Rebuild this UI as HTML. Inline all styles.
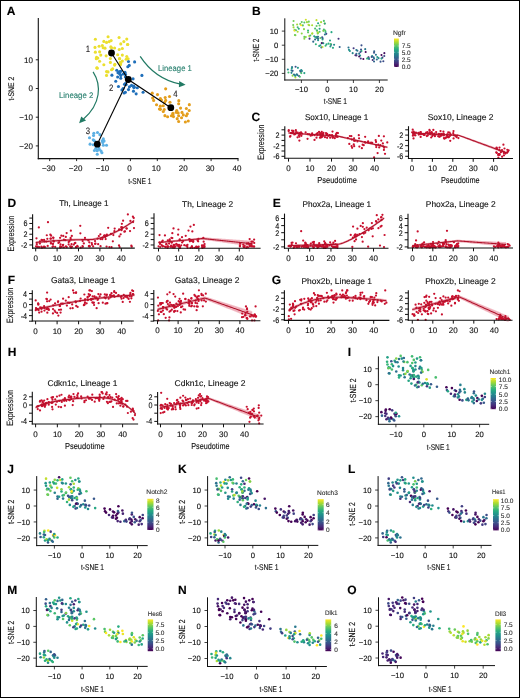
<!DOCTYPE html>
<html><head><meta charset="utf-8"><style>
html,body{margin:0;padding:0;background:#fff;}
body{width:520px;height:698px;overflow:hidden;position:relative;font-family:"Liberation Sans",sans-serif;}
svg{display:block;position:absolute;left:0;top:0;will-change:transform;text-rendering:geometricPrecision;}
.bd{position:absolute;background:#000;}
</style></head><body>
<svg width="520" height="698" viewBox="0 0 520 698" font-family="Liberation Sans, sans-serif">
<rect x="0" y="0" width="520" height="698" fill="#fff"/>
<text x="6.80" y="15.20" font-size="12" text-anchor="start" fill="#000" stroke="#000" stroke-width="0.12" font-weight="bold">A</text>
<circle cx="95.38" cy="39.31" r="1.55" fill="#ebdf2e"/>
<circle cx="108.08" cy="36.77" r="1.55" fill="#ebdf2e"/>
<circle cx="119.08" cy="37.54" r="1.55" fill="#ebdf2e"/>
<circle cx="126.77" cy="39.08" r="1.55" fill="#ebdf2e"/>
<circle cx="103.85" cy="41.38" r="1.55" fill="#ebdf2e"/>
<circle cx="106.54" cy="42.38" r="1.55" fill="#ebdf2e"/>
<circle cx="109.23" cy="41.62" r="1.55" fill="#ebdf2e"/>
<circle cx="111.15" cy="40.62" r="1.55" fill="#ebdf2e"/>
<circle cx="123.85" cy="41.62" r="1.55" fill="#ebdf2e"/>
<circle cx="120.77" cy="43.92" r="1.55" fill="#ebdf2e"/>
<circle cx="127.54" cy="44.46" r="1.55" fill="#ebdf2e"/>
<circle cx="95.00" cy="47.38" r="1.55" fill="#ebdf2e"/>
<circle cx="99.08" cy="46.23" r="1.55" fill="#ebdf2e"/>
<circle cx="102.31" cy="45.46" r="1.55" fill="#ebdf2e"/>
<circle cx="105.00" cy="48.15" r="1.55" fill="#ebdf2e"/>
<circle cx="111.54" cy="47.77" r="1.55" fill="#ebdf2e"/>
<circle cx="114.62" cy="48.00" r="1.55" fill="#ebdf2e"/>
<circle cx="119.23" cy="49.54" r="1.55" fill="#ebdf2e"/>
<circle cx="122.31" cy="48.54" r="1.55" fill="#ebdf2e"/>
<circle cx="95.38" cy="52.15" r="1.55" fill="#ebdf2e"/>
<circle cx="99.62" cy="51.85" r="1.55" fill="#ebdf2e"/>
<circle cx="100.77" cy="55.08" r="1.55" fill="#ebdf2e"/>
<circle cx="106.15" cy="55.85" r="1.55" fill="#ebdf2e"/>
<circle cx="117.69" cy="54.69" r="1.55" fill="#ebdf2e"/>
<circle cx="122.31" cy="55.08" r="1.55" fill="#ebdf2e"/>
<circle cx="126.77" cy="56.46" r="1.55" fill="#ebdf2e"/>
<circle cx="96.54" cy="57.38" r="1.55" fill="#ebdf2e"/>
<circle cx="110.38" cy="58.54" r="1.55" fill="#ebdf2e"/>
<circle cx="119.62" cy="58.54" r="1.55" fill="#ebdf2e"/>
<circle cx="126.15" cy="59.31" r="1.55" fill="#ebdf2e"/>
<circle cx="99.62" cy="61.23" r="1.55" fill="#ebdf2e"/>
<circle cx="110.38" cy="62.38" r="1.55" fill="#ebdf2e"/>
<circle cx="122.31" cy="61.08" r="1.55" fill="#ebdf2e"/>
<circle cx="103.85" cy="64.69" r="1.55" fill="#ebdf2e"/>
<circle cx="114.62" cy="65.08" r="1.55" fill="#ebdf2e"/>
<circle cx="120.38" cy="64.69" r="1.55" fill="#ebdf2e"/>
<circle cx="97.31" cy="68.15" r="1.55" fill="#ebdf2e"/>
<circle cx="111.54" cy="69.69" r="1.55" fill="#ebdf2e"/>
<circle cx="106.54" cy="71.62" r="1.55" fill="#ebdf2e"/>
<circle cx="112.69" cy="68.85" r="1.55" fill="#ebdf2e"/>
<circle cx="106.54" cy="75.38" r="1.55" fill="#ebdf2e"/>
<circle cx="116.77" cy="70.23" r="1.55" fill="#1f6fba"/>
<circle cx="120.00" cy="71.54" r="1.55" fill="#1f6fba"/>
<circle cx="125.00" cy="72.31" r="1.55" fill="#1f6fba"/>
<circle cx="119.62" cy="73.85" r="1.55" fill="#1f6fba"/>
<circle cx="120.77" cy="75.38" r="1.55" fill="#1f6fba"/>
<circle cx="111.92" cy="75.15" r="1.55" fill="#1f6fba"/>
<circle cx="120.77" cy="78.23" r="1.55" fill="#1f6fba"/>
<circle cx="125.38" cy="76.92" r="1.55" fill="#1f6fba"/>
<circle cx="115.77" cy="81.31" r="1.55" fill="#1f6fba"/>
<circle cx="125.38" cy="83.46" r="1.55" fill="#1f6fba"/>
<circle cx="118.46" cy="86.54" r="1.55" fill="#1f6fba"/>
<circle cx="123.08" cy="88.46" r="1.55" fill="#1f6fba"/>
<circle cx="121.92" cy="90.00" r="1.55" fill="#1f6fba"/>
<circle cx="128.46" cy="89.62" r="1.55" fill="#1f6fba"/>
<circle cx="129.23" cy="65.38" r="1.55" fill="#1f6fba"/>
<circle cx="128.46" cy="61.54" r="1.55" fill="#1f6fba"/>
<circle cx="134.62" cy="61.92" r="1.55" fill="#1f6fba"/>
<circle cx="141.92" cy="75.38" r="1.55" fill="#1f6fba"/>
<circle cx="133.08" cy="78.85" r="1.55" fill="#1f6fba"/>
<circle cx="126.15" cy="84.62" r="1.55" fill="#1f6fba"/>
<circle cx="131.54" cy="85.38" r="1.55" fill="#1f6fba"/>
<circle cx="134.23" cy="87.31" r="1.55" fill="#1f6fba"/>
<circle cx="137.31" cy="87.69" r="1.55" fill="#1f6fba"/>
<circle cx="133.46" cy="91.15" r="1.55" fill="#1f6fba"/>
<circle cx="143.08" cy="92.31" r="1.55" fill="#1f6fba"/>
<circle cx="136.15" cy="93.85" r="1.55" fill="#1f6fba"/>
<circle cx="165.67" cy="88.85" r="1.55" fill="#e49e1c"/>
<circle cx="152.21" cy="93.17" r="1.55" fill="#e49e1c"/>
<circle cx="157.50" cy="94.62" r="1.55" fill="#e49e1c"/>
<circle cx="152.69" cy="97.98" r="1.55" fill="#e49e1c"/>
<circle cx="160.38" cy="98.46" r="1.55" fill="#e49e1c"/>
<circle cx="165.19" cy="97.50" r="1.55" fill="#e49e1c"/>
<circle cx="169.52" cy="96.54" r="1.55" fill="#e49e1c"/>
<circle cx="153.65" cy="100.38" r="1.55" fill="#e49e1c"/>
<circle cx="165.67" cy="100.38" r="1.55" fill="#e49e1c"/>
<circle cx="170.00" cy="102.31" r="1.55" fill="#e49e1c"/>
<circle cx="156.54" cy="104.71" r="1.55" fill="#e49e1c"/>
<circle cx="160.38" cy="106.15" r="1.55" fill="#e49e1c"/>
<circle cx="178.65" cy="103.75" r="1.55" fill="#e49e1c"/>
<circle cx="159.42" cy="109.04" r="1.55" fill="#e49e1c"/>
<circle cx="164.23" cy="109.52" r="1.55" fill="#e49e1c"/>
<circle cx="163.27" cy="111.44" r="1.55" fill="#e49e1c"/>
<circle cx="180.58" cy="108.08" r="1.55" fill="#e49e1c"/>
<circle cx="176.73" cy="110.48" r="1.55" fill="#e49e1c"/>
<circle cx="186.35" cy="108.56" r="1.55" fill="#e49e1c"/>
<circle cx="189.23" cy="110.48" r="1.55" fill="#e49e1c"/>
<circle cx="172.88" cy="113.37" r="1.55" fill="#e49e1c"/>
<circle cx="178.17" cy="112.88" r="1.55" fill="#e49e1c"/>
<circle cx="182.02" cy="112.40" r="1.55" fill="#e49e1c"/>
<circle cx="171.44" cy="115.77" r="1.55" fill="#e49e1c"/>
<circle cx="167.60" cy="116.73" r="1.55" fill="#e49e1c"/>
<circle cx="187.31" cy="113.85" r="1.55" fill="#e49e1c"/>
<circle cx="178.65" cy="115.77" r="1.55" fill="#e49e1c"/>
<circle cx="186.35" cy="115.77" r="1.55" fill="#e49e1c"/>
<circle cx="181.54" cy="117.69" r="1.55" fill="#e49e1c"/>
<circle cx="177.21" cy="118.65" r="1.55" fill="#e49e1c"/>
<circle cx="178.65" cy="121.54" r="1.55" fill="#e49e1c"/>
<circle cx="185.38" cy="122.02" r="1.55" fill="#e49e1c"/>
<circle cx="188.27" cy="121.06" r="1.55" fill="#e49e1c"/>
<circle cx="93.83" cy="133.19" r="1.55" fill="#5cb0e4"/>
<circle cx="93.54" cy="135.50" r="1.55" fill="#5cb0e4"/>
<circle cx="99.89" cy="134.64" r="1.55" fill="#5cb0e4"/>
<circle cx="89.50" cy="137.81" r="1.55" fill="#5cb0e4"/>
<circle cx="93.25" cy="139.83" r="1.55" fill="#5cb0e4"/>
<circle cx="94.41" cy="140.69" r="1.55" fill="#5cb0e4"/>
<circle cx="102.20" cy="140.69" r="1.55" fill="#5cb0e4"/>
<circle cx="90.08" cy="144.16" r="1.55" fill="#5cb0e4"/>
<circle cx="93.25" cy="144.73" r="1.55" fill="#5cb0e4"/>
<circle cx="102.77" cy="142.43" r="1.55" fill="#5cb0e4"/>
<circle cx="103.35" cy="145.31" r="1.55" fill="#5cb0e4"/>
<circle cx="106.52" cy="145.31" r="1.55" fill="#5cb0e4"/>
<circle cx="94.41" cy="150.50" r="1.55" fill="#5cb0e4"/>
<circle cx="97.00" cy="149.93" r="1.55" fill="#5cb0e4"/>
<circle cx="99.31" cy="149.35" r="1.55" fill="#5cb0e4"/>
<circle cx="101.04" cy="151.08" r="1.55" fill="#5cb0e4"/>
<circle cx="101.91" cy="152.81" r="1.55" fill="#5cb0e4"/>
<circle cx="97.29" cy="154.26" r="1.55" fill="#5cb0e4"/>
<circle cx="95.85" cy="148.20" r="1.55" fill="#5cb0e4"/>
<circle cx="98.73" cy="147.62" r="1.55" fill="#5cb0e4"/>
<circle cx="163.25" cy="105.72" r="1.55" fill="#e49e1c"/>
<circle cx="97.80" cy="58.10" r="1.55" fill="#ebdf2e"/>
<circle cx="104.06" cy="140.93" r="1.55" fill="#5cb0e4"/>
<circle cx="118.67" cy="72.05" r="1.55" fill="#1f6fba"/>
<circle cx="173.49" cy="116.61" r="1.55" fill="#e49e1c"/>
<circle cx="172.91" cy="114.44" r="1.55" fill="#e49e1c"/>
<circle cx="103.35" cy="138.92" r="1.55" fill="#5cb0e4"/>
<circle cx="110.83" cy="46.88" r="1.55" fill="#ebdf2e"/>
<circle cx="127.82" cy="66.73" r="1.55" fill="#1f6fba"/>
<circle cx="108.04" cy="71.88" r="1.55" fill="#ebdf2e"/>
<circle cx="124.52" cy="84.34" r="1.55" fill="#1f6fba"/>
<circle cx="97.51" cy="132.50" r="1.55" fill="#5cb0e4"/>
<circle cx="114.84" cy="64.18" r="1.55" fill="#ebdf2e"/>
<circle cx="133.91" cy="87.57" r="1.55" fill="#1f6fba"/>
<circle cx="129.44" cy="86.87" r="1.55" fill="#1f6fba"/>
<circle cx="161.47" cy="99.94" r="1.55" fill="#e49e1c"/>
<circle cx="123.13" cy="73.98" r="1.55" fill="#1f6fba"/>
<circle cx="117.99" cy="72.72" r="1.55" fill="#1f6fba"/>
<circle cx="183.31" cy="114.90" r="1.55" fill="#e49e1c"/>
<circle cx="164.59" cy="102.39" r="1.55" fill="#e49e1c"/>
<circle cx="119.42" cy="58.73" r="1.55" fill="#ebdf2e"/>
<circle cx="125.46" cy="74.22" r="1.55" fill="#1f6fba"/>
<circle cx="160.43" cy="109.35" r="1.55" fill="#e49e1c"/>
<circle cx="189.32" cy="104.63" r="1.55" fill="#e49e1c"/>
<circle cx="164.92" cy="115.63" r="1.55" fill="#e49e1c"/>
<circle cx="96.77" cy="67.86" r="1.55" fill="#ebdf2e"/>
<circle cx="178.81" cy="100.67" r="1.55" fill="#e49e1c"/>
<circle cx="128.11" cy="58.70" r="1.55" fill="#ebdf2e"/>
<circle cx="127.73" cy="44.51" r="1.55" fill="#ebdf2e"/>
<circle cx="176.24" cy="112.36" r="1.55" fill="#e49e1c"/>
<circle cx="97.24" cy="150.74" r="1.55" fill="#5cb0e4"/>
<circle cx="133.78" cy="86.17" r="1.55" fill="#1f6fba"/>
<circle cx="120.71" cy="63.64" r="1.55" fill="#ebdf2e"/>
<circle cx="120.79" cy="71.21" r="1.55" fill="#1f6fba"/>
<circle cx="124.12" cy="92.98" r="1.55" fill="#1f6fba"/>
<circle cx="103.16" cy="47.82" r="1.55" fill="#ebdf2e"/>
<circle cx="120.28" cy="62.20" r="1.55" fill="#ebdf2e"/>
<circle cx="96.30" cy="58.82" r="1.55" fill="#ebdf2e"/>
<circle cx="125.39" cy="92.20" r="1.55" fill="#1f6fba"/>
<circle cx="117.66" cy="77.04" r="1.55" fill="#1f6fba"/>
<polyline points="111.5,53.0 128.3,79.5 170.8,107.7" fill="none" stroke="#000" stroke-width="1.1"/>
<line x1="128.30" y1="79.50" x2="97.30" y2="144.20" stroke="#000" stroke-width="1.1"/>
<circle cx="111.5" cy="53.0" r="3.4" fill="#000"/>
<circle cx="128.3" cy="79.5" r="3.4" fill="#000"/>
<circle cx="97.3" cy="144.2" r="3.4" fill="#000"/>
<circle cx="170.8" cy="107.7" r="3.4" fill="#000"/>
<text x="88.00" y="51.70" font-size="9.2" text-anchor="middle" fill="#231f20" stroke="#231f20" stroke-width="0.12" textLength="4.35" lengthAdjust="spacingAndGlyphs">1</text>
<text x="111.20" y="90.60" font-size="9.2" text-anchor="middle" fill="#231f20" stroke="#231f20" stroke-width="0.12" textLength="4.35" lengthAdjust="spacingAndGlyphs">2</text>
<text x="88.00" y="134.10" font-size="9.2" text-anchor="middle" fill="#231f20" stroke="#231f20" stroke-width="0.12" textLength="4.35" lengthAdjust="spacingAndGlyphs">3</text>
<text x="175.40" y="97.10" font-size="9.2" text-anchor="middle" fill="#231f20" stroke="#231f20" stroke-width="0.12" textLength="4.35" lengthAdjust="spacingAndGlyphs">4</text>
<path d="M140.2,56.3 Q155,79 180.5,84.1" fill="none" stroke="#227a64" stroke-width="1.2"/>
<polygon points="185.6,84.8 179.2,80.9 178.9,87.2" fill="#227a64"/>
<path d="M93.1,71.9 C101.5,85 101,104 83.5,119" fill="none" stroke="#227a64" stroke-width="1.2"/>
<polygon points="79.1,123.2 81.2,116.6 86.1,120.6" fill="#227a64"/>
<text x="174.95" y="71.00" font-size="8.2" text-anchor="middle" fill="#2a8170" stroke="#2a8170" stroke-width="0.12" textLength="33.70" lengthAdjust="spacingAndGlyphs">Lineage 1</text>
<text x="76.15" y="97.60" font-size="8.2" text-anchor="middle" fill="#2a8170" stroke="#2a8170" stroke-width="0.12" textLength="34.30" lengthAdjust="spacingAndGlyphs">Lineage 2</text>
<line x1="38.30" y1="18.00" x2="38.30" y2="159.15" stroke="#111" stroke-width="1.1"/>
<line x1="37.75" y1="158.60" x2="238.50" y2="158.60" stroke="#111" stroke-width="1.1"/>
<line x1="35.80" y1="59.80" x2="38.30" y2="59.80" stroke="#111" stroke-width="0.9"/>
<text x="32.90" y="62.68" font-size="8.0" text-anchor="end" fill="#111" stroke="#111" stroke-width="0.12">10</text>
<line x1="35.80" y1="88.50" x2="38.30" y2="88.50" stroke="#111" stroke-width="0.9"/>
<text x="32.90" y="91.38" font-size="8.0" text-anchor="end" fill="#111" stroke="#111" stroke-width="0.12">0</text>
<line x1="35.80" y1="117.20" x2="38.30" y2="117.20" stroke="#111" stroke-width="0.9"/>
<text x="32.90" y="120.08" font-size="8.0" text-anchor="end" fill="#111" stroke="#111" stroke-width="0.12">−10</text>
<line x1="35.80" y1="145.90" x2="38.30" y2="145.90" stroke="#111" stroke-width="0.9"/>
<text x="32.90" y="148.78" font-size="8.0" text-anchor="end" fill="#111" stroke="#111" stroke-width="0.12">−20</text>
<line x1="49.70" y1="158.60" x2="49.70" y2="161.10" stroke="#111" stroke-width="0.9"/>
<text x="48.70" y="171.00" font-size="8.0" text-anchor="middle" fill="#111" stroke="#111" stroke-width="0.12">−30</text>
<line x1="76.60" y1="158.60" x2="76.60" y2="161.10" stroke="#111" stroke-width="0.9"/>
<text x="75.60" y="171.00" font-size="8.0" text-anchor="middle" fill="#111" stroke="#111" stroke-width="0.12">−20</text>
<line x1="103.50" y1="158.60" x2="103.50" y2="161.10" stroke="#111" stroke-width="0.9"/>
<text x="102.50" y="171.00" font-size="8.0" text-anchor="middle" fill="#111" stroke="#111" stroke-width="0.12">−10</text>
<line x1="130.40" y1="158.60" x2="130.40" y2="161.10" stroke="#111" stroke-width="0.9"/>
<text x="129.40" y="171.00" font-size="8.0" text-anchor="middle" fill="#111" stroke="#111" stroke-width="0.12">0</text>
<line x1="157.30" y1="158.60" x2="157.30" y2="161.10" stroke="#111" stroke-width="0.9"/>
<text x="156.30" y="171.00" font-size="8.0" text-anchor="middle" fill="#111" stroke="#111" stroke-width="0.12">10</text>
<line x1="184.20" y1="158.60" x2="184.20" y2="161.10" stroke="#111" stroke-width="0.9"/>
<text x="183.20" y="171.00" font-size="8.0" text-anchor="middle" fill="#111" stroke="#111" stroke-width="0.12">20</text>
<line x1="211.10" y1="158.60" x2="211.10" y2="161.10" stroke="#111" stroke-width="0.9"/>
<text x="210.10" y="171.00" font-size="8.0" text-anchor="middle" fill="#111" stroke="#111" stroke-width="0.12">30</text>
<line x1="238.00" y1="158.60" x2="238.00" y2="161.10" stroke="#111" stroke-width="0.9"/>
<text x="237.00" y="171.00" font-size="8.0" text-anchor="middle" fill="#111" stroke="#111" stroke-width="0.12">40</text>
<text x="139.85" y="183.60" font-size="8.2" text-anchor="middle" fill="#111" stroke="#111" stroke-width="0.12" textLength="23.30" lengthAdjust="spacingAndGlyphs">t-SNE 1</text>
<text x="13.90" y="88.65" font-size="8.2" text-anchor="middle" fill="#111" stroke="#111" stroke-width="0.12" textLength="23.90" lengthAdjust="spacingAndGlyphs" transform="rotate(-90 13.90 88.65)">t-SNE 2</text>
<text x="251.90" y="15.00" font-size="12" text-anchor="start" fill="#000" stroke="#000" stroke-width="0.12" font-weight="bold">B</text>
<circle cx="293.56" cy="21.03" r="1.05" fill="#74ce54"/>
<circle cx="305.82" cy="19.79" r="1.05" fill="#cfe12c"/>
<circle cx="316.46" cy="20.16" r="1.05" fill="#c5e02e"/>
<circle cx="323.89" cy="20.92" r="1.05" fill="#53c468"/>
<circle cx="301.73" cy="22.05" r="1.05" fill="#5dc862"/>
<circle cx="304.34" cy="22.54" r="1.05" fill="#52c368"/>
<circle cx="306.94" cy="22.17" r="1.05" fill="#98d73d"/>
<circle cx="308.80" cy="21.67" r="1.05" fill="#6ecd58"/>
<circle cx="321.07" cy="22.17" r="1.05" fill="#a4da36"/>
<circle cx="318.09" cy="23.30" r="1.05" fill="#25a485"/>
<circle cx="324.63" cy="23.56" r="1.05" fill="#dee32a"/>
<circle cx="293.18" cy="25.00" r="1.05" fill="#6bcc5a"/>
<circle cx="297.12" cy="24.43" r="1.05" fill="#9fd939"/>
<circle cx="300.25" cy="24.06" r="1.05" fill="#68cb5b"/>
<circle cx="302.85" cy="25.38" r="1.05" fill="#59c765"/>
<circle cx="309.17" cy="25.19" r="1.05" fill="#91d542"/>
<circle cx="312.14" cy="25.30" r="1.05" fill="#a9dc33"/>
<circle cx="316.60" cy="26.06" r="1.05" fill="#64ca5e"/>
<circle cx="319.58" cy="25.57" r="1.05" fill="#67cb5c"/>
<circle cx="293.56" cy="27.34" r="1.05" fill="#a0d939"/>
<circle cx="297.65" cy="27.19" r="1.05" fill="#43bb71"/>
<circle cx="298.76" cy="28.78" r="1.05" fill="#27ac81"/>
<circle cx="303.97" cy="29.16" r="1.05" fill="#8cd445"/>
<circle cx="315.12" cy="28.59" r="1.05" fill="#4cc06c"/>
<circle cx="319.58" cy="28.78" r="1.05" fill="#25a286"/>
<circle cx="323.89" cy="29.46" r="1.05" fill="#45bc70"/>
<circle cx="294.67" cy="29.91" r="1.05" fill="#55c567"/>
<circle cx="308.05" cy="30.48" r="1.05" fill="#34b47a"/>
<circle cx="316.98" cy="30.48" r="1.05" fill="#27ad81"/>
<circle cx="323.30" cy="30.86" r="1.05" fill="#74ce54"/>
<circle cx="297.65" cy="31.80" r="1.05" fill="#aedd31"/>
<circle cx="308.05" cy="32.37" r="1.05" fill="#62c95f"/>
<circle cx="319.58" cy="31.73" r="1.05" fill="#49be6e"/>
<circle cx="301.73" cy="33.50" r="1.05" fill="#8bd445"/>
<circle cx="312.14" cy="33.69" r="1.05" fill="#a2da37"/>
<circle cx="317.72" cy="33.50" r="1.05" fill="#5dc862"/>
<circle cx="295.41" cy="35.20" r="1.05" fill="#96d73f"/>
<circle cx="309.17" cy="35.96" r="1.05" fill="#b8de30"/>
<circle cx="304.34" cy="36.90" r="1.05" fill="#63ca5e"/>
<circle cx="310.28" cy="35.54" r="1.05" fill="#45bc70"/>
<circle cx="304.34" cy="38.76" r="1.05" fill="#89d347"/>
<circle cx="314.23" cy="36.22" r="1.05" fill="#239989"/>
<circle cx="317.35" cy="36.87" r="1.05" fill="#49be6e"/>
<circle cx="322.18" cy="37.24" r="1.05" fill="#3c4e89"/>
<circle cx="316.98" cy="38.00" r="1.05" fill="#2e6d8e"/>
<circle cx="318.09" cy="38.76" r="1.05" fill="#32648d"/>
<circle cx="309.54" cy="38.64" r="1.05" fill="#45337d"/>
<circle cx="318.09" cy="40.15" r="1.05" fill="#22938c"/>
<circle cx="322.55" cy="39.51" r="1.05" fill="#25a684"/>
<circle cx="313.26" cy="41.67" r="1.05" fill="#30698d"/>
<circle cx="322.55" cy="42.72" r="1.05" fill="#63ca5e"/>
<circle cx="315.86" cy="44.24" r="1.05" fill="#32b37b"/>
<circle cx="320.32" cy="45.18" r="1.05" fill="#26aa82"/>
<circle cx="319.21" cy="45.94" r="1.05" fill="#24a086"/>
<circle cx="325.53" cy="45.75" r="1.05" fill="#3db874"/>
<circle cx="326.27" cy="33.84" r="1.05" fill="#3d4b88"/>
<circle cx="325.53" cy="31.95" r="1.05" fill="#26aa82"/>
<circle cx="331.47" cy="32.14" r="1.05" fill="#26a983"/>
<circle cx="338.54" cy="38.76" r="1.05" fill="#45327d"/>
<circle cx="329.99" cy="40.46" r="1.05" fill="#249e87"/>
<circle cx="323.30" cy="43.29" r="1.05" fill="#26818d"/>
<circle cx="328.50" cy="43.67" r="1.05" fill="#2fb17d"/>
<circle cx="331.10" cy="44.61" r="1.05" fill="#29788e"/>
<circle cx="334.08" cy="44.80" r="1.05" fill="#228d8d"/>
<circle cx="330.36" cy="46.50" r="1.05" fill="#249d87"/>
<circle cx="339.65" cy="47.07" r="1.05" fill="#33638d"/>
<circle cx="332.96" cy="47.83" r="1.05" fill="#26a983"/>
<circle cx="361.49" cy="45.37" r="1.05" fill="#3b528b"/>
<circle cx="348.48" cy="47.50" r="1.05" fill="#2c708e"/>
<circle cx="353.59" cy="48.20" r="1.05" fill="#423a80"/>
<circle cx="348.95" cy="49.86" r="1.05" fill="#228d8d"/>
<circle cx="356.38" cy="50.09" r="1.05" fill="#2a768e"/>
<circle cx="361.03" cy="49.62" r="1.05" fill="#3c4e8a"/>
<circle cx="365.21" cy="49.15" r="1.05" fill="#2a778e"/>
<circle cx="349.88" cy="51.04" r="1.05" fill="#22958b"/>
<circle cx="361.49" cy="51.04" r="1.05" fill="#27ad81"/>
<circle cx="365.68" cy="51.98" r="1.05" fill="#440154"/>
<circle cx="352.66" cy="53.16" r="1.05" fill="#26838d"/>
<circle cx="356.38" cy="53.87" r="1.05" fill="#2d6f8e"/>
<circle cx="374.04" cy="52.69" r="1.05" fill="#3a538b"/>
<circle cx="355.45" cy="55.29" r="1.05" fill="#461c6b"/>
<circle cx="360.10" cy="55.53" r="1.05" fill="#22958b"/>
<circle cx="359.17" cy="56.47" r="1.05" fill="#450a5c"/>
<circle cx="375.90" cy="54.82" r="1.05" fill="#2b748e"/>
<circle cx="372.18" cy="56.00" r="1.05" fill="#22978a"/>
<circle cx="381.47" cy="55.05" r="1.05" fill="#440154"/>
<circle cx="384.26" cy="56.00" r="1.05" fill="#3e4786"/>
<circle cx="368.46" cy="57.42" r="1.05" fill="#440759"/>
<circle cx="373.57" cy="57.18" r="1.05" fill="#32648d"/>
<circle cx="377.29" cy="56.94" r="1.05" fill="#24a186"/>
<circle cx="367.07" cy="58.60" r="1.05" fill="#3bb776"/>
<circle cx="363.35" cy="59.07" r="1.05" fill="#440154"/>
<circle cx="382.40" cy="57.65" r="1.05" fill="#43377f"/>
<circle cx="374.04" cy="58.60" r="1.05" fill="#297a8e"/>
<circle cx="381.47" cy="58.60" r="1.05" fill="#25a485"/>
<circle cx="376.83" cy="59.54" r="1.05" fill="#2e6c8e"/>
<circle cx="372.65" cy="60.01" r="1.05" fill="#472d7a"/>
<circle cx="374.04" cy="61.43" r="1.05" fill="#31668d"/>
<circle cx="380.54" cy="61.67" r="1.05" fill="#38568c"/>
<circle cx="383.33" cy="61.20" r="1.05" fill="#3c4c89"/>
<circle cx="292.05" cy="67.16" r="1.05" fill="#2c718e"/>
<circle cx="291.77" cy="68.29" r="1.05" fill="#239c88"/>
<circle cx="297.91" cy="67.87" r="1.05" fill="#239989"/>
<circle cx="287.87" cy="69.43" r="1.05" fill="#238a8d"/>
<circle cx="291.50" cy="70.42" r="1.05" fill="#25858d"/>
<circle cx="292.61" cy="70.84" r="1.05" fill="#365b8c"/>
<circle cx="300.14" cy="70.84" r="1.05" fill="#297b8e"/>
<circle cx="288.43" cy="72.54" r="1.05" fill="#3eb974"/>
<circle cx="291.50" cy="72.83" r="1.05" fill="#24868d"/>
<circle cx="300.70" cy="71.69" r="1.05" fill="#39558b"/>
<circle cx="301.26" cy="73.11" r="1.05" fill="#47bd6f"/>
<circle cx="304.32" cy="73.11" r="1.05" fill="#25a186"/>
<circle cx="292.61" cy="75.66" r="1.05" fill="#88d347"/>
<circle cx="295.12" cy="75.38" r="1.05" fill="#21908d"/>
<circle cx="297.35" cy="75.10" r="1.05" fill="#287c8e"/>
<circle cx="299.02" cy="75.95" r="1.05" fill="#39548b"/>
<circle cx="299.86" cy="76.80" r="1.05" fill="#46bd70"/>
<circle cx="295.40" cy="77.50" r="1.05" fill="#b6de30"/>
<circle cx="294.00" cy="74.53" r="1.05" fill="#2e6e8e"/>
<circle cx="296.79" cy="74.24" r="1.05" fill="#2b748e"/>
<circle cx="359.15" cy="53.66" r="1.05" fill="#2b758e"/>
<circle cx="295.90" cy="30.27" r="1.05" fill="#45bc70"/>
<circle cx="301.94" cy="70.96" r="1.05" fill="#26838d"/>
<circle cx="316.07" cy="37.12" r="1.05" fill="#287d8e"/>
<circle cx="369.05" cy="59.01" r="1.05" fill="#34618c"/>
<circle cx="368.49" cy="57.94" r="1.05" fill="#228d8d"/>
<circle cx="301.26" cy="69.97" r="1.05" fill="#228e8d"/>
<circle cx="308.49" cy="24.75" r="1.05" fill="#b0dd31"/>
<circle cx="324.91" cy="34.50" r="1.05" fill="#29798e"/>
<circle cx="305.79" cy="37.03" r="1.05" fill="#87d348"/>
<circle cx="321.72" cy="43.15" r="1.05" fill="#46196a"/>
<circle cx="295.61" cy="66.82" r="1.05" fill="#39548b"/>
<circle cx="312.36" cy="33.25" r="1.05" fill="#a7db34"/>
<circle cx="330.80" cy="44.74" r="1.05" fill="#2c718e"/>
<circle cx="326.47" cy="44.40" r="1.05" fill="#26a883"/>
<circle cx="357.43" cy="50.82" r="1.05" fill="#2b728e"/>
<circle cx="320.38" cy="38.07" r="1.05" fill="#5cc863"/>
<circle cx="315.40" cy="37.45" r="1.05" fill="#31b27b"/>
<circle cx="378.54" cy="58.17" r="1.05" fill="#238a8d"/>
<circle cx="360.45" cy="52.02" r="1.05" fill="#3b528b"/>
<circle cx="316.79" cy="30.57" r="1.05" fill="#4bbf6d"/>
<circle cx="322.62" cy="38.18" r="1.05" fill="#2f6a8d"/>
<circle cx="356.42" cy="55.45" r="1.05" fill="#423c81"/>
<circle cx="384.35" cy="53.13" r="1.05" fill="#451364"/>
<circle cx="360.77" cy="58.53" r="1.05" fill="#433880"/>
<circle cx="294.90" cy="35.06" r="1.05" fill="#6bcc59"/>
<circle cx="374.19" cy="51.18" r="1.05" fill="#32648d"/>
<circle cx="325.19" cy="30.56" r="1.05" fill="#5bc864"/>
<circle cx="324.82" cy="23.59" r="1.05" fill="#25a286"/>
<circle cx="371.71" cy="56.92" r="1.05" fill="#3a548b"/>
<circle cx="295.35" cy="75.78" r="1.05" fill="#22968b"/>
<circle cx="330.66" cy="44.05" r="1.05" fill="#48be6e"/>
<circle cx="318.04" cy="32.99" r="1.05" fill="#98d73d"/>
<circle cx="318.11" cy="36.70" r="1.05" fill="#2d6e8e"/>
<circle cx="321.33" cy="47.40" r="1.05" fill="#2f6a8d"/>
<circle cx="301.07" cy="25.22" r="1.05" fill="#fde725"/>
<circle cx="317.62" cy="32.28" r="1.05" fill="#a4db36"/>
<circle cx="294.44" cy="30.62" r="1.05" fill="#f1e527"/>
<circle cx="322.55" cy="47.02" r="1.05" fill="#c0df2f"/>
<circle cx="315.09" cy="39.57" r="1.05" fill="#31658d"/>
<line x1="284.80" y1="18.30" x2="284.80" y2="80.50" stroke="#111" stroke-width="1"/>
<line x1="284.30" y1="80.00" x2="387.70" y2="80.00" stroke="#111" stroke-width="1"/>
<line x1="281.80" y1="31.10" x2="284.80" y2="31.10" stroke="#111" stroke-width="0.8"/>
<text x="278.20" y="33.87" font-size="7.7" text-anchor="end" fill="#111" stroke="#111" stroke-width="0.12">10</text>
<line x1="281.80" y1="45.20" x2="284.80" y2="45.20" stroke="#111" stroke-width="0.8"/>
<text x="278.20" y="47.97" font-size="7.7" text-anchor="end" fill="#111" stroke="#111" stroke-width="0.12">0</text>
<line x1="281.80" y1="59.30" x2="284.80" y2="59.30" stroke="#111" stroke-width="0.8"/>
<text x="278.20" y="62.07" font-size="7.7" text-anchor="end" fill="#111" stroke="#111" stroke-width="0.12">−10</text>
<line x1="281.80" y1="73.40" x2="284.80" y2="73.40" stroke="#111" stroke-width="0.8"/>
<text x="278.20" y="76.17" font-size="7.7" text-anchor="end" fill="#111" stroke="#111" stroke-width="0.12">−20</text>
<line x1="301.40" y1="80.00" x2="301.40" y2="83.00" stroke="#111" stroke-width="0.8"/>
<text x="301.40" y="92.30" font-size="7.7" text-anchor="middle" fill="#111" stroke="#111" stroke-width="0.12">−10</text>
<line x1="327.40" y1="80.00" x2="327.40" y2="83.00" stroke="#111" stroke-width="0.8"/>
<text x="327.40" y="92.30" font-size="7.7" text-anchor="middle" fill="#111" stroke="#111" stroke-width="0.12">0</text>
<line x1="353.40" y1="80.00" x2="353.40" y2="83.00" stroke="#111" stroke-width="0.8"/>
<text x="353.40" y="92.30" font-size="7.7" text-anchor="middle" fill="#111" stroke="#111" stroke-width="0.12">10</text>
<line x1="379.40" y1="80.00" x2="379.40" y2="83.00" stroke="#111" stroke-width="0.8"/>
<text x="379.40" y="92.30" font-size="7.7" text-anchor="middle" fill="#111" stroke="#111" stroke-width="0.12">20</text>
<text x="335.40" y="103.80" font-size="8.2" text-anchor="middle" fill="#111" stroke="#111" stroke-width="0.12" textLength="23.20" lengthAdjust="spacingAndGlyphs">t-SNE 1</text>
<text x="258.90" y="50.00" font-size="8.8" text-anchor="middle" fill="#111" stroke="#111" stroke-width="0.12" textLength="23.00" lengthAdjust="spacingAndGlyphs" transform="rotate(-90 258.90 50.00)">t-SNE 2</text>
<defs><linearGradient id="gB" x1="0" y1="1" x2="0" y2="0"><stop offset="0.0" stop-color="#440154"/><stop offset="0.125" stop-color="#472c7a"/><stop offset="0.25" stop-color="#3b518b"/><stop offset="0.375" stop-color="#2c718e"/><stop offset="0.5" stop-color="#21908d"/><stop offset="0.625" stop-color="#27ad81"/><stop offset="0.75" stop-color="#5cc863"/><stop offset="0.875" stop-color="#aadc32"/><stop offset="1.0" stop-color="#fde725"/></linearGradient></defs>
<rect x="394" y="38.5" width="4.80" height="28.50" fill="url(#gB)"/>
<line x1="394.00" y1="46.00" x2="395.20" y2="46.00" stroke="#fff" stroke-width="0.4"/>
<line x1="397.60" y1="46.00" x2="398.80" y2="46.00" stroke="#fff" stroke-width="0.4"/>
<text x="401.70" y="48.34" font-size="6.5" text-anchor="start" fill="#333" stroke="#333" stroke-width="0.12">7.5</text>
<line x1="394.00" y1="52.30" x2="395.20" y2="52.30" stroke="#fff" stroke-width="0.4"/>
<line x1="397.60" y1="52.30" x2="398.80" y2="52.30" stroke="#fff" stroke-width="0.4"/>
<text x="401.70" y="54.64" font-size="6.5" text-anchor="start" fill="#333" stroke="#333" stroke-width="0.12">5.0</text>
<line x1="394.00" y1="59.20" x2="395.20" y2="59.20" stroke="#fff" stroke-width="0.4"/>
<line x1="397.60" y1="59.20" x2="398.80" y2="59.20" stroke="#fff" stroke-width="0.4"/>
<text x="401.70" y="61.54" font-size="6.5" text-anchor="start" fill="#333" stroke="#333" stroke-width="0.12">2.5</text>
<line x1="394.00" y1="66.30" x2="395.20" y2="66.30" stroke="#fff" stroke-width="0.4"/>
<line x1="397.60" y1="66.30" x2="398.80" y2="66.30" stroke="#fff" stroke-width="0.4"/>
<text x="401.70" y="68.64" font-size="6.5" text-anchor="start" fill="#333" stroke="#333" stroke-width="0.12">0.0</text>
<text x="392.90" y="35.30" font-size="6.6" text-anchor="start" fill="#333" stroke="#333" stroke-width="0.12" textLength="12.90" lengthAdjust="spacingAndGlyphs">Ngfr</text>
<text x="347.80" y="355.60" font-size="12" text-anchor="start" fill="#000" stroke="#000" stroke-width="0.12" font-weight="bold">I</text>
<circle cx="387.48" cy="357.33" r="1.3" fill="#24a086"/>
<circle cx="400.65" cy="355.91" r="1.3" fill="#54c468"/>
<circle cx="412.06" cy="356.34" r="1.3" fill="#40ba73"/>
<circle cx="420.03" cy="357.20" r="1.3" fill="#3fb973"/>
<circle cx="396.26" cy="358.48" r="1.3" fill="#86d348"/>
<circle cx="399.05" cy="359.04" r="1.3" fill="#2b748e"/>
<circle cx="401.84" cy="358.61" r="1.3" fill="#238a8d"/>
<circle cx="403.84" cy="358.05" r="1.3" fill="#2d708e"/>
<circle cx="417.00" cy="358.61" r="1.3" fill="#249d88"/>
<circle cx="413.81" cy="359.90" r="1.3" fill="#51c269"/>
<circle cx="420.83" cy="360.19" r="1.3" fill="#24a086"/>
<circle cx="387.08" cy="361.82" r="1.3" fill="#30b27c"/>
<circle cx="391.31" cy="361.18" r="1.3" fill="#37598c"/>
<circle cx="394.66" cy="360.75" r="1.3" fill="#26a684"/>
<circle cx="397.46" cy="362.25" r="1.3" fill="#277f8e"/>
<circle cx="404.24" cy="362.04" r="1.3" fill="#95d73f"/>
<circle cx="407.43" cy="362.16" r="1.3" fill="#4abf6d"/>
<circle cx="412.22" cy="363.02" r="1.3" fill="#4ec16b"/>
<circle cx="415.41" cy="362.46" r="1.3" fill="#249f87"/>
<circle cx="387.48" cy="364.48" r="1.3" fill="#38b677"/>
<circle cx="391.87" cy="364.30" r="1.3" fill="#3bb776"/>
<circle cx="393.07" cy="366.10" r="1.3" fill="#22948b"/>
<circle cx="398.65" cy="366.53" r="1.3" fill="#218f8d"/>
<circle cx="410.62" cy="365.89" r="1.3" fill="#249d88"/>
<circle cx="415.41" cy="366.10" r="1.3" fill="#238b8d"/>
<circle cx="420.03" cy="366.87" r="1.3" fill="#238b8d"/>
<circle cx="388.68" cy="367.39" r="1.3" fill="#22978a"/>
<circle cx="403.04" cy="368.03" r="1.3" fill="#24868d"/>
<circle cx="412.61" cy="368.03" r="1.3" fill="#42bb72"/>
<circle cx="419.40" cy="368.46" r="1.3" fill="#32658d"/>
<circle cx="391.87" cy="369.53" r="1.3" fill="#45bd70"/>
<circle cx="403.04" cy="370.17" r="1.3" fill="#238a8d"/>
<circle cx="415.41" cy="369.44" r="1.3" fill="#228d8d"/>
<circle cx="396.26" cy="371.45" r="1.3" fill="#2d6f8e"/>
<circle cx="407.43" cy="371.67" r="1.3" fill="#239b88"/>
<circle cx="413.41" cy="371.45" r="1.3" fill="#23988a"/>
<circle cx="389.48" cy="373.38" r="1.3" fill="#26a783"/>
<circle cx="404.24" cy="374.23" r="1.3" fill="#228e8d"/>
<circle cx="399.05" cy="375.30" r="1.3" fill="#25a485"/>
<circle cx="405.43" cy="373.76" r="1.3" fill="#9ad83c"/>
<circle cx="399.05" cy="377.40" r="1.3" fill="#2baf7f"/>
<circle cx="409.66" cy="374.53" r="1.3" fill="#2e6c8e"/>
<circle cx="413.01" cy="375.26" r="1.3" fill="#3db875"/>
<circle cx="418.20" cy="375.69" r="1.3" fill="#25838d"/>
<circle cx="412.61" cy="376.55" r="1.3" fill="#26a783"/>
<circle cx="413.81" cy="377.40" r="1.3" fill="#26a883"/>
<circle cx="404.64" cy="377.27" r="1.3" fill="#2a768e"/>
<circle cx="413.81" cy="378.99" r="1.3" fill="#461a6a"/>
<circle cx="418.60" cy="378.26" r="1.3" fill="#2a788e"/>
<circle cx="408.63" cy="380.70" r="1.3" fill="#25a584"/>
<circle cx="418.60" cy="381.90" r="1.3" fill="#2a768e"/>
<circle cx="411.42" cy="383.61" r="1.3" fill="#24a086"/>
<circle cx="416.20" cy="384.68" r="1.3" fill="#3fb973"/>
<circle cx="415.01" cy="385.53" r="1.3" fill="#2e6e8e"/>
<circle cx="421.79" cy="385.32" r="1.3" fill="#55c567"/>
<circle cx="422.59" cy="371.84" r="1.3" fill="#85d349"/>
<circle cx="421.79" cy="369.70" r="1.3" fill="#48be6e"/>
<circle cx="428.17" cy="369.91" r="1.3" fill="#4fc26a"/>
<circle cx="435.75" cy="377.40" r="1.3" fill="#49be6e"/>
<circle cx="426.58" cy="379.33" r="1.3" fill="#dbe22a"/>
<circle cx="419.40" cy="382.54" r="1.3" fill="#22948c"/>
<circle cx="424.98" cy="382.97" r="1.3" fill="#238a8d"/>
<circle cx="427.77" cy="384.04" r="1.3" fill="#26a883"/>
<circle cx="430.96" cy="384.25" r="1.3" fill="#375a8c"/>
<circle cx="426.98" cy="386.18" r="1.3" fill="#45347e"/>
<circle cx="436.95" cy="386.82" r="1.3" fill="#365c8c"/>
<circle cx="429.77" cy="387.67" r="1.3" fill="#249d88"/>
<circle cx="460.38" cy="384.89" r="1.3" fill="#277f8e"/>
<circle cx="446.42" cy="387.30" r="1.3" fill="#440557"/>
<circle cx="451.91" cy="388.10" r="1.3" fill="#440154"/>
<circle cx="446.92" cy="389.98" r="1.3" fill="#39558b"/>
<circle cx="454.90" cy="390.24" r="1.3" fill="#365c8c"/>
<circle cx="459.89" cy="389.71" r="1.3" fill="#32648d"/>
<circle cx="464.37" cy="389.17" r="1.3" fill="#238a8d"/>
<circle cx="447.92" cy="391.31" r="1.3" fill="#25a584"/>
<circle cx="460.38" cy="391.31" r="1.3" fill="#2b738e"/>
<circle cx="464.87" cy="392.38" r="1.3" fill="#24878d"/>
<circle cx="450.91" cy="393.72" r="1.3" fill="#462574"/>
<circle cx="454.90" cy="394.52" r="1.3" fill="#461f6e"/>
<circle cx="473.85" cy="393.19" r="1.3" fill="#2b738e"/>
<circle cx="453.90" cy="396.13" r="1.3" fill="#23898d"/>
<circle cx="458.89" cy="396.40" r="1.3" fill="#228c8d"/>
<circle cx="457.89" cy="397.47" r="1.3" fill="#25858d"/>
<circle cx="475.84" cy="395.59" r="1.3" fill="#218f8d"/>
<circle cx="471.85" cy="396.93" r="1.3" fill="#21918d"/>
<circle cx="481.83" cy="395.86" r="1.3" fill="#440154"/>
<circle cx="484.82" cy="396.93" r="1.3" fill="#423c81"/>
<circle cx="467.86" cy="398.54" r="1.3" fill="#277e8e"/>
<circle cx="473.35" cy="398.27" r="1.3" fill="#25868d"/>
<circle cx="477.34" cy="398.00" r="1.3" fill="#440759"/>
<circle cx="466.37" cy="399.87" r="1.3" fill="#25a285"/>
<circle cx="462.38" cy="400.41" r="1.3" fill="#3c4e8a"/>
<circle cx="482.82" cy="398.80" r="1.3" fill="#375a8c"/>
<circle cx="473.85" cy="399.87" r="1.3" fill="#2b758e"/>
<circle cx="481.83" cy="399.87" r="1.3" fill="#228e8d"/>
<circle cx="476.84" cy="400.94" r="1.3" fill="#450c5e"/>
<circle cx="472.35" cy="401.48" r="1.3" fill="#239989"/>
<circle cx="473.85" cy="403.08" r="1.3" fill="#2f6a8d"/>
<circle cx="480.83" cy="403.35" r="1.3" fill="#433a80"/>
<circle cx="483.82" cy="402.82" r="1.3" fill="#38588c"/>
<circle cx="385.87" cy="409.57" r="1.3" fill="#440154"/>
<circle cx="385.57" cy="410.85" r="1.3" fill="#450c5e"/>
<circle cx="392.15" cy="410.37" r="1.3" fill="#423b81"/>
<circle cx="381.38" cy="412.14" r="1.3" fill="#45085a"/>
<circle cx="385.27" cy="413.26" r="1.3" fill="#461f6e"/>
<circle cx="386.47" cy="413.74" r="1.3" fill="#472978"/>
<circle cx="394.55" cy="413.74" r="1.3" fill="#44347e"/>
<circle cx="381.98" cy="415.67" r="1.3" fill="#33628d"/>
<circle cx="385.27" cy="415.99" r="1.3" fill="#46307c"/>
<circle cx="395.15" cy="414.71" r="1.3" fill="#462372"/>
<circle cx="395.74" cy="416.31" r="1.3" fill="#3c4d89"/>
<circle cx="399.04" cy="416.31" r="1.3" fill="#21908d"/>
<circle cx="386.47" cy="419.20" r="1.3" fill="#461e6e"/>
<circle cx="389.16" cy="418.88" r="1.3" fill="#3d4b88"/>
<circle cx="391.56" cy="418.56" r="1.3" fill="#440154"/>
<circle cx="393.35" cy="419.52" r="1.3" fill="#2c718e"/>
<circle cx="394.25" cy="420.49" r="1.3" fill="#3a538b"/>
<circle cx="389.46" cy="421.29" r="1.3" fill="#2c708e"/>
<circle cx="387.96" cy="417.92" r="1.3" fill="#462e7b"/>
<circle cx="390.96" cy="417.60" r="1.3" fill="#440154"/>
<circle cx="457.87" cy="394.28" r="1.3" fill="#22948b"/>
<circle cx="389.99" cy="367.79" r="1.3" fill="#41ba72"/>
<circle cx="396.48" cy="413.87" r="1.3" fill="#440154"/>
<circle cx="411.64" cy="375.54" r="1.3" fill="#433980"/>
<circle cx="468.49" cy="400.34" r="1.3" fill="#277e8e"/>
<circle cx="467.89" cy="399.13" r="1.3" fill="#355d8c"/>
<circle cx="395.75" cy="412.75" r="1.3" fill="#25a584"/>
<circle cx="403.50" cy="361.54" r="1.3" fill="#238b8d"/>
<circle cx="421.13" cy="372.59" r="1.3" fill="#2d6f8e"/>
<circle cx="400.61" cy="375.45" r="1.3" fill="#249d88"/>
<circle cx="417.70" cy="382.38" r="1.3" fill="#472d7a"/>
<circle cx="389.69" cy="409.18" r="1.3" fill="#440154"/>
<circle cx="407.66" cy="371.17" r="1.3" fill="#89d447"/>
<circle cx="427.45" cy="384.18" r="1.3" fill="#26838d"/>
<circle cx="422.80" cy="383.79" r="1.3" fill="#2f6a8d"/>
<circle cx="456.02" cy="391.07" r="1.3" fill="#461868"/>
<circle cx="416.26" cy="376.62" r="1.3" fill="#26a784"/>
<circle cx="410.93" cy="375.92" r="1.3" fill="#26aa82"/>
<circle cx="478.67" cy="399.39" r="1.3" fill="#2b748e"/>
<circle cx="459.26" cy="392.43" r="1.3" fill="#3b518b"/>
<circle cx="412.41" cy="368.13" r="1.3" fill="#27ab82"/>
<circle cx="418.67" cy="376.75" r="1.3" fill="#249d88"/>
<circle cx="454.94" cy="396.30" r="1.3" fill="#413f83"/>
<circle cx="484.91" cy="393.68" r="1.3" fill="#24878d"/>
<circle cx="459.61" cy="399.79" r="1.3" fill="#440154"/>
<circle cx="388.92" cy="373.22" r="1.3" fill="#2c718e"/>
<circle cx="474.01" cy="391.47" r="1.3" fill="#39568b"/>
<circle cx="421.42" cy="368.12" r="1.3" fill="#249d88"/>
<circle cx="421.03" cy="360.22" r="1.3" fill="#2a768e"/>
<circle cx="471.34" cy="397.98" r="1.3" fill="#2a788e"/>
<circle cx="389.40" cy="419.34" r="1.3" fill="#32648d"/>
<circle cx="427.30" cy="383.40" r="1.3" fill="#24a086"/>
<circle cx="413.75" cy="370.87" r="1.3" fill="#26a983"/>
<circle cx="413.84" cy="375.08" r="1.3" fill="#31b27b"/>
<circle cx="417.29" cy="387.19" r="1.3" fill="#249e87"/>
<circle cx="395.54" cy="362.07" r="1.3" fill="#2a778e"/>
<circle cx="413.31" cy="370.06" r="1.3" fill="#239989"/>
<circle cx="388.44" cy="368.18" r="1.3" fill="#67cb5c"/>
<circle cx="418.60" cy="386.76" r="1.3" fill="#3c4d89"/>
<circle cx="410.59" cy="378.32" r="1.3" fill="#228d8d"/>
<line x1="378.40" y1="356.40" x2="378.40" y2="424.80" stroke="#111" stroke-width="1"/>
<line x1="377.90" y1="424.30" x2="489.20" y2="424.30" stroke="#111" stroke-width="1"/>
<line x1="375.40" y1="368.73" x2="378.40" y2="368.73" stroke="#111" stroke-width="0.8"/>
<text x="371.80" y="371.50" font-size="7.7" text-anchor="end" fill="#111" stroke="#111" stroke-width="0.12">10</text>
<line x1="375.40" y1="384.70" x2="378.40" y2="384.70" stroke="#111" stroke-width="0.8"/>
<text x="371.80" y="387.47" font-size="7.7" text-anchor="end" fill="#111" stroke="#111" stroke-width="0.12">0</text>
<line x1="375.40" y1="400.67" x2="378.40" y2="400.67" stroke="#111" stroke-width="0.8"/>
<text x="371.80" y="403.44" font-size="7.7" text-anchor="end" fill="#111" stroke="#111" stroke-width="0.12">−10</text>
<line x1="375.40" y1="416.64" x2="378.40" y2="416.64" stroke="#111" stroke-width="0.8"/>
<text x="371.80" y="419.41" font-size="7.7" text-anchor="end" fill="#111" stroke="#111" stroke-width="0.12">−20</text>
<line x1="395.90" y1="424.30" x2="395.90" y2="427.30" stroke="#111" stroke-width="0.8"/>
<text x="395.90" y="436.60" font-size="7.7" text-anchor="middle" fill="#111" stroke="#111" stroke-width="0.12">−10</text>
<line x1="423.80" y1="424.30" x2="423.80" y2="427.30" stroke="#111" stroke-width="0.8"/>
<text x="423.80" y="436.60" font-size="7.7" text-anchor="middle" fill="#111" stroke="#111" stroke-width="0.12">0</text>
<line x1="451.70" y1="424.30" x2="451.70" y2="427.30" stroke="#111" stroke-width="0.8"/>
<text x="451.70" y="436.60" font-size="7.7" text-anchor="middle" fill="#111" stroke="#111" stroke-width="0.12">10</text>
<line x1="479.60" y1="424.30" x2="479.60" y2="427.30" stroke="#111" stroke-width="0.8"/>
<text x="479.60" y="436.60" font-size="7.7" text-anchor="middle" fill="#111" stroke="#111" stroke-width="0.12">20</text>
<text x="438.25" y="450.00" font-size="8.2" text-anchor="middle" fill="#111" stroke="#111" stroke-width="0.12" textLength="23.10" lengthAdjust="spacingAndGlyphs">t-SNE 1</text>
<text x="356.10" y="390.35" font-size="8.8" text-anchor="middle" fill="#111" stroke="#111" stroke-width="0.12" textLength="23.90" lengthAdjust="spacingAndGlyphs" transform="rotate(-90 356.10 390.35)">t-SNE 2</text>
<defs><linearGradient id="gI" x1="0" y1="1" x2="0" y2="0"><stop offset="0.0" stop-color="#440154"/><stop offset="0.125" stop-color="#472c7a"/><stop offset="0.25" stop-color="#3b518b"/><stop offset="0.375" stop-color="#2c718e"/><stop offset="0.5" stop-color="#21908d"/><stop offset="0.625" stop-color="#27ad81"/><stop offset="0.75" stop-color="#5cc863"/><stop offset="0.875" stop-color="#aadc32"/><stop offset="1.0" stop-color="#fde725"/></linearGradient></defs>
<rect x="490.6" y="378" width="5.40" height="31.20" fill="url(#gI)"/>
<line x1="490.60" y1="379.40" x2="491.80" y2="379.40" stroke="#fff" stroke-width="0.4"/>
<line x1="494.80" y1="379.40" x2="496.00" y2="379.40" stroke="#fff" stroke-width="0.4"/>
<text x="498.80" y="381.74" font-size="6.5" text-anchor="start" fill="#333" stroke="#333" stroke-width="0.12">10.0</text>
<line x1="490.60" y1="386.50" x2="491.80" y2="386.50" stroke="#fff" stroke-width="0.4"/>
<line x1="494.80" y1="386.50" x2="496.00" y2="386.50" stroke="#fff" stroke-width="0.4"/>
<text x="498.80" y="388.84" font-size="6.5" text-anchor="start" fill="#333" stroke="#333" stroke-width="0.12">7.5</text>
<line x1="490.60" y1="394.20" x2="491.80" y2="394.20" stroke="#fff" stroke-width="0.4"/>
<line x1="494.80" y1="394.20" x2="496.00" y2="394.20" stroke="#fff" stroke-width="0.4"/>
<text x="498.80" y="396.54" font-size="6.5" text-anchor="start" fill="#333" stroke="#333" stroke-width="0.12">5.0</text>
<line x1="490.60" y1="401.50" x2="491.80" y2="401.50" stroke="#fff" stroke-width="0.4"/>
<line x1="494.80" y1="401.50" x2="496.00" y2="401.50" stroke="#fff" stroke-width="0.4"/>
<text x="498.80" y="403.84" font-size="6.5" text-anchor="start" fill="#333" stroke="#333" stroke-width="0.12">2.5</text>
<line x1="490.60" y1="408.80" x2="491.80" y2="408.80" stroke="#fff" stroke-width="0.4"/>
<line x1="494.80" y1="408.80" x2="496.00" y2="408.80" stroke="#fff" stroke-width="0.4"/>
<text x="498.80" y="411.14" font-size="6.5" text-anchor="start" fill="#333" stroke="#333" stroke-width="0.12">0.0</text>
<text x="489.60" y="374.20" font-size="6.6" text-anchor="start" fill="#333" stroke="#333" stroke-width="0.12" textLength="20.80" lengthAdjust="spacingAndGlyphs">Notch1</text>
<text x="7.20" y="472.90" font-size="12" text-anchor="start" fill="#000" stroke="#000" stroke-width="0.12" font-weight="bold">J</text>
<circle cx="46.04" cy="478.66" r="1.3" fill="#c2df2e"/>
<circle cx="59.11" cy="477.25" r="1.3" fill="#451062"/>
<circle cx="70.44" cy="477.68" r="1.3" fill="#61c960"/>
<circle cx="78.36" cy="478.53" r="1.3" fill="#26a783"/>
<circle cx="54.76" cy="479.82" r="1.3" fill="#88d347"/>
<circle cx="57.53" cy="480.37" r="1.3" fill="#34b479"/>
<circle cx="60.30" cy="479.94" r="1.3" fill="#c2df2e"/>
<circle cx="62.28" cy="479.39" r="1.3" fill="#26a684"/>
<circle cx="75.35" cy="479.94" r="1.3" fill="#218f8d"/>
<circle cx="72.18" cy="481.23" r="1.3" fill="#43bb71"/>
<circle cx="79.15" cy="481.53" r="1.3" fill="#38b678"/>
<circle cx="45.65" cy="483.15" r="1.3" fill="#22968b"/>
<circle cx="49.85" cy="482.51" r="1.3" fill="#239a89"/>
<circle cx="53.17" cy="482.08" r="1.3" fill="#4dc06b"/>
<circle cx="55.94" cy="483.58" r="1.3" fill="#4cc06c"/>
<circle cx="62.68" cy="483.36" r="1.3" fill="#21908d"/>
<circle cx="65.85" cy="483.49" r="1.3" fill="#22958b"/>
<circle cx="70.60" cy="484.35" r="1.3" fill="#39568b"/>
<circle cx="73.77" cy="483.79" r="1.3" fill="#b0dd31"/>
<circle cx="46.04" cy="485.80" r="1.3" fill="#239b88"/>
<circle cx="50.40" cy="485.63" r="1.3" fill="#8ad446"/>
<circle cx="51.59" cy="487.43" r="1.3" fill="#37b578"/>
<circle cx="57.13" cy="487.85" r="1.3" fill="#cfe12c"/>
<circle cx="69.01" cy="487.21" r="1.3" fill="#a0da38"/>
<circle cx="73.77" cy="487.43" r="1.3" fill="#2fb17c"/>
<circle cx="78.36" cy="488.19" r="1.3" fill="#9ad83c"/>
<circle cx="47.23" cy="488.71" r="1.3" fill="#287c8e"/>
<circle cx="61.49" cy="489.35" r="1.3" fill="#82d24b"/>
<circle cx="70.99" cy="489.35" r="1.3" fill="#32658d"/>
<circle cx="77.73" cy="489.78" r="1.3" fill="#31b27b"/>
<circle cx="50.40" cy="490.85" r="1.3" fill="#6ccc59"/>
<circle cx="61.49" cy="491.49" r="1.3" fill="#28ae80"/>
<circle cx="73.77" cy="490.76" r="1.3" fill="#22958b"/>
<circle cx="54.76" cy="492.77" r="1.3" fill="#26838d"/>
<circle cx="65.85" cy="492.98" r="1.3" fill="#22968a"/>
<circle cx="71.79" cy="492.77" r="1.3" fill="#6bcc5a"/>
<circle cx="48.02" cy="494.69" r="1.3" fill="#5ac764"/>
<circle cx="62.68" cy="495.55" r="1.3" fill="#239a89"/>
<circle cx="57.53" cy="496.62" r="1.3" fill="#2d6f8e"/>
<circle cx="63.87" cy="495.08" r="1.3" fill="#4abf6d"/>
<circle cx="57.53" cy="498.71" r="1.3" fill="#31668d"/>
<circle cx="68.06" cy="495.85" r="1.3" fill="#3c4e8a"/>
<circle cx="71.39" cy="496.57" r="1.3" fill="#404184"/>
<circle cx="76.54" cy="497.00" r="1.3" fill="#21928c"/>
<circle cx="70.99" cy="497.86" r="1.3" fill="#2a788e"/>
<circle cx="72.18" cy="498.71" r="1.3" fill="#25848d"/>
<circle cx="63.07" cy="498.58" r="1.3" fill="#297a8e"/>
<circle cx="72.18" cy="500.29" r="1.3" fill="#3f4585"/>
<circle cx="76.94" cy="499.57" r="1.3" fill="#24888d"/>
<circle cx="67.03" cy="502.00" r="1.3" fill="#32b37b"/>
<circle cx="76.94" cy="503.20" r="1.3" fill="#30698d"/>
<circle cx="69.81" cy="504.91" r="1.3" fill="#228d8d"/>
<circle cx="74.56" cy="505.98" r="1.3" fill="#32658d"/>
<circle cx="73.37" cy="506.83" r="1.3" fill="#24a086"/>
<circle cx="80.10" cy="506.62" r="1.3" fill="#228f8d"/>
<circle cx="80.90" cy="493.15" r="1.3" fill="#239989"/>
<circle cx="80.10" cy="491.02" r="1.3" fill="#277e8e"/>
<circle cx="86.44" cy="491.23" r="1.3" fill="#47bd6f"/>
<circle cx="93.97" cy="498.71" r="1.3" fill="#38588c"/>
<circle cx="84.86" cy="500.63" r="1.3" fill="#37598c"/>
<circle cx="77.73" cy="503.84" r="1.3" fill="#3d4a88"/>
<circle cx="83.27" cy="504.27" r="1.3" fill="#238c8d"/>
<circle cx="86.04" cy="505.34" r="1.3" fill="#3e4887"/>
<circle cx="89.21" cy="505.55" r="1.3" fill="#3e4786"/>
<circle cx="85.25" cy="507.47" r="1.3" fill="#21928c"/>
<circle cx="95.15" cy="508.12" r="1.3" fill="#26a783"/>
<circle cx="88.02" cy="508.97" r="1.3" fill="#238a8d"/>
<circle cx="118.42" cy="506.19" r="1.3" fill="#440154"/>
<circle cx="104.56" cy="508.60" r="1.3" fill="#440154"/>
<circle cx="110.01" cy="509.40" r="1.3" fill="#440154"/>
<circle cx="105.06" cy="511.27" r="1.3" fill="#440154"/>
<circle cx="112.98" cy="511.54" r="1.3" fill="#450e5f"/>
<circle cx="117.93" cy="511.00" r="1.3" fill="#2f6b8d"/>
<circle cx="122.38" cy="510.47" r="1.3" fill="#451263"/>
<circle cx="106.05" cy="512.60" r="1.3" fill="#440154"/>
<circle cx="118.42" cy="512.60" r="1.3" fill="#404083"/>
<circle cx="122.88" cy="513.67" r="1.3" fill="#462574"/>
<circle cx="109.02" cy="515.01" r="1.3" fill="#472776"/>
<circle cx="112.98" cy="515.81" r="1.3" fill="#440154"/>
<circle cx="131.79" cy="514.48" r="1.3" fill="#462171"/>
<circle cx="111.99" cy="517.41" r="1.3" fill="#44357e"/>
<circle cx="116.94" cy="517.68" r="1.3" fill="#440154"/>
<circle cx="115.95" cy="518.75" r="1.3" fill="#440154"/>
<circle cx="133.77" cy="516.88" r="1.3" fill="#3b508b"/>
<circle cx="129.81" cy="518.22" r="1.3" fill="#3f4686"/>
<circle cx="139.71" cy="517.15" r="1.3" fill="#45095b"/>
<circle cx="142.68" cy="518.22" r="1.3" fill="#440154"/>
<circle cx="125.85" cy="519.82" r="1.3" fill="#461869"/>
<circle cx="131.29" cy="519.55" r="1.3" fill="#440154"/>
<circle cx="135.25" cy="519.28" r="1.3" fill="#451162"/>
<circle cx="124.36" cy="521.15" r="1.3" fill="#32658d"/>
<circle cx="120.40" cy="521.69" r="1.3" fill="#472876"/>
<circle cx="140.70" cy="520.09" r="1.3" fill="#3a538b"/>
<circle cx="131.79" cy="521.15" r="1.3" fill="#461767"/>
<circle cx="139.71" cy="521.15" r="1.3" fill="#45327d"/>
<circle cx="134.76" cy="522.22" r="1.3" fill="#365b8c"/>
<circle cx="130.30" cy="522.76" r="1.3" fill="#440154"/>
<circle cx="131.79" cy="524.36" r="1.3" fill="#451162"/>
<circle cx="138.72" cy="524.63" r="1.3" fill="#461a6a"/>
<circle cx="141.69" cy="524.09" r="1.3" fill="#462f7b"/>
<circle cx="44.44" cy="530.84" r="1.3" fill="#b7de30"/>
<circle cx="44.14" cy="532.12" r="1.3" fill="#43bb71"/>
<circle cx="50.68" cy="531.64" r="1.3" fill="#423b81"/>
<circle cx="39.99" cy="533.40" r="1.3" fill="#24878d"/>
<circle cx="43.85" cy="534.53" r="1.3" fill="#33638d"/>
<circle cx="45.04" cy="535.01" r="1.3" fill="#33618d"/>
<circle cx="53.06" cy="535.01" r="1.3" fill="#fde725"/>
<circle cx="40.58" cy="536.93" r="1.3" fill="#37598c"/>
<circle cx="43.85" cy="537.25" r="1.3" fill="#25a485"/>
<circle cx="53.65" cy="535.97" r="1.3" fill="#2e6d8e"/>
<circle cx="54.25" cy="537.57" r="1.3" fill="#54c467"/>
<circle cx="57.51" cy="537.57" r="1.3" fill="#26aa82"/>
<circle cx="45.04" cy="540.46" r="1.3" fill="#249e87"/>
<circle cx="47.71" cy="540.14" r="1.3" fill="#22938c"/>
<circle cx="50.09" cy="539.82" r="1.3" fill="#79d051"/>
<circle cx="51.87" cy="540.78" r="1.3" fill="#34608c"/>
<circle cx="52.76" cy="541.74" r="1.3" fill="#2e6d8e"/>
<circle cx="48.01" cy="542.54" r="1.3" fill="#39558b"/>
<circle cx="46.52" cy="539.18" r="1.3" fill="#96d73e"/>
<circle cx="49.49" cy="538.86" r="1.3" fill="#24868d"/>
<circle cx="115.93" cy="515.57" r="1.3" fill="#440154"/>
<circle cx="48.54" cy="489.11" r="1.3" fill="#22938c"/>
<circle cx="54.98" cy="535.14" r="1.3" fill="#fde725"/>
<circle cx="70.03" cy="496.86" r="1.3" fill="#31668d"/>
<circle cx="126.47" cy="521.62" r="1.3" fill="#3e4686"/>
<circle cx="125.88" cy="520.41" r="1.3" fill="#44367f"/>
<circle cx="54.25" cy="534.02" r="1.3" fill="#22968a"/>
<circle cx="61.95" cy="482.87" r="1.3" fill="#24888d"/>
<circle cx="79.45" cy="493.90" r="1.3" fill="#37598c"/>
<circle cx="59.07" cy="496.76" r="1.3" fill="#22968b"/>
<circle cx="76.05" cy="503.69" r="1.3" fill="#440154"/>
<circle cx="48.23" cy="530.45" r="1.3" fill="#fde725"/>
<circle cx="66.07" cy="492.48" r="1.3" fill="#5dc862"/>
<circle cx="85.72" cy="505.48" r="1.3" fill="#2c728e"/>
<circle cx="81.11" cy="505.09" r="1.3" fill="#34608c"/>
<circle cx="114.09" cy="512.36" r="1.3" fill="#440154"/>
<circle cx="74.62" cy="497.93" r="1.3" fill="#249d88"/>
<circle cx="69.32" cy="497.23" r="1.3" fill="#33618d"/>
<circle cx="136.58" cy="520.67" r="1.3" fill="#43377f"/>
<circle cx="117.31" cy="513.72" r="1.3" fill="#440154"/>
<circle cx="70.79" cy="489.45" r="1.3" fill="#34b37a"/>
<circle cx="77.01" cy="498.06" r="1.3" fill="#6dcc59"/>
<circle cx="113.02" cy="517.59" r="1.3" fill="#451364"/>
<circle cx="142.77" cy="514.97" r="1.3" fill="#3f4485"/>
<circle cx="117.65" cy="521.08" r="1.3" fill="#462372"/>
<circle cx="47.47" cy="494.53" r="1.3" fill="#71cd56"/>
<circle cx="131.95" cy="512.76" r="1.3" fill="#3b4f8a"/>
<circle cx="79.74" cy="489.44" r="1.3" fill="#26a783"/>
<circle cx="79.35" cy="481.55" r="1.3" fill="#228d8d"/>
<circle cx="129.30" cy="519.26" r="1.3" fill="#462f7b"/>
<circle cx="47.95" cy="540.59" r="1.3" fill="#239989"/>
<circle cx="85.58" cy="504.70" r="1.3" fill="#3e4987"/>
<circle cx="72.12" cy="492.18" r="1.3" fill="#3ab676"/>
<circle cx="72.21" cy="496.39" r="1.3" fill="#26828d"/>
<circle cx="75.64" cy="508.49" r="1.3" fill="#43387f"/>
<circle cx="54.05" cy="483.39" r="1.3" fill="#24a086"/>
<circle cx="71.68" cy="491.38" r="1.3" fill="#fde725"/>
<circle cx="46.99" cy="489.50" r="1.3" fill="#55c467"/>
<circle cx="76.94" cy="508.06" r="1.3" fill="#2c718e"/>
<circle cx="68.98" cy="499.63" r="1.3" fill="#b0dd31"/>
<line x1="36.70" y1="476.10" x2="36.70" y2="546.10" stroke="#111" stroke-width="1"/>
<line x1="36.20" y1="545.60" x2="147.70" y2="545.60" stroke="#111" stroke-width="1"/>
<line x1="33.70" y1="490.05" x2="36.70" y2="490.05" stroke="#111" stroke-width="0.8"/>
<text x="30.10" y="492.82" font-size="7.7" text-anchor="end" fill="#111" stroke="#111" stroke-width="0.12">10</text>
<line x1="33.70" y1="506.00" x2="36.70" y2="506.00" stroke="#111" stroke-width="0.8"/>
<text x="30.10" y="508.77" font-size="7.7" text-anchor="end" fill="#111" stroke="#111" stroke-width="0.12">0</text>
<line x1="33.70" y1="521.95" x2="36.70" y2="521.95" stroke="#111" stroke-width="0.8"/>
<text x="30.10" y="524.72" font-size="7.7" text-anchor="end" fill="#111" stroke="#111" stroke-width="0.12">−10</text>
<line x1="33.70" y1="537.90" x2="36.70" y2="537.90" stroke="#111" stroke-width="0.8"/>
<text x="30.10" y="540.67" font-size="7.7" text-anchor="end" fill="#111" stroke="#111" stroke-width="0.12">−20</text>
<line x1="54.40" y1="545.60" x2="54.40" y2="548.60" stroke="#111" stroke-width="0.8"/>
<text x="54.40" y="557.90" font-size="7.7" text-anchor="middle" fill="#111" stroke="#111" stroke-width="0.12">−10</text>
<line x1="82.10" y1="545.60" x2="82.10" y2="548.60" stroke="#111" stroke-width="0.8"/>
<text x="82.10" y="557.90" font-size="7.7" text-anchor="middle" fill="#111" stroke="#111" stroke-width="0.12">0</text>
<line x1="109.80" y1="545.60" x2="109.80" y2="548.60" stroke="#111" stroke-width="0.8"/>
<text x="109.80" y="557.90" font-size="7.7" text-anchor="middle" fill="#111" stroke="#111" stroke-width="0.12">10</text>
<line x1="137.50" y1="545.60" x2="137.50" y2="548.60" stroke="#111" stroke-width="0.8"/>
<text x="137.50" y="557.90" font-size="7.7" text-anchor="middle" fill="#111" stroke="#111" stroke-width="0.12">20</text>
<text x="92.50" y="570.40" font-size="8.2" text-anchor="middle" fill="#111" stroke="#111" stroke-width="0.12" textLength="23.00" lengthAdjust="spacingAndGlyphs">t-SNE 1</text>
<text x="14.00" y="511.80" font-size="8.8" text-anchor="middle" fill="#111" stroke="#111" stroke-width="0.12" textLength="24.20" lengthAdjust="spacingAndGlyphs" transform="rotate(-90 14.00 511.80)">t-SNE 2</text>
<defs><linearGradient id="gJ" x1="0" y1="1" x2="0" y2="0"><stop offset="0.0" stop-color="#440154"/><stop offset="0.125" stop-color="#472c7a"/><stop offset="0.25" stop-color="#3b518b"/><stop offset="0.375" stop-color="#2c718e"/><stop offset="0.5" stop-color="#21908d"/><stop offset="0.625" stop-color="#27ad81"/><stop offset="0.75" stop-color="#5cc863"/><stop offset="0.875" stop-color="#aadc32"/><stop offset="1.0" stop-color="#fde725"/></linearGradient></defs>
<rect x="147.3" y="498.8" width="6.20" height="31.20" fill="url(#gJ)"/>
<line x1="147.30" y1="500.20" x2="148.50" y2="500.20" stroke="#fff" stroke-width="0.4"/>
<line x1="152.30" y1="500.20" x2="153.50" y2="500.20" stroke="#fff" stroke-width="0.4"/>
<text x="156.00" y="502.54" font-size="6.5" text-anchor="start" fill="#333" stroke="#333" stroke-width="0.12">8</text>
<line x1="147.30" y1="507.30" x2="148.50" y2="507.30" stroke="#fff" stroke-width="0.4"/>
<line x1="152.30" y1="507.30" x2="153.50" y2="507.30" stroke="#fff" stroke-width="0.4"/>
<text x="156.00" y="509.64" font-size="6.5" text-anchor="start" fill="#333" stroke="#333" stroke-width="0.12">6</text>
<line x1="147.30" y1="515.00" x2="148.50" y2="515.00" stroke="#fff" stroke-width="0.4"/>
<line x1="152.30" y1="515.00" x2="153.50" y2="515.00" stroke="#fff" stroke-width="0.4"/>
<text x="156.00" y="517.34" font-size="6.5" text-anchor="start" fill="#333" stroke="#333" stroke-width="0.12">4</text>
<line x1="147.30" y1="522.30" x2="148.50" y2="522.30" stroke="#fff" stroke-width="0.4"/>
<line x1="152.30" y1="522.30" x2="153.50" y2="522.30" stroke="#fff" stroke-width="0.4"/>
<text x="156.00" y="524.64" font-size="6.5" text-anchor="start" fill="#333" stroke="#333" stroke-width="0.12">2</text>
<line x1="147.30" y1="530.00" x2="148.50" y2="530.00" stroke="#fff" stroke-width="0.4"/>
<line x1="152.30" y1="530.00" x2="153.50" y2="530.00" stroke="#fff" stroke-width="0.4"/>
<text x="156.00" y="532.34" font-size="6.5" text-anchor="start" fill="#333" stroke="#333" stroke-width="0.12">0</text>
<text x="146.30" y="494.40" font-size="6.6" text-anchor="start" fill="#333" stroke="#333" stroke-width="0.12" textLength="21.20" lengthAdjust="spacingAndGlyphs">Notch2</text>
<text x="178.00" y="472.90" font-size="12" text-anchor="start" fill="#000" stroke="#000" stroke-width="0.12" font-weight="bold">K</text>
<circle cx="216.61" cy="478.66" r="1.3" fill="#47bd6f"/>
<circle cx="229.73" cy="477.25" r="1.3" fill="#2f6b8d"/>
<circle cx="241.10" cy="477.68" r="1.3" fill="#3d4a88"/>
<circle cx="249.05" cy="478.53" r="1.3" fill="#440154"/>
<circle cx="225.36" cy="479.82" r="1.3" fill="#238c8d"/>
<circle cx="228.14" cy="480.37" r="1.3" fill="#85d249"/>
<circle cx="230.92" cy="479.94" r="1.3" fill="#249e87"/>
<circle cx="232.91" cy="479.39" r="1.3" fill="#37b578"/>
<circle cx="246.03" cy="479.94" r="1.3" fill="#68cb5c"/>
<circle cx="242.85" cy="481.23" r="1.3" fill="#2c708e"/>
<circle cx="249.84" cy="481.53" r="1.3" fill="#fde725"/>
<circle cx="216.22" cy="483.15" r="1.3" fill="#2c708e"/>
<circle cx="220.43" cy="482.51" r="1.3" fill="#2baf7f"/>
<circle cx="223.77" cy="482.08" r="1.3" fill="#fde725"/>
<circle cx="226.55" cy="483.58" r="1.3" fill="#23978a"/>
<circle cx="233.31" cy="483.36" r="1.3" fill="#25a285"/>
<circle cx="236.49" cy="483.49" r="1.3" fill="#25838d"/>
<circle cx="241.26" cy="484.35" r="1.3" fill="#27ad81"/>
<circle cx="244.44" cy="483.79" r="1.3" fill="#472876"/>
<circle cx="216.61" cy="485.80" r="1.3" fill="#287c8e"/>
<circle cx="220.99" cy="485.63" r="1.3" fill="#c0df2f"/>
<circle cx="222.18" cy="487.43" r="1.3" fill="#26a783"/>
<circle cx="227.74" cy="487.85" r="1.3" fill="#21918c"/>
<circle cx="239.67" cy="487.21" r="1.3" fill="#2aaf7f"/>
<circle cx="244.44" cy="487.43" r="1.3" fill="#2eb17d"/>
<circle cx="249.05" cy="488.19" r="1.3" fill="#25a485"/>
<circle cx="217.81" cy="488.71" r="1.3" fill="#3db875"/>
<circle cx="232.11" cy="489.35" r="1.3" fill="#3f4586"/>
<circle cx="241.65" cy="489.35" r="1.3" fill="#3eb974"/>
<circle cx="248.41" cy="489.78" r="1.3" fill="#287b8e"/>
<circle cx="220.99" cy="490.85" r="1.3" fill="#4fc16a"/>
<circle cx="232.11" cy="491.49" r="1.3" fill="#239c88"/>
<circle cx="244.44" cy="490.76" r="1.3" fill="#2f6a8d"/>
<circle cx="225.36" cy="492.77" r="1.3" fill="#239989"/>
<circle cx="236.49" cy="492.98" r="1.3" fill="#306a8d"/>
<circle cx="242.45" cy="492.77" r="1.3" fill="#66cb5d"/>
<circle cx="218.60" cy="494.69" r="1.3" fill="#239c88"/>
<circle cx="233.31" cy="495.55" r="1.3" fill="#55c467"/>
<circle cx="228.14" cy="496.62" r="1.3" fill="#32648d"/>
<circle cx="234.50" cy="495.08" r="1.3" fill="#b6de30"/>
<circle cx="228.14" cy="498.71" r="1.3" fill="#228e8d"/>
<circle cx="238.71" cy="495.85" r="1.3" fill="#52c369"/>
<circle cx="242.05" cy="496.57" r="1.3" fill="#25a485"/>
<circle cx="247.22" cy="497.00" r="1.3" fill="#450f61"/>
<circle cx="241.65" cy="497.86" r="1.3" fill="#27808e"/>
<circle cx="242.85" cy="498.71" r="1.3" fill="#404184"/>
<circle cx="233.70" cy="498.58" r="1.3" fill="#24868d"/>
<circle cx="242.85" cy="500.29" r="1.3" fill="#5ac764"/>
<circle cx="247.62" cy="499.57" r="1.3" fill="#239989"/>
<circle cx="237.68" cy="502.00" r="1.3" fill="#2fb17c"/>
<circle cx="247.62" cy="503.20" r="1.3" fill="#45085b"/>
<circle cx="240.46" cy="504.91" r="1.3" fill="#29788e"/>
<circle cx="245.23" cy="505.98" r="1.3" fill="#26838d"/>
<circle cx="244.04" cy="506.83" r="1.3" fill="#31b27b"/>
<circle cx="250.80" cy="506.62" r="1.3" fill="#423b81"/>
<circle cx="251.59" cy="493.15" r="1.3" fill="#21918c"/>
<circle cx="250.80" cy="491.02" r="1.3" fill="#24888d"/>
<circle cx="257.16" cy="491.23" r="1.3" fill="#440154"/>
<circle cx="264.71" cy="498.71" r="1.3" fill="#451566"/>
<circle cx="255.57" cy="500.63" r="1.3" fill="#24898d"/>
<circle cx="248.41" cy="503.84" r="1.3" fill="#44085a"/>
<circle cx="253.98" cy="504.27" r="1.3" fill="#440356"/>
<circle cx="256.76" cy="505.34" r="1.3" fill="#26a684"/>
<circle cx="259.94" cy="505.55" r="1.3" fill="#277e8e"/>
<circle cx="255.96" cy="507.47" r="1.3" fill="#37598c"/>
<circle cx="265.90" cy="508.12" r="1.3" fill="#2c718e"/>
<circle cx="258.75" cy="508.97" r="1.3" fill="#3c4d89"/>
<circle cx="289.25" cy="506.19" r="1.3" fill="#440457"/>
<circle cx="275.34" cy="508.60" r="1.3" fill="#44085a"/>
<circle cx="280.81" cy="509.40" r="1.3" fill="#46307c"/>
<circle cx="275.84" cy="511.27" r="1.3" fill="#39558b"/>
<circle cx="283.79" cy="511.54" r="1.3" fill="#440759"/>
<circle cx="288.76" cy="511.00" r="1.3" fill="#461a6a"/>
<circle cx="293.23" cy="510.47" r="1.3" fill="#451364"/>
<circle cx="276.83" cy="512.60" r="1.3" fill="#440154"/>
<circle cx="289.25" cy="512.60" r="1.3" fill="#472a78"/>
<circle cx="293.72" cy="513.67" r="1.3" fill="#3f4385"/>
<circle cx="279.81" cy="515.01" r="1.3" fill="#440154"/>
<circle cx="283.79" cy="515.81" r="1.3" fill="#404284"/>
<circle cx="302.67" cy="514.48" r="1.3" fill="#440255"/>
<circle cx="282.79" cy="517.41" r="1.3" fill="#3c4f8a"/>
<circle cx="287.76" cy="517.68" r="1.3" fill="#3b528b"/>
<circle cx="286.77" cy="518.75" r="1.3" fill="#450b5d"/>
<circle cx="304.66" cy="516.88" r="1.3" fill="#440154"/>
<circle cx="300.68" cy="518.22" r="1.3" fill="#450d5f"/>
<circle cx="310.62" cy="517.15" r="1.3" fill="#440154"/>
<circle cx="313.60" cy="518.22" r="1.3" fill="#440154"/>
<circle cx="296.71" cy="519.82" r="1.3" fill="#451263"/>
<circle cx="302.17" cy="519.55" r="1.3" fill="#38578c"/>
<circle cx="306.15" cy="519.28" r="1.3" fill="#461969"/>
<circle cx="295.22" cy="521.15" r="1.3" fill="#451364"/>
<circle cx="291.24" cy="521.69" r="1.3" fill="#440154"/>
<circle cx="311.61" cy="520.09" r="1.3" fill="#440154"/>
<circle cx="302.67" cy="521.15" r="1.3" fill="#440154"/>
<circle cx="310.62" cy="521.15" r="1.3" fill="#44357e"/>
<circle cx="305.65" cy="522.22" r="1.3" fill="#440457"/>
<circle cx="301.18" cy="522.76" r="1.3" fill="#461c6b"/>
<circle cx="302.67" cy="524.36" r="1.3" fill="#461d6d"/>
<circle cx="309.62" cy="524.63" r="1.3" fill="#451565"/>
<circle cx="312.61" cy="524.09" r="1.3" fill="#3e4786"/>
<circle cx="215.01" cy="530.84" r="1.3" fill="#25a485"/>
<circle cx="214.71" cy="532.12" r="1.3" fill="#345f8c"/>
<circle cx="221.27" cy="531.64" r="1.3" fill="#24898d"/>
<circle cx="210.53" cy="533.40" r="1.3" fill="#26a983"/>
<circle cx="214.41" cy="534.53" r="1.3" fill="#b6de30"/>
<circle cx="215.60" cy="535.01" r="1.3" fill="#24878d"/>
<circle cx="223.65" cy="535.01" r="1.3" fill="#c7e02d"/>
<circle cx="211.13" cy="536.93" r="1.3" fill="#3f4586"/>
<circle cx="214.41" cy="537.25" r="1.3" fill="#31678d"/>
<circle cx="224.25" cy="535.97" r="1.3" fill="#440154"/>
<circle cx="224.85" cy="537.57" r="1.3" fill="#48be6f"/>
<circle cx="228.13" cy="537.57" r="1.3" fill="#451566"/>
<circle cx="215.60" cy="540.46" r="1.3" fill="#451566"/>
<circle cx="218.29" cy="540.14" r="1.3" fill="#4bbf6d"/>
<circle cx="220.67" cy="539.82" r="1.3" fill="#3d4c89"/>
<circle cx="222.46" cy="540.78" r="1.3" fill="#44357e"/>
<circle cx="223.35" cy="541.74" r="1.3" fill="#5bc764"/>
<circle cx="218.58" cy="542.54" r="1.3" fill="#2f6b8d"/>
<circle cx="217.09" cy="539.18" r="1.3" fill="#56c566"/>
<circle cx="220.07" cy="538.86" r="1.3" fill="#38588c"/>
<circle cx="286.75" cy="515.57" r="1.3" fill="#413e82"/>
<circle cx="219.11" cy="489.11" r="1.3" fill="#6fcd57"/>
<circle cx="225.58" cy="535.14" r="1.3" fill="#26828d"/>
<circle cx="240.68" cy="496.86" r="1.3" fill="#98d83d"/>
<circle cx="297.33" cy="521.62" r="1.3" fill="#450b5d"/>
<circle cx="296.73" cy="520.41" r="1.3" fill="#451464"/>
<circle cx="224.85" cy="534.02" r="1.3" fill="#26828d"/>
<circle cx="232.58" cy="482.87" r="1.3" fill="#65ca5d"/>
<circle cx="250.14" cy="493.90" r="1.3" fill="#39558b"/>
<circle cx="229.69" cy="496.76" r="1.3" fill="#24878d"/>
<circle cx="246.73" cy="503.69" r="1.3" fill="#287c8e"/>
<circle cx="218.81" cy="530.45" r="1.3" fill="#9bd83c"/>
<circle cx="236.72" cy="492.48" r="1.3" fill="#24888d"/>
<circle cx="256.43" cy="505.48" r="1.3" fill="#440154"/>
<circle cx="251.80" cy="505.09" r="1.3" fill="#34618c"/>
<circle cx="284.91" cy="512.36" r="1.3" fill="#433980"/>
<circle cx="245.29" cy="497.93" r="1.3" fill="#404184"/>
<circle cx="239.97" cy="497.23" r="1.3" fill="#2b738e"/>
<circle cx="307.48" cy="520.67" r="1.3" fill="#440154"/>
<circle cx="288.13" cy="513.72" r="1.3" fill="#461f6e"/>
<circle cx="241.45" cy="489.45" r="1.3" fill="#25a286"/>
<circle cx="247.69" cy="498.06" r="1.3" fill="#22958b"/>
<circle cx="283.83" cy="517.59" r="1.3" fill="#472c7a"/>
<circle cx="313.69" cy="514.97" r="1.3" fill="#413f83"/>
<circle cx="288.48" cy="521.08" r="1.3" fill="#440154"/>
<circle cx="218.05" cy="494.53" r="1.3" fill="#44bc71"/>
<circle cx="302.83" cy="512.76" r="1.3" fill="#440154"/>
<circle cx="250.43" cy="489.44" r="1.3" fill="#277f8e"/>
<circle cx="250.04" cy="481.55" r="1.3" fill="#72ce55"/>
<circle cx="300.17" cy="519.26" r="1.3" fill="#404384"/>
<circle cx="218.53" cy="540.59" r="1.3" fill="#440154"/>
<circle cx="256.29" cy="504.70" r="1.3" fill="#22928c"/>
<circle cx="242.79" cy="492.18" r="1.3" fill="#24888d"/>
<circle cx="242.87" cy="496.39" r="1.3" fill="#462e7b"/>
<circle cx="246.31" cy="508.49" r="1.3" fill="#29788e"/>
<circle cx="224.65" cy="483.39" r="1.3" fill="#25a385"/>
<circle cx="242.34" cy="491.38" r="1.3" fill="#98d73d"/>
<circle cx="217.56" cy="489.50" r="1.3" fill="#3a528b"/>
<circle cx="247.62" cy="508.06" r="1.3" fill="#3d4b88"/>
<circle cx="239.64" cy="499.63" r="1.3" fill="#34608c"/>
<line x1="207.60" y1="476.10" x2="207.60" y2="545.90" stroke="#111" stroke-width="1"/>
<line x1="207.10" y1="545.40" x2="318.30" y2="545.40" stroke="#111" stroke-width="1"/>
<line x1="204.60" y1="490.05" x2="207.60" y2="490.05" stroke="#111" stroke-width="0.8"/>
<text x="201.00" y="492.82" font-size="7.7" text-anchor="end" fill="#111" stroke="#111" stroke-width="0.12">10</text>
<line x1="204.60" y1="506.00" x2="207.60" y2="506.00" stroke="#111" stroke-width="0.8"/>
<text x="201.00" y="508.77" font-size="7.7" text-anchor="end" fill="#111" stroke="#111" stroke-width="0.12">0</text>
<line x1="204.60" y1="521.95" x2="207.60" y2="521.95" stroke="#111" stroke-width="0.8"/>
<text x="201.00" y="524.72" font-size="7.7" text-anchor="end" fill="#111" stroke="#111" stroke-width="0.12">−10</text>
<line x1="204.60" y1="537.90" x2="207.60" y2="537.90" stroke="#111" stroke-width="0.8"/>
<text x="201.00" y="540.67" font-size="7.7" text-anchor="end" fill="#111" stroke="#111" stroke-width="0.12">−20</text>
<line x1="225.00" y1="545.40" x2="225.00" y2="548.40" stroke="#111" stroke-width="0.8"/>
<text x="225.00" y="557.70" font-size="7.7" text-anchor="middle" fill="#111" stroke="#111" stroke-width="0.12">−10</text>
<line x1="252.80" y1="545.40" x2="252.80" y2="548.40" stroke="#111" stroke-width="0.8"/>
<text x="252.80" y="557.70" font-size="7.7" text-anchor="middle" fill="#111" stroke="#111" stroke-width="0.12">0</text>
<line x1="280.60" y1="545.40" x2="280.60" y2="548.40" stroke="#111" stroke-width="0.8"/>
<text x="280.60" y="557.70" font-size="7.7" text-anchor="middle" fill="#111" stroke="#111" stroke-width="0.12">10</text>
<line x1="308.40" y1="545.40" x2="308.40" y2="548.40" stroke="#111" stroke-width="0.8"/>
<text x="308.40" y="557.70" font-size="7.7" text-anchor="middle" fill="#111" stroke="#111" stroke-width="0.12">20</text>
<text x="266.65" y="570.40" font-size="8.2" text-anchor="middle" fill="#111" stroke="#111" stroke-width="0.12" textLength="23.70" lengthAdjust="spacingAndGlyphs">t-SNE 1</text>
<text x="184.90" y="511.80" font-size="8.8" text-anchor="middle" fill="#111" stroke="#111" stroke-width="0.12" textLength="24.00" lengthAdjust="spacingAndGlyphs" transform="rotate(-90 184.90 511.80)">t-SNE 2</text>
<defs><linearGradient id="gK" x1="0" y1="1" x2="0" y2="0"><stop offset="0.0" stop-color="#440154"/><stop offset="0.125" stop-color="#472c7a"/><stop offset="0.25" stop-color="#3b518b"/><stop offset="0.375" stop-color="#2c718e"/><stop offset="0.5" stop-color="#21908d"/><stop offset="0.625" stop-color="#27ad81"/><stop offset="0.75" stop-color="#5cc863"/><stop offset="0.875" stop-color="#aadc32"/><stop offset="1.0" stop-color="#fde725"/></linearGradient></defs>
<rect x="317.7" y="499.2" width="6.00" height="31.20" fill="url(#gK)"/>
<line x1="317.70" y1="504.60" x2="318.90" y2="504.60" stroke="#fff" stroke-width="0.4"/>
<line x1="322.50" y1="504.60" x2="323.70" y2="504.60" stroke="#fff" stroke-width="0.4"/>
<text x="326.00" y="506.94" font-size="6.5" text-anchor="start" fill="#333" stroke="#333" stroke-width="0.12">6</text>
<line x1="317.70" y1="512.70" x2="318.90" y2="512.70" stroke="#fff" stroke-width="0.4"/>
<line x1="322.50" y1="512.70" x2="323.70" y2="512.70" stroke="#fff" stroke-width="0.4"/>
<text x="326.00" y="515.04" font-size="6.5" text-anchor="start" fill="#333" stroke="#333" stroke-width="0.12">4</text>
<line x1="317.70" y1="521.30" x2="318.90" y2="521.30" stroke="#fff" stroke-width="0.4"/>
<line x1="322.50" y1="521.30" x2="323.70" y2="521.30" stroke="#fff" stroke-width="0.4"/>
<text x="326.00" y="523.64" font-size="6.5" text-anchor="start" fill="#333" stroke="#333" stroke-width="0.12">2</text>
<line x1="317.70" y1="530.00" x2="318.90" y2="530.00" stroke="#fff" stroke-width="0.4"/>
<line x1="322.50" y1="530.00" x2="323.70" y2="530.00" stroke="#fff" stroke-width="0.4"/>
<text x="326.00" y="532.34" font-size="6.5" text-anchor="start" fill="#333" stroke="#333" stroke-width="0.12">0</text>
<text x="317.00" y="495.40" font-size="6.6" text-anchor="start" fill="#333" stroke="#333" stroke-width="0.12" textLength="21.00" lengthAdjust="spacingAndGlyphs">Notch3</text>
<text x="348.00" y="472.90" font-size="12" text-anchor="start" fill="#000" stroke="#000" stroke-width="0.12" font-weight="bold">L</text>
<circle cx="388.75" cy="478.66" r="1.3" fill="#413d82"/>
<circle cx="401.96" cy="477.25" r="1.3" fill="#39568b"/>
<circle cx="413.41" cy="477.68" r="1.3" fill="#218f8d"/>
<circle cx="421.42" cy="478.53" r="1.3" fill="#30688d"/>
<circle cx="397.56" cy="479.82" r="1.3" fill="#22948b"/>
<circle cx="400.36" cy="480.37" r="1.3" fill="#24a087"/>
<circle cx="403.17" cy="479.94" r="1.3" fill="#423d82"/>
<circle cx="405.17" cy="479.39" r="1.3" fill="#26a883"/>
<circle cx="418.38" cy="479.94" r="1.3" fill="#32658d"/>
<circle cx="415.18" cy="481.23" r="1.3" fill="#73ce54"/>
<circle cx="422.22" cy="481.53" r="1.3" fill="#249c88"/>
<circle cx="388.35" cy="483.15" r="1.3" fill="#31678d"/>
<circle cx="392.60" cy="482.51" r="1.3" fill="#24878d"/>
<circle cx="395.96" cy="482.08" r="1.3" fill="#24878d"/>
<circle cx="398.76" cy="483.58" r="1.3" fill="#228c8d"/>
<circle cx="405.57" cy="483.36" r="1.3" fill="#39b677"/>
<circle cx="408.77" cy="483.49" r="1.3" fill="#22958b"/>
<circle cx="413.57" cy="484.35" r="1.3" fill="#4cc06c"/>
<circle cx="416.78" cy="483.79" r="1.3" fill="#239989"/>
<circle cx="388.75" cy="485.80" r="1.3" fill="#2a778e"/>
<circle cx="393.16" cy="485.63" r="1.3" fill="#433980"/>
<circle cx="394.36" cy="487.43" r="1.3" fill="#44377f"/>
<circle cx="399.96" cy="487.85" r="1.3" fill="#24878d"/>
<circle cx="411.97" cy="487.21" r="1.3" fill="#239b88"/>
<circle cx="416.78" cy="487.43" r="1.3" fill="#3db875"/>
<circle cx="421.42" cy="488.19" r="1.3" fill="#32648d"/>
<circle cx="389.95" cy="488.71" r="1.3" fill="#26828d"/>
<circle cx="404.37" cy="489.35" r="1.3" fill="#365b8c"/>
<circle cx="413.97" cy="489.35" r="1.3" fill="#2e6c8e"/>
<circle cx="420.78" cy="489.78" r="1.3" fill="#450e5f"/>
<circle cx="393.16" cy="490.85" r="1.3" fill="#249d88"/>
<circle cx="404.37" cy="491.49" r="1.3" fill="#345f8c"/>
<circle cx="416.78" cy="490.76" r="1.3" fill="#287b8e"/>
<circle cx="397.56" cy="492.77" r="1.3" fill="#21918d"/>
<circle cx="408.77" cy="492.98" r="1.3" fill="#228d8d"/>
<circle cx="414.78" cy="492.77" r="1.3" fill="#3f4385"/>
<circle cx="390.75" cy="494.69" r="1.3" fill="#42bb72"/>
<circle cx="405.57" cy="495.55" r="1.3" fill="#249e87"/>
<circle cx="400.36" cy="496.62" r="1.3" fill="#22938c"/>
<circle cx="406.77" cy="495.08" r="1.3" fill="#33628d"/>
<circle cx="400.36" cy="498.71" r="1.3" fill="#44347e"/>
<circle cx="411.01" cy="495.85" r="1.3" fill="#45095b"/>
<circle cx="414.37" cy="496.57" r="1.3" fill="#365c8c"/>
<circle cx="419.58" cy="497.00" r="1.3" fill="#2d6e8e"/>
<circle cx="413.97" cy="497.86" r="1.3" fill="#404284"/>
<circle cx="415.18" cy="498.71" r="1.3" fill="#3fb973"/>
<circle cx="405.97" cy="498.58" r="1.3" fill="#2b758e"/>
<circle cx="415.18" cy="500.29" r="1.3" fill="#22958b"/>
<circle cx="419.98" cy="499.57" r="1.3" fill="#21918c"/>
<circle cx="409.97" cy="502.00" r="1.3" fill="#472d7b"/>
<circle cx="419.98" cy="503.20" r="1.3" fill="#22958b"/>
<circle cx="412.77" cy="504.91" r="1.3" fill="#287c8e"/>
<circle cx="417.58" cy="505.98" r="1.3" fill="#462170"/>
<circle cx="416.38" cy="506.83" r="1.3" fill="#24898d"/>
<circle cx="423.18" cy="506.62" r="1.3" fill="#239989"/>
<circle cx="423.98" cy="493.15" r="1.3" fill="#22948b"/>
<circle cx="423.18" cy="491.02" r="1.3" fill="#23988a"/>
<circle cx="429.59" cy="491.23" r="1.3" fill="#461768"/>
<circle cx="437.19" cy="498.71" r="1.3" fill="#375a8c"/>
<circle cx="427.99" cy="500.63" r="1.3" fill="#3d4b88"/>
<circle cx="420.78" cy="503.84" r="1.3" fill="#30698d"/>
<circle cx="426.39" cy="504.27" r="1.3" fill="#2f6c8d"/>
<circle cx="429.19" cy="505.34" r="1.3" fill="#239b88"/>
<circle cx="432.39" cy="505.55" r="1.3" fill="#238a8d"/>
<circle cx="428.39" cy="507.47" r="1.3" fill="#423b81"/>
<circle cx="438.40" cy="508.12" r="1.3" fill="#21918d"/>
<circle cx="431.19" cy="508.97" r="1.3" fill="#2fb17d"/>
<circle cx="461.92" cy="506.19" r="1.3" fill="#413e82"/>
<circle cx="447.90" cy="508.60" r="1.3" fill="#440154"/>
<circle cx="453.41" cy="509.40" r="1.3" fill="#451263"/>
<circle cx="448.40" cy="511.27" r="1.3" fill="#472978"/>
<circle cx="456.41" cy="511.54" r="1.3" fill="#440154"/>
<circle cx="461.42" cy="511.00" r="1.3" fill="#472b79"/>
<circle cx="465.92" cy="510.47" r="1.3" fill="#440154"/>
<circle cx="449.40" cy="512.60" r="1.3" fill="#3a538b"/>
<circle cx="461.92" cy="512.60" r="1.3" fill="#3c4e8a"/>
<circle cx="466.42" cy="513.67" r="1.3" fill="#462e7b"/>
<circle cx="452.41" cy="515.01" r="1.3" fill="#440154"/>
<circle cx="456.41" cy="515.81" r="1.3" fill="#413e82"/>
<circle cx="475.43" cy="514.48" r="1.3" fill="#451364"/>
<circle cx="455.41" cy="517.41" r="1.3" fill="#451062"/>
<circle cx="460.41" cy="517.68" r="1.3" fill="#355e8c"/>
<circle cx="459.41" cy="518.75" r="1.3" fill="#450d5f"/>
<circle cx="477.43" cy="516.88" r="1.3" fill="#440154"/>
<circle cx="473.43" cy="518.22" r="1.3" fill="#3a528b"/>
<circle cx="483.43" cy="517.15" r="1.3" fill="#2a768e"/>
<circle cx="486.44" cy="518.22" r="1.3" fill="#2c708e"/>
<circle cx="469.42" cy="519.82" r="1.3" fill="#3a528b"/>
<circle cx="474.93" cy="519.55" r="1.3" fill="#26828d"/>
<circle cx="478.93" cy="519.28" r="1.3" fill="#462170"/>
<circle cx="467.92" cy="521.15" r="1.3" fill="#25848d"/>
<circle cx="463.92" cy="521.69" r="1.3" fill="#26828d"/>
<circle cx="484.43" cy="520.09" r="1.3" fill="#462171"/>
<circle cx="475.43" cy="521.15" r="1.3" fill="#404384"/>
<circle cx="483.43" cy="521.15" r="1.3" fill="#440154"/>
<circle cx="478.43" cy="522.22" r="1.3" fill="#440154"/>
<circle cx="473.93" cy="522.76" r="1.3" fill="#3e4987"/>
<circle cx="475.43" cy="524.36" r="1.3" fill="#440154"/>
<circle cx="482.43" cy="524.63" r="1.3" fill="#423a81"/>
<circle cx="485.44" cy="524.09" r="1.3" fill="#3f4585"/>
<circle cx="387.13" cy="530.84" r="1.3" fill="#34618c"/>
<circle cx="386.83" cy="532.12" r="1.3" fill="#23898d"/>
<circle cx="393.44" cy="531.64" r="1.3" fill="#35b479"/>
<circle cx="382.63" cy="533.40" r="1.3" fill="#32648d"/>
<circle cx="386.53" cy="534.53" r="1.3" fill="#238b8d"/>
<circle cx="387.73" cy="535.01" r="1.3" fill="#25a186"/>
<circle cx="395.84" cy="535.01" r="1.3" fill="#404385"/>
<circle cx="383.23" cy="536.93" r="1.3" fill="#43377f"/>
<circle cx="386.53" cy="537.25" r="1.3" fill="#440154"/>
<circle cx="396.44" cy="535.97" r="1.3" fill="#2c708e"/>
<circle cx="397.04" cy="537.57" r="1.3" fill="#228e8d"/>
<circle cx="400.35" cy="537.57" r="1.3" fill="#2c718e"/>
<circle cx="387.73" cy="540.46" r="1.3" fill="#43bb71"/>
<circle cx="390.44" cy="540.14" r="1.3" fill="#25a385"/>
<circle cx="392.84" cy="539.82" r="1.3" fill="#26838d"/>
<circle cx="394.64" cy="540.78" r="1.3" fill="#375a8c"/>
<circle cx="395.54" cy="541.74" r="1.3" fill="#472c7a"/>
<circle cx="390.74" cy="542.54" r="1.3" fill="#34618c"/>
<circle cx="389.24" cy="539.18" r="1.3" fill="#2b748e"/>
<circle cx="392.24" cy="538.86" r="1.3" fill="#38588c"/>
<circle cx="459.40" cy="515.57" r="1.3" fill="#462573"/>
<circle cx="391.27" cy="489.11" r="1.3" fill="#2d6f8e"/>
<circle cx="397.78" cy="535.14" r="1.3" fill="#287d8e"/>
<circle cx="413.00" cy="496.86" r="1.3" fill="#440658"/>
<circle cx="470.05" cy="521.62" r="1.3" fill="#462473"/>
<circle cx="469.45" cy="520.41" r="1.3" fill="#44367e"/>
<circle cx="397.05" cy="534.02" r="1.3" fill="#287d8e"/>
<circle cx="404.83" cy="482.87" r="1.3" fill="#249d88"/>
<circle cx="422.52" cy="493.90" r="1.3" fill="#365d8c"/>
<circle cx="401.92" cy="496.76" r="1.3" fill="#31668d"/>
<circle cx="419.08" cy="503.69" r="1.3" fill="#472977"/>
<circle cx="390.96" cy="530.45" r="1.3" fill="#22938c"/>
<circle cx="409.00" cy="492.48" r="1.3" fill="#23988a"/>
<circle cx="428.86" cy="505.48" r="1.3" fill="#2c728e"/>
<circle cx="424.20" cy="505.09" r="1.3" fill="#404284"/>
<circle cx="457.54" cy="512.36" r="1.3" fill="#440154"/>
<circle cx="417.64" cy="497.93" r="1.3" fill="#249e87"/>
<circle cx="412.28" cy="497.23" r="1.3" fill="#31678d"/>
<circle cx="480.27" cy="520.67" r="1.3" fill="#3e4786"/>
<circle cx="460.79" cy="513.72" r="1.3" fill="#29788e"/>
<circle cx="413.77" cy="489.45" r="1.3" fill="#433a80"/>
<circle cx="420.06" cy="498.06" r="1.3" fill="#414083"/>
<circle cx="456.45" cy="517.59" r="1.3" fill="#404284"/>
<circle cx="486.53" cy="514.97" r="1.3" fill="#3c4d89"/>
<circle cx="461.13" cy="521.08" r="1.3" fill="#440154"/>
<circle cx="390.20" cy="494.53" r="1.3" fill="#287c8e"/>
<circle cx="475.59" cy="512.76" r="1.3" fill="#451667"/>
<circle cx="422.82" cy="489.44" r="1.3" fill="#31678d"/>
<circle cx="422.42" cy="481.55" r="1.3" fill="#21908d"/>
<circle cx="472.92" cy="519.26" r="1.3" fill="#423b81"/>
<circle cx="390.68" cy="540.59" r="1.3" fill="#22948b"/>
<circle cx="428.71" cy="504.70" r="1.3" fill="#25858d"/>
<circle cx="415.12" cy="492.18" r="1.3" fill="#43bb71"/>
<circle cx="415.20" cy="496.39" r="1.3" fill="#413d82"/>
<circle cx="418.67" cy="508.49" r="1.3" fill="#287b8e"/>
<circle cx="396.84" cy="483.39" r="1.3" fill="#413f83"/>
<circle cx="414.67" cy="491.38" r="1.3" fill="#45327d"/>
<circle cx="389.71" cy="489.50" r="1.3" fill="#414083"/>
<circle cx="419.98" cy="508.06" r="1.3" fill="#23898d"/>
<circle cx="411.94" cy="499.63" r="1.3" fill="#2c718e"/>
<line x1="378.10" y1="476.10" x2="378.10" y2="545.90" stroke="#111" stroke-width="1"/>
<line x1="377.60" y1="545.40" x2="491.50" y2="545.40" stroke="#111" stroke-width="1"/>
<line x1="375.10" y1="490.05" x2="378.10" y2="490.05" stroke="#111" stroke-width="0.8"/>
<text x="371.50" y="492.82" font-size="7.7" text-anchor="end" fill="#111" stroke="#111" stroke-width="0.12">10</text>
<line x1="375.10" y1="506.00" x2="378.10" y2="506.00" stroke="#111" stroke-width="0.8"/>
<text x="371.50" y="508.77" font-size="7.7" text-anchor="end" fill="#111" stroke="#111" stroke-width="0.12">0</text>
<line x1="375.10" y1="521.95" x2="378.10" y2="521.95" stroke="#111" stroke-width="0.8"/>
<text x="371.50" y="524.72" font-size="7.7" text-anchor="end" fill="#111" stroke="#111" stroke-width="0.12">−10</text>
<line x1="375.10" y1="537.90" x2="378.10" y2="537.90" stroke="#111" stroke-width="0.8"/>
<text x="371.50" y="540.67" font-size="7.7" text-anchor="end" fill="#111" stroke="#111" stroke-width="0.12">−20</text>
<line x1="397.20" y1="545.40" x2="397.20" y2="548.40" stroke="#111" stroke-width="0.8"/>
<text x="397.20" y="557.70" font-size="7.7" text-anchor="middle" fill="#111" stroke="#111" stroke-width="0.12">−10</text>
<line x1="425.20" y1="545.40" x2="425.20" y2="548.40" stroke="#111" stroke-width="0.8"/>
<text x="425.20" y="557.70" font-size="7.7" text-anchor="middle" fill="#111" stroke="#111" stroke-width="0.12">0</text>
<line x1="453.20" y1="545.40" x2="453.20" y2="548.40" stroke="#111" stroke-width="0.8"/>
<text x="453.20" y="557.70" font-size="7.7" text-anchor="middle" fill="#111" stroke="#111" stroke-width="0.12">10</text>
<line x1="481.20" y1="545.40" x2="481.20" y2="548.40" stroke="#111" stroke-width="0.8"/>
<text x="481.20" y="557.70" font-size="7.7" text-anchor="middle" fill="#111" stroke="#111" stroke-width="0.12">20</text>
<text x="438.85" y="570.40" font-size="8.2" text-anchor="middle" fill="#111" stroke="#111" stroke-width="0.12" textLength="23.10" lengthAdjust="spacingAndGlyphs">t-SNE 1</text>
<text x="354.90" y="514.00" font-size="8.8" text-anchor="middle" fill="#111" stroke="#111" stroke-width="0.12" textLength="23.30" lengthAdjust="spacingAndGlyphs" transform="rotate(-90 354.90 514.00)">t-SNE 2</text>
<defs><linearGradient id="gL" x1="0" y1="1" x2="0" y2="0"><stop offset="0.0" stop-color="#440154"/><stop offset="0.125" stop-color="#472c7a"/><stop offset="0.25" stop-color="#3b518b"/><stop offset="0.375" stop-color="#2c718e"/><stop offset="0.5" stop-color="#21908d"/><stop offset="0.625" stop-color="#27ad81"/><stop offset="0.75" stop-color="#5cc863"/><stop offset="0.875" stop-color="#aadc32"/><stop offset="1.0" stop-color="#fde725"/></linearGradient></defs>
<rect x="493" y="499.2" width="5.80" height="31.20" fill="url(#gL)"/>
<line x1="493.00" y1="501.00" x2="494.20" y2="501.00" stroke="#fff" stroke-width="0.4"/>
<line x1="497.60" y1="501.00" x2="498.80" y2="501.00" stroke="#fff" stroke-width="0.4"/>
<text x="500.80" y="503.34" font-size="6.5" text-anchor="start" fill="#333" stroke="#333" stroke-width="0.12">10.0</text>
<line x1="493.00" y1="507.90" x2="494.20" y2="507.90" stroke="#fff" stroke-width="0.4"/>
<line x1="497.60" y1="507.90" x2="498.80" y2="507.90" stroke="#fff" stroke-width="0.4"/>
<text x="500.80" y="510.24" font-size="6.5" text-anchor="start" fill="#333" stroke="#333" stroke-width="0.12">7.5</text>
<line x1="493.00" y1="515.60" x2="494.20" y2="515.60" stroke="#fff" stroke-width="0.4"/>
<line x1="497.60" y1="515.60" x2="498.80" y2="515.60" stroke="#fff" stroke-width="0.4"/>
<text x="500.80" y="517.94" font-size="6.5" text-anchor="start" fill="#333" stroke="#333" stroke-width="0.12">5.0</text>
<line x1="493.00" y1="522.70" x2="494.20" y2="522.70" stroke="#fff" stroke-width="0.4"/>
<line x1="497.60" y1="522.70" x2="498.80" y2="522.70" stroke="#fff" stroke-width="0.4"/>
<text x="500.80" y="525.04" font-size="6.5" text-anchor="start" fill="#333" stroke="#333" stroke-width="0.12">2.5</text>
<line x1="493.00" y1="530.00" x2="494.20" y2="530.00" stroke="#fff" stroke-width="0.4"/>
<line x1="497.60" y1="530.00" x2="498.80" y2="530.00" stroke="#fff" stroke-width="0.4"/>
<text x="500.80" y="532.34" font-size="6.5" text-anchor="start" fill="#333" stroke="#333" stroke-width="0.12">0.0</text>
<text x="492.00" y="494.40" font-size="6.6" text-anchor="start" fill="#333" stroke="#333" stroke-width="0.12" textLength="13.60" lengthAdjust="spacingAndGlyphs">Hes1</text>
<text x="7.30" y="593.80" font-size="12" text-anchor="start" fill="#000" stroke="#000" stroke-width="0.12" font-weight="bold">M</text>
<circle cx="46.04" cy="599.20" r="1.3" fill="#34608c"/>
<circle cx="59.11" cy="597.79" r="1.3" fill="#22958b"/>
<circle cx="70.44" cy="598.22" r="1.3" fill="#26a684"/>
<circle cx="78.36" cy="599.07" r="1.3" fill="#25a684"/>
<circle cx="54.76" cy="600.35" r="1.3" fill="#55c467"/>
<circle cx="57.53" cy="600.90" r="1.3" fill="#30698d"/>
<circle cx="60.30" cy="600.47" r="1.3" fill="#21928c"/>
<circle cx="62.28" cy="599.92" r="1.3" fill="#2f6a8d"/>
<circle cx="75.35" cy="600.47" r="1.3" fill="#44367f"/>
<circle cx="72.18" cy="601.75" r="1.3" fill="#365b8c"/>
<circle cx="79.15" cy="602.05" r="1.3" fill="#27808e"/>
<circle cx="45.65" cy="603.66" r="1.3" fill="#3b518b"/>
<circle cx="49.85" cy="603.03" r="1.3" fill="#2c728e"/>
<circle cx="53.17" cy="602.60" r="1.3" fill="#26a982"/>
<circle cx="55.94" cy="604.09" r="1.3" fill="#22938c"/>
<circle cx="62.68" cy="603.88" r="1.3" fill="#22938c"/>
<circle cx="65.85" cy="604.01" r="1.3" fill="#23898d"/>
<circle cx="70.60" cy="604.86" r="1.3" fill="#2b728e"/>
<circle cx="73.77" cy="604.30" r="1.3" fill="#461d6d"/>
<circle cx="46.04" cy="606.30" r="1.3" fill="#25a485"/>
<circle cx="50.40" cy="606.13" r="1.3" fill="#45327d"/>
<circle cx="51.59" cy="607.92" r="1.3" fill="#25848d"/>
<circle cx="57.13" cy="608.34" r="1.3" fill="#2a758e"/>
<circle cx="69.01" cy="607.71" r="1.3" fill="#27808e"/>
<circle cx="73.77" cy="607.92" r="1.3" fill="#25858d"/>
<circle cx="78.36" cy="608.68" r="1.3" fill="#2f6b8d"/>
<circle cx="47.23" cy="609.19" r="1.3" fill="#24a086"/>
<circle cx="61.49" cy="609.83" r="1.3" fill="#413e82"/>
<circle cx="70.99" cy="609.83" r="1.3" fill="#239c88"/>
<circle cx="77.73" cy="610.26" r="1.3" fill="#472876"/>
<circle cx="50.40" cy="611.32" r="1.3" fill="#27ac81"/>
<circle cx="61.49" cy="611.96" r="1.3" fill="#32638d"/>
<circle cx="73.77" cy="611.24" r="1.3" fill="#238a8d"/>
<circle cx="54.76" cy="613.24" r="1.3" fill="#3db874"/>
<circle cx="65.85" cy="613.45" r="1.3" fill="#450b5d"/>
<circle cx="71.79" cy="613.24" r="1.3" fill="#2e6c8e"/>
<circle cx="48.02" cy="615.15" r="1.3" fill="#22938c"/>
<circle cx="62.68" cy="616.00" r="1.3" fill="#24a086"/>
<circle cx="57.53" cy="617.06" r="1.3" fill="#32b37b"/>
<circle cx="63.87" cy="615.53" r="1.3" fill="#22948b"/>
<circle cx="57.53" cy="619.15" r="1.3" fill="#21918d"/>
<circle cx="68.06" cy="616.30" r="1.3" fill="#26aa82"/>
<circle cx="71.39" cy="617.02" r="1.3" fill="#2fb17c"/>
<circle cx="76.54" cy="617.45" r="1.3" fill="#26a883"/>
<circle cx="70.99" cy="618.30" r="1.3" fill="#7ad050"/>
<circle cx="72.18" cy="619.15" r="1.3" fill="#27ac81"/>
<circle cx="63.07" cy="619.02" r="1.3" fill="#53c468"/>
<circle cx="72.18" cy="620.72" r="1.3" fill="#cfe12c"/>
<circle cx="76.94" cy="620.00" r="1.3" fill="#92d641"/>
<circle cx="67.03" cy="622.42" r="1.3" fill="#22948c"/>
<circle cx="76.94" cy="623.61" r="1.3" fill="#249f87"/>
<circle cx="69.81" cy="625.32" r="1.3" fill="#59c764"/>
<circle cx="74.56" cy="626.38" r="1.3" fill="#25848d"/>
<circle cx="73.37" cy="627.23" r="1.3" fill="#404284"/>
<circle cx="80.10" cy="627.02" r="1.3" fill="#2c718e"/>
<circle cx="80.90" cy="613.62" r="1.3" fill="#48be6e"/>
<circle cx="80.10" cy="611.49" r="1.3" fill="#239a89"/>
<circle cx="86.44" cy="611.70" r="1.3" fill="#22938c"/>
<circle cx="93.97" cy="619.15" r="1.3" fill="#5ac764"/>
<circle cx="84.86" cy="621.06" r="1.3" fill="#2d6f8e"/>
<circle cx="77.73" cy="624.25" r="1.3" fill="#fde725"/>
<circle cx="83.27" cy="624.68" r="1.3" fill="#25a684"/>
<circle cx="86.04" cy="625.74" r="1.3" fill="#22958b"/>
<circle cx="89.21" cy="625.95" r="1.3" fill="#fde725"/>
<circle cx="85.25" cy="627.87" r="1.3" fill="#2e6d8e"/>
<circle cx="95.15" cy="628.51" r="1.3" fill="#238c8d"/>
<circle cx="88.02" cy="629.36" r="1.3" fill="#24a086"/>
<circle cx="118.42" cy="626.59" r="1.3" fill="#27ab82"/>
<circle cx="104.56" cy="628.98" r="1.3" fill="#4cc06c"/>
<circle cx="110.01" cy="629.78" r="1.3" fill="#9dd93a"/>
<circle cx="105.06" cy="631.64" r="1.3" fill="#75ce53"/>
<circle cx="112.98" cy="631.91" r="1.3" fill="#61c960"/>
<circle cx="117.93" cy="631.38" r="1.3" fill="#c5e02e"/>
<circle cx="122.38" cy="630.84" r="1.3" fill="#fde725"/>
<circle cx="106.05" cy="632.97" r="1.3" fill="#fde725"/>
<circle cx="118.42" cy="632.97" r="1.3" fill="#26828d"/>
<circle cx="122.88" cy="634.04" r="1.3" fill="#ece528"/>
<circle cx="109.02" cy="635.36" r="1.3" fill="#b0dd31"/>
<circle cx="112.98" cy="636.16" r="1.3" fill="#8cd445"/>
<circle cx="131.79" cy="634.83" r="1.3" fill="#26ab82"/>
<circle cx="111.99" cy="637.76" r="1.3" fill="#45bc70"/>
<circle cx="116.94" cy="638.02" r="1.3" fill="#55c467"/>
<circle cx="115.95" cy="639.09" r="1.3" fill="#239c88"/>
<circle cx="133.77" cy="637.23" r="1.3" fill="#dee32a"/>
<circle cx="129.81" cy="638.55" r="1.3" fill="#bbde2f"/>
<circle cx="139.71" cy="637.49" r="1.3" fill="#64ca5e"/>
<circle cx="142.68" cy="638.55" r="1.3" fill="#27ac82"/>
<circle cx="125.85" cy="640.15" r="1.3" fill="#e9e428"/>
<circle cx="131.29" cy="639.88" r="1.3" fill="#a2da37"/>
<circle cx="135.25" cy="639.62" r="1.3" fill="#cde12d"/>
<circle cx="124.36" cy="641.48" r="1.3" fill="#47bd6f"/>
<circle cx="120.40" cy="642.01" r="1.3" fill="#fde725"/>
<circle cx="140.70" cy="640.42" r="1.3" fill="#59c765"/>
<circle cx="131.79" cy="641.48" r="1.3" fill="#fde725"/>
<circle cx="139.71" cy="641.48" r="1.3" fill="#25868d"/>
<circle cx="134.76" cy="642.54" r="1.3" fill="#83d24b"/>
<circle cx="130.30" cy="643.07" r="1.3" fill="#6dcc58"/>
<circle cx="131.79" cy="644.67" r="1.3" fill="#2c728e"/>
<circle cx="138.72" cy="644.93" r="1.3" fill="#38b677"/>
<circle cx="141.69" cy="644.40" r="1.3" fill="#25a286"/>
<circle cx="44.44" cy="651.11" r="1.3" fill="#37598c"/>
<circle cx="44.14" cy="652.39" r="1.3" fill="#2a768e"/>
<circle cx="50.68" cy="651.91" r="1.3" fill="#32648d"/>
<circle cx="39.99" cy="653.67" r="1.3" fill="#25a485"/>
<circle cx="43.85" cy="654.78" r="1.3" fill="#26aa82"/>
<circle cx="45.04" cy="655.26" r="1.3" fill="#25a286"/>
<circle cx="53.06" cy="655.26" r="1.3" fill="#2b738e"/>
<circle cx="40.58" cy="657.18" r="1.3" fill="#26828d"/>
<circle cx="43.85" cy="657.50" r="1.3" fill="#8bd445"/>
<circle cx="53.65" cy="656.22" r="1.3" fill="#24888d"/>
<circle cx="54.25" cy="657.81" r="1.3" fill="#22968b"/>
<circle cx="57.51" cy="657.81" r="1.3" fill="#287e8e"/>
<circle cx="45.04" cy="660.69" r="1.3" fill="#27ac81"/>
<circle cx="47.71" cy="660.37" r="1.3" fill="#41ba72"/>
<circle cx="50.09" cy="660.05" r="1.3" fill="#3ab776"/>
<circle cx="51.87" cy="661.01" r="1.3" fill="#26a883"/>
<circle cx="52.76" cy="661.96" r="1.3" fill="#34b37a"/>
<circle cx="48.01" cy="662.76" r="1.3" fill="#228e8d"/>
<circle cx="46.52" cy="659.41" r="1.3" fill="#2db07e"/>
<circle cx="49.49" cy="659.09" r="1.3" fill="#2e6c8e"/>
<circle cx="115.93" cy="635.92" r="1.3" fill="#6fcd57"/>
<circle cx="48.54" cy="609.59" r="1.3" fill="#249f87"/>
<circle cx="54.98" cy="655.39" r="1.3" fill="#2f6b8d"/>
<circle cx="70.03" cy="617.30" r="1.3" fill="#5ec962"/>
<circle cx="126.47" cy="641.94" r="1.3" fill="#83d24a"/>
<circle cx="125.88" cy="640.74" r="1.3" fill="#25a286"/>
<circle cx="54.25" cy="654.28" r="1.3" fill="#3d4b88"/>
<circle cx="61.95" cy="603.38" r="1.3" fill="#472a79"/>
<circle cx="79.45" cy="614.36" r="1.3" fill="#2d6f8e"/>
<circle cx="59.07" cy="617.21" r="1.3" fill="#24888d"/>
<circle cx="76.05" cy="624.10" r="1.3" fill="#2eb07d"/>
<circle cx="48.23" cy="650.73" r="1.3" fill="#5ac764"/>
<circle cx="66.07" cy="612.95" r="1.3" fill="#83d24b"/>
<circle cx="85.72" cy="625.88" r="1.3" fill="#228d8d"/>
<circle cx="81.11" cy="625.50" r="1.3" fill="#44357e"/>
<circle cx="114.09" cy="632.73" r="1.3" fill="#239989"/>
<circle cx="74.62" cy="618.37" r="1.3" fill="#44367f"/>
<circle cx="69.32" cy="617.68" r="1.3" fill="#26828d"/>
<circle cx="136.58" cy="641.00" r="1.3" fill="#3fb973"/>
<circle cx="117.31" cy="634.08" r="1.3" fill="#e2e329"/>
<circle cx="70.79" cy="609.94" r="1.3" fill="#45327d"/>
<circle cx="77.01" cy="618.50" r="1.3" fill="#23988a"/>
<circle cx="113.02" cy="637.93" r="1.3" fill="#52c369"/>
<circle cx="142.77" cy="635.32" r="1.3" fill="#5ac764"/>
<circle cx="117.65" cy="641.40" r="1.3" fill="#3db875"/>
<circle cx="47.47" cy="614.99" r="1.3" fill="#71cd56"/>
<circle cx="131.95" cy="633.13" r="1.3" fill="#56c566"/>
<circle cx="79.74" cy="609.92" r="1.3" fill="#287c8e"/>
<circle cx="79.35" cy="602.07" r="1.3" fill="#23988a"/>
<circle cx="129.30" cy="639.59" r="1.3" fill="#7ad050"/>
<circle cx="47.95" cy="660.82" r="1.3" fill="#95d73f"/>
<circle cx="85.58" cy="625.11" r="1.3" fill="#31668d"/>
<circle cx="72.12" cy="612.65" r="1.3" fill="#2c718e"/>
<circle cx="72.21" cy="616.84" r="1.3" fill="#238b8d"/>
<circle cx="75.64" cy="628.88" r="1.3" fill="#24a086"/>
<circle cx="54.05" cy="603.91" r="1.3" fill="#24a086"/>
<circle cx="71.68" cy="611.86" r="1.3" fill="#355f8c"/>
<circle cx="46.99" cy="609.99" r="1.3" fill="#461768"/>
<circle cx="76.94" cy="628.45" r="1.3" fill="#26a883"/>
<circle cx="68.98" cy="620.06" r="1.3" fill="#2d6f8e"/>
<line x1="36.30" y1="597.00" x2="36.30" y2="666.90" stroke="#111" stroke-width="1"/>
<line x1="35.80" y1="666.40" x2="147.70" y2="666.40" stroke="#111" stroke-width="1"/>
<line x1="33.30" y1="610.53" x2="36.30" y2="610.53" stroke="#111" stroke-width="0.8"/>
<text x="29.70" y="613.30" font-size="7.7" text-anchor="end" fill="#111" stroke="#111" stroke-width="0.12">10</text>
<line x1="33.30" y1="626.40" x2="36.30" y2="626.40" stroke="#111" stroke-width="0.8"/>
<text x="29.70" y="629.17" font-size="7.7" text-anchor="end" fill="#111" stroke="#111" stroke-width="0.12">0</text>
<line x1="33.30" y1="642.27" x2="36.30" y2="642.27" stroke="#111" stroke-width="0.8"/>
<text x="29.70" y="645.04" font-size="7.7" text-anchor="end" fill="#111" stroke="#111" stroke-width="0.12">−10</text>
<line x1="33.30" y1="658.14" x2="36.30" y2="658.14" stroke="#111" stroke-width="0.8"/>
<text x="29.70" y="660.91" font-size="7.7" text-anchor="end" fill="#111" stroke="#111" stroke-width="0.12">−20</text>
<line x1="54.40" y1="666.40" x2="54.40" y2="669.40" stroke="#111" stroke-width="0.8"/>
<text x="54.40" y="678.70" font-size="7.7" text-anchor="middle" fill="#111" stroke="#111" stroke-width="0.12">−10</text>
<line x1="82.10" y1="666.40" x2="82.10" y2="669.40" stroke="#111" stroke-width="0.8"/>
<text x="82.10" y="678.70" font-size="7.7" text-anchor="middle" fill="#111" stroke="#111" stroke-width="0.12">0</text>
<line x1="109.80" y1="666.40" x2="109.80" y2="669.40" stroke="#111" stroke-width="0.8"/>
<text x="109.80" y="678.70" font-size="7.7" text-anchor="middle" fill="#111" stroke="#111" stroke-width="0.12">10</text>
<line x1="137.50" y1="666.40" x2="137.50" y2="669.40" stroke="#111" stroke-width="0.8"/>
<text x="137.50" y="678.70" font-size="7.7" text-anchor="middle" fill="#111" stroke="#111" stroke-width="0.12">20</text>
<text x="92.50" y="691.50" font-size="8.2" text-anchor="middle" fill="#111" stroke="#111" stroke-width="0.12" textLength="23.00" lengthAdjust="spacingAndGlyphs">t-SNE 1</text>
<text x="13.90" y="632.35" font-size="8.8" text-anchor="middle" fill="#111" stroke="#111" stroke-width="0.12" textLength="23.30" lengthAdjust="spacingAndGlyphs" transform="rotate(-90 13.90 632.35)">t-SNE 2</text>
<defs><linearGradient id="gM" x1="0" y1="1" x2="0" y2="0"><stop offset="0.0" stop-color="#440154"/><stop offset="0.125" stop-color="#472c7a"/><stop offset="0.25" stop-color="#3b518b"/><stop offset="0.375" stop-color="#2c718e"/><stop offset="0.5" stop-color="#21908d"/><stop offset="0.625" stop-color="#27ad81"/><stop offset="0.75" stop-color="#5cc863"/><stop offset="0.875" stop-color="#aadc32"/><stop offset="1.0" stop-color="#fde725"/></linearGradient></defs>
<rect x="147.7" y="619.4" width="5.40" height="31.80" fill="url(#gM)"/>
<line x1="147.70" y1="624.60" x2="148.90" y2="624.60" stroke="#fff" stroke-width="0.4"/>
<line x1="151.90" y1="624.60" x2="153.10" y2="624.60" stroke="#fff" stroke-width="0.4"/>
<text x="155.40" y="626.94" font-size="6.5" text-anchor="start" fill="#333" stroke="#333" stroke-width="0.12">7.5</text>
<line x1="147.70" y1="632.30" x2="148.90" y2="632.30" stroke="#fff" stroke-width="0.4"/>
<line x1="151.90" y1="632.30" x2="153.10" y2="632.30" stroke="#fff" stroke-width="0.4"/>
<text x="155.40" y="634.64" font-size="6.5" text-anchor="start" fill="#333" stroke="#333" stroke-width="0.12">5.0</text>
<line x1="147.70" y1="640.60" x2="148.90" y2="640.60" stroke="#fff" stroke-width="0.4"/>
<line x1="151.90" y1="640.60" x2="153.10" y2="640.60" stroke="#fff" stroke-width="0.4"/>
<text x="155.40" y="642.94" font-size="6.5" text-anchor="start" fill="#333" stroke="#333" stroke-width="0.12">2.5</text>
<line x1="147.70" y1="648.80" x2="148.90" y2="648.80" stroke="#fff" stroke-width="0.4"/>
<line x1="151.90" y1="648.80" x2="153.10" y2="648.80" stroke="#fff" stroke-width="0.4"/>
<text x="155.40" y="651.14" font-size="6.5" text-anchor="start" fill="#333" stroke="#333" stroke-width="0.12">0.0</text>
<text x="147.70" y="615.60" font-size="6.6" text-anchor="start" fill="#333" stroke="#333" stroke-width="0.12" textLength="14.60" lengthAdjust="spacingAndGlyphs">Hes6</text>
<text x="178.10" y="593.80" font-size="12" text-anchor="start" fill="#000" stroke="#000" stroke-width="0.12" font-weight="bold">N</text>
<circle cx="217.97" cy="599.08" r="1.3" fill="#472a78"/>
<circle cx="231.94" cy="597.66" r="1.3" fill="#461768"/>
<circle cx="244.04" cy="598.09" r="1.3" fill="#440255"/>
<circle cx="252.50" cy="598.95" r="1.3" fill="#440154"/>
<circle cx="227.28" cy="600.23" r="1.3" fill="#440154"/>
<circle cx="230.24" cy="600.79" r="1.3" fill="#451061"/>
<circle cx="233.21" cy="600.36" r="1.3" fill="#440154"/>
<circle cx="235.32" cy="599.80" r="1.3" fill="#440154"/>
<circle cx="249.29" cy="600.36" r="1.3" fill="#450a5c"/>
<circle cx="245.90" cy="601.65" r="1.3" fill="#450e60"/>
<circle cx="253.35" cy="601.95" r="1.3" fill="#440154"/>
<circle cx="217.55" cy="603.58" r="1.3" fill="#472574"/>
<circle cx="222.03" cy="602.94" r="1.3" fill="#440154"/>
<circle cx="225.59" cy="602.51" r="1.3" fill="#433a80"/>
<circle cx="228.55" cy="604.01" r="1.3" fill="#461d6d"/>
<circle cx="235.75" cy="603.79" r="1.3" fill="#440457"/>
<circle cx="239.13" cy="603.92" r="1.3" fill="#462f7b"/>
<circle cx="244.21" cy="604.78" r="1.3" fill="#451061"/>
<circle cx="247.60" cy="604.22" r="1.3" fill="#46206f"/>
<circle cx="217.97" cy="606.24" r="1.3" fill="#451263"/>
<circle cx="222.63" cy="606.07" r="1.3" fill="#472a78"/>
<circle cx="223.90" cy="607.87" r="1.3" fill="#472977"/>
<circle cx="229.82" cy="608.30" r="1.3" fill="#440154"/>
<circle cx="242.52" cy="607.65" r="1.3" fill="#440154"/>
<circle cx="247.60" cy="607.87" r="1.3" fill="#461868"/>
<circle cx="252.50" cy="608.64" r="1.3" fill="#450a5c"/>
<circle cx="219.24" cy="609.15" r="1.3" fill="#440154"/>
<circle cx="234.48" cy="609.80" r="1.3" fill="#413d82"/>
<circle cx="244.63" cy="609.80" r="1.3" fill="#440154"/>
<circle cx="251.83" cy="610.23" r="1.3" fill="#440154"/>
<circle cx="222.63" cy="611.30" r="1.3" fill="#440154"/>
<circle cx="234.48" cy="611.94" r="1.3" fill="#461d6d"/>
<circle cx="247.60" cy="611.21" r="1.3" fill="#433880"/>
<circle cx="227.28" cy="613.23" r="1.3" fill="#450a5c"/>
<circle cx="239.13" cy="613.44" r="1.3" fill="#440658"/>
<circle cx="245.48" cy="613.23" r="1.3" fill="#451364"/>
<circle cx="220.09" cy="615.16" r="1.3" fill="#440759"/>
<circle cx="235.75" cy="616.01" r="1.3" fill="#451162"/>
<circle cx="230.24" cy="617.09" r="1.3" fill="#440154"/>
<circle cx="237.01" cy="615.54" r="1.3" fill="#461a6a"/>
<circle cx="230.24" cy="619.19" r="1.3" fill="#461969"/>
<circle cx="241.50" cy="616.32" r="1.3" fill="#440154"/>
<circle cx="245.06" cy="617.04" r="1.3" fill="#45327d"/>
<circle cx="250.56" cy="617.47" r="1.3" fill="#404184"/>
<circle cx="244.63" cy="618.33" r="1.3" fill="#39568b"/>
<circle cx="245.90" cy="619.19" r="1.3" fill="#44085a"/>
<circle cx="236.17" cy="619.06" r="1.3" fill="#440154"/>
<circle cx="245.90" cy="620.77" r="1.3" fill="#440154"/>
<circle cx="250.98" cy="620.05" r="1.3" fill="#39558b"/>
<circle cx="240.40" cy="622.49" r="1.3" fill="#440558"/>
<circle cx="250.98" cy="623.69" r="1.3" fill="#450b5d"/>
<circle cx="243.36" cy="625.41" r="1.3" fill="#2c718e"/>
<circle cx="248.44" cy="626.48" r="1.3" fill="#450a5c"/>
<circle cx="247.17" cy="627.34" r="1.3" fill="#440355"/>
<circle cx="254.37" cy="627.12" r="1.3" fill="#45337d"/>
<circle cx="255.21" cy="613.61" r="1.3" fill="#404385"/>
<circle cx="254.37" cy="611.47" r="1.3" fill="#2f6c8d"/>
<circle cx="261.14" cy="611.68" r="1.3" fill="#440456"/>
<circle cx="269.18" cy="619.19" r="1.3" fill="#440154"/>
<circle cx="259.45" cy="621.12" r="1.3" fill="#45327d"/>
<circle cx="251.83" cy="624.33" r="1.3" fill="#37598c"/>
<circle cx="257.75" cy="624.76" r="1.3" fill="#440154"/>
<circle cx="260.72" cy="625.84" r="1.3" fill="#461c6c"/>
<circle cx="264.10" cy="626.05" r="1.3" fill="#3e4987"/>
<circle cx="259.87" cy="627.98" r="1.3" fill="#3f4585"/>
<circle cx="270.45" cy="628.62" r="1.3" fill="#423d82"/>
<circle cx="262.83" cy="629.48" r="1.3" fill="#472a79"/>
<circle cx="295.31" cy="626.69" r="1.3" fill="#29798e"/>
<circle cx="280.50" cy="629.11" r="1.3" fill="#2c728e"/>
<circle cx="286.32" cy="629.91" r="1.3" fill="#94d640"/>
<circle cx="281.03" cy="631.79" r="1.3" fill="#31678d"/>
<circle cx="289.49" cy="632.05" r="1.3" fill="#9ed939"/>
<circle cx="294.78" cy="631.52" r="1.3" fill="#365c8c"/>
<circle cx="299.55" cy="630.98" r="1.3" fill="#fde725"/>
<circle cx="282.09" cy="633.13" r="1.3" fill="#404184"/>
<circle cx="295.31" cy="633.13" r="1.3" fill="#d5e22b"/>
<circle cx="300.07" cy="634.20" r="1.3" fill="#2b738e"/>
<circle cx="285.26" cy="635.54" r="1.3" fill="#249d87"/>
<circle cx="289.49" cy="636.34" r="1.3" fill="#24a086"/>
<circle cx="309.60" cy="635.00" r="1.3" fill="#26818d"/>
<circle cx="288.44" cy="637.95" r="1.3" fill="#fde725"/>
<circle cx="293.73" cy="638.22" r="1.3" fill="#26a883"/>
<circle cx="292.67" cy="639.29" r="1.3" fill="#365b8c"/>
<circle cx="311.71" cy="637.41" r="1.3" fill="#52c369"/>
<circle cx="307.48" cy="638.75" r="1.3" fill="#58c665"/>
<circle cx="318.06" cy="637.68" r="1.3" fill="#32658d"/>
<circle cx="321.24" cy="638.75" r="1.3" fill="#48be6e"/>
<circle cx="303.25" cy="640.36" r="1.3" fill="#26a784"/>
<circle cx="309.07" cy="640.09" r="1.3" fill="#66cb5d"/>
<circle cx="313.30" cy="639.83" r="1.3" fill="#58c665"/>
<circle cx="301.66" cy="641.70" r="1.3" fill="#25a385"/>
<circle cx="297.43" cy="642.24" r="1.3" fill="#228e8d"/>
<circle cx="319.12" cy="640.63" r="1.3" fill="#72ce55"/>
<circle cx="309.60" cy="641.70" r="1.3" fill="#33b37a"/>
<circle cx="318.06" cy="641.70" r="1.3" fill="#3b528b"/>
<circle cx="312.77" cy="642.77" r="1.3" fill="#24878d"/>
<circle cx="308.01" cy="643.31" r="1.3" fill="#238a8d"/>
<circle cx="309.60" cy="644.92" r="1.3" fill="#22968b"/>
<circle cx="317.00" cy="645.19" r="1.3" fill="#fde725"/>
<circle cx="320.18" cy="644.65" r="1.3" fill="#21908d"/>
<circle cx="216.26" cy="651.42" r="1.3" fill="#27ac82"/>
<circle cx="215.94" cy="652.70" r="1.3" fill="#d9e22b"/>
<circle cx="222.93" cy="652.22" r="1.3" fill="#27ad81"/>
<circle cx="211.50" cy="653.99" r="1.3" fill="#26a983"/>
<circle cx="215.62" cy="655.12" r="1.3" fill="#98d73d"/>
<circle cx="216.89" cy="655.60" r="1.3" fill="#239989"/>
<circle cx="225.47" cy="655.60" r="1.3" fill="#239989"/>
<circle cx="212.13" cy="657.53" r="1.3" fill="#3db874"/>
<circle cx="215.62" cy="657.85" r="1.3" fill="#26a783"/>
<circle cx="226.10" cy="656.56" r="1.3" fill="#355d8c"/>
<circle cx="226.74" cy="658.17" r="1.3" fill="#43377f"/>
<circle cx="230.23" cy="658.17" r="1.3" fill="#25858d"/>
<circle cx="216.89" cy="661.07" r="1.3" fill="#aadc32"/>
<circle cx="219.75" cy="660.75" r="1.3" fill="#287d8e"/>
<circle cx="222.29" cy="660.42" r="1.3" fill="#7ed14d"/>
<circle cx="224.20" cy="661.39" r="1.3" fill="#26a783"/>
<circle cx="225.15" cy="662.35" r="1.3" fill="#2a778e"/>
<circle cx="220.07" cy="663.16" r="1.3" fill="#440154"/>
<circle cx="218.48" cy="659.78" r="1.3" fill="#239b88"/>
<circle cx="221.66" cy="659.46" r="1.3" fill="#29798e"/>
<circle cx="292.65" cy="636.10" r="1.3" fill="#3d4a88"/>
<circle cx="220.63" cy="609.55" r="1.3" fill="#461c6c"/>
<circle cx="227.51" cy="655.73" r="1.3" fill="#238b8d"/>
<circle cx="243.60" cy="617.33" r="1.3" fill="#3c4c89"/>
<circle cx="303.91" cy="642.17" r="1.3" fill="#25838d"/>
<circle cx="303.28" cy="640.96" r="1.3" fill="#28ae80"/>
<circle cx="226.74" cy="654.61" r="1.3" fill="#2e6c8e"/>
<circle cx="234.97" cy="603.29" r="1.3" fill="#472977"/>
<circle cx="253.66" cy="614.36" r="1.3" fill="#413f83"/>
<circle cx="231.89" cy="617.23" r="1.3" fill="#440154"/>
<circle cx="250.03" cy="624.18" r="1.3" fill="#3f4485"/>
<circle cx="220.31" cy="651.03" r="1.3" fill="#21918d"/>
<circle cx="239.37" cy="612.94" r="1.3" fill="#450a5c"/>
<circle cx="260.37" cy="625.98" r="1.3" fill="#440154"/>
<circle cx="255.44" cy="625.59" r="1.3" fill="#2e6d8e"/>
<circle cx="290.69" cy="632.88" r="1.3" fill="#287c8e"/>
<circle cx="248.51" cy="618.41" r="1.3" fill="#25848d"/>
<circle cx="242.84" cy="617.70" r="1.3" fill="#451162"/>
<circle cx="314.72" cy="641.22" r="1.3" fill="#25a584"/>
<circle cx="294.12" cy="634.24" r="1.3" fill="#25a186"/>
<circle cx="244.42" cy="609.90" r="1.3" fill="#451364"/>
<circle cx="251.06" cy="618.54" r="1.3" fill="#2fb17c"/>
<circle cx="289.54" cy="638.13" r="1.3" fill="#23898d"/>
<circle cx="321.33" cy="635.49" r="1.3" fill="#fde725"/>
<circle cx="294.49" cy="641.62" r="1.3" fill="#50c26a"/>
<circle cx="219.50" cy="614.99" r="1.3" fill="#440154"/>
<circle cx="309.76" cy="633.28" r="1.3" fill="#a2da37"/>
<circle cx="253.98" cy="609.89" r="1.3" fill="#462372"/>
<circle cx="253.56" cy="601.97" r="1.3" fill="#472675"/>
<circle cx="306.94" cy="639.80" r="1.3" fill="#375a8c"/>
<circle cx="220.01" cy="661.20" r="1.3" fill="#27ad81"/>
<circle cx="260.21" cy="625.20" r="1.3" fill="#462171"/>
<circle cx="245.84" cy="612.64" r="1.3" fill="#450c5e"/>
<circle cx="245.93" cy="616.86" r="1.3" fill="#45317c"/>
<circle cx="249.59" cy="629.00" r="1.3" fill="#423b81"/>
<circle cx="226.52" cy="603.82" r="1.3" fill="#44347e"/>
<circle cx="245.37" cy="611.84" r="1.3" fill="#461869"/>
<circle cx="218.98" cy="609.95" r="1.3" fill="#440154"/>
<circle cx="250.98" cy="628.56" r="1.3" fill="#2b758e"/>
<circle cx="242.48" cy="620.11" r="1.3" fill="#413d82"/>
<line x1="207.50" y1="597.30" x2="207.50" y2="667.00" stroke="#111" stroke-width="1"/>
<line x1="207.00" y1="666.50" x2="326.90" y2="666.50" stroke="#111" stroke-width="1"/>
<line x1="204.50" y1="610.50" x2="207.50" y2="610.50" stroke="#111" stroke-width="0.8"/>
<text x="200.90" y="613.27" font-size="7.7" text-anchor="end" fill="#111" stroke="#111" stroke-width="0.12">10</text>
<line x1="204.50" y1="626.50" x2="207.50" y2="626.50" stroke="#111" stroke-width="0.8"/>
<text x="200.90" y="629.27" font-size="7.7" text-anchor="end" fill="#111" stroke="#111" stroke-width="0.12">0</text>
<line x1="204.50" y1="642.50" x2="207.50" y2="642.50" stroke="#111" stroke-width="0.8"/>
<text x="200.90" y="645.27" font-size="7.7" text-anchor="end" fill="#111" stroke="#111" stroke-width="0.12">−10</text>
<line x1="204.50" y1="658.50" x2="207.50" y2="658.50" stroke="#111" stroke-width="0.8"/>
<text x="200.90" y="661.27" font-size="7.7" text-anchor="end" fill="#111" stroke="#111" stroke-width="0.12">−20</text>
<line x1="226.90" y1="666.50" x2="226.90" y2="669.50" stroke="#111" stroke-width="0.8"/>
<text x="226.90" y="678.80" font-size="7.7" text-anchor="middle" fill="#111" stroke="#111" stroke-width="0.12">−10</text>
<line x1="256.50" y1="666.50" x2="256.50" y2="669.50" stroke="#111" stroke-width="0.8"/>
<text x="256.50" y="678.80" font-size="7.7" text-anchor="middle" fill="#111" stroke="#111" stroke-width="0.12">0</text>
<line x1="286.10" y1="666.50" x2="286.10" y2="669.50" stroke="#111" stroke-width="0.8"/>
<text x="286.10" y="678.80" font-size="7.7" text-anchor="middle" fill="#111" stroke="#111" stroke-width="0.12">10</text>
<line x1="315.70" y1="666.50" x2="315.70" y2="669.50" stroke="#111" stroke-width="0.8"/>
<text x="315.70" y="678.80" font-size="7.7" text-anchor="middle" fill="#111" stroke="#111" stroke-width="0.12">20</text>
<text x="270.95" y="691.50" font-size="8.2" text-anchor="middle" fill="#111" stroke="#111" stroke-width="0.12" textLength="22.70" lengthAdjust="spacingAndGlyphs">t-SNE 1</text>
<text x="185.10" y="631.50" font-size="8.8" text-anchor="middle" fill="#111" stroke="#111" stroke-width="0.12" textLength="24.10" lengthAdjust="spacingAndGlyphs" transform="rotate(-90 185.10 631.50)">t-SNE 2</text>
<defs><linearGradient id="gN" x1="0" y1="1" x2="0" y2="0"><stop offset="0.0" stop-color="#440154"/><stop offset="0.125" stop-color="#472c7a"/><stop offset="0.25" stop-color="#3b518b"/><stop offset="0.375" stop-color="#2c718e"/><stop offset="0.5" stop-color="#21908d"/><stop offset="0.625" stop-color="#27ad81"/><stop offset="0.75" stop-color="#5cc863"/><stop offset="0.875" stop-color="#aadc32"/><stop offset="1.0" stop-color="#fde725"/></linearGradient></defs>
<rect x="325.4" y="619.4" width="5.80" height="31.80" fill="url(#gN)"/>
<line x1="325.40" y1="625.20" x2="326.60" y2="625.20" stroke="#fff" stroke-width="0.4"/>
<line x1="330.00" y1="625.20" x2="331.20" y2="625.20" stroke="#fff" stroke-width="0.4"/>
<text x="334.20" y="627.54" font-size="6.5" text-anchor="start" fill="#333" stroke="#333" stroke-width="0.12">6</text>
<line x1="325.40" y1="633.50" x2="326.60" y2="633.50" stroke="#fff" stroke-width="0.4"/>
<line x1="330.00" y1="633.50" x2="331.20" y2="633.50" stroke="#fff" stroke-width="0.4"/>
<text x="334.20" y="635.84" font-size="6.5" text-anchor="start" fill="#333" stroke="#333" stroke-width="0.12">4</text>
<line x1="325.40" y1="641.50" x2="326.60" y2="641.50" stroke="#fff" stroke-width="0.4"/>
<line x1="330.00" y1="641.50" x2="331.20" y2="641.50" stroke="#fff" stroke-width="0.4"/>
<text x="334.20" y="643.84" font-size="6.5" text-anchor="start" fill="#333" stroke="#333" stroke-width="0.12">2</text>
<line x1="325.40" y1="649.60" x2="326.60" y2="649.60" stroke="#fff" stroke-width="0.4"/>
<line x1="330.00" y1="649.60" x2="331.20" y2="649.60" stroke="#fff" stroke-width="0.4"/>
<text x="334.20" y="651.94" font-size="6.5" text-anchor="start" fill="#333" stroke="#333" stroke-width="0.12">0</text>
<text x="325.00" y="615.20" font-size="6.6" text-anchor="start" fill="#333" stroke="#333" stroke-width="0.12" textLength="12.50" lengthAdjust="spacingAndGlyphs">Dlk1</text>
<text x="347.30" y="593.80" font-size="12" text-anchor="start" fill="#000" stroke="#000" stroke-width="0.12" font-weight="bold">O</text>
<circle cx="388.77" cy="598.95" r="1.3" fill="#461767"/>
<circle cx="402.27" cy="597.54" r="1.3" fill="#440154"/>
<circle cx="413.96" cy="597.97" r="1.3" fill="#413e82"/>
<circle cx="422.14" cy="598.82" r="1.3" fill="#440154"/>
<circle cx="397.77" cy="600.10" r="1.3" fill="#31678d"/>
<circle cx="400.63" cy="600.65" r="1.3" fill="#3e4686"/>
<circle cx="403.49" cy="600.23" r="1.3" fill="#46196a"/>
<circle cx="405.54" cy="599.67" r="1.3" fill="#423b81"/>
<circle cx="419.03" cy="600.23" r="1.3" fill="#365b8c"/>
<circle cx="415.76" cy="601.50" r="1.3" fill="#287e8e"/>
<circle cx="422.96" cy="601.80" r="1.3" fill="#440457"/>
<circle cx="388.36" cy="603.42" r="1.3" fill="#3d4b88"/>
<circle cx="392.70" cy="602.78" r="1.3" fill="#433980"/>
<circle cx="396.13" cy="602.36" r="1.3" fill="#461d6c"/>
<circle cx="398.99" cy="603.85" r="1.3" fill="#3d4c89"/>
<circle cx="405.95" cy="603.63" r="1.3" fill="#433980"/>
<circle cx="409.22" cy="603.76" r="1.3" fill="#3d4b88"/>
<circle cx="414.12" cy="604.62" r="1.3" fill="#451364"/>
<circle cx="417.40" cy="604.06" r="1.3" fill="#472776"/>
<circle cx="388.77" cy="606.06" r="1.3" fill="#44357e"/>
<circle cx="393.27" cy="605.89" r="1.3" fill="#472876"/>
<circle cx="394.50" cy="607.68" r="1.3" fill="#472876"/>
<circle cx="400.22" cy="608.11" r="1.3" fill="#450a5c"/>
<circle cx="412.49" cy="607.47" r="1.3" fill="#472c7a"/>
<circle cx="417.40" cy="607.68" r="1.3" fill="#462e7b"/>
<circle cx="422.14" cy="608.45" r="1.3" fill="#472574"/>
<circle cx="390.00" cy="608.96" r="1.3" fill="#472775"/>
<circle cx="404.72" cy="609.60" r="1.3" fill="#413f83"/>
<circle cx="414.53" cy="609.60" r="1.3" fill="#450e60"/>
<circle cx="421.49" cy="610.03" r="1.3" fill="#413f83"/>
<circle cx="393.27" cy="611.09" r="1.3" fill="#462171"/>
<circle cx="404.72" cy="611.73" r="1.3" fill="#472978"/>
<circle cx="417.40" cy="611.01" r="1.3" fill="#46206f"/>
<circle cx="397.77" cy="613.01" r="1.3" fill="#3f4586"/>
<circle cx="409.22" cy="613.22" r="1.3" fill="#404184"/>
<circle cx="415.35" cy="613.01" r="1.3" fill="#472776"/>
<circle cx="390.82" cy="614.93" r="1.3" fill="#451667"/>
<circle cx="405.95" cy="615.78" r="1.3" fill="#33628d"/>
<circle cx="400.63" cy="616.85" r="1.3" fill="#433a80"/>
<circle cx="407.17" cy="615.31" r="1.3" fill="#440154"/>
<circle cx="400.63" cy="618.93" r="1.3" fill="#472776"/>
<circle cx="411.51" cy="616.08" r="1.3" fill="#26a883"/>
<circle cx="414.94" cy="616.80" r="1.3" fill="#59c665"/>
<circle cx="420.26" cy="617.23" r="1.3" fill="#25a485"/>
<circle cx="414.53" cy="618.08" r="1.3" fill="#21908d"/>
<circle cx="415.76" cy="618.93" r="1.3" fill="#97d73e"/>
<circle cx="406.36" cy="618.81" r="1.3" fill="#365b8c"/>
<circle cx="415.76" cy="620.51" r="1.3" fill="#2b748e"/>
<circle cx="420.67" cy="619.79" r="1.3" fill="#23988a"/>
<circle cx="410.44" cy="622.22" r="1.3" fill="#239889"/>
<circle cx="420.67" cy="623.41" r="1.3" fill="#26a783"/>
<circle cx="413.31" cy="625.11" r="1.3" fill="#27ac81"/>
<circle cx="418.21" cy="626.18" r="1.3" fill="#74ce54"/>
<circle cx="416.99" cy="627.03" r="1.3" fill="#2d6f8e"/>
<circle cx="423.94" cy="626.82" r="1.3" fill="#fde725"/>
<circle cx="424.76" cy="613.39" r="1.3" fill="#51c269"/>
<circle cx="423.94" cy="611.26" r="1.3" fill="#228e8d"/>
<circle cx="430.48" cy="611.48" r="1.3" fill="#22968a"/>
<circle cx="438.25" cy="618.93" r="1.3" fill="#239a89"/>
<circle cx="428.85" cy="620.85" r="1.3" fill="#3b518b"/>
<circle cx="421.49" cy="624.05" r="1.3" fill="#42bb72"/>
<circle cx="427.21" cy="624.47" r="1.3" fill="#27808e"/>
<circle cx="430.07" cy="625.54" r="1.3" fill="#23978a"/>
<circle cx="433.34" cy="625.75" r="1.3" fill="#26818d"/>
<circle cx="429.26" cy="627.67" r="1.3" fill="#22958b"/>
<circle cx="439.48" cy="628.31" r="1.3" fill="#28ad81"/>
<circle cx="432.12" cy="629.16" r="1.3" fill="#29798e"/>
<circle cx="463.50" cy="626.39" r="1.3" fill="#fde725"/>
<circle cx="449.19" cy="628.79" r="1.3" fill="#43bb71"/>
<circle cx="454.81" cy="629.59" r="1.3" fill="#6dcc58"/>
<circle cx="449.70" cy="631.45" r="1.3" fill="#8ed543"/>
<circle cx="457.88" cy="631.72" r="1.3" fill="#bcde2f"/>
<circle cx="462.99" cy="631.19" r="1.3" fill="#9fd939"/>
<circle cx="467.59" cy="630.65" r="1.3" fill="#92d641"/>
<circle cx="450.72" cy="632.78" r="1.3" fill="#b2dd31"/>
<circle cx="463.50" cy="632.78" r="1.3" fill="#a9dc33"/>
<circle cx="468.10" cy="633.85" r="1.3" fill="#51c269"/>
<circle cx="453.79" cy="635.18" r="1.3" fill="#b8de30"/>
<circle cx="457.88" cy="635.98" r="1.3" fill="#62c95f"/>
<circle cx="477.30" cy="634.65" r="1.3" fill="#48be6e"/>
<circle cx="456.86" cy="637.58" r="1.3" fill="#88d347"/>
<circle cx="461.97" cy="637.84" r="1.3" fill="#6bcc59"/>
<circle cx="460.95" cy="638.91" r="1.3" fill="#9fd939"/>
<circle cx="479.35" cy="637.05" r="1.3" fill="#a2da37"/>
<circle cx="475.26" cy="638.38" r="1.3" fill="#64ca5e"/>
<circle cx="485.48" cy="637.31" r="1.3" fill="#a4da36"/>
<circle cx="488.55" cy="638.38" r="1.3" fill="#89d446"/>
<circle cx="471.17" cy="639.98" r="1.3" fill="#31b27b"/>
<circle cx="476.79" cy="639.71" r="1.3" fill="#fde725"/>
<circle cx="480.88" cy="639.44" r="1.3" fill="#8dd544"/>
<circle cx="469.64" cy="641.31" r="1.3" fill="#83d24b"/>
<circle cx="465.55" cy="641.84" r="1.3" fill="#cae02d"/>
<circle cx="486.50" cy="640.24" r="1.3" fill="#3bb776"/>
<circle cx="477.30" cy="641.31" r="1.3" fill="#5dc862"/>
<circle cx="485.48" cy="641.31" r="1.3" fill="#d0e12c"/>
<circle cx="480.37" cy="642.37" r="1.3" fill="#27ab82"/>
<circle cx="475.77" cy="642.91" r="1.3" fill="#55c467"/>
<circle cx="477.30" cy="644.50" r="1.3" fill="#fde725"/>
<circle cx="484.46" cy="644.77" r="1.3" fill="#b7de30"/>
<circle cx="487.53" cy="644.24" r="1.3" fill="#4fc16a"/>
<circle cx="387.12" cy="650.96" r="1.3" fill="#472776"/>
<circle cx="386.81" cy="652.24" r="1.3" fill="#413f83"/>
<circle cx="393.56" cy="651.76" r="1.3" fill="#440759"/>
<circle cx="382.52" cy="653.52" r="1.3" fill="#472675"/>
<circle cx="386.50" cy="654.64" r="1.3" fill="#45327d"/>
<circle cx="387.73" cy="655.12" r="1.3" fill="#472776"/>
<circle cx="396.01" cy="655.12" r="1.3" fill="#38588c"/>
<circle cx="383.13" cy="657.03" r="1.3" fill="#472a78"/>
<circle cx="386.50" cy="657.35" r="1.3" fill="#46206f"/>
<circle cx="396.63" cy="656.08" r="1.3" fill="#462e7b"/>
<circle cx="397.24" cy="657.67" r="1.3" fill="#461768"/>
<circle cx="400.62" cy="657.67" r="1.3" fill="#440759"/>
<circle cx="387.73" cy="660.55" r="1.3" fill="#461d6d"/>
<circle cx="390.49" cy="660.23" r="1.3" fill="#450d5f"/>
<circle cx="392.95" cy="659.91" r="1.3" fill="#33618d"/>
<circle cx="394.79" cy="660.87" r="1.3" fill="#2f6a8d"/>
<circle cx="395.71" cy="661.83" r="1.3" fill="#461868"/>
<circle cx="390.80" cy="662.63" r="1.3" fill="#440154"/>
<circle cx="389.27" cy="659.27" r="1.3" fill="#461869"/>
<circle cx="392.33" cy="658.95" r="1.3" fill="#413d82"/>
<circle cx="460.93" cy="635.74" r="1.3" fill="#63ca5e"/>
<circle cx="391.34" cy="609.36" r="1.3" fill="#413e82"/>
<circle cx="397.99" cy="655.24" r="1.3" fill="#423c81"/>
<circle cx="413.53" cy="617.09" r="1.3" fill="#22948b"/>
<circle cx="471.81" cy="641.77" r="1.3" fill="#7ed14e"/>
<circle cx="471.20" cy="640.57" r="1.3" fill="#50c26a"/>
<circle cx="397.24" cy="654.13" r="1.3" fill="#461767"/>
<circle cx="405.20" cy="603.14" r="1.3" fill="#440154"/>
<circle cx="423.26" cy="614.14" r="1.3" fill="#23978a"/>
<circle cx="402.22" cy="616.99" r="1.3" fill="#38578c"/>
<circle cx="419.75" cy="623.89" r="1.3" fill="#24a086"/>
<circle cx="391.03" cy="650.58" r="1.3" fill="#3d4c89"/>
<circle cx="409.45" cy="612.73" r="1.3" fill="#45327d"/>
<circle cx="429.74" cy="625.68" r="1.3" fill="#2c708e"/>
<circle cx="424.98" cy="625.30" r="1.3" fill="#26a883"/>
<circle cx="459.03" cy="632.54" r="1.3" fill="#70cd56"/>
<circle cx="418.28" cy="618.16" r="1.3" fill="#287b8e"/>
<circle cx="412.80" cy="617.46" r="1.3" fill="#239a89"/>
<circle cx="482.25" cy="640.83" r="1.3" fill="#e8e428"/>
<circle cx="462.35" cy="633.90" r="1.3" fill="#e8e428"/>
<circle cx="414.33" cy="609.70" r="1.3" fill="#461768"/>
<circle cx="420.75" cy="618.29" r="1.3" fill="#21908d"/>
<circle cx="457.92" cy="637.75" r="1.3" fill="#8dd444"/>
<circle cx="488.64" cy="635.14" r="1.3" fill="#a7db34"/>
<circle cx="462.70" cy="641.23" r="1.3" fill="#efe527"/>
<circle cx="390.25" cy="614.77" r="1.3" fill="#451162"/>
<circle cx="477.47" cy="632.94" r="1.3" fill="#53c368"/>
<circle cx="423.56" cy="609.69" r="1.3" fill="#472574"/>
<circle cx="423.16" cy="601.83" r="1.3" fill="#440154"/>
<circle cx="474.74" cy="639.42" r="1.3" fill="#86d348"/>
<circle cx="390.74" cy="660.68" r="1.3" fill="#44367e"/>
<circle cx="429.59" cy="624.91" r="1.3" fill="#345f8c"/>
<circle cx="415.70" cy="612.43" r="1.3" fill="#3f4585"/>
<circle cx="415.79" cy="616.62" r="1.3" fill="#22948b"/>
<circle cx="419.33" cy="628.68" r="1.3" fill="#25a485"/>
<circle cx="397.03" cy="603.66" r="1.3" fill="#461c6c"/>
<circle cx="415.24" cy="611.63" r="1.3" fill="#462170"/>
<circle cx="389.75" cy="609.76" r="1.3" fill="#472574"/>
<circle cx="420.67" cy="628.25" r="1.3" fill="#22958b"/>
<circle cx="412.46" cy="619.85" r="1.3" fill="#365b8c"/>
<line x1="378.50" y1="597.30" x2="378.50" y2="666.10" stroke="#111" stroke-width="1"/>
<line x1="378.00" y1="665.60" x2="495.00" y2="665.60" stroke="#111" stroke-width="1"/>
<line x1="375.50" y1="610.30" x2="378.50" y2="610.30" stroke="#111" stroke-width="0.8"/>
<text x="371.90" y="613.07" font-size="7.7" text-anchor="end" fill="#111" stroke="#111" stroke-width="0.12">10</text>
<line x1="375.50" y1="626.20" x2="378.50" y2="626.20" stroke="#111" stroke-width="0.8"/>
<text x="371.90" y="628.97" font-size="7.7" text-anchor="end" fill="#111" stroke="#111" stroke-width="0.12">0</text>
<line x1="375.50" y1="642.10" x2="378.50" y2="642.10" stroke="#111" stroke-width="0.8"/>
<text x="371.90" y="644.87" font-size="7.7" text-anchor="end" fill="#111" stroke="#111" stroke-width="0.12">−10</text>
<line x1="375.50" y1="658.00" x2="378.50" y2="658.00" stroke="#111" stroke-width="0.8"/>
<text x="371.90" y="660.77" font-size="7.7" text-anchor="end" fill="#111" stroke="#111" stroke-width="0.12">−20</text>
<line x1="397.40" y1="665.60" x2="397.40" y2="668.60" stroke="#111" stroke-width="0.8"/>
<text x="397.40" y="677.90" font-size="7.7" text-anchor="middle" fill="#111" stroke="#111" stroke-width="0.12">−10</text>
<line x1="426.00" y1="665.60" x2="426.00" y2="668.60" stroke="#111" stroke-width="0.8"/>
<text x="426.00" y="677.90" font-size="7.7" text-anchor="middle" fill="#111" stroke="#111" stroke-width="0.12">0</text>
<line x1="454.60" y1="665.60" x2="454.60" y2="668.60" stroke="#111" stroke-width="0.8"/>
<text x="454.60" y="677.90" font-size="7.7" text-anchor="middle" fill="#111" stroke="#111" stroke-width="0.12">10</text>
<line x1="483.20" y1="665.60" x2="483.20" y2="668.60" stroke="#111" stroke-width="0.8"/>
<text x="483.20" y="677.90" font-size="7.7" text-anchor="middle" fill="#111" stroke="#111" stroke-width="0.12">20</text>
<text x="440.20" y="691.50" font-size="8.2" text-anchor="middle" fill="#111" stroke="#111" stroke-width="0.12" textLength="23.00" lengthAdjust="spacingAndGlyphs">t-SNE 1</text>
<text x="354.70" y="634.15" font-size="8.8" text-anchor="middle" fill="#111" stroke="#111" stroke-width="0.12" textLength="24.30" lengthAdjust="spacingAndGlyphs" transform="rotate(-90 354.70 634.15)">t-SNE 2</text>
<defs><linearGradient id="gO" x1="0" y1="1" x2="0" y2="0"><stop offset="0.0" stop-color="#440154"/><stop offset="0.125" stop-color="#472c7a"/><stop offset="0.25" stop-color="#3b518b"/><stop offset="0.375" stop-color="#2c718e"/><stop offset="0.5" stop-color="#21908d"/><stop offset="0.625" stop-color="#27ad81"/><stop offset="0.75" stop-color="#5cc863"/><stop offset="0.875" stop-color="#aadc32"/><stop offset="1.0" stop-color="#fde725"/></linearGradient></defs>
<rect x="495.4" y="619.4" width="5.40" height="31.80" fill="url(#gO)"/>
<line x1="495.40" y1="624.60" x2="496.60" y2="624.60" stroke="#fff" stroke-width="0.4"/>
<line x1="499.60" y1="624.60" x2="500.80" y2="624.60" stroke="#fff" stroke-width="0.4"/>
<text x="503.70" y="626.94" font-size="6.5" text-anchor="start" fill="#333" stroke="#333" stroke-width="0.12">7.5</text>
<line x1="495.40" y1="632.30" x2="496.60" y2="632.30" stroke="#fff" stroke-width="0.4"/>
<line x1="499.60" y1="632.30" x2="500.80" y2="632.30" stroke="#fff" stroke-width="0.4"/>
<text x="503.70" y="634.64" font-size="6.5" text-anchor="start" fill="#333" stroke="#333" stroke-width="0.12">5.0</text>
<line x1="495.40" y1="640.60" x2="496.60" y2="640.60" stroke="#fff" stroke-width="0.4"/>
<line x1="499.60" y1="640.60" x2="500.80" y2="640.60" stroke="#fff" stroke-width="0.4"/>
<text x="503.70" y="642.94" font-size="6.5" text-anchor="start" fill="#333" stroke="#333" stroke-width="0.12">2.5</text>
<line x1="495.40" y1="648.80" x2="496.60" y2="648.80" stroke="#fff" stroke-width="0.4"/>
<line x1="499.60" y1="648.80" x2="500.80" y2="648.80" stroke="#fff" stroke-width="0.4"/>
<text x="503.70" y="651.14" font-size="6.5" text-anchor="start" fill="#333" stroke="#333" stroke-width="0.12">0.0</text>
<text x="495.00" y="615.60" font-size="6.6" text-anchor="start" fill="#333" stroke="#333" stroke-width="0.12" textLength="11.20" lengthAdjust="spacingAndGlyphs">Dll3</text>
<polygon points="288.50,132.05 289.75,132.13 291.00,132.21 292.26,132.29 293.51,132.37 294.76,132.46 296.01,132.54 297.26,132.62 298.52,132.70 299.77,132.78 301.02,132.86 302.27,132.94 303.52,133.02 304.77,133.10 306.03,133.18 307.28,133.26 308.53,133.34 309.78,133.42 311.03,133.50 312.29,133.58 313.54,133.66 314.79,133.74 316.04,133.82 317.29,133.90 318.55,133.98 319.80,134.07 321.05,134.15 322.30,134.23 323.55,134.31 324.81,134.39 326.06,134.47 327.31,134.55 328.56,134.63 329.81,134.71 331.06,134.79 332.32,134.87 333.57,134.95 334.82,135.03 336.07,135.11 337.32,135.19 338.58,135.37 339.83,135.66 341.08,135.94 342.33,136.22 343.58,136.50 344.84,136.78 346.09,137.06 347.34,137.35 348.59,137.63 349.84,137.91 351.09,138.19 352.35,138.47 353.60,138.75 354.85,139.04 356.10,139.32 357.35,139.60 358.61,139.88 359.86,140.16 361.11,140.45 362.36,140.73 363.61,141.01 364.87,141.29 366.12,141.57 367.37,141.85 368.62,142.14 369.87,142.42 371.13,142.70 372.38,142.98 373.63,143.26 374.88,143.54 376.13,143.83 377.38,144.11 378.64,144.39 379.89,144.67 381.14,144.95 382.39,145.24 383.64,145.52 384.90,145.80 386.15,146.08 387.40,146.36 387.40,148.22 386.15,147.94 384.90,147.65 383.64,147.37 382.39,147.09 381.14,146.81 379.89,146.53 378.64,146.25 377.38,145.96 376.13,145.68 374.88,145.40 373.63,145.12 372.38,144.84 371.13,144.55 369.87,144.27 368.62,143.99 367.37,143.71 366.12,143.43 364.87,143.15 363.61,142.86 362.36,142.58 361.11,142.30 359.86,142.02 358.61,141.74 357.35,141.45 356.10,141.17 354.85,140.89 353.60,140.61 352.35,140.33 351.09,140.05 349.84,139.76 348.59,139.48 347.34,139.20 346.09,138.92 344.84,138.64 343.58,138.36 342.33,138.07 341.08,137.79 339.83,137.51 338.58,137.23 337.32,137.05 336.07,136.97 334.82,136.89 333.57,136.81 332.32,136.73 331.06,136.64 329.81,136.56 328.56,136.48 327.31,136.40 326.06,136.32 324.81,136.24 323.55,136.16 322.30,136.08 321.05,136.00 319.80,135.92 318.55,135.84 317.29,135.76 316.04,135.68 314.79,135.60 313.54,135.52 312.29,135.44 311.03,135.36 309.78,135.28 308.53,135.20 307.28,135.12 306.03,135.03 304.77,134.95 303.52,134.87 302.27,134.79 301.02,134.71 299.77,134.63 298.52,134.55 297.26,134.47 296.01,134.39 294.76,134.31 293.51,134.23 292.26,134.15 291.00,134.07 289.75,133.99 288.50,133.91" fill="#f2b8c2" fill-opacity="0.85"/>
<polyline points="288.50,133.49 289.75,133.57 291.00,133.65 292.26,133.73 293.51,133.81 294.76,133.89 296.01,133.97 297.26,134.05 298.52,134.13 299.77,134.21 301.02,134.30 302.27,134.38 303.52,134.46 304.77,134.54 306.03,134.62 307.28,134.70 308.53,134.78 309.78,134.86 311.03,134.94 312.29,135.02 313.54,135.10 314.79,135.18 316.04,135.26 317.29,135.34 318.55,135.42 319.80,135.50 321.05,135.58 322.30,135.66 323.55,135.74 324.81,135.82 326.06,135.91 327.31,135.99 328.56,136.07 329.81,136.15 331.06,136.23 332.32,136.31 333.57,136.39 334.82,136.47 336.07,136.55 337.32,136.63 338.58,136.81 339.83,137.09 341.08,137.37 342.33,137.66 343.58,137.94 344.84,138.22 346.09,138.50 347.34,138.78 348.59,139.07 349.84,139.35 351.09,139.63 352.35,139.91 353.60,140.19 354.85,140.47 356.10,140.76 357.35,141.04 358.61,141.32 359.86,141.60 361.11,141.88 362.36,142.16 363.61,142.45 364.87,142.73 366.12,143.01 367.37,143.29 368.62,143.57 369.87,143.86 371.13,144.14 372.38,144.42 373.63,144.70 374.88,144.98 376.13,145.26 377.38,145.55 378.64,145.83 379.89,146.11 381.14,146.39 382.39,146.67 383.64,146.95 384.90,147.24 386.15,147.52 387.40,147.80" fill="none" stroke="#e58e9c" stroke-width="0.45"/>
<polyline points="288.50,132.47 289.75,132.55 291.00,132.63 292.26,132.71 293.51,132.79 294.76,132.87 296.01,132.95 297.26,133.03 298.52,133.11 299.77,133.19 301.02,133.27 302.27,133.36 303.52,133.44 304.77,133.52 306.03,133.60 307.28,133.68 308.53,133.76 309.78,133.84 311.03,133.92 312.29,134.00 313.54,134.08 314.79,134.16 316.04,134.24 317.29,134.32 318.55,134.40 319.80,134.48 321.05,134.56 322.30,134.64 323.55,134.72 324.81,134.80 326.06,134.89 327.31,134.97 328.56,135.05 329.81,135.13 331.06,135.21 332.32,135.29 333.57,135.37 334.82,135.45 336.07,135.53 337.32,135.61 338.58,135.79 339.83,136.07 341.08,136.35 342.33,136.64 343.58,136.92 344.84,137.20 346.09,137.48 347.34,137.76 348.59,138.04 349.84,138.33 351.09,138.61 352.35,138.89 353.60,139.17 354.85,139.45 356.10,139.74 357.35,140.02 358.61,140.30 359.86,140.58 361.11,140.86 362.36,141.14 363.61,141.43 364.87,141.71 366.12,141.99 367.37,142.27 368.62,142.55 369.87,142.84 371.13,143.12 372.38,143.40 373.63,143.68 374.88,143.96 376.13,144.24 377.38,144.53 378.64,144.81 379.89,145.09 381.14,145.37 382.39,145.65 383.64,145.93 384.90,146.22 386.15,146.50 387.40,146.78" fill="none" stroke="#e58e9c" stroke-width="0.45"/>
<circle cx="320.08" cy="134.38" r="1.12" fill="#c8102e"/>
<circle cx="299.88" cy="134.68" r="1.12" fill="#c8102e"/>
<circle cx="288.77" cy="130.16" r="1.12" fill="#c8102e"/>
<circle cx="312.14" cy="133.46" r="1.12" fill="#c8102e"/>
<circle cx="301.38" cy="135.78" r="1.12" fill="#c8102e"/>
<circle cx="316.47" cy="137.63" r="1.12" fill="#c8102e"/>
<circle cx="319.94" cy="137.74" r="1.12" fill="#c8102e"/>
<circle cx="296.59" cy="132.88" r="1.12" fill="#c8102e"/>
<circle cx="314.51" cy="139.99" r="1.12" fill="#c8102e"/>
<circle cx="320.29" cy="134.78" r="1.12" fill="#c8102e"/>
<circle cx="301.01" cy="133.47" r="1.12" fill="#c8102e"/>
<circle cx="323.46" cy="132.98" r="1.12" fill="#c8102e"/>
<circle cx="288.69" cy="131.12" r="1.12" fill="#c8102e"/>
<circle cx="302.02" cy="133.62" r="1.12" fill="#c8102e"/>
<circle cx="331.30" cy="135.57" r="1.12" fill="#c8102e"/>
<circle cx="293.12" cy="131.46" r="1.12" fill="#c8102e"/>
<circle cx="332.52" cy="131.57" r="1.12" fill="#c8102e"/>
<circle cx="291.49" cy="133.01" r="1.12" fill="#c8102e"/>
<circle cx="296.09" cy="132.02" r="1.12" fill="#c8102e"/>
<circle cx="337.95" cy="133.11" r="1.12" fill="#c8102e"/>
<circle cx="320.73" cy="136.04" r="1.12" fill="#c8102e"/>
<circle cx="310.75" cy="135.64" r="1.12" fill="#c8102e"/>
<circle cx="293.39" cy="130.87" r="1.12" fill="#c8102e"/>
<circle cx="322.44" cy="133.79" r="1.12" fill="#c8102e"/>
<circle cx="321.96" cy="135.34" r="1.12" fill="#c8102e"/>
<circle cx="336.24" cy="136.74" r="1.12" fill="#c8102e"/>
<circle cx="295.85" cy="130.22" r="1.12" fill="#c8102e"/>
<circle cx="316.41" cy="134.03" r="1.12" fill="#c8102e"/>
<circle cx="320.92" cy="137.43" r="1.12" fill="#c8102e"/>
<circle cx="309.26" cy="134.41" r="1.12" fill="#c8102e"/>
<circle cx="312.13" cy="135.22" r="1.12" fill="#c8102e"/>
<circle cx="326.46" cy="134.18" r="1.12" fill="#c8102e"/>
<circle cx="290.03" cy="136.66" r="1.12" fill="#c8102e"/>
<circle cx="321.73" cy="137.02" r="1.12" fill="#c8102e"/>
<circle cx="332.60" cy="137.58" r="1.12" fill="#c8102e"/>
<circle cx="323.04" cy="134.16" r="1.12" fill="#c8102e"/>
<circle cx="327.16" cy="133.98" r="1.12" fill="#c8102e"/>
<circle cx="335.66" cy="136.18" r="1.12" fill="#c8102e"/>
<circle cx="329.45" cy="135.06" r="1.12" fill="#c8102e"/>
<circle cx="329.69" cy="135.22" r="1.12" fill="#c8102e"/>
<circle cx="328.57" cy="135.81" r="1.12" fill="#c8102e"/>
<circle cx="299.94" cy="132.95" r="1.12" fill="#c8102e"/>
<circle cx="297.56" cy="137.26" r="1.12" fill="#c8102e"/>
<circle cx="317.47" cy="133.19" r="1.12" fill="#c8102e"/>
<circle cx="336.60" cy="133.43" r="1.12" fill="#c8102e"/>
<circle cx="314.55" cy="135.24" r="1.12" fill="#c8102e"/>
<circle cx="326.03" cy="133.06" r="1.12" fill="#c8102e"/>
<circle cx="332.87" cy="137.52" r="1.12" fill="#c8102e"/>
<circle cx="291.97" cy="130.54" r="1.12" fill="#c8102e"/>
<circle cx="336.55" cy="136.04" r="1.12" fill="#c8102e"/>
<circle cx="322.68" cy="136.37" r="1.12" fill="#c8102e"/>
<circle cx="337.59" cy="136.93" r="1.12" fill="#c8102e"/>
<circle cx="298.75" cy="135.35" r="1.12" fill="#c8102e"/>
<circle cx="334.75" cy="138.19" r="1.12" fill="#c8102e"/>
<circle cx="319.01" cy="131.96" r="1.12" fill="#c8102e"/>
<circle cx="321.81" cy="136.46" r="1.12" fill="#c8102e"/>
<circle cx="312.04" cy="134.54" r="1.12" fill="#c8102e"/>
<circle cx="297.79" cy="132.61" r="1.12" fill="#c8102e"/>
<circle cx="327.10" cy="137.81" r="1.12" fill="#c8102e"/>
<circle cx="294.22" cy="134.42" r="1.12" fill="#c8102e"/>
<circle cx="332.85" cy="136.77" r="1.12" fill="#c8102e"/>
<circle cx="290.86" cy="133.04" r="1.12" fill="#c8102e"/>
<circle cx="301.06" cy="132.34" r="1.12" fill="#c8102e"/>
<circle cx="290.47" cy="136.04" r="1.12" fill="#c8102e"/>
<circle cx="322.75" cy="135.48" r="1.12" fill="#c8102e"/>
<circle cx="335.91" cy="134.27" r="1.12" fill="#c8102e"/>
<circle cx="321.75" cy="131.91" r="1.12" fill="#c8102e"/>
<circle cx="317.52" cy="133.80" r="1.12" fill="#c8102e"/>
<circle cx="337.01" cy="132.95" r="1.12" fill="#c8102e"/>
<circle cx="305.61" cy="132.35" r="1.12" fill="#c8102e"/>
<circle cx="320.16" cy="133.24" r="1.12" fill="#c8102e"/>
<circle cx="332.09" cy="135.23" r="1.12" fill="#c8102e"/>
<circle cx="327.25" cy="135.39" r="1.12" fill="#c8102e"/>
<circle cx="317.48" cy="135.20" r="1.12" fill="#c8102e"/>
<circle cx="293.36" cy="132.22" r="1.12" fill="#c8102e"/>
<circle cx="330.13" cy="137.75" r="1.12" fill="#c8102e"/>
<circle cx="324.98" cy="137.21" r="1.12" fill="#c8102e"/>
<circle cx="296.66" cy="132.75" r="1.12" fill="#c8102e"/>
<circle cx="299.35" cy="136.63" r="1.12" fill="#c8102e"/>
<circle cx="307.67" cy="134.24" r="1.12" fill="#c8102e"/>
<circle cx="321.71" cy="133.54" r="1.12" fill="#c8102e"/>
<circle cx="295.26" cy="134.03" r="1.12" fill="#c8102e"/>
<circle cx="307.54" cy="138.87" r="1.12" fill="#c8102e"/>
<circle cx="299.37" cy="140.57" r="1.12" fill="#c8102e"/>
<circle cx="292.62" cy="133.15" r="1.12" fill="#c8102e"/>
<circle cx="358.79" cy="135.16" r="1.12" fill="#c8102e"/>
<circle cx="351.90" cy="139.57" r="1.12" fill="#c8102e"/>
<circle cx="349.87" cy="136.06" r="1.12" fill="#c8102e"/>
<circle cx="359.07" cy="138.34" r="1.12" fill="#c8102e"/>
<circle cx="354.19" cy="146.22" r="1.12" fill="#c8102e"/>
<circle cx="361.88" cy="148.22" r="1.12" fill="#c8102e"/>
<circle cx="376.26" cy="147.12" r="1.12" fill="#c8102e"/>
<circle cx="374.09" cy="157.45" r="1.12" fill="#c8102e"/>
<circle cx="367.74" cy="142.45" r="1.12" fill="#c8102e"/>
<circle cx="357.43" cy="141.44" r="1.12" fill="#c8102e"/>
<circle cx="383.18" cy="146.37" r="1.12" fill="#c8102e"/>
<circle cx="379.21" cy="147.41" r="1.12" fill="#c8102e"/>
<circle cx="387.27" cy="142.40" r="1.12" fill="#c8102e"/>
<circle cx="378.30" cy="144.69" r="1.12" fill="#c8102e"/>
<circle cx="354.08" cy="140.82" r="1.12" fill="#c8102e"/>
<circle cx="376.01" cy="141.93" r="1.12" fill="#c8102e"/>
<circle cx="363.70" cy="145.15" r="1.12" fill="#c8102e"/>
<circle cx="368.71" cy="142.74" r="1.12" fill="#c8102e"/>
<circle cx="376.03" cy="145.07" r="1.12" fill="#c8102e"/>
<circle cx="384.11" cy="147.69" r="1.12" fill="#c8102e"/>
<circle cx="377.61" cy="153.11" r="1.12" fill="#c8102e"/>
<circle cx="375.66" cy="140.19" r="1.12" fill="#c8102e"/>
<circle cx="351.59" cy="146.15" r="1.12" fill="#c8102e"/>
<circle cx="351.32" cy="136.13" r="1.12" fill="#c8102e"/>
<circle cx="364.78" cy="142.21" r="1.12" fill="#c8102e"/>
<circle cx="383.90" cy="136.36" r="1.12" fill="#c8102e"/>
<circle cx="349.31" cy="143.98" r="1.12" fill="#c8102e"/>
<circle cx="359.37" cy="146.55" r="1.12" fill="#c8102e"/>
<circle cx="365.14" cy="136.83" r="1.12" fill="#c8102e"/>
<circle cx="382.85" cy="143.48" r="1.12" fill="#c8102e"/>
<circle cx="362.65" cy="144.71" r="1.12" fill="#c8102e"/>
<circle cx="347.90" cy="138.19" r="1.12" fill="#c8102e"/>
<circle cx="353.75" cy="144.46" r="1.12" fill="#c8102e"/>
<circle cx="354.05" cy="138.31" r="1.12" fill="#c8102e"/>
<circle cx="368.08" cy="141.45" r="1.12" fill="#c8102e"/>
<circle cx="372.23" cy="142.83" r="1.12" fill="#c8102e"/>
<circle cx="378.85" cy="135.95" r="1.12" fill="#c8102e"/>
<circle cx="352.12" cy="147.84" r="1.12" fill="#c8102e"/>
<circle cx="385.01" cy="153.85" r="1.12" fill="#c8102e"/>
<circle cx="355.04" cy="140.76" r="1.12" fill="#c8102e"/>
<circle cx="383.93" cy="149.93" r="1.12" fill="#c8102e"/>
<circle cx="371.06" cy="142.52" r="1.12" fill="#c8102e"/>
<circle cx="365.55" cy="142.65" r="1.12" fill="#c8102e"/>
<circle cx="380.41" cy="145.13" r="1.12" fill="#c8102e"/>
<circle cx="381.26" cy="140.56" r="1.12" fill="#c8102e"/>
<polyline points="288.50,132.98 289.75,133.06 291.00,133.14 292.26,133.22 293.51,133.30 294.76,133.38 296.01,133.46 297.26,133.54 298.52,133.62 299.77,133.70 301.02,133.79 302.27,133.87 303.52,133.95 304.77,134.03 306.03,134.11 307.28,134.19 308.53,134.27 309.78,134.35 311.03,134.43 312.29,134.51 313.54,134.59 314.79,134.67 316.04,134.75 317.29,134.83 318.55,134.91 319.80,134.99 321.05,135.07 322.30,135.15 323.55,135.23 324.81,135.31 326.06,135.40 327.31,135.48 328.56,135.56 329.81,135.64 331.06,135.72 332.32,135.80 333.57,135.88 334.82,135.96 336.07,136.04 337.32,136.12 338.58,136.30 339.83,136.58 341.08,136.86 342.33,137.15 343.58,137.43 344.84,137.71 346.09,137.99 347.34,138.27 348.59,138.56 349.84,138.84 351.09,139.12 352.35,139.40 353.60,139.68 354.85,139.96 356.10,140.25 357.35,140.53 358.61,140.81 359.86,141.09 361.11,141.37 362.36,141.65 363.61,141.94 364.87,142.22 366.12,142.50 367.37,142.78 368.62,143.06 369.87,143.35 371.13,143.63 372.38,143.91 373.63,144.19 374.88,144.47 376.13,144.75 377.38,145.04 378.64,145.32 379.89,145.60 381.14,145.88 382.39,146.16 383.64,146.44 384.90,146.73 386.15,147.01 387.40,147.29" fill="none" stroke="#b0122b" stroke-width="1.1"/>
<line x1="284.80" y1="126.30" x2="284.80" y2="158.85" stroke="#111" stroke-width="1.1"/>
<line x1="284.25" y1="158.30" x2="390.00" y2="158.30" stroke="#111" stroke-width="1.1"/>
<line x1="281.50" y1="129.80" x2="284.80" y2="129.80" stroke="#111" stroke-width="1.0"/>
<line x1="281.50" y1="135.10" x2="284.80" y2="135.10" stroke="#111" stroke-width="1.0"/>
<text x="279.60" y="138.05" font-size="8.2" text-anchor="end" fill="#111" stroke="#111" stroke-width="0.12" textLength="4.01" lengthAdjust="spacingAndGlyphs">2</text>
<line x1="281.50" y1="140.40" x2="284.80" y2="140.40" stroke="#111" stroke-width="1.0"/>
<line x1="281.50" y1="145.70" x2="284.80" y2="145.70" stroke="#111" stroke-width="1.0"/>
<text x="279.60" y="148.65" font-size="8.2" text-anchor="end" fill="#111" stroke="#111" stroke-width="0.12" textLength="6.42" lengthAdjust="spacingAndGlyphs">-2</text>
<line x1="281.50" y1="151.00" x2="284.80" y2="151.00" stroke="#111" stroke-width="1.0"/>
<line x1="281.50" y1="156.30" x2="284.80" y2="156.30" stroke="#111" stroke-width="1.0"/>
<text x="279.60" y="159.25" font-size="8.2" text-anchor="end" fill="#111" stroke="#111" stroke-width="0.12" textLength="6.42" lengthAdjust="spacingAndGlyphs">-6</text>
<line x1="288.50" y1="158.30" x2="288.50" y2="161.60" stroke="#111" stroke-width="1.0"/>
<text x="288.50" y="170.80" font-size="8.0" text-anchor="middle" fill="#111" stroke="#111" stroke-width="0.12">0</text>
<line x1="310.00" y1="158.30" x2="310.00" y2="161.60" stroke="#111" stroke-width="1.0"/>
<text x="310.00" y="170.80" font-size="8.0" text-anchor="middle" fill="#111" stroke="#111" stroke-width="0.12">10</text>
<line x1="331.50" y1="158.30" x2="331.50" y2="161.60" stroke="#111" stroke-width="1.0"/>
<text x="331.50" y="170.80" font-size="8.0" text-anchor="middle" fill="#111" stroke="#111" stroke-width="0.12">20</text>
<line x1="353.00" y1="158.30" x2="353.00" y2="161.60" stroke="#111" stroke-width="1.0"/>
<text x="353.00" y="170.80" font-size="8.0" text-anchor="middle" fill="#111" stroke="#111" stroke-width="0.12">30</text>
<line x1="374.50" y1="158.30" x2="374.50" y2="161.60" stroke="#111" stroke-width="1.0"/>
<text x="374.50" y="170.80" font-size="8.0" text-anchor="middle" fill="#111" stroke="#111" stroke-width="0.12">40</text>
<text x="336.65" y="120.00" font-size="8.4" text-anchor="middle" fill="#111" stroke="#111" stroke-width="0.12" textLength="63.50" lengthAdjust="spacingAndGlyphs">Sox10, Lineage 1</text>
<text x="263.60" y="142.20" font-size="9.2" text-anchor="middle" fill="#111" stroke="#111" stroke-width="0.12" textLength="35.20" lengthAdjust="spacingAndGlyphs" transform="rotate(-90 263.60 142.20)">Expression</text>
<text x="337.05" y="183.20" font-size="8.6" text-anchor="middle" fill="#111" stroke="#111" stroke-width="0.12" textLength="39.50" lengthAdjust="spacingAndGlyphs">Pseudotime</text>
<polygon points="412.00,132.19 413.21,132.25 414.43,132.31 415.64,132.37 416.85,132.43 418.07,132.49 419.28,132.56 420.50,132.62 421.71,132.68 422.92,132.74 424.14,132.80 425.35,132.86 426.56,132.93 427.78,132.99 428.99,133.05 430.21,133.11 431.42,133.17 432.63,133.23 433.85,133.30 435.06,133.36 436.27,133.42 437.49,133.48 438.70,133.54 439.91,133.60 441.13,133.67 442.34,133.73 443.56,133.79 444.77,133.85 445.98,133.91 447.20,133.97 448.41,134.04 449.62,134.10 450.84,134.16 452.05,134.22 453.26,134.28 454.48,134.34 455.69,134.41 456.91,134.47 458.12,134.53 459.33,134.72 460.55,135.15 461.76,135.57 462.97,136.00 464.19,136.43 465.40,136.86 466.62,137.29 467.83,137.72 469.04,138.15 470.26,138.58 471.47,139.01 472.68,139.44 473.90,139.87 475.11,140.29 476.32,140.72 477.54,141.15 478.75,141.58 479.97,142.01 481.18,142.44 482.39,142.87 483.61,143.30 484.82,143.73 486.03,144.16 487.25,144.59 488.46,145.02 489.67,145.44 490.89,145.87 492.10,146.30 493.32,146.73 494.53,147.16 495.74,147.59 496.96,148.02 498.17,148.45 499.38,148.88 500.60,149.31 501.81,149.74 503.03,150.16 504.24,150.59 505.45,151.02 506.67,151.15 507.88,151.13 507.88,154.05 506.67,154.03 505.45,153.87 504.24,153.41 503.03,152.95 501.81,152.49 500.60,152.02 499.38,151.56 498.17,151.10 496.96,150.64 495.74,150.18 494.53,149.71 493.32,149.25 492.10,148.79 490.89,148.33 489.67,147.87 488.46,147.40 487.25,146.94 486.03,146.48 484.82,146.02 483.61,145.56 482.39,145.09 481.18,144.63 479.97,144.17 478.75,143.71 477.54,143.25 476.32,142.78 475.11,142.32 473.90,141.86 472.68,141.40 471.47,140.94 470.26,140.48 469.04,140.01 467.83,139.55 466.62,139.09 465.40,138.63 464.19,138.17 462.97,137.70 461.76,137.24 460.55,136.78 459.33,136.32 458.12,136.12 456.91,136.06 455.69,136.00 454.48,135.93 453.26,135.87 452.05,135.81 450.84,135.75 449.62,135.69 448.41,135.63 447.20,135.56 445.98,135.50 444.77,135.44 443.56,135.38 442.34,135.32 441.13,135.26 439.91,135.19 438.70,135.13 437.49,135.07 436.27,135.01 435.06,134.95 433.85,134.89 432.63,134.82 431.42,134.76 430.21,134.70 428.99,134.64 427.78,134.58 426.56,134.52 425.35,134.45 424.14,134.39 422.92,134.33 421.71,134.27 420.50,134.21 419.28,134.15 418.07,134.08 416.85,134.02 415.64,133.96 414.43,133.90 413.21,133.84 412.00,133.78" fill="#f2b8c2" fill-opacity="0.85"/>
<polyline points="412.00,133.42 413.21,133.48 414.43,133.54 415.64,133.60 416.85,133.66 418.07,133.73 419.28,133.79 420.50,133.85 421.71,133.91 422.92,133.97 424.14,134.03 425.35,134.10 426.56,134.16 427.78,134.22 428.99,134.28 430.21,134.34 431.42,134.40 432.63,134.47 433.85,134.53 435.06,134.59 436.27,134.65 437.49,134.71 438.70,134.77 439.91,134.84 441.13,134.90 442.34,134.96 443.56,135.02 444.77,135.08 445.98,135.14 447.20,135.21 448.41,135.27 449.62,135.33 450.84,135.39 452.05,135.45 453.26,135.51 454.48,135.58 455.69,135.64 456.91,135.70 458.12,135.76 459.33,135.96 460.55,136.41 461.76,136.87 462.97,137.32 464.19,137.78 465.40,138.23 466.62,138.68 467.83,139.14 469.04,139.59 470.26,140.05 471.47,140.50 472.68,140.96 473.90,141.41 475.11,141.87 476.32,142.32 477.54,142.78 478.75,143.23 479.97,143.69 481.18,144.14 482.39,144.59 483.61,145.05 484.82,145.50 486.03,145.96 487.25,146.41 488.46,146.87 489.67,147.32 490.89,147.78 492.10,148.23 493.32,148.69 494.53,149.14 495.74,149.59 496.96,150.05 498.17,150.50 499.38,150.96 500.60,151.41 501.81,151.87 503.03,152.32 504.24,152.78 505.45,153.23 506.67,153.38 507.88,153.39" fill="none" stroke="#e58e9c" stroke-width="0.45"/>
<polyline points="412.00,132.54 413.21,132.60 414.43,132.67 415.64,132.73 416.85,132.79 418.07,132.85 419.28,132.91 420.50,132.97 421.71,133.04 422.92,133.10 424.14,133.16 425.35,133.22 426.56,133.28 427.78,133.34 428.99,133.41 430.21,133.47 431.42,133.53 432.63,133.59 433.85,133.65 435.06,133.71 436.27,133.78 437.49,133.84 438.70,133.90 439.91,133.96 441.13,134.02 442.34,134.09 443.56,134.15 444.77,134.21 445.98,134.27 447.20,134.33 448.41,134.39 449.62,134.46 450.84,134.52 452.05,134.58 453.26,134.64 454.48,134.70 455.69,134.76 456.91,134.83 458.12,134.89 459.33,135.08 460.55,135.51 461.76,135.95 462.97,136.39 464.19,136.82 465.40,137.26 466.62,137.70 467.83,138.13 469.04,138.57 470.26,139.01 471.47,139.44 472.68,139.88 473.90,140.31 475.11,140.75 476.32,141.19 477.54,141.62 478.75,142.06 479.97,142.50 481.18,142.93 482.39,143.37 483.61,143.81 484.82,144.24 486.03,144.68 487.25,145.12 488.46,145.55 489.67,145.99 490.89,146.43 492.10,146.86 493.32,147.30 494.53,147.74 495.74,148.17 496.96,148.61 498.17,149.05 499.38,149.48 500.60,149.92 501.81,150.35 503.03,150.79 504.24,151.23 505.45,151.66 506.67,151.80 507.88,151.79" fill="none" stroke="#e58e9c" stroke-width="0.45"/>
<circle cx="426.15" cy="132.61" r="1.12" fill="#c8102e"/>
<circle cx="419.78" cy="134.09" r="1.12" fill="#c8102e"/>
<circle cx="427.46" cy="132.08" r="1.12" fill="#c8102e"/>
<circle cx="436.14" cy="132.08" r="1.12" fill="#c8102e"/>
<circle cx="439.00" cy="133.98" r="1.12" fill="#c8102e"/>
<circle cx="449.62" cy="132.71" r="1.12" fill="#c8102e"/>
<circle cx="456.60" cy="137.22" r="1.12" fill="#c8102e"/>
<circle cx="444.47" cy="138.66" r="1.12" fill="#c8102e"/>
<circle cx="443.42" cy="131.73" r="1.12" fill="#c8102e"/>
<circle cx="448.09" cy="137.20" r="1.12" fill="#c8102e"/>
<circle cx="412.72" cy="129.65" r="1.12" fill="#c8102e"/>
<circle cx="431.19" cy="137.50" r="1.12" fill="#c8102e"/>
<circle cx="446.29" cy="137.38" r="1.12" fill="#c8102e"/>
<circle cx="438.19" cy="136.14" r="1.12" fill="#c8102e"/>
<circle cx="441.61" cy="135.62" r="1.12" fill="#c8102e"/>
<circle cx="439.83" cy="136.57" r="1.12" fill="#c8102e"/>
<circle cx="453.23" cy="133.20" r="1.12" fill="#c8102e"/>
<circle cx="447.20" cy="136.15" r="1.12" fill="#c8102e"/>
<circle cx="449.87" cy="136.00" r="1.12" fill="#c8102e"/>
<circle cx="450.42" cy="134.11" r="1.12" fill="#c8102e"/>
<circle cx="431.06" cy="132.70" r="1.12" fill="#c8102e"/>
<circle cx="446.92" cy="134.86" r="1.12" fill="#c8102e"/>
<circle cx="447.45" cy="134.67" r="1.12" fill="#c8102e"/>
<circle cx="450.79" cy="135.04" r="1.12" fill="#c8102e"/>
<circle cx="448.84" cy="137.15" r="1.12" fill="#c8102e"/>
<circle cx="413.61" cy="132.88" r="1.12" fill="#c8102e"/>
<circle cx="439.19" cy="136.67" r="1.12" fill="#c8102e"/>
<circle cx="443.80" cy="133.79" r="1.12" fill="#c8102e"/>
<circle cx="420.61" cy="132.18" r="1.12" fill="#c8102e"/>
<circle cx="432.21" cy="136.07" r="1.12" fill="#c8102e"/>
<circle cx="429.44" cy="129.92" r="1.12" fill="#c8102e"/>
<circle cx="453.72" cy="135.17" r="1.12" fill="#c8102e"/>
<circle cx="453.50" cy="131.04" r="1.12" fill="#c8102e"/>
<circle cx="415.44" cy="135.30" r="1.12" fill="#c8102e"/>
<circle cx="431.72" cy="132.24" r="1.12" fill="#c8102e"/>
<circle cx="434.22" cy="134.86" r="1.12" fill="#c8102e"/>
<circle cx="429.52" cy="132.75" r="1.12" fill="#c8102e"/>
<circle cx="426.85" cy="136.02" r="1.12" fill="#c8102e"/>
<circle cx="414.66" cy="135.19" r="1.12" fill="#c8102e"/>
<circle cx="432.89" cy="134.89" r="1.12" fill="#c8102e"/>
<circle cx="423.55" cy="134.40" r="1.12" fill="#c8102e"/>
<circle cx="441.90" cy="134.70" r="1.12" fill="#c8102e"/>
<circle cx="436.62" cy="134.31" r="1.12" fill="#c8102e"/>
<circle cx="457.14" cy="135.56" r="1.12" fill="#c8102e"/>
<circle cx="424.03" cy="134.88" r="1.12" fill="#c8102e"/>
<circle cx="448.21" cy="137.03" r="1.12" fill="#c8102e"/>
<circle cx="418.42" cy="132.78" r="1.12" fill="#c8102e"/>
<circle cx="434.90" cy="136.15" r="1.12" fill="#c8102e"/>
<circle cx="441.13" cy="133.96" r="1.12" fill="#c8102e"/>
<circle cx="428.13" cy="133.66" r="1.12" fill="#c8102e"/>
<circle cx="434.96" cy="134.77" r="1.12" fill="#c8102e"/>
<circle cx="442.02" cy="134.19" r="1.12" fill="#c8102e"/>
<circle cx="420.15" cy="134.19" r="1.12" fill="#c8102e"/>
<circle cx="413.21" cy="134.21" r="1.12" fill="#c8102e"/>
<circle cx="434.26" cy="133.61" r="1.12" fill="#c8102e"/>
<circle cx="419.64" cy="133.67" r="1.12" fill="#c8102e"/>
<circle cx="420.64" cy="136.95" r="1.12" fill="#c8102e"/>
<circle cx="431.59" cy="133.38" r="1.12" fill="#c8102e"/>
<circle cx="455.35" cy="135.73" r="1.12" fill="#c8102e"/>
<circle cx="414.32" cy="132.66" r="1.12" fill="#c8102e"/>
<circle cx="448.23" cy="132.34" r="1.12" fill="#c8102e"/>
<circle cx="453.58" cy="138.40" r="1.12" fill="#c8102e"/>
<circle cx="413.52" cy="138.43" r="1.12" fill="#c8102e"/>
<circle cx="458.44" cy="138.09" r="1.12" fill="#c8102e"/>
<circle cx="443.83" cy="135.38" r="1.12" fill="#c8102e"/>
<circle cx="440.52" cy="131.05" r="1.12" fill="#c8102e"/>
<circle cx="412.88" cy="135.70" r="1.12" fill="#c8102e"/>
<circle cx="431.76" cy="133.15" r="1.12" fill="#c8102e"/>
<circle cx="427.80" cy="135.42" r="1.12" fill="#c8102e"/>
<circle cx="420.65" cy="132.18" r="1.12" fill="#c8102e"/>
<circle cx="455.54" cy="135.85" r="1.12" fill="#c8102e"/>
<circle cx="443.93" cy="138.08" r="1.12" fill="#c8102e"/>
<circle cx="412.15" cy="132.33" r="1.12" fill="#c8102e"/>
<circle cx="418.69" cy="134.59" r="1.12" fill="#c8102e"/>
<circle cx="421.97" cy="134.20" r="1.12" fill="#c8102e"/>
<circle cx="424.60" cy="134.89" r="1.12" fill="#c8102e"/>
<circle cx="450.24" cy="140.78" r="1.12" fill="#c8102e"/>
<circle cx="413.65" cy="131.62" r="1.12" fill="#c8102e"/>
<circle cx="415.96" cy="132.52" r="1.12" fill="#c8102e"/>
<circle cx="440.53" cy="135.57" r="1.12" fill="#c8102e"/>
<circle cx="433.34" cy="129.91" r="1.12" fill="#c8102e"/>
<circle cx="447.55" cy="134.37" r="1.12" fill="#c8102e"/>
<circle cx="429.75" cy="130.77" r="1.12" fill="#c8102e"/>
<circle cx="430.18" cy="134.32" r="1.12" fill="#c8102e"/>
<circle cx="445.48" cy="137.88" r="1.12" fill="#c8102e"/>
<circle cx="499.62" cy="154.06" r="1.12" fill="#c8102e"/>
<circle cx="502.04" cy="150.09" r="1.12" fill="#c8102e"/>
<circle cx="496.74" cy="148.25" r="1.12" fill="#c8102e"/>
<circle cx="498.11" cy="154.94" r="1.12" fill="#c8102e"/>
<circle cx="498.70" cy="154.21" r="1.12" fill="#c8102e"/>
<circle cx="499.54" cy="154.97" r="1.12" fill="#c8102e"/>
<circle cx="496.71" cy="148.64" r="1.12" fill="#c8102e"/>
<circle cx="496.59" cy="147.62" r="1.12" fill="#c8102e"/>
<circle cx="508.02" cy="151.58" r="1.12" fill="#c8102e"/>
<circle cx="500.91" cy="152.22" r="1.12" fill="#c8102e"/>
<circle cx="499.42" cy="150.24" r="1.12" fill="#c8102e"/>
<circle cx="502.11" cy="156.74" r="1.12" fill="#c8102e"/>
<circle cx="496.24" cy="152.28" r="1.12" fill="#c8102e"/>
<circle cx="496.81" cy="152.95" r="1.12" fill="#c8102e"/>
<circle cx="503.91" cy="153.04" r="1.12" fill="#c8102e"/>
<circle cx="503.80" cy="151.89" r="1.12" fill="#c8102e"/>
<circle cx="507.10" cy="152.56" r="1.12" fill="#c8102e"/>
<circle cx="503.96" cy="155.37" r="1.12" fill="#c8102e"/>
<circle cx="504.48" cy="148.50" r="1.12" fill="#c8102e"/>
<circle cx="503.42" cy="144.71" r="1.12" fill="#c8102e"/>
<circle cx="499.50" cy="147.62" r="1.12" fill="#c8102e"/>
<circle cx="505.45" cy="153.55" r="1.12" fill="#c8102e"/>
<circle cx="507.32" cy="149.85" r="1.12" fill="#c8102e"/>
<circle cx="499.20" cy="154.27" r="1.12" fill="#c8102e"/>
<circle cx="508.64" cy="150.30" r="1.12" fill="#c8102e"/>
<circle cx="498.39" cy="157.62" r="1.12" fill="#c8102e"/>
<polyline points="412.00,132.98 413.21,133.04 414.43,133.10 415.64,133.17 416.85,133.23 418.07,133.29 419.28,133.35 420.50,133.41 421.71,133.47 422.92,133.54 424.14,133.60 425.35,133.66 426.56,133.72 427.78,133.78 428.99,133.84 430.21,133.91 431.42,133.97 432.63,134.03 433.85,134.09 435.06,134.15 436.27,134.21 437.49,134.28 438.70,134.34 439.91,134.40 441.13,134.46 442.34,134.52 443.56,134.58 444.77,134.65 445.98,134.71 447.20,134.77 448.41,134.83 449.62,134.89 450.84,134.95 452.05,135.02 453.26,135.08 454.48,135.14 455.69,135.20 456.91,135.26 458.12,135.32 459.33,135.52 460.55,135.96 461.76,136.41 462.97,136.85 464.19,137.30 465.40,137.74 466.62,138.19 467.83,138.64 469.04,139.08 470.26,139.53 471.47,139.97 472.68,140.42 473.90,140.86 475.11,141.31 476.32,141.75 477.54,142.20 478.75,142.65 479.97,143.09 481.18,143.54 482.39,143.98 483.61,144.43 484.82,144.87 486.03,145.32 487.25,145.76 488.46,146.21 489.67,146.66 490.89,147.10 492.10,147.55 493.32,147.99 494.53,148.44 495.74,148.88 496.96,149.33 498.17,149.77 499.38,150.22 500.60,150.67 501.81,151.11 503.03,151.56 504.24,152.00 505.45,152.45 506.67,152.59 507.88,152.59" fill="none" stroke="#b0122b" stroke-width="1.1"/>
<line x1="408.50" y1="126.20" x2="408.50" y2="159.05" stroke="#111" stroke-width="1.1"/>
<line x1="407.95" y1="158.50" x2="513.00" y2="158.50" stroke="#111" stroke-width="1.1"/>
<line x1="405.20" y1="129.80" x2="408.50" y2="129.80" stroke="#111" stroke-width="1.0"/>
<line x1="405.20" y1="135.10" x2="408.50" y2="135.10" stroke="#111" stroke-width="1.0"/>
<text x="403.30" y="138.05" font-size="8.2" text-anchor="end" fill="#111" stroke="#111" stroke-width="0.12" textLength="4.01" lengthAdjust="spacingAndGlyphs">2</text>
<line x1="405.20" y1="140.40" x2="408.50" y2="140.40" stroke="#111" stroke-width="1.0"/>
<line x1="405.20" y1="145.70" x2="408.50" y2="145.70" stroke="#111" stroke-width="1.0"/>
<text x="403.30" y="148.65" font-size="8.2" text-anchor="end" fill="#111" stroke="#111" stroke-width="0.12" textLength="6.42" lengthAdjust="spacingAndGlyphs">-2</text>
<line x1="405.20" y1="151.00" x2="408.50" y2="151.00" stroke="#111" stroke-width="1.0"/>
<line x1="405.20" y1="156.30" x2="408.50" y2="156.30" stroke="#111" stroke-width="1.0"/>
<text x="403.30" y="159.25" font-size="8.2" text-anchor="end" fill="#111" stroke="#111" stroke-width="0.12" textLength="6.42" lengthAdjust="spacingAndGlyphs">-6</text>
<line x1="412.00" y1="158.50" x2="412.00" y2="161.80" stroke="#111" stroke-width="1.0"/>
<text x="412.00" y="171.00" font-size="8.0" text-anchor="middle" fill="#111" stroke="#111" stroke-width="0.12">0</text>
<line x1="432.40" y1="158.50" x2="432.40" y2="161.80" stroke="#111" stroke-width="1.0"/>
<text x="432.40" y="171.00" font-size="8.0" text-anchor="middle" fill="#111" stroke="#111" stroke-width="0.12">10</text>
<line x1="452.80" y1="158.50" x2="452.80" y2="161.80" stroke="#111" stroke-width="1.0"/>
<text x="452.80" y="171.00" font-size="8.0" text-anchor="middle" fill="#111" stroke="#111" stroke-width="0.12">20</text>
<line x1="473.20" y1="158.50" x2="473.20" y2="161.80" stroke="#111" stroke-width="1.0"/>
<text x="473.20" y="171.00" font-size="8.0" text-anchor="middle" fill="#111" stroke="#111" stroke-width="0.12">30</text>
<line x1="493.60" y1="158.50" x2="493.60" y2="161.80" stroke="#111" stroke-width="1.0"/>
<text x="493.60" y="171.00" font-size="8.0" text-anchor="middle" fill="#111" stroke="#111" stroke-width="0.12">40</text>
<text x="460.60" y="120.00" font-size="8.4" text-anchor="middle" fill="#111" stroke="#111" stroke-width="0.12" textLength="65.80" lengthAdjust="spacingAndGlyphs">Sox10, Lineage 2</text>
<text x="460.30" y="183.20" font-size="8.6" text-anchor="middle" fill="#111" stroke="#111" stroke-width="0.12" textLength="38.60" lengthAdjust="spacingAndGlyphs">Pseudotime</text>
<polygon points="35.70,241.35 36.95,241.21 38.19,241.08 39.44,240.95 40.68,240.82 41.93,240.70 43.18,240.58 44.42,240.46 45.67,240.35 46.91,240.24 48.16,240.13 49.41,240.03 50.65,239.93 51.90,239.83 53.15,239.73 54.39,239.64 55.64,239.55 56.88,239.47 58.13,239.39 59.38,239.31 60.62,239.23 61.87,239.16 63.11,239.09 64.36,239.03 65.61,238.97 66.85,238.91 68.10,238.85 69.34,238.80 70.59,238.75 71.84,238.70 73.08,238.66 74.33,238.62 75.57,238.58 76.82,238.55 78.07,238.52 79.31,238.49 80.56,238.47 81.80,238.45 83.05,238.43 84.30,238.41 85.54,238.40 86.79,238.40 88.04,238.39 89.28,238.39 90.53,238.35 91.77,238.25 93.02,238.12 94.27,237.95 95.51,237.75 96.76,237.52 98.00,237.26 99.25,236.96 100.50,236.64 101.74,236.30 102.99,235.92 104.23,235.53 105.48,235.10 106.73,234.66 107.97,234.19 109.22,233.69 110.46,233.17 111.71,232.63 112.96,232.07 114.20,231.49 115.45,230.88 116.69,230.25 117.94,229.61 119.19,228.94 120.43,228.25 121.68,227.54 122.93,226.81 124.17,226.06 125.42,225.29 126.66,224.50 127.91,223.69 129.16,222.86 130.40,222.01 131.65,221.15 132.89,220.26 134.14,219.36 134.14,221.78 132.89,222.68 131.65,223.57 130.40,224.43 129.16,225.28 127.91,226.11 126.66,226.92 125.42,227.71 124.17,228.48 122.93,229.23 121.68,229.96 120.43,230.67 119.19,231.36 117.94,232.03 116.69,232.68 115.45,233.30 114.20,233.91 112.96,234.49 111.71,235.06 110.46,235.60 109.22,236.11 107.97,236.61 106.73,237.08 105.48,237.52 104.23,237.95 102.99,238.35 101.74,238.72 100.50,239.06 99.25,239.38 98.00,239.68 96.76,239.94 95.51,240.17 94.27,240.37 93.02,240.54 91.77,240.68 90.53,240.77 89.28,240.81 88.04,240.81 86.79,240.82 85.54,240.82 84.30,240.84 83.05,240.85 81.80,240.87 80.56,240.89 79.31,240.91 78.07,240.94 76.82,240.97 75.57,241.00 74.33,241.04 73.08,241.08 71.84,241.12 70.59,241.17 69.34,241.22 68.10,241.27 66.85,241.33 65.61,241.39 64.36,241.45 63.11,241.51 61.87,241.58 60.62,241.65 59.38,241.73 58.13,241.81 56.88,241.89 55.64,241.98 54.39,242.06 53.15,242.15 51.90,242.25 50.65,242.35 49.41,242.45 48.16,242.55 46.91,242.66 45.67,242.77 44.42,242.88 43.18,243.00 41.93,243.12 40.68,243.24 39.44,243.37 38.19,243.50 36.95,243.63 35.70,243.77" fill="#f2b8c2" fill-opacity="0.85"/>
<polyline points="35.70,243.22 36.95,243.09 38.19,242.96 39.44,242.83 40.68,242.70 41.93,242.58 43.18,242.46 44.42,242.34 45.67,242.22 46.91,242.11 48.16,242.01 49.41,241.90 50.65,241.80 51.90,241.70 53.15,241.61 54.39,241.52 55.64,241.43 56.88,241.35 58.13,241.26 59.38,241.19 60.62,241.11 61.87,241.04 63.11,240.97 64.36,240.90 65.61,240.84 66.85,240.78 68.10,240.73 69.34,240.67 70.59,240.62 71.84,240.58 73.08,240.53 74.33,240.49 75.57,240.46 76.82,240.42 78.07,240.39 79.31,240.37 80.56,240.34 81.80,240.32 83.05,240.30 84.30,240.29 85.54,240.28 86.79,240.27 88.04,240.27 89.28,240.27 90.53,240.22 91.77,240.13 93.02,240.00 94.27,239.83 95.51,239.63 96.76,239.39 98.00,239.13 99.25,238.84 100.50,238.52 101.74,238.17 102.99,237.80 104.23,237.40 105.48,236.98 106.73,236.53 107.97,236.06 109.22,235.57 110.46,235.05 111.71,234.51 112.96,233.95 114.20,233.36 115.45,232.76 116.69,232.13 117.94,231.48 119.19,230.81 120.43,230.12 121.68,229.41 122.93,228.68 124.17,227.93 125.42,227.16 126.66,226.37 127.91,225.56 129.16,224.74 130.40,223.89 131.65,223.02 132.89,222.14 134.14,221.23" fill="none" stroke="#e58e9c" stroke-width="0.45"/>
<polyline points="35.70,241.89 36.95,241.76 38.19,241.62 39.44,241.49 40.68,241.37 41.93,241.24 43.18,241.12 44.42,241.01 45.67,240.89 46.91,240.78 48.16,240.68 49.41,240.57 50.65,240.47 51.90,240.37 53.15,240.28 54.39,240.19 55.64,240.10 56.88,240.01 58.13,239.93 59.38,239.85 60.62,239.78 61.87,239.71 63.11,239.64 64.36,239.57 65.61,239.51 66.85,239.45 68.10,239.39 69.34,239.34 70.59,239.29 71.84,239.25 73.08,239.20 74.33,239.16 75.57,239.13 76.82,239.09 78.07,239.06 79.31,239.04 80.56,239.01 81.80,238.99 83.05,238.97 84.30,238.96 85.54,238.95 86.79,238.94 88.04,238.94 89.28,238.93 90.53,238.89 91.77,238.80 93.02,238.67 94.27,238.50 95.51,238.30 96.76,238.06 98.00,237.80 99.25,237.51 100.50,237.19 101.74,236.84 102.99,236.47 104.23,236.07 105.48,235.65 106.73,235.20 107.97,234.73 109.22,234.24 110.46,233.72 111.71,233.18 112.96,232.62 114.20,232.03 115.45,231.43 116.69,230.80 117.94,230.15 119.19,229.48 120.43,228.79 121.68,228.08 122.93,227.35 124.17,226.60 125.42,225.83 126.66,225.04 127.91,224.23 129.16,223.40 130.40,222.56 131.65,221.69 132.89,220.81 134.14,219.90" fill="none" stroke="#e58e9c" stroke-width="0.45"/>
<circle cx="39.90" cy="243.53" r="1.12" fill="#c8102e"/>
<circle cx="80.37" cy="233.32" r="1.12" fill="#c8102e"/>
<circle cx="80.68" cy="247.70" r="1.12" fill="#c8102e"/>
<circle cx="82.52" cy="246.12" r="1.12" fill="#c8102e"/>
<circle cx="75.35" cy="242.88" r="1.12" fill="#c8102e"/>
<circle cx="38.84" cy="227.40" r="1.12" fill="#c8102e"/>
<circle cx="70.86" cy="230.65" r="1.12" fill="#c8102e"/>
<circle cx="51.03" cy="243.39" r="1.12" fill="#c8102e"/>
<circle cx="88.86" cy="246.37" r="1.12" fill="#c8102e"/>
<circle cx="50.87" cy="243.19" r="1.12" fill="#c8102e"/>
<circle cx="91.76" cy="243.07" r="1.12" fill="#c8102e"/>
<circle cx="43.59" cy="246.78" r="1.12" fill="#c8102e"/>
<circle cx="41.88" cy="247.70" r="1.12" fill="#c8102e"/>
<circle cx="37.68" cy="246.63" r="1.12" fill="#c8102e"/>
<circle cx="63.19" cy="244.80" r="1.12" fill="#c8102e"/>
<circle cx="95.45" cy="243.68" r="1.12" fill="#c8102e"/>
<circle cx="82.64" cy="241.12" r="1.12" fill="#c8102e"/>
<circle cx="62.84" cy="245.14" r="1.12" fill="#c8102e"/>
<circle cx="92.04" cy="244.72" r="1.12" fill="#c8102e"/>
<circle cx="63.94" cy="239.67" r="1.12" fill="#c8102e"/>
<circle cx="44.08" cy="239.91" r="1.12" fill="#c8102e"/>
<circle cx="75.96" cy="247.02" r="1.12" fill="#c8102e"/>
<circle cx="53.91" cy="241.51" r="1.12" fill="#c8102e"/>
<circle cx="73.83" cy="244.56" r="1.12" fill="#c8102e"/>
<circle cx="53.46" cy="237.84" r="1.12" fill="#c8102e"/>
<circle cx="50.88" cy="238.60" r="1.12" fill="#c8102e"/>
<circle cx="44.94" cy="247.11" r="1.12" fill="#c8102e"/>
<circle cx="47.70" cy="245.90" r="1.12" fill="#c8102e"/>
<circle cx="95.06" cy="243.79" r="1.12" fill="#c8102e"/>
<circle cx="77.79" cy="246.54" r="1.12" fill="#c8102e"/>
<circle cx="68.66" cy="244.47" r="1.12" fill="#c8102e"/>
<circle cx="39.92" cy="241.46" r="1.12" fill="#c8102e"/>
<circle cx="47.98" cy="222.23" r="1.12" fill="#c8102e"/>
<circle cx="89.49" cy="245.96" r="1.12" fill="#c8102e"/>
<circle cx="37.22" cy="246.92" r="1.12" fill="#c8102e"/>
<circle cx="89.80" cy="246.61" r="1.12" fill="#c8102e"/>
<circle cx="76.23" cy="247.06" r="1.12" fill="#c8102e"/>
<circle cx="70.67" cy="239.49" r="1.12" fill="#c8102e"/>
<circle cx="66.79" cy="247.12" r="1.12" fill="#c8102e"/>
<circle cx="77.23" cy="245.93" r="1.12" fill="#c8102e"/>
<circle cx="46.31" cy="241.60" r="1.12" fill="#c8102e"/>
<circle cx="50.33" cy="234.67" r="1.12" fill="#c8102e"/>
<circle cx="65.97" cy="246.42" r="1.12" fill="#c8102e"/>
<circle cx="65.81" cy="236.99" r="1.12" fill="#c8102e"/>
<circle cx="52.50" cy="246.78" r="1.12" fill="#c8102e"/>
<circle cx="95.05" cy="241.09" r="1.12" fill="#c8102e"/>
<circle cx="61.79" cy="246.92" r="1.12" fill="#c8102e"/>
<circle cx="60.12" cy="237.81" r="1.12" fill="#c8102e"/>
<circle cx="70.22" cy="246.26" r="1.12" fill="#c8102e"/>
<circle cx="47.34" cy="238.78" r="1.12" fill="#c8102e"/>
<circle cx="39.11" cy="247.11" r="1.12" fill="#c8102e"/>
<circle cx="36.80" cy="244.14" r="1.12" fill="#c8102e"/>
<circle cx="53.43" cy="240.56" r="1.12" fill="#c8102e"/>
<circle cx="65.24" cy="240.07" r="1.12" fill="#c8102e"/>
<circle cx="83.82" cy="243.49" r="1.12" fill="#c8102e"/>
<circle cx="71.81" cy="235.92" r="1.12" fill="#c8102e"/>
<circle cx="58.41" cy="242.92" r="1.12" fill="#c8102e"/>
<circle cx="41.55" cy="239.90" r="1.12" fill="#c8102e"/>
<circle cx="88.98" cy="246.08" r="1.12" fill="#c8102e"/>
<circle cx="88.30" cy="240.42" r="1.12" fill="#c8102e"/>
<circle cx="53.11" cy="237.66" r="1.12" fill="#c8102e"/>
<circle cx="44.20" cy="246.53" r="1.12" fill="#c8102e"/>
<circle cx="70.65" cy="246.89" r="1.12" fill="#c8102e"/>
<circle cx="53.05" cy="243.87" r="1.12" fill="#c8102e"/>
<circle cx="50.46" cy="238.68" r="1.12" fill="#c8102e"/>
<circle cx="59.31" cy="242.06" r="1.12" fill="#c8102e"/>
<circle cx="41.35" cy="246.64" r="1.12" fill="#c8102e"/>
<circle cx="93.16" cy="246.42" r="1.12" fill="#c8102e"/>
<circle cx="71.20" cy="247.70" r="1.12" fill="#c8102e"/>
<circle cx="69.38" cy="241.16" r="1.12" fill="#c8102e"/>
<circle cx="61.36" cy="235.68" r="1.12" fill="#c8102e"/>
<circle cx="42.54" cy="240.09" r="1.12" fill="#c8102e"/>
<circle cx="51.10" cy="235.73" r="1.12" fill="#c8102e"/>
<circle cx="60.56" cy="244.44" r="1.12" fill="#c8102e"/>
<circle cx="66.64" cy="233.10" r="1.12" fill="#c8102e"/>
<circle cx="52.76" cy="243.81" r="1.12" fill="#c8102e"/>
<circle cx="60.23" cy="246.38" r="1.12" fill="#c8102e"/>
<circle cx="71.95" cy="246.71" r="1.12" fill="#c8102e"/>
<circle cx="46.81" cy="235.25" r="1.12" fill="#c8102e"/>
<circle cx="84.98" cy="237.93" r="1.12" fill="#c8102e"/>
<circle cx="36.05" cy="246.39" r="1.12" fill="#c8102e"/>
<circle cx="74.80" cy="243.15" r="1.12" fill="#c8102e"/>
<circle cx="89.32" cy="242.29" r="1.12" fill="#c8102e"/>
<circle cx="44.54" cy="241.46" r="1.12" fill="#c8102e"/>
<circle cx="80.26" cy="225.83" r="1.12" fill="#c8102e"/>
<circle cx="63.25" cy="235.96" r="1.12" fill="#c8102e"/>
<circle cx="82.86" cy="246.86" r="1.12" fill="#c8102e"/>
<circle cx="55.16" cy="246.82" r="1.12" fill="#c8102e"/>
<circle cx="36.46" cy="238.37" r="1.12" fill="#c8102e"/>
<circle cx="68.65" cy="242.07" r="1.12" fill="#c8102e"/>
<circle cx="53.07" cy="246.37" r="1.12" fill="#c8102e"/>
<circle cx="71.54" cy="244.13" r="1.12" fill="#c8102e"/>
<circle cx="70.60" cy="237.99" r="1.12" fill="#c8102e"/>
<circle cx="60.15" cy="247.70" r="1.12" fill="#c8102e"/>
<circle cx="63.92" cy="247.33" r="1.12" fill="#c8102e"/>
<circle cx="106.50" cy="235.93" r="1.12" fill="#c8102e"/>
<circle cx="119.09" cy="229.45" r="1.12" fill="#c8102e"/>
<circle cx="98.16" cy="244.13" r="1.12" fill="#c8102e"/>
<circle cx="100.55" cy="246.14" r="1.12" fill="#c8102e"/>
<circle cx="105.13" cy="237.09" r="1.12" fill="#c8102e"/>
<circle cx="126.47" cy="228.47" r="1.12" fill="#c8102e"/>
<circle cx="133.73" cy="217.98" r="1.12" fill="#c8102e"/>
<circle cx="110.98" cy="233.99" r="1.12" fill="#c8102e"/>
<circle cx="131.33" cy="245.66" r="1.12" fill="#c8102e"/>
<circle cx="106.91" cy="234.62" r="1.12" fill="#c8102e"/>
<circle cx="105.49" cy="236.34" r="1.12" fill="#c8102e"/>
<circle cx="125.04" cy="231.33" r="1.12" fill="#c8102e"/>
<circle cx="132.90" cy="216.65" r="1.12" fill="#c8102e"/>
<circle cx="109.42" cy="247.01" r="1.12" fill="#c8102e"/>
<circle cx="133.98" cy="228.04" r="1.12" fill="#c8102e"/>
<circle cx="106.56" cy="246.53" r="1.12" fill="#c8102e"/>
<circle cx="102.78" cy="237.63" r="1.12" fill="#c8102e"/>
<circle cx="121.50" cy="230.18" r="1.12" fill="#c8102e"/>
<circle cx="97.56" cy="238.74" r="1.12" fill="#c8102e"/>
<circle cx="119.37" cy="236.49" r="1.12" fill="#c8102e"/>
<circle cx="100.37" cy="234.37" r="1.12" fill="#c8102e"/>
<circle cx="102.23" cy="239.18" r="1.12" fill="#c8102e"/>
<circle cx="131.73" cy="246.69" r="1.12" fill="#c8102e"/>
<circle cx="133.08" cy="222.04" r="1.12" fill="#c8102e"/>
<circle cx="113.34" cy="235.04" r="1.12" fill="#c8102e"/>
<circle cx="122.10" cy="227.32" r="1.12" fill="#c8102e"/>
<circle cx="111.53" cy="247.15" r="1.12" fill="#c8102e"/>
<circle cx="104.95" cy="235.43" r="1.12" fill="#c8102e"/>
<circle cx="127.86" cy="214.47" r="1.12" fill="#c8102e"/>
<circle cx="130.38" cy="220.95" r="1.12" fill="#c8102e"/>
<circle cx="120.67" cy="234.29" r="1.12" fill="#c8102e"/>
<circle cx="121.26" cy="227.21" r="1.12" fill="#c8102e"/>
<circle cx="108.19" cy="227.87" r="1.12" fill="#c8102e"/>
<circle cx="121.87" cy="223.83" r="1.12" fill="#c8102e"/>
<circle cx="126.78" cy="228.53" r="1.12" fill="#c8102e"/>
<circle cx="98.85" cy="236.02" r="1.12" fill="#c8102e"/>
<circle cx="112.84" cy="241.33" r="1.12" fill="#c8102e"/>
<circle cx="124.33" cy="231.73" r="1.12" fill="#c8102e"/>
<circle cx="119.61" cy="247.07" r="1.12" fill="#c8102e"/>
<circle cx="105.69" cy="239.10" r="1.12" fill="#c8102e"/>
<circle cx="114.43" cy="231.20" r="1.12" fill="#c8102e"/>
<circle cx="121.75" cy="229.02" r="1.12" fill="#c8102e"/>
<circle cx="119.02" cy="245.39" r="1.12" fill="#c8102e"/>
<circle cx="104.09" cy="235.60" r="1.12" fill="#c8102e"/>
<circle cx="130.04" cy="231.07" r="1.12" fill="#c8102e"/>
<circle cx="100.51" cy="239.03" r="1.12" fill="#c8102e"/>
<circle cx="114.67" cy="228.61" r="1.12" fill="#c8102e"/>
<circle cx="123.10" cy="220.72" r="1.12" fill="#c8102e"/>
<polyline points="35.70,242.56 36.95,242.42 38.19,242.29 39.44,242.16 40.68,242.03 41.93,241.91 43.18,241.79 44.42,241.67 45.67,241.56 46.91,241.45 48.16,241.34 49.41,241.24 50.65,241.14 51.90,241.04 53.15,240.94 54.39,240.85 55.64,240.76 56.88,240.68 58.13,240.60 59.38,240.52 60.62,240.44 61.87,240.37 63.11,240.30 64.36,240.24 65.61,240.18 66.85,240.12 68.10,240.06 69.34,240.01 70.59,239.96 71.84,239.91 73.08,239.87 74.33,239.83 75.57,239.79 76.82,239.76 78.07,239.73 79.31,239.70 80.56,239.68 81.80,239.66 83.05,239.64 84.30,239.62 85.54,239.61 86.79,239.61 88.04,239.60 89.28,239.60 90.53,239.56 91.77,239.46 93.02,239.33 94.27,239.16 95.51,238.96 96.76,238.73 98.00,238.47 99.25,238.17 100.50,237.85 101.74,237.51 102.99,237.14 104.23,236.74 105.48,236.31 106.73,235.87 107.97,235.40 109.22,234.90 110.46,234.38 111.71,233.84 112.96,233.28 114.20,232.70 115.45,232.09 116.69,231.47 117.94,230.82 119.19,230.15 120.43,229.46 121.68,228.75 122.93,228.02 124.17,227.27 125.42,226.50 126.66,225.71 127.91,224.90 129.16,224.07 130.40,223.22 131.65,222.36 132.89,221.47 134.14,220.57" fill="none" stroke="#b0122b" stroke-width="1.1"/>
<line x1="32.60" y1="214.20" x2="32.60" y2="248.65" stroke="#111" stroke-width="1.1"/>
<line x1="32.05" y1="248.10" x2="134.80" y2="248.10" stroke="#111" stroke-width="1.1"/>
<line x1="29.30" y1="218.08" x2="32.60" y2="218.08" stroke="#111" stroke-width="1.0"/>
<line x1="29.30" y1="223.46" x2="32.60" y2="223.46" stroke="#111" stroke-width="1.0"/>
<text x="27.40" y="226.41" font-size="8.2" text-anchor="end" fill="#111" stroke="#111" stroke-width="0.12" textLength="4.01" lengthAdjust="spacingAndGlyphs">6</text>
<line x1="29.30" y1="228.84" x2="32.60" y2="228.84" stroke="#111" stroke-width="1.0"/>
<line x1="29.30" y1="234.22" x2="32.60" y2="234.22" stroke="#111" stroke-width="1.0"/>
<text x="27.40" y="237.17" font-size="8.2" text-anchor="end" fill="#111" stroke="#111" stroke-width="0.12" textLength="4.01" lengthAdjust="spacingAndGlyphs">2</text>
<line x1="29.30" y1="239.60" x2="32.60" y2="239.60" stroke="#111" stroke-width="1.0"/>
<line x1="29.30" y1="244.98" x2="32.60" y2="244.98" stroke="#111" stroke-width="1.0"/>
<text x="27.40" y="247.93" font-size="8.2" text-anchor="end" fill="#111" stroke="#111" stroke-width="0.12" textLength="6.42" lengthAdjust="spacingAndGlyphs">-2</text>
<line x1="35.70" y1="248.10" x2="35.70" y2="251.40" stroke="#111" stroke-width="1.0"/>
<text x="35.70" y="260.60" font-size="8.0" text-anchor="middle" fill="#111" stroke="#111" stroke-width="0.12">0</text>
<line x1="57.10" y1="248.10" x2="57.10" y2="251.40" stroke="#111" stroke-width="1.0"/>
<text x="57.10" y="260.60" font-size="8.0" text-anchor="middle" fill="#111" stroke="#111" stroke-width="0.12">10</text>
<line x1="78.50" y1="248.10" x2="78.50" y2="251.40" stroke="#111" stroke-width="1.0"/>
<text x="78.50" y="260.60" font-size="8.0" text-anchor="middle" fill="#111" stroke="#111" stroke-width="0.12">20</text>
<line x1="99.90" y1="248.10" x2="99.90" y2="251.40" stroke="#111" stroke-width="1.0"/>
<text x="99.90" y="260.60" font-size="8.0" text-anchor="middle" fill="#111" stroke="#111" stroke-width="0.12">30</text>
<line x1="121.30" y1="248.10" x2="121.30" y2="251.40" stroke="#111" stroke-width="1.0"/>
<text x="121.30" y="260.60" font-size="8.0" text-anchor="middle" fill="#111" stroke="#111" stroke-width="0.12">40</text>
<text x="83.85" y="206.00" font-size="8.4" text-anchor="middle" fill="#111" stroke="#111" stroke-width="0.12" textLength="49.30" lengthAdjust="spacingAndGlyphs">Th, Lineage 1</text>
<text x="13.60" y="233.60" font-size="9.2" text-anchor="middle" fill="#111" stroke="#111" stroke-width="0.12" textLength="35.60" lengthAdjust="spacingAndGlyphs" transform="rotate(-90 13.60 233.60)">Expression</text>
<polygon points="158.50,241.48 159.69,241.38 160.88,241.27 162.07,241.16 163.26,241.05 164.44,240.94 165.63,240.84 166.82,240.73 168.01,240.62 169.20,240.51 170.39,240.40 171.58,240.30 172.77,240.19 173.96,240.08 175.15,239.97 176.33,239.86 177.52,239.76 178.71,239.65 179.90,239.54 181.09,239.43 182.28,239.32 183.47,239.22 184.66,239.11 185.85,239.00 187.04,238.89 188.22,238.78 189.41,238.68 190.60,238.57 191.79,238.46 192.98,238.35 194.17,238.24 195.36,238.14 196.55,238.03 197.74,237.92 198.93,237.81 200.11,237.66 201.30,237.51 202.49,237.36 203.68,237.35 204.87,237.44 206.06,237.52 207.25,237.60 208.44,237.69 209.63,237.77 210.82,237.85 212.00,237.93 213.19,238.02 214.38,238.10 215.57,238.18 216.76,238.26 217.95,238.35 219.14,238.43 220.33,238.51 221.52,238.60 222.71,238.68 223.89,238.76 225.08,238.84 226.27,238.93 227.46,239.01 228.65,239.09 229.84,239.17 231.03,239.26 232.22,239.34 233.41,239.42 234.60,239.51 235.78,239.59 236.97,239.67 238.16,239.75 239.35,239.84 240.54,239.92 241.73,240.00 242.92,240.08 244.11,240.17 245.30,240.25 246.49,240.33 247.67,240.42 248.86,240.50 250.05,240.58 251.24,240.66 252.43,240.64 252.43,246.63 251.24,246.57 250.05,246.40 248.86,246.23 247.67,246.06 246.49,245.90 245.30,245.73 244.11,245.56 242.92,245.39 241.73,245.22 240.54,245.06 239.35,244.89 238.16,244.72 236.97,244.55 235.78,244.39 234.60,244.22 233.41,244.05 232.22,243.88 231.03,243.71 229.84,243.55 228.65,243.38 227.46,243.21 226.27,243.04 225.08,242.87 223.89,242.71 222.71,242.54 221.52,242.37 220.33,242.20 219.14,242.03 217.95,241.87 216.76,241.70 215.57,241.53 214.38,241.36 213.19,241.19 212.00,241.03 210.82,240.86 209.63,240.69 208.44,240.52 207.25,240.35 206.06,240.19 204.87,240.02 203.68,239.85 202.49,239.77 201.30,239.83 200.11,239.90 198.93,239.97 197.74,240.07 196.55,240.18 195.36,240.29 194.17,240.40 192.98,240.50 191.79,240.61 190.60,240.72 189.41,240.83 188.22,240.94 187.04,241.04 185.85,241.15 184.66,241.26 183.47,241.37 182.28,241.48 181.09,241.58 179.90,241.69 178.71,241.80 177.52,241.91 176.33,242.02 175.15,242.12 173.96,242.23 172.77,242.34 171.58,242.45 170.39,242.56 169.20,242.66 168.01,242.77 166.82,242.88 165.63,242.99 164.44,243.10 163.26,243.20 162.07,243.31 160.88,243.42 159.69,243.53 158.50,243.63" fill="#f2b8c2" fill-opacity="0.85"/>
<polyline points="158.50,243.15 159.69,243.04 160.88,242.93 162.07,242.83 163.26,242.72 164.44,242.61 165.63,242.50 166.82,242.40 168.01,242.29 169.20,242.18 170.39,242.07 171.58,241.96 172.77,241.86 173.96,241.75 175.15,241.64 176.33,241.53 177.52,241.42 178.71,241.32 179.90,241.21 181.09,241.10 182.28,240.99 183.47,240.88 184.66,240.78 185.85,240.67 187.04,240.56 188.22,240.45 189.41,240.34 190.60,240.24 191.79,240.13 192.98,240.02 194.17,239.91 195.36,239.80 196.55,239.70 197.74,239.59 198.93,239.48 200.11,239.40 201.30,239.31 202.49,239.23 203.68,239.29 204.87,239.44 206.06,239.59 207.25,239.73 208.44,239.88 209.63,240.03 210.82,240.18 212.00,240.33 213.19,240.48 214.38,240.63 215.57,240.78 216.76,240.93 217.95,241.07 219.14,241.22 220.33,241.37 221.52,241.52 222.71,241.67 223.89,241.82 225.08,241.97 226.27,242.12 227.46,242.26 228.65,242.41 229.84,242.56 231.03,242.71 232.22,242.86 233.41,243.01 234.60,243.16 235.78,243.31 236.97,243.45 238.16,243.60 239.35,243.75 240.54,243.90 241.73,244.05 242.92,244.20 244.11,244.35 245.30,244.50 246.49,244.64 247.67,244.79 248.86,244.94 250.05,245.09 251.24,245.24 252.43,245.28" fill="none" stroke="#e58e9c" stroke-width="0.45"/>
<polyline points="158.50,241.97 159.69,241.86 160.88,241.75 162.07,241.64 163.26,241.54 164.44,241.43 165.63,241.32 166.82,241.21 168.01,241.10 169.20,241.00 170.39,240.89 171.58,240.78 172.77,240.67 173.96,240.56 175.15,240.46 176.33,240.35 177.52,240.24 178.71,240.13 179.90,240.02 181.09,239.92 182.28,239.81 183.47,239.70 184.66,239.59 185.85,239.48 187.04,239.38 188.22,239.27 189.41,239.16 190.60,239.05 191.79,238.94 192.98,238.84 194.17,238.73 195.36,238.62 196.55,238.51 197.74,238.40 198.93,238.30 200.11,238.16 201.30,238.03 202.49,237.90 203.68,237.92 204.87,238.02 206.06,238.12 207.25,238.22 208.44,238.32 209.63,238.43 210.82,238.53 212.00,238.63 213.19,238.73 214.38,238.83 215.57,238.94 216.76,239.04 217.95,239.14 219.14,239.24 220.33,239.34 221.52,239.44 222.71,239.55 223.89,239.65 225.08,239.75 226.27,239.85 227.46,239.95 228.65,240.06 229.84,240.16 231.03,240.26 232.22,240.36 233.41,240.46 234.60,240.57 235.78,240.67 236.97,240.77 238.16,240.87 239.35,240.97 240.54,241.08 241.73,241.18 242.92,241.28 244.11,241.38 245.30,241.48 246.49,241.58 247.67,241.69 248.86,241.79 250.05,241.89 251.24,241.99 252.43,241.99" fill="none" stroke="#e58e9c" stroke-width="0.45"/>
<circle cx="165.02" cy="246.62" r="1.12" fill="#c8102e"/>
<circle cx="193.18" cy="241.77" r="1.12" fill="#c8102e"/>
<circle cx="204.61" cy="244.00" r="1.12" fill="#c8102e"/>
<circle cx="192.91" cy="241.29" r="1.12" fill="#c8102e"/>
<circle cx="187.47" cy="244.76" r="1.12" fill="#c8102e"/>
<circle cx="159.53" cy="235.12" r="1.12" fill="#c8102e"/>
<circle cx="169.36" cy="240.67" r="1.12" fill="#c8102e"/>
<circle cx="167.26" cy="246.71" r="1.12" fill="#c8102e"/>
<circle cx="180.00" cy="247.80" r="1.12" fill="#c8102e"/>
<circle cx="202.42" cy="246.07" r="1.12" fill="#c8102e"/>
<circle cx="192.33" cy="231.48" r="1.12" fill="#c8102e"/>
<circle cx="172.34" cy="238.05" r="1.12" fill="#c8102e"/>
<circle cx="173.68" cy="244.91" r="1.12" fill="#c8102e"/>
<circle cx="178.08" cy="234.69" r="1.12" fill="#c8102e"/>
<circle cx="204.22" cy="247.01" r="1.12" fill="#c8102e"/>
<circle cx="202.65" cy="247.80" r="1.12" fill="#c8102e"/>
<circle cx="182.15" cy="242.46" r="1.12" fill="#c8102e"/>
<circle cx="182.00" cy="237.14" r="1.12" fill="#c8102e"/>
<circle cx="204.42" cy="247.03" r="1.12" fill="#c8102e"/>
<circle cx="164.94" cy="235.43" r="1.12" fill="#c8102e"/>
<circle cx="178.38" cy="229.50" r="1.12" fill="#c8102e"/>
<circle cx="177.42" cy="244.91" r="1.12" fill="#c8102e"/>
<circle cx="191.99" cy="246.94" r="1.12" fill="#c8102e"/>
<circle cx="202.35" cy="247.80" r="1.12" fill="#c8102e"/>
<circle cx="179.92" cy="246.83" r="1.12" fill="#c8102e"/>
<circle cx="181.20" cy="245.30" r="1.12" fill="#c8102e"/>
<circle cx="204.50" cy="246.12" r="1.12" fill="#c8102e"/>
<circle cx="167.57" cy="247.80" r="1.12" fill="#c8102e"/>
<circle cx="198.13" cy="241.34" r="1.12" fill="#c8102e"/>
<circle cx="178.97" cy="244.77" r="1.12" fill="#c8102e"/>
<circle cx="162.02" cy="241.70" r="1.12" fill="#c8102e"/>
<circle cx="188.51" cy="230.59" r="1.12" fill="#c8102e"/>
<circle cx="171.59" cy="242.27" r="1.12" fill="#c8102e"/>
<circle cx="160.04" cy="243.99" r="1.12" fill="#c8102e"/>
<circle cx="186.14" cy="245.68" r="1.12" fill="#c8102e"/>
<circle cx="198.65" cy="246.56" r="1.12" fill="#c8102e"/>
<circle cx="187.52" cy="247.80" r="1.12" fill="#c8102e"/>
<circle cx="189.22" cy="239.02" r="1.12" fill="#c8102e"/>
<circle cx="190.45" cy="226.62" r="1.12" fill="#c8102e"/>
<circle cx="191.83" cy="246.34" r="1.12" fill="#c8102e"/>
<circle cx="167.80" cy="240.32" r="1.12" fill="#c8102e"/>
<circle cx="196.45" cy="247.80" r="1.12" fill="#c8102e"/>
<circle cx="178.89" cy="245.77" r="1.12" fill="#c8102e"/>
<circle cx="196.78" cy="246.85" r="1.12" fill="#c8102e"/>
<circle cx="198.37" cy="238.96" r="1.12" fill="#c8102e"/>
<circle cx="197.63" cy="240.49" r="1.12" fill="#c8102e"/>
<circle cx="174.08" cy="246.84" r="1.12" fill="#c8102e"/>
<circle cx="176.32" cy="243.86" r="1.12" fill="#c8102e"/>
<circle cx="203.43" cy="245.35" r="1.12" fill="#c8102e"/>
<circle cx="158.62" cy="246.36" r="1.12" fill="#c8102e"/>
<circle cx="173.51" cy="228.38" r="1.12" fill="#c8102e"/>
<circle cx="198.22" cy="247.13" r="1.12" fill="#c8102e"/>
<circle cx="193.84" cy="224.93" r="1.12" fill="#c8102e"/>
<circle cx="173.88" cy="246.71" r="1.12" fill="#c8102e"/>
<circle cx="171.84" cy="242.59" r="1.12" fill="#c8102e"/>
<circle cx="187.26" cy="246.26" r="1.12" fill="#c8102e"/>
<circle cx="179.80" cy="239.33" r="1.12" fill="#c8102e"/>
<circle cx="196.19" cy="246.54" r="1.12" fill="#c8102e"/>
<circle cx="170.32" cy="246.83" r="1.12" fill="#c8102e"/>
<circle cx="193.26" cy="241.12" r="1.12" fill="#c8102e"/>
<circle cx="160.17" cy="247.06" r="1.12" fill="#c8102e"/>
<circle cx="166.50" cy="244.14" r="1.12" fill="#c8102e"/>
<circle cx="183.19" cy="241.10" r="1.12" fill="#c8102e"/>
<circle cx="192.63" cy="247.80" r="1.12" fill="#c8102e"/>
<circle cx="171.15" cy="245.70" r="1.12" fill="#c8102e"/>
<circle cx="170.02" cy="241.48" r="1.12" fill="#c8102e"/>
<circle cx="178.82" cy="246.54" r="1.12" fill="#c8102e"/>
<circle cx="172.15" cy="247.00" r="1.12" fill="#c8102e"/>
<circle cx="201.97" cy="245.40" r="1.12" fill="#c8102e"/>
<circle cx="166.27" cy="244.16" r="1.12" fill="#c8102e"/>
<circle cx="189.87" cy="241.26" r="1.12" fill="#c8102e"/>
<circle cx="191.15" cy="240.90" r="1.12" fill="#c8102e"/>
<circle cx="159.59" cy="242.30" r="1.12" fill="#c8102e"/>
<circle cx="169.07" cy="243.58" r="1.12" fill="#c8102e"/>
<circle cx="165.63" cy="247.03" r="1.12" fill="#c8102e"/>
<circle cx="167.85" cy="246.34" r="1.12" fill="#c8102e"/>
<circle cx="185.73" cy="235.87" r="1.12" fill="#c8102e"/>
<circle cx="180.02" cy="247.80" r="1.12" fill="#c8102e"/>
<circle cx="177.35" cy="245.70" r="1.12" fill="#c8102e"/>
<circle cx="194.87" cy="247.75" r="1.12" fill="#c8102e"/>
<circle cx="173.02" cy="247.55" r="1.12" fill="#c8102e"/>
<circle cx="189.83" cy="239.74" r="1.12" fill="#c8102e"/>
<circle cx="179.48" cy="240.21" r="1.12" fill="#c8102e"/>
<circle cx="161.69" cy="245.18" r="1.12" fill="#c8102e"/>
<circle cx="171.45" cy="237.77" r="1.12" fill="#c8102e"/>
<circle cx="162.73" cy="240.60" r="1.12" fill="#c8102e"/>
<circle cx="202.40" cy="246.70" r="1.12" fill="#c8102e"/>
<circle cx="179.49" cy="246.70" r="1.12" fill="#c8102e"/>
<circle cx="167.94" cy="246.69" r="1.12" fill="#c8102e"/>
<circle cx="190.45" cy="247.80" r="1.12" fill="#c8102e"/>
<circle cx="173.67" cy="245.76" r="1.12" fill="#c8102e"/>
<circle cx="174.84" cy="244.87" r="1.12" fill="#c8102e"/>
<circle cx="162.51" cy="246.34" r="1.12" fill="#c8102e"/>
<circle cx="172.82" cy="247.02" r="1.12" fill="#c8102e"/>
<circle cx="174.41" cy="247.74" r="1.12" fill="#c8102e"/>
<circle cx="203.66" cy="241.72" r="1.12" fill="#c8102e"/>
<circle cx="162.95" cy="246.21" r="1.12" fill="#c8102e"/>
<circle cx="184.31" cy="245.14" r="1.12" fill="#c8102e"/>
<circle cx="169.69" cy="239.47" r="1.12" fill="#c8102e"/>
<circle cx="175.23" cy="246.53" r="1.12" fill="#c8102e"/>
<circle cx="203.34" cy="237.86" r="1.12" fill="#c8102e"/>
<circle cx="172.33" cy="233.20" r="1.12" fill="#c8102e"/>
<circle cx="197.41" cy="247.66" r="1.12" fill="#c8102e"/>
<circle cx="171.43" cy="246.34" r="1.12" fill="#c8102e"/>
<circle cx="191.94" cy="246.55" r="1.12" fill="#c8102e"/>
<circle cx="252.75" cy="246.45" r="1.12" fill="#c8102e"/>
<circle cx="252.79" cy="241.73" r="1.12" fill="#c8102e"/>
<circle cx="246.87" cy="243.67" r="1.12" fill="#c8102e"/>
<circle cx="249.64" cy="239.01" r="1.12" fill="#c8102e"/>
<circle cx="247.98" cy="247.30" r="1.12" fill="#c8102e"/>
<circle cx="239.91" cy="246.47" r="1.12" fill="#c8102e"/>
<circle cx="246.30" cy="247.80" r="1.12" fill="#c8102e"/>
<circle cx="240.10" cy="243.70" r="1.12" fill="#c8102e"/>
<circle cx="243.67" cy="246.89" r="1.12" fill="#c8102e"/>
<circle cx="244.70" cy="246.08" r="1.12" fill="#c8102e"/>
<circle cx="251.67" cy="246.38" r="1.12" fill="#c8102e"/>
<circle cx="251.47" cy="241.55" r="1.12" fill="#c8102e"/>
<circle cx="248.30" cy="243.48" r="1.12" fill="#c8102e"/>
<circle cx="250.41" cy="245.68" r="1.12" fill="#c8102e"/>
<circle cx="243.26" cy="244.70" r="1.12" fill="#c8102e"/>
<circle cx="254.11" cy="239.52" r="1.12" fill="#c8102e"/>
<circle cx="254.12" cy="246.50" r="1.12" fill="#c8102e"/>
<circle cx="248.27" cy="243.59" r="1.12" fill="#c8102e"/>
<circle cx="254.23" cy="242.98" r="1.12" fill="#c8102e"/>
<circle cx="251.45" cy="245.08" r="1.12" fill="#c8102e"/>
<circle cx="239.87" cy="245.50" r="1.12" fill="#c8102e"/>
<circle cx="243.66" cy="246.59" r="1.12" fill="#c8102e"/>
<circle cx="249.87" cy="246.38" r="1.12" fill="#c8102e"/>
<circle cx="249.56" cy="244.81" r="1.12" fill="#c8102e"/>
<circle cx="247.04" cy="247.05" r="1.12" fill="#c8102e"/>
<circle cx="244.24" cy="247.10" r="1.12" fill="#c8102e"/>
<circle cx="251.28" cy="243.66" r="1.12" fill="#c8102e"/>
<circle cx="254.04" cy="246.54" r="1.12" fill="#c8102e"/>
<polyline points="158.50,242.56 159.69,242.45 160.88,242.34 162.07,242.24 163.26,242.13 164.44,242.02 165.63,241.91 166.82,241.80 168.01,241.70 169.20,241.59 170.39,241.48 171.58,241.37 172.77,241.26 173.96,241.16 175.15,241.05 176.33,240.94 177.52,240.83 178.71,240.72 179.90,240.62 181.09,240.51 182.28,240.40 183.47,240.29 184.66,240.18 185.85,240.08 187.04,239.97 188.22,239.86 189.41,239.75 190.60,239.64 191.79,239.54 192.98,239.43 194.17,239.32 195.36,239.21 196.55,239.10 197.74,239.00 198.93,238.89 200.11,238.78 201.30,238.67 202.49,238.56 203.68,238.60 204.87,238.73 206.06,238.85 207.25,238.98 208.44,239.10 209.63,239.23 210.82,239.35 212.00,239.48 213.19,239.60 214.38,239.73 215.57,239.86 216.76,239.98 217.95,240.11 219.14,240.23 220.33,240.36 221.52,240.48 222.71,240.61 223.89,240.73 225.08,240.86 226.27,240.98 227.46,241.11 228.65,241.23 229.84,241.36 231.03,241.49 232.22,241.61 233.41,241.74 234.60,241.86 235.78,241.99 236.97,242.11 238.16,242.24 239.35,242.36 240.54,242.49 241.73,242.61 242.92,242.74 244.11,242.86 245.30,242.99 246.49,243.11 247.67,243.24 248.86,243.37 250.05,243.49 251.24,243.62 252.43,243.63" fill="none" stroke="#b0122b" stroke-width="1.1"/>
<line x1="154.00" y1="213.30" x2="154.00" y2="248.75" stroke="#111" stroke-width="1.1"/>
<line x1="153.45" y1="248.20" x2="260.60" y2="248.20" stroke="#111" stroke-width="1.1"/>
<line x1="150.70" y1="218.08" x2="154.00" y2="218.08" stroke="#111" stroke-width="1.0"/>
<line x1="150.70" y1="223.46" x2="154.00" y2="223.46" stroke="#111" stroke-width="1.0"/>
<text x="148.80" y="226.41" font-size="8.2" text-anchor="end" fill="#111" stroke="#111" stroke-width="0.12" textLength="4.01" lengthAdjust="spacingAndGlyphs">6</text>
<line x1="150.70" y1="228.84" x2="154.00" y2="228.84" stroke="#111" stroke-width="1.0"/>
<line x1="150.70" y1="234.22" x2="154.00" y2="234.22" stroke="#111" stroke-width="1.0"/>
<text x="148.80" y="237.17" font-size="8.2" text-anchor="end" fill="#111" stroke="#111" stroke-width="0.12" textLength="4.01" lengthAdjust="spacingAndGlyphs">2</text>
<line x1="150.70" y1="239.60" x2="154.00" y2="239.60" stroke="#111" stroke-width="1.0"/>
<line x1="150.70" y1="244.98" x2="154.00" y2="244.98" stroke="#111" stroke-width="1.0"/>
<text x="148.80" y="247.93" font-size="8.2" text-anchor="end" fill="#111" stroke="#111" stroke-width="0.12" textLength="6.42" lengthAdjust="spacingAndGlyphs">-2</text>
<line x1="158.50" y1="248.20" x2="158.50" y2="251.50" stroke="#111" stroke-width="1.0"/>
<text x="158.50" y="260.70" font-size="8.0" text-anchor="middle" fill="#111" stroke="#111" stroke-width="0.12">0</text>
<line x1="178.70" y1="248.20" x2="178.70" y2="251.50" stroke="#111" stroke-width="1.0"/>
<text x="178.70" y="260.70" font-size="8.0" text-anchor="middle" fill="#111" stroke="#111" stroke-width="0.12">10</text>
<line x1="198.90" y1="248.20" x2="198.90" y2="251.50" stroke="#111" stroke-width="1.0"/>
<text x="198.90" y="260.70" font-size="8.0" text-anchor="middle" fill="#111" stroke="#111" stroke-width="0.12">20</text>
<line x1="219.10" y1="248.20" x2="219.10" y2="251.50" stroke="#111" stroke-width="1.0"/>
<text x="219.10" y="260.70" font-size="8.0" text-anchor="middle" fill="#111" stroke="#111" stroke-width="0.12">30</text>
<line x1="239.30" y1="248.20" x2="239.30" y2="251.50" stroke="#111" stroke-width="1.0"/>
<text x="239.30" y="260.70" font-size="8.0" text-anchor="middle" fill="#111" stroke="#111" stroke-width="0.12">40</text>
<text x="207.65" y="206.50" font-size="8.4" text-anchor="middle" fill="#111" stroke="#111" stroke-width="0.12" textLength="51.10" lengthAdjust="spacingAndGlyphs">Th, Lineage 2</text>
<polygon points="288.40,244.59 289.61,244.56 290.82,244.52 292.04,244.49 293.25,244.45 294.46,244.42 295.67,244.39 296.89,244.35 298.10,244.32 299.31,244.28 300.52,244.25 301.73,244.21 302.95,244.18 304.16,244.15 305.37,244.11 306.58,244.08 307.79,244.04 309.01,244.01 310.22,243.97 311.43,243.94 312.64,243.90 313.86,243.87 315.07,243.84 316.28,243.80 317.49,243.77 318.70,243.73 319.92,243.70 321.13,243.66 322.34,243.63 323.55,243.59 324.76,243.56 325.98,243.53 327.19,243.49 328.40,243.46 329.61,243.42 330.83,243.39 332.04,243.35 333.25,243.32 334.46,243.28 335.67,243.25 336.89,243.22 338.10,243.18 339.31,243.01 340.52,242.69 341.73,242.31 342.95,241.88 344.16,241.41 345.37,240.91 346.58,240.39 347.80,239.84 349.01,239.27 350.22,238.69 351.43,238.08 352.64,237.45 353.86,236.81 355.07,236.16 356.28,235.48 357.49,234.80 358.70,234.10 359.92,233.39 361.13,232.67 362.34,231.93 363.55,231.19 364.77,230.43 365.98,229.67 367.19,228.89 368.40,228.10 369.61,227.31 370.83,226.50 372.04,225.68 373.25,224.86 374.46,224.03 375.67,223.19 376.89,222.34 378.10,221.48 379.31,220.62 380.52,219.74 381.74,218.86 382.95,217.98 384.16,217.08 384.16,219.21 382.95,220.11 381.74,220.99 380.52,221.87 379.31,222.75 378.10,223.61 376.89,224.47 375.67,225.32 374.46,226.16 373.25,226.99 372.04,227.81 370.83,228.63 369.61,229.44 368.40,230.23 367.19,231.02 365.98,231.80 364.77,232.56 363.55,233.32 362.34,234.06 361.13,234.80 359.92,235.52 358.70,236.23 357.49,236.93 356.28,237.61 355.07,238.29 353.86,238.94 352.64,239.58 351.43,240.21 350.22,240.82 349.01,241.40 347.80,241.97 346.58,242.52 345.37,243.04 344.16,243.54 342.95,244.01 341.73,244.44 340.52,244.82 339.31,245.14 338.10,245.31 336.89,245.35 335.67,245.38 334.46,245.41 333.25,245.45 332.04,245.48 330.83,245.52 329.61,245.55 328.40,245.59 327.19,245.62 325.98,245.66 324.76,245.69 323.55,245.72 322.34,245.76 321.13,245.79 319.92,245.83 318.70,245.86 317.49,245.90 316.28,245.93 315.07,245.97 313.86,246.00 312.64,246.03 311.43,246.07 310.22,246.10 309.01,246.14 307.79,246.17 306.58,246.21 305.37,246.24 304.16,246.28 302.95,246.31 301.73,246.34 300.52,246.38 299.31,246.41 298.10,246.45 296.89,246.48 295.67,246.52 294.46,246.55 293.25,246.58 292.04,246.62 290.82,246.65 289.61,246.69 288.40,246.72" fill="#f2b8c2" fill-opacity="0.85"/>
<polyline points="288.40,246.24 289.61,246.21 290.82,246.17 292.04,246.14 293.25,246.11 294.46,246.07 295.67,246.04 296.89,246.00 298.10,245.97 299.31,245.93 300.52,245.90 301.73,245.86 302.95,245.83 304.16,245.80 305.37,245.76 306.58,245.73 307.79,245.69 309.01,245.66 310.22,245.62 311.43,245.59 312.64,245.55 313.86,245.52 315.07,245.49 316.28,245.45 317.49,245.42 318.70,245.38 319.92,245.35 321.13,245.31 322.34,245.28 323.55,245.25 324.76,245.21 325.98,245.18 327.19,245.14 328.40,245.11 329.61,245.07 330.83,245.04 332.04,245.00 333.25,244.97 334.46,244.94 335.67,244.90 336.89,244.87 338.10,244.83 339.31,244.66 340.52,244.34 341.73,243.96 342.95,243.53 344.16,243.06 345.37,242.57 346.58,242.04 347.80,241.49 349.01,240.93 350.22,240.34 351.43,239.73 352.64,239.10 353.86,238.46 355.07,237.81 356.28,237.14 357.49,236.45 358.70,235.75 359.92,235.04 361.13,234.32 362.34,233.59 363.55,232.84 364.77,232.08 365.98,231.32 367.19,230.54 368.40,229.75 369.61,228.96 370.83,228.15 372.04,227.34 373.25,226.51 374.46,225.68 375.67,224.84 376.89,223.99 378.10,223.13 379.31,222.27 380.52,221.39 381.74,220.51 382.95,219.63 384.16,218.73" fill="none" stroke="#e58e9c" stroke-width="0.45"/>
<polyline points="288.40,245.07 289.61,245.04 290.82,245.00 292.04,244.97 293.25,244.93 294.46,244.90 295.67,244.87 296.89,244.83 298.10,244.80 299.31,244.76 300.52,244.73 301.73,244.69 302.95,244.66 304.16,244.62 305.37,244.59 306.58,244.56 307.79,244.52 309.01,244.49 310.22,244.45 311.43,244.42 312.64,244.38 313.86,244.35 315.07,244.31 316.28,244.28 317.49,244.25 318.70,244.21 319.92,244.18 321.13,244.14 322.34,244.11 323.55,244.07 324.76,244.04 325.98,244.00 327.19,243.97 328.40,243.94 329.61,243.90 330.83,243.87 332.04,243.83 333.25,243.80 334.46,243.76 335.67,243.73 336.89,243.69 338.10,243.66 339.31,243.49 340.52,243.17 341.73,242.79 342.95,242.36 344.16,241.89 345.37,241.39 346.58,240.87 347.80,240.32 349.01,239.75 350.22,239.16 351.43,238.56 352.64,237.93 353.86,237.29 355.07,236.63 356.28,235.96 357.49,235.28 358.70,234.58 359.92,233.87 361.13,233.15 362.34,232.41 363.55,231.67 364.77,230.91 365.98,230.15 367.19,229.37 368.40,228.58 369.61,227.78 370.83,226.98 372.04,226.16 373.25,225.34 374.46,224.51 375.67,223.67 376.89,222.82 378.10,221.96 379.31,221.10 380.52,220.22 381.74,219.34 382.95,218.45 384.16,217.56" fill="none" stroke="#e58e9c" stroke-width="0.45"/>
<circle cx="297.22" cy="247.03" r="1.12" fill="#c8102e"/>
<circle cx="291.60" cy="242.90" r="1.12" fill="#c8102e"/>
<circle cx="337.17" cy="244.88" r="1.12" fill="#c8102e"/>
<circle cx="310.63" cy="245.81" r="1.12" fill="#c8102e"/>
<circle cx="337.40" cy="247.77" r="1.12" fill="#c8102e"/>
<circle cx="304.02" cy="246.99" r="1.12" fill="#c8102e"/>
<circle cx="335.68" cy="244.47" r="1.12" fill="#c8102e"/>
<circle cx="323.56" cy="246.00" r="1.12" fill="#c8102e"/>
<circle cx="294.51" cy="246.51" r="1.12" fill="#c8102e"/>
<circle cx="335.52" cy="247.22" r="1.12" fill="#c8102e"/>
<circle cx="323.08" cy="246.26" r="1.12" fill="#c8102e"/>
<circle cx="327.54" cy="246.78" r="1.12" fill="#c8102e"/>
<circle cx="307.52" cy="246.59" r="1.12" fill="#c8102e"/>
<circle cx="329.31" cy="245.45" r="1.12" fill="#c8102e"/>
<circle cx="306.23" cy="246.94" r="1.12" fill="#c8102e"/>
<circle cx="294.52" cy="246.98" r="1.12" fill="#c8102e"/>
<circle cx="298.90" cy="246.66" r="1.12" fill="#c8102e"/>
<circle cx="290.35" cy="246.70" r="1.12" fill="#c8102e"/>
<circle cx="306.40" cy="245.64" r="1.12" fill="#c8102e"/>
<circle cx="288.56" cy="246.09" r="1.12" fill="#c8102e"/>
<circle cx="325.16" cy="243.17" r="1.12" fill="#c8102e"/>
<circle cx="298.91" cy="246.54" r="1.12" fill="#c8102e"/>
<circle cx="326.72" cy="245.12" r="1.12" fill="#c8102e"/>
<circle cx="318.73" cy="246.77" r="1.12" fill="#c8102e"/>
<circle cx="310.81" cy="243.58" r="1.12" fill="#c8102e"/>
<circle cx="306.94" cy="244.88" r="1.12" fill="#c8102e"/>
<circle cx="317.42" cy="247.77" r="1.12" fill="#c8102e"/>
<circle cx="305.72" cy="243.60" r="1.12" fill="#c8102e"/>
<circle cx="302.85" cy="246.23" r="1.12" fill="#c8102e"/>
<circle cx="289.53" cy="245.79" r="1.12" fill="#c8102e"/>
<circle cx="322.98" cy="245.12" r="1.12" fill="#c8102e"/>
<circle cx="305.18" cy="245.02" r="1.12" fill="#c8102e"/>
<circle cx="313.50" cy="247.77" r="1.12" fill="#c8102e"/>
<circle cx="330.16" cy="242.36" r="1.12" fill="#c8102e"/>
<circle cx="325.16" cy="243.27" r="1.12" fill="#c8102e"/>
<circle cx="321.49" cy="246.60" r="1.12" fill="#c8102e"/>
<circle cx="324.25" cy="241.40" r="1.12" fill="#c8102e"/>
<circle cx="313.86" cy="247.07" r="1.12" fill="#c8102e"/>
<circle cx="312.65" cy="242.31" r="1.12" fill="#c8102e"/>
<circle cx="304.30" cy="245.65" r="1.12" fill="#c8102e"/>
<circle cx="307.15" cy="247.00" r="1.12" fill="#c8102e"/>
<circle cx="325.22" cy="246.40" r="1.12" fill="#c8102e"/>
<circle cx="333.20" cy="244.29" r="1.12" fill="#c8102e"/>
<circle cx="325.06" cy="247.77" r="1.12" fill="#c8102e"/>
<circle cx="326.54" cy="244.58" r="1.12" fill="#c8102e"/>
<circle cx="326.04" cy="246.62" r="1.12" fill="#c8102e"/>
<circle cx="319.88" cy="245.94" r="1.12" fill="#c8102e"/>
<circle cx="303.25" cy="246.05" r="1.12" fill="#c8102e"/>
<circle cx="323.59" cy="246.79" r="1.12" fill="#c8102e"/>
<circle cx="313.74" cy="243.09" r="1.12" fill="#c8102e"/>
<circle cx="296.43" cy="246.64" r="1.12" fill="#c8102e"/>
<circle cx="317.07" cy="245.94" r="1.12" fill="#c8102e"/>
<circle cx="327.11" cy="245.62" r="1.12" fill="#c8102e"/>
<circle cx="290.88" cy="246.34" r="1.12" fill="#c8102e"/>
<circle cx="330.92" cy="244.64" r="1.12" fill="#c8102e"/>
<circle cx="296.93" cy="247.13" r="1.12" fill="#c8102e"/>
<circle cx="307.98" cy="247.64" r="1.12" fill="#c8102e"/>
<circle cx="313.97" cy="241.82" r="1.12" fill="#c8102e"/>
<circle cx="312.51" cy="246.40" r="1.12" fill="#c8102e"/>
<circle cx="301.16" cy="231.19" r="1.12" fill="#c8102e"/>
<circle cx="308.64" cy="246.56" r="1.12" fill="#c8102e"/>
<circle cx="323.80" cy="247.59" r="1.12" fill="#c8102e"/>
<circle cx="331.72" cy="246.10" r="1.12" fill="#c8102e"/>
<circle cx="320.66" cy="245.54" r="1.12" fill="#c8102e"/>
<circle cx="293.67" cy="247.77" r="1.12" fill="#c8102e"/>
<circle cx="291.71" cy="244.85" r="1.12" fill="#c8102e"/>
<circle cx="292.52" cy="242.50" r="1.12" fill="#c8102e"/>
<circle cx="323.57" cy="247.77" r="1.12" fill="#c8102e"/>
<circle cx="325.81" cy="247.77" r="1.12" fill="#c8102e"/>
<circle cx="318.99" cy="245.40" r="1.12" fill="#c8102e"/>
<circle cx="305.44" cy="246.78" r="1.12" fill="#c8102e"/>
<circle cx="316.40" cy="245.88" r="1.12" fill="#c8102e"/>
<circle cx="305.22" cy="242.61" r="1.12" fill="#c8102e"/>
<circle cx="303.26" cy="246.40" r="1.12" fill="#c8102e"/>
<circle cx="320.21" cy="246.24" r="1.12" fill="#c8102e"/>
<circle cx="299.46" cy="246.62" r="1.12" fill="#c8102e"/>
<circle cx="313.78" cy="244.62" r="1.12" fill="#c8102e"/>
<circle cx="301.56" cy="246.84" r="1.12" fill="#c8102e"/>
<circle cx="334.39" cy="246.92" r="1.12" fill="#c8102e"/>
<circle cx="315.05" cy="245.84" r="1.12" fill="#c8102e"/>
<circle cx="334.76" cy="246.93" r="1.12" fill="#c8102e"/>
<circle cx="295.97" cy="243.35" r="1.12" fill="#c8102e"/>
<circle cx="305.54" cy="243.36" r="1.12" fill="#c8102e"/>
<circle cx="319.20" cy="243.13" r="1.12" fill="#c8102e"/>
<circle cx="333.25" cy="247.05" r="1.12" fill="#c8102e"/>
<circle cx="297.25" cy="246.86" r="1.12" fill="#c8102e"/>
<circle cx="336.78" cy="246.96" r="1.12" fill="#c8102e"/>
<circle cx="337.47" cy="246.23" r="1.12" fill="#c8102e"/>
<circle cx="303.17" cy="240.52" r="1.12" fill="#c8102e"/>
<circle cx="332.97" cy="246.83" r="1.12" fill="#c8102e"/>
<circle cx="333.37" cy="242.52" r="1.12" fill="#c8102e"/>
<circle cx="335.08" cy="240.95" r="1.12" fill="#c8102e"/>
<circle cx="307.90" cy="246.73" r="1.12" fill="#c8102e"/>
<circle cx="326.73" cy="245.79" r="1.12" fill="#c8102e"/>
<circle cx="318.21" cy="246.55" r="1.12" fill="#c8102e"/>
<circle cx="384.57" cy="235.00" r="1.12" fill="#c8102e"/>
<circle cx="381.06" cy="217.38" r="1.12" fill="#c8102e"/>
<circle cx="357.43" cy="228.71" r="1.12" fill="#c8102e"/>
<circle cx="360.70" cy="225.95" r="1.12" fill="#c8102e"/>
<circle cx="354.80" cy="236.51" r="1.12" fill="#c8102e"/>
<circle cx="366.70" cy="227.69" r="1.12" fill="#c8102e"/>
<circle cx="363.81" cy="233.55" r="1.12" fill="#c8102e"/>
<circle cx="368.63" cy="230.37" r="1.12" fill="#c8102e"/>
<circle cx="350.74" cy="234.99" r="1.12" fill="#c8102e"/>
<circle cx="352.32" cy="246.91" r="1.12" fill="#c8102e"/>
<circle cx="378.44" cy="228.18" r="1.12" fill="#c8102e"/>
<circle cx="372.89" cy="228.31" r="1.12" fill="#c8102e"/>
<circle cx="381.49" cy="217.22" r="1.12" fill="#c8102e"/>
<circle cx="352.86" cy="237.57" r="1.12" fill="#c8102e"/>
<circle cx="375.97" cy="221.14" r="1.12" fill="#c8102e"/>
<circle cx="365.23" cy="232.71" r="1.12" fill="#c8102e"/>
<circle cx="359.51" cy="234.08" r="1.12" fill="#c8102e"/>
<circle cx="361.92" cy="237.12" r="1.12" fill="#c8102e"/>
<circle cx="356.01" cy="239.48" r="1.12" fill="#c8102e"/>
<circle cx="371.87" cy="223.01" r="1.12" fill="#c8102e"/>
<circle cx="362.80" cy="226.84" r="1.12" fill="#c8102e"/>
<circle cx="363.15" cy="233.09" r="1.12" fill="#c8102e"/>
<circle cx="357.36" cy="234.95" r="1.12" fill="#c8102e"/>
<circle cx="372.70" cy="236.37" r="1.12" fill="#c8102e"/>
<circle cx="379.99" cy="245.60" r="1.12" fill="#c8102e"/>
<circle cx="380.61" cy="226.74" r="1.12" fill="#c8102e"/>
<circle cx="382.44" cy="214.77" r="1.12" fill="#c8102e"/>
<circle cx="354.57" cy="241.24" r="1.12" fill="#c8102e"/>
<circle cx="378.37" cy="219.48" r="1.12" fill="#c8102e"/>
<circle cx="376.45" cy="221.81" r="1.12" fill="#c8102e"/>
<circle cx="383.99" cy="247.03" r="1.12" fill="#c8102e"/>
<circle cx="381.33" cy="220.16" r="1.12" fill="#c8102e"/>
<circle cx="355.72" cy="234.66" r="1.12" fill="#c8102e"/>
<circle cx="356.37" cy="236.29" r="1.12" fill="#c8102e"/>
<circle cx="354.44" cy="235.69" r="1.12" fill="#c8102e"/>
<circle cx="369.56" cy="228.54" r="1.12" fill="#c8102e"/>
<circle cx="381.61" cy="225.84" r="1.12" fill="#c8102e"/>
<circle cx="355.11" cy="234.73" r="1.12" fill="#c8102e"/>
<circle cx="362.87" cy="223.15" r="1.12" fill="#c8102e"/>
<circle cx="371.36" cy="228.94" r="1.12" fill="#c8102e"/>
<circle cx="376.77" cy="215.17" r="1.12" fill="#c8102e"/>
<circle cx="353.08" cy="226.62" r="1.12" fill="#c8102e"/>
<circle cx="364.43" cy="229.10" r="1.12" fill="#c8102e"/>
<circle cx="362.64" cy="241.70" r="1.12" fill="#c8102e"/>
<circle cx="368.15" cy="246.63" r="1.12" fill="#c8102e"/>
<polyline points="288.40,245.66 289.61,245.62 290.82,245.59 292.04,245.55 293.25,245.52 294.46,245.49 295.67,245.45 296.89,245.42 298.10,245.38 299.31,245.35 300.52,245.31 301.73,245.28 302.95,245.24 304.16,245.21 305.37,245.18 306.58,245.14 307.79,245.11 309.01,245.07 310.22,245.04 311.43,245.00 312.64,244.97 313.86,244.93 315.07,244.90 316.28,244.87 317.49,244.83 318.70,244.80 319.92,244.76 321.13,244.73 322.34,244.69 323.55,244.66 324.76,244.62 325.98,244.59 327.19,244.56 328.40,244.52 329.61,244.49 330.83,244.45 332.04,244.42 333.25,244.38 334.46,244.35 335.67,244.32 336.89,244.28 338.10,244.25 339.31,244.08 340.52,243.76 341.73,243.37 342.95,242.94 344.16,242.48 345.37,241.98 346.58,241.46 347.80,240.91 349.01,240.34 350.22,239.75 351.43,239.14 352.64,238.52 353.86,237.88 355.07,237.22 356.28,236.55 357.49,235.86 358.70,235.17 359.92,234.46 361.13,233.73 362.34,233.00 363.55,232.25 364.77,231.50 365.98,230.73 367.19,229.95 368.40,229.17 369.61,228.37 370.83,227.56 372.04,226.75 373.25,225.93 374.46,225.09 375.67,224.25 376.89,223.40 378.10,222.55 379.31,221.68 380.52,220.81 381.74,219.93 382.95,219.04 384.16,218.15" fill="none" stroke="#b0122b" stroke-width="1.1"/>
<line x1="284.50" y1="213.60" x2="284.50" y2="248.85" stroke="#111" stroke-width="1.1"/>
<line x1="283.95" y1="248.30" x2="388.50" y2="248.30" stroke="#111" stroke-width="1.1"/>
<line x1="281.20" y1="218.50" x2="284.50" y2="218.50" stroke="#111" stroke-width="1.0"/>
<text x="279.30" y="221.45" font-size="8.2" text-anchor="end" fill="#111" stroke="#111" stroke-width="0.12" textLength="4.01" lengthAdjust="spacingAndGlyphs">6</text>
<line x1="281.20" y1="225.60" x2="284.50" y2="225.60" stroke="#111" stroke-width="1.0"/>
<text x="279.30" y="228.55" font-size="8.2" text-anchor="end" fill="#111" stroke="#111" stroke-width="0.12" textLength="4.01" lengthAdjust="spacingAndGlyphs">4</text>
<line x1="281.20" y1="232.70" x2="284.50" y2="232.70" stroke="#111" stroke-width="1.0"/>
<text x="279.30" y="235.65" font-size="8.2" text-anchor="end" fill="#111" stroke="#111" stroke-width="0.12" textLength="4.01" lengthAdjust="spacingAndGlyphs">2</text>
<line x1="281.20" y1="239.80" x2="284.50" y2="239.80" stroke="#111" stroke-width="1.0"/>
<line x1="281.20" y1="246.90" x2="284.50" y2="246.90" stroke="#111" stroke-width="1.0"/>
<text x="279.30" y="249.85" font-size="8.2" text-anchor="end" fill="#111" stroke="#111" stroke-width="0.12" textLength="6.42" lengthAdjust="spacingAndGlyphs">-2</text>
<line x1="288.40" y1="248.30" x2="288.40" y2="251.60" stroke="#111" stroke-width="1.0"/>
<text x="288.40" y="260.80" font-size="8.0" text-anchor="middle" fill="#111" stroke="#111" stroke-width="0.12">0</text>
<line x1="309.68" y1="248.30" x2="309.68" y2="251.60" stroke="#111" stroke-width="1.0"/>
<text x="309.68" y="260.80" font-size="8.0" text-anchor="middle" fill="#111" stroke="#111" stroke-width="0.12">10</text>
<line x1="330.96" y1="248.30" x2="330.96" y2="251.60" stroke="#111" stroke-width="1.0"/>
<text x="330.96" y="260.80" font-size="8.0" text-anchor="middle" fill="#111" stroke="#111" stroke-width="0.12">20</text>
<line x1="352.24" y1="248.30" x2="352.24" y2="251.60" stroke="#111" stroke-width="1.0"/>
<text x="352.24" y="260.80" font-size="8.0" text-anchor="middle" fill="#111" stroke="#111" stroke-width="0.12">30</text>
<line x1="373.52" y1="248.30" x2="373.52" y2="251.60" stroke="#111" stroke-width="1.0"/>
<text x="373.52" y="260.80" font-size="8.0" text-anchor="middle" fill="#111" stroke="#111" stroke-width="0.12">40</text>
<text x="336.80" y="206.70" font-size="8.4" text-anchor="middle" fill="#111" stroke="#111" stroke-width="0.12" textLength="68.80" lengthAdjust="spacingAndGlyphs">Phox2a, Lineage 1</text>
<polygon points="412.50,244.59 413.68,244.47 414.87,244.34 416.05,244.21 417.24,244.09 418.42,243.96 419.60,243.83 420.79,243.70 421.97,243.58 423.15,243.45 424.34,243.32 425.52,243.20 426.71,243.07 427.89,242.94 429.07,242.82 430.26,242.69 431.44,242.56 432.62,242.44 433.81,242.31 434.99,242.18 436.18,242.06 437.36,241.93 438.54,241.80 439.73,241.68 440.91,241.55 442.09,241.42 443.28,241.29 444.46,241.17 445.65,241.04 446.83,240.91 448.01,240.79 449.20,240.66 450.38,240.53 451.56,240.41 452.75,240.28 453.93,240.13 455.12,239.98 456.30,239.83 457.48,239.72 458.67,239.78 459.85,239.83 461.03,239.89 462.22,239.95 463.40,240.01 464.59,240.07 465.77,240.13 466.95,240.18 468.14,240.24 469.32,240.30 470.50,240.36 471.69,240.42 472.87,240.48 474.06,240.53 475.24,240.59 476.42,240.65 477.61,240.71 478.79,240.77 479.98,240.82 481.16,240.88 482.34,240.94 483.53,241.00 484.71,241.06 485.89,241.12 487.08,241.17 488.26,241.23 489.45,241.29 490.63,241.35 491.81,241.41 493.00,241.47 494.18,241.52 495.36,241.58 496.55,241.64 497.73,241.70 498.92,241.76 500.10,241.82 501.28,241.87 502.47,241.93 503.65,241.99 504.83,242.05 506.02,242.11 506.02,246.72 504.83,246.61 503.65,246.49 502.47,246.38 501.28,246.27 500.10,246.15 498.92,246.04 497.73,245.92 496.55,245.81 495.36,245.70 494.18,245.58 493.00,245.47 491.81,245.36 490.63,245.24 489.45,245.13 488.26,245.01 487.08,244.90 485.89,244.79 484.71,244.67 483.53,244.56 482.34,244.44 481.16,244.33 479.98,244.22 478.79,244.10 477.61,243.99 476.42,243.87 475.24,243.76 474.06,243.65 472.87,243.53 471.69,243.42 470.50,243.30 469.32,243.19 468.14,243.08 466.95,242.96 465.77,242.85 464.59,242.73 463.40,242.62 462.22,242.51 461.03,242.39 459.85,242.28 458.67,242.16 457.48,242.05 456.30,242.10 455.12,242.20 453.93,242.30 452.75,242.41 451.56,242.54 450.38,242.66 449.20,242.79 448.01,242.92 446.83,243.04 445.65,243.17 444.46,243.30 443.28,243.42 442.09,243.55 440.91,243.68 439.73,243.81 438.54,243.93 437.36,244.06 436.18,244.19 434.99,244.31 433.81,244.44 432.62,244.57 431.44,244.69 430.26,244.82 429.07,244.95 427.89,245.07 426.71,245.20 425.52,245.33 424.34,245.45 423.15,245.58 421.97,245.71 420.79,245.83 419.60,245.96 418.42,246.09 417.24,246.22 416.05,246.34 414.87,246.47 413.68,246.60 412.50,246.72" fill="#f2b8c2" fill-opacity="0.85"/>
<polyline points="412.50,246.24 413.68,246.12 414.87,245.99 416.05,245.86 417.24,245.74 418.42,245.61 419.60,245.48 420.79,245.36 421.97,245.23 423.15,245.10 424.34,244.97 425.52,244.85 426.71,244.72 427.89,244.59 429.07,244.47 430.26,244.34 431.44,244.21 432.62,244.09 433.81,243.96 434.99,243.83 436.18,243.71 437.36,243.58 438.54,243.45 439.73,243.33 440.91,243.20 442.09,243.07 443.28,242.95 444.46,242.82 445.65,242.69 446.83,242.56 448.01,242.44 449.20,242.31 450.38,242.18 451.56,242.06 452.75,241.93 453.93,241.81 455.12,241.70 456.30,241.59 457.48,241.53 458.67,241.63 459.85,241.73 461.03,241.83 462.22,241.93 463.40,242.03 464.59,242.13 465.77,242.24 466.95,242.34 468.14,242.44 469.32,242.54 470.50,242.64 471.69,242.74 472.87,242.84 474.06,242.95 475.24,243.05 476.42,243.15 477.61,243.25 478.79,243.35 479.98,243.45 481.16,243.55 482.34,243.66 483.53,243.76 484.71,243.86 485.89,243.96 487.08,244.06 488.26,244.16 489.45,244.26 490.63,244.37 491.81,244.47 493.00,244.57 494.18,244.67 495.36,244.77 496.55,244.87 497.73,244.97 498.92,245.08 500.10,245.18 501.28,245.28 502.47,245.38 503.65,245.48 504.83,245.58 506.02,245.68" fill="none" stroke="#e58e9c" stroke-width="0.45"/>
<polyline points="412.50,245.07 413.68,244.94 414.87,244.82 416.05,244.69 417.24,244.56 418.42,244.44 419.60,244.31 420.79,244.18 421.97,244.06 423.15,243.93 424.34,243.80 425.52,243.68 426.71,243.55 427.89,243.42 429.07,243.30 430.26,243.17 431.44,243.04 432.62,242.92 433.81,242.79 434.99,242.66 436.18,242.53 437.36,242.41 438.54,242.28 439.73,242.15 440.91,242.03 442.09,241.90 443.28,241.77 444.46,241.65 445.65,241.52 446.83,241.39 448.01,241.27 449.20,241.14 450.38,241.01 451.56,240.89 452.75,240.76 453.93,240.62 455.12,240.48 456.30,240.34 457.48,240.24 458.67,240.31 459.85,240.38 461.03,240.45 462.22,240.53 463.40,240.60 464.59,240.67 465.77,240.74 466.95,240.81 468.14,240.88 469.32,240.95 470.50,241.02 471.69,241.09 472.87,241.16 474.06,241.23 475.24,241.30 476.42,241.38 477.61,241.45 478.79,241.52 479.98,241.59 481.16,241.66 482.34,241.73 483.53,241.80 484.71,241.87 485.89,241.94 487.08,242.01 488.26,242.08 489.45,242.15 490.63,242.23 491.81,242.30 493.00,242.37 494.18,242.44 495.36,242.51 496.55,242.58 497.73,242.65 498.92,242.72 500.10,242.79 501.28,242.86 502.47,242.93 503.65,243.00 504.83,243.08 506.02,243.15" fill="none" stroke="#e58e9c" stroke-width="0.45"/>
<circle cx="443.24" cy="245.00" r="1.12" fill="#c8102e"/>
<circle cx="421.48" cy="246.13" r="1.12" fill="#c8102e"/>
<circle cx="456.23" cy="245.10" r="1.12" fill="#c8102e"/>
<circle cx="457.09" cy="243.87" r="1.12" fill="#c8102e"/>
<circle cx="434.22" cy="246.81" r="1.12" fill="#c8102e"/>
<circle cx="431.73" cy="246.94" r="1.12" fill="#c8102e"/>
<circle cx="424.07" cy="242.46" r="1.12" fill="#c8102e"/>
<circle cx="453.93" cy="242.22" r="1.12" fill="#c8102e"/>
<circle cx="449.03" cy="247.25" r="1.12" fill="#c8102e"/>
<circle cx="413.40" cy="246.37" r="1.12" fill="#c8102e"/>
<circle cx="435.52" cy="246.76" r="1.12" fill="#c8102e"/>
<circle cx="433.41" cy="246.92" r="1.12" fill="#c8102e"/>
<circle cx="457.48" cy="244.35" r="1.12" fill="#c8102e"/>
<circle cx="445.56" cy="241.98" r="1.12" fill="#c8102e"/>
<circle cx="455.03" cy="247.47" r="1.12" fill="#c8102e"/>
<circle cx="427.17" cy="246.27" r="1.12" fill="#c8102e"/>
<circle cx="440.53" cy="246.98" r="1.12" fill="#c8102e"/>
<circle cx="457.65" cy="246.71" r="1.12" fill="#c8102e"/>
<circle cx="450.66" cy="245.06" r="1.12" fill="#c8102e"/>
<circle cx="439.78" cy="245.22" r="1.12" fill="#c8102e"/>
<circle cx="428.50" cy="245.20" r="1.12" fill="#c8102e"/>
<circle cx="418.20" cy="246.68" r="1.12" fill="#c8102e"/>
<circle cx="416.06" cy="240.49" r="1.12" fill="#c8102e"/>
<circle cx="445.72" cy="241.91" r="1.12" fill="#c8102e"/>
<circle cx="447.17" cy="247.47" r="1.12" fill="#c8102e"/>
<circle cx="421.50" cy="244.72" r="1.12" fill="#c8102e"/>
<circle cx="451.51" cy="246.15" r="1.12" fill="#c8102e"/>
<circle cx="443.22" cy="243.80" r="1.12" fill="#c8102e"/>
<circle cx="458.35" cy="246.05" r="1.12" fill="#c8102e"/>
<circle cx="445.70" cy="240.14" r="1.12" fill="#c8102e"/>
<circle cx="415.20" cy="244.15" r="1.12" fill="#c8102e"/>
<circle cx="429.90" cy="246.27" r="1.12" fill="#c8102e"/>
<circle cx="451.51" cy="246.11" r="1.12" fill="#c8102e"/>
<circle cx="432.67" cy="245.50" r="1.12" fill="#c8102e"/>
<circle cx="417.06" cy="246.78" r="1.12" fill="#c8102e"/>
<circle cx="426.71" cy="247.47" r="1.12" fill="#c8102e"/>
<circle cx="413.34" cy="246.39" r="1.12" fill="#c8102e"/>
<circle cx="443.11" cy="246.16" r="1.12" fill="#c8102e"/>
<circle cx="455.07" cy="246.01" r="1.12" fill="#c8102e"/>
<circle cx="438.78" cy="241.75" r="1.12" fill="#c8102e"/>
<circle cx="446.45" cy="244.05" r="1.12" fill="#c8102e"/>
<circle cx="430.98" cy="243.92" r="1.12" fill="#c8102e"/>
<circle cx="417.26" cy="245.48" r="1.12" fill="#c8102e"/>
<circle cx="435.07" cy="247.47" r="1.12" fill="#c8102e"/>
<circle cx="450.62" cy="247.47" r="1.12" fill="#c8102e"/>
<circle cx="433.15" cy="245.71" r="1.12" fill="#c8102e"/>
<circle cx="448.93" cy="245.05" r="1.12" fill="#c8102e"/>
<circle cx="457.17" cy="246.59" r="1.12" fill="#c8102e"/>
<circle cx="425.06" cy="246.62" r="1.12" fill="#c8102e"/>
<circle cx="433.35" cy="246.28" r="1.12" fill="#c8102e"/>
<circle cx="428.38" cy="245.30" r="1.12" fill="#c8102e"/>
<circle cx="450.14" cy="245.51" r="1.12" fill="#c8102e"/>
<circle cx="417.68" cy="231.43" r="1.12" fill="#c8102e"/>
<circle cx="457.96" cy="246.87" r="1.12" fill="#c8102e"/>
<circle cx="433.14" cy="245.03" r="1.12" fill="#c8102e"/>
<circle cx="438.77" cy="246.98" r="1.12" fill="#c8102e"/>
<circle cx="455.88" cy="247.03" r="1.12" fill="#c8102e"/>
<circle cx="417.40" cy="245.67" r="1.12" fill="#c8102e"/>
<circle cx="415.08" cy="246.31" r="1.12" fill="#c8102e"/>
<circle cx="423.26" cy="246.16" r="1.12" fill="#c8102e"/>
<circle cx="438.67" cy="246.46" r="1.12" fill="#c8102e"/>
<circle cx="421.82" cy="247.47" r="1.12" fill="#c8102e"/>
<circle cx="425.08" cy="246.94" r="1.12" fill="#c8102e"/>
<circle cx="426.89" cy="246.34" r="1.12" fill="#c8102e"/>
<circle cx="450.43" cy="245.90" r="1.12" fill="#c8102e"/>
<circle cx="422.65" cy="243.56" r="1.12" fill="#c8102e"/>
<circle cx="416.01" cy="247.21" r="1.12" fill="#c8102e"/>
<circle cx="451.62" cy="245.30" r="1.12" fill="#c8102e"/>
<circle cx="444.33" cy="243.81" r="1.12" fill="#c8102e"/>
<circle cx="416.98" cy="245.85" r="1.12" fill="#c8102e"/>
<circle cx="445.71" cy="246.79" r="1.12" fill="#c8102e"/>
<circle cx="433.03" cy="242.08" r="1.12" fill="#c8102e"/>
<circle cx="458.27" cy="243.31" r="1.12" fill="#c8102e"/>
<circle cx="440.04" cy="246.26" r="1.12" fill="#c8102e"/>
<circle cx="429.36" cy="247.47" r="1.12" fill="#c8102e"/>
<circle cx="438.34" cy="246.30" r="1.12" fill="#c8102e"/>
<circle cx="442.98" cy="243.86" r="1.12" fill="#c8102e"/>
<circle cx="412.82" cy="246.63" r="1.12" fill="#c8102e"/>
<circle cx="437.59" cy="243.80" r="1.12" fill="#c8102e"/>
<circle cx="417.12" cy="247.47" r="1.12" fill="#c8102e"/>
<circle cx="446.99" cy="230.85" r="1.12" fill="#c8102e"/>
<circle cx="421.90" cy="246.36" r="1.12" fill="#c8102e"/>
<circle cx="435.78" cy="247.47" r="1.12" fill="#c8102e"/>
<circle cx="412.89" cy="247.04" r="1.12" fill="#c8102e"/>
<circle cx="421.09" cy="246.22" r="1.12" fill="#c8102e"/>
<circle cx="455.30" cy="246.60" r="1.12" fill="#c8102e"/>
<circle cx="429.76" cy="247.17" r="1.12" fill="#c8102e"/>
<circle cx="445.45" cy="246.73" r="1.12" fill="#c8102e"/>
<circle cx="441.89" cy="246.47" r="1.12" fill="#c8102e"/>
<circle cx="446.11" cy="246.73" r="1.12" fill="#c8102e"/>
<circle cx="431.35" cy="245.94" r="1.12" fill="#c8102e"/>
<circle cx="439.76" cy="247.02" r="1.12" fill="#c8102e"/>
<circle cx="430.17" cy="247.47" r="1.12" fill="#c8102e"/>
<circle cx="420.58" cy="246.61" r="1.12" fill="#c8102e"/>
<circle cx="432.49" cy="244.87" r="1.12" fill="#c8102e"/>
<circle cx="434.50" cy="246.22" r="1.12" fill="#c8102e"/>
<circle cx="432.82" cy="247.33" r="1.12" fill="#c8102e"/>
<circle cx="449.17" cy="247.47" r="1.12" fill="#c8102e"/>
<circle cx="428.32" cy="247.03" r="1.12" fill="#c8102e"/>
<circle cx="448.33" cy="244.62" r="1.12" fill="#c8102e"/>
<circle cx="504.80" cy="246.97" r="1.12" fill="#c8102e"/>
<circle cx="498.25" cy="247.47" r="1.12" fill="#c8102e"/>
<circle cx="498.43" cy="246.67" r="1.12" fill="#c8102e"/>
<circle cx="499.42" cy="244.06" r="1.12" fill="#c8102e"/>
<circle cx="509.63" cy="245.63" r="1.12" fill="#c8102e"/>
<circle cx="497.94" cy="245.83" r="1.12" fill="#c8102e"/>
<circle cx="507.43" cy="246.99" r="1.12" fill="#c8102e"/>
<circle cx="502.91" cy="246.29" r="1.12" fill="#c8102e"/>
<circle cx="497.63" cy="245.45" r="1.12" fill="#c8102e"/>
<circle cx="501.70" cy="247.17" r="1.12" fill="#c8102e"/>
<circle cx="498.86" cy="245.25" r="1.12" fill="#c8102e"/>
<circle cx="493.92" cy="246.43" r="1.12" fill="#c8102e"/>
<circle cx="500.05" cy="245.85" r="1.12" fill="#c8102e"/>
<circle cx="501.32" cy="246.86" r="1.12" fill="#c8102e"/>
<circle cx="498.14" cy="245.09" r="1.12" fill="#c8102e"/>
<circle cx="504.07" cy="245.16" r="1.12" fill="#c8102e"/>
<circle cx="498.37" cy="242.53" r="1.12" fill="#c8102e"/>
<circle cx="508.71" cy="244.58" r="1.12" fill="#c8102e"/>
<circle cx="502.09" cy="245.23" r="1.12" fill="#c8102e"/>
<circle cx="503.63" cy="246.74" r="1.12" fill="#c8102e"/>
<circle cx="495.19" cy="247.07" r="1.12" fill="#c8102e"/>
<circle cx="499.81" cy="245.59" r="1.12" fill="#c8102e"/>
<circle cx="500.72" cy="246.92" r="1.12" fill="#c8102e"/>
<circle cx="505.93" cy="247.44" r="1.12" fill="#c8102e"/>
<circle cx="497.18" cy="246.47" r="1.12" fill="#c8102e"/>
<circle cx="508.16" cy="247.10" r="1.12" fill="#c8102e"/>
<circle cx="507.59" cy="244.05" r="1.12" fill="#c8102e"/>
<circle cx="507.27" cy="246.99" r="1.12" fill="#c8102e"/>
<polyline points="412.50,245.66 413.68,245.53 414.87,245.40 416.05,245.28 417.24,245.15 418.42,245.02 419.60,244.90 420.79,244.77 421.97,244.64 423.15,244.52 424.34,244.39 425.52,244.26 426.71,244.14 427.89,244.01 429.07,243.88 430.26,243.75 431.44,243.63 432.62,243.50 433.81,243.37 434.99,243.25 436.18,243.12 437.36,242.99 438.54,242.87 439.73,242.74 440.91,242.61 442.09,242.49 443.28,242.36 444.46,242.23 445.65,242.11 446.83,241.98 448.01,241.85 449.20,241.73 450.38,241.60 451.56,241.47 452.75,241.34 453.93,241.22 455.12,241.09 456.30,240.96 457.48,240.88 458.67,240.97 459.85,241.06 461.03,241.14 462.22,241.23 463.40,241.31 464.59,241.40 465.77,241.49 466.95,241.57 468.14,241.66 469.32,241.75 470.50,241.83 471.69,241.92 472.87,242.00 474.06,242.09 475.24,242.18 476.42,242.26 477.61,242.35 478.79,242.43 479.98,242.52 481.16,242.61 482.34,242.69 483.53,242.78 484.71,242.86 485.89,242.95 487.08,243.04 488.26,243.12 489.45,243.21 490.63,243.30 491.81,243.38 493.00,243.47 494.18,243.55 495.36,243.64 496.55,243.73 497.73,243.81 498.92,243.90 500.10,243.98 501.28,244.07 502.47,244.16 503.65,244.24 504.83,244.33 506.02,244.42" fill="none" stroke="#b0122b" stroke-width="1.1"/>
<line x1="408.00" y1="213.80" x2="408.00" y2="248.55" stroke="#111" stroke-width="1.1"/>
<line x1="407.45" y1="248.00" x2="513.00" y2="248.00" stroke="#111" stroke-width="1.1"/>
<line x1="404.70" y1="218.50" x2="408.00" y2="218.50" stroke="#111" stroke-width="1.0"/>
<text x="402.80" y="221.45" font-size="8.2" text-anchor="end" fill="#111" stroke="#111" stroke-width="0.12" textLength="4.01" lengthAdjust="spacingAndGlyphs">6</text>
<line x1="404.70" y1="225.60" x2="408.00" y2="225.60" stroke="#111" stroke-width="1.0"/>
<text x="402.80" y="228.55" font-size="8.2" text-anchor="end" fill="#111" stroke="#111" stroke-width="0.12" textLength="4.01" lengthAdjust="spacingAndGlyphs">4</text>
<line x1="404.70" y1="232.70" x2="408.00" y2="232.70" stroke="#111" stroke-width="1.0"/>
<text x="402.80" y="235.65" font-size="8.2" text-anchor="end" fill="#111" stroke="#111" stroke-width="0.12" textLength="4.01" lengthAdjust="spacingAndGlyphs">2</text>
<line x1="404.70" y1="239.80" x2="408.00" y2="239.80" stroke="#111" stroke-width="1.0"/>
<line x1="404.70" y1="246.90" x2="408.00" y2="246.90" stroke="#111" stroke-width="1.0"/>
<text x="402.80" y="249.85" font-size="8.2" text-anchor="end" fill="#111" stroke="#111" stroke-width="0.12" textLength="6.42" lengthAdjust="spacingAndGlyphs">-2</text>
<line x1="412.50" y1="248.00" x2="412.50" y2="251.30" stroke="#111" stroke-width="1.0"/>
<text x="412.50" y="260.50" font-size="8.0" text-anchor="middle" fill="#111" stroke="#111" stroke-width="0.12">0</text>
<line x1="432.83" y1="248.00" x2="432.83" y2="251.30" stroke="#111" stroke-width="1.0"/>
<text x="432.83" y="260.50" font-size="8.0" text-anchor="middle" fill="#111" stroke="#111" stroke-width="0.12">10</text>
<line x1="453.16" y1="248.00" x2="453.16" y2="251.30" stroke="#111" stroke-width="1.0"/>
<text x="453.16" y="260.50" font-size="8.0" text-anchor="middle" fill="#111" stroke="#111" stroke-width="0.12">20</text>
<line x1="473.49" y1="248.00" x2="473.49" y2="251.30" stroke="#111" stroke-width="1.0"/>
<text x="473.49" y="260.50" font-size="8.0" text-anchor="middle" fill="#111" stroke="#111" stroke-width="0.12">30</text>
<line x1="493.82" y1="248.00" x2="493.82" y2="251.30" stroke="#111" stroke-width="1.0"/>
<text x="493.82" y="260.50" font-size="8.0" text-anchor="middle" fill="#111" stroke="#111" stroke-width="0.12">40</text>
<text x="460.80" y="207.00" font-size="8.4" text-anchor="middle" fill="#111" stroke="#111" stroke-width="0.12" textLength="70.00" lengthAdjust="spacingAndGlyphs">Phox2a, Lineage 2</text>
<polygon points="35.60,308.36 36.85,308.06 38.10,307.77 39.36,307.48 40.61,307.19 41.86,306.91 43.11,306.63 44.36,306.35 45.62,306.07 46.87,305.80 48.12,305.53 49.37,305.26 50.62,305.00 51.87,304.73 53.13,304.48 54.38,304.22 55.63,303.97 56.88,303.72 58.13,303.47 59.39,303.22 60.64,302.98 61.89,302.74 63.14,302.51 64.39,302.28 65.65,302.05 66.90,301.82 68.15,301.59 69.40,301.37 70.65,301.15 71.91,300.94 73.16,300.73 74.41,300.52 75.66,300.31 76.91,300.10 78.16,299.90 79.42,299.70 80.67,299.51 81.92,299.32 83.17,299.13 84.42,298.94 85.68,298.75 86.93,298.57 88.18,298.39 89.43,298.22 90.68,298.05 91.94,297.88 93.19,297.71 94.44,297.55 95.69,297.38 96.94,297.23 98.19,297.07 99.45,296.92 100.70,296.77 101.95,296.62 103.20,296.48 104.45,296.34 105.71,296.20 106.96,296.06 108.21,295.93 109.46,295.80 110.71,295.68 111.97,295.55 113.22,295.43 114.47,295.31 115.72,295.20 116.97,295.08 118.23,294.98 119.48,294.87 120.73,294.77 121.98,294.66 123.23,294.57 124.48,294.47 125.74,294.38 126.99,294.29 128.24,294.20 129.49,294.12 130.74,294.04 132.00,293.96 133.25,293.89 134.50,293.81 134.50,296.30 133.25,296.37 132.00,296.44 130.74,296.52 129.49,296.60 128.24,296.69 126.99,296.77 125.74,296.86 124.48,296.96 123.23,297.05 121.98,297.15 120.73,297.25 119.48,297.35 118.23,297.46 116.97,297.57 115.72,297.68 114.47,297.80 113.22,297.91 111.97,298.04 110.71,298.16 109.46,298.29 108.21,298.42 106.96,298.55 105.71,298.68 104.45,298.82 103.20,298.96 101.95,299.11 100.70,299.25 99.45,299.40 98.19,299.56 96.94,299.71 95.69,299.87 94.44,300.03 93.19,300.19 91.94,300.36 90.68,300.53 89.43,300.70 88.18,300.88 86.93,301.06 85.68,301.24 84.42,301.42 83.17,301.61 81.92,301.80 80.67,301.99 79.42,302.19 78.16,302.39 76.91,302.59 75.66,302.79 74.41,303.00 73.16,303.21 71.91,303.42 70.65,303.64 69.40,303.86 68.15,304.08 66.90,304.30 65.65,304.53 64.39,304.76 63.14,304.99 61.89,305.23 60.64,305.47 59.39,305.71 58.13,305.95 56.88,306.20 55.63,306.45 54.38,306.70 53.13,306.96 51.87,307.22 50.62,307.48 49.37,307.74 48.12,308.01 46.87,308.28 45.62,308.56 44.36,308.83 43.11,309.11 41.86,309.39 40.61,309.68 39.36,309.96 38.10,310.26 36.85,310.55 35.60,310.84" fill="#f2b8c2" fill-opacity="0.85"/>
<polyline points="35.60,310.29 36.85,309.99 38.10,309.70 39.36,309.41 40.61,309.12 41.86,308.83 43.11,308.55 44.36,308.27 45.62,308.00 46.87,307.72 48.12,307.45 49.37,307.19 50.62,306.92 51.87,306.66 53.13,306.40 54.38,306.14 55.63,305.89 56.88,305.64 58.13,305.39 59.39,305.15 60.64,304.91 61.89,304.67 63.14,304.43 64.39,304.20 65.65,303.97 66.90,303.74 68.15,303.52 69.40,303.30 70.65,303.08 71.91,302.86 73.16,302.65 74.41,302.44 75.66,302.23 76.91,302.03 78.16,301.83 79.42,301.63 80.67,301.43 81.92,301.24 83.17,301.05 84.42,300.86 85.68,300.68 86.93,300.50 88.18,300.32 89.43,300.14 90.68,299.97 91.94,299.80 93.19,299.64 94.44,299.47 95.69,299.31 96.94,299.15 98.19,299.00 99.45,298.84 100.70,298.69 101.95,298.55 103.20,298.40 104.45,298.26 105.71,298.12 106.96,297.99 108.21,297.86 109.46,297.73 110.71,297.60 111.97,297.48 113.22,297.36 114.47,297.24 115.72,297.12 116.97,297.01 118.23,296.90 119.48,296.79 120.73,296.69 121.98,296.59 123.23,296.49 124.48,296.40 125.74,296.30 126.99,296.21 128.24,296.13 129.49,296.04 130.74,295.96 132.00,295.89 133.25,295.81 134.50,295.74" fill="none" stroke="#e58e9c" stroke-width="0.45"/>
<polyline points="35.60,308.92 36.85,308.62 38.10,308.33 39.36,308.04 40.61,307.75 41.86,307.47 43.11,307.19 44.36,306.91 45.62,306.63 46.87,306.36 48.12,306.09 49.37,305.82 50.62,305.56 51.87,305.29 53.13,305.03 54.38,304.78 55.63,304.53 56.88,304.28 58.13,304.03 59.39,303.78 60.64,303.54 61.89,303.30 63.14,303.07 64.39,302.83 65.65,302.60 66.90,302.38 68.15,302.15 69.40,301.93 70.65,301.71 71.91,301.50 73.16,301.28 74.41,301.07 75.66,300.87 76.91,300.66 78.16,300.46 79.42,300.26 80.67,300.07 81.92,299.87 83.17,299.68 84.42,299.50 85.68,299.31 86.93,299.13 88.18,298.95 89.43,298.78 90.68,298.61 91.94,298.44 93.19,298.27 94.44,298.10 95.69,297.94 96.94,297.79 98.19,297.63 99.45,297.48 100.70,297.33 101.95,297.18 103.20,297.04 104.45,296.90 105.71,296.76 106.96,296.62 108.21,296.49 109.46,296.36 110.71,296.23 111.97,296.11 113.22,295.99 114.47,295.87 115.72,295.76 116.97,295.64 118.23,295.53 119.48,295.43 120.73,295.32 121.98,295.22 123.23,295.13 124.48,295.03 125.74,294.94 126.99,294.85 128.24,294.76 129.49,294.68 130.74,294.60 132.00,294.52 133.25,294.44 134.50,294.37" fill="none" stroke="#e58e9c" stroke-width="0.45"/>
<circle cx="62.77" cy="303.65" r="1.12" fill="#c8102e"/>
<circle cx="39.17" cy="312.62" r="1.12" fill="#c8102e"/>
<circle cx="53.02" cy="309.08" r="1.12" fill="#c8102e"/>
<circle cx="59.68" cy="305.93" r="1.12" fill="#c8102e"/>
<circle cx="98.35" cy="294.11" r="1.12" fill="#c8102e"/>
<circle cx="59.99" cy="306.03" r="1.12" fill="#c8102e"/>
<circle cx="87.60" cy="297.66" r="1.12" fill="#c8102e"/>
<circle cx="91.19" cy="299.98" r="1.12" fill="#c8102e"/>
<circle cx="52.94" cy="313.42" r="1.12" fill="#c8102e"/>
<circle cx="94.46" cy="296.89" r="1.12" fill="#c8102e"/>
<circle cx="88.67" cy="294.09" r="1.12" fill="#c8102e"/>
<circle cx="84.98" cy="302.40" r="1.12" fill="#c8102e"/>
<circle cx="38.36" cy="303.88" r="1.12" fill="#c8102e"/>
<circle cx="46.24" cy="308.97" r="1.12" fill="#c8102e"/>
<circle cx="38.31" cy="304.74" r="1.12" fill="#c8102e"/>
<circle cx="75.51" cy="301.27" r="1.12" fill="#c8102e"/>
<circle cx="49.22" cy="301.05" r="1.12" fill="#c8102e"/>
<circle cx="36.33" cy="308.71" r="1.12" fill="#c8102e"/>
<circle cx="47.08" cy="301.34" r="1.12" fill="#c8102e"/>
<circle cx="97.60" cy="299.99" r="1.12" fill="#c8102e"/>
<circle cx="84.71" cy="304.05" r="1.12" fill="#c8102e"/>
<circle cx="35.68" cy="300.41" r="1.12" fill="#c8102e"/>
<circle cx="47.24" cy="308.18" r="1.12" fill="#c8102e"/>
<circle cx="84.33" cy="304.89" r="1.12" fill="#c8102e"/>
<circle cx="76.12" cy="292.28" r="1.12" fill="#c8102e"/>
<circle cx="40.19" cy="307.26" r="1.12" fill="#c8102e"/>
<circle cx="63.09" cy="298.67" r="1.12" fill="#c8102e"/>
<circle cx="47.10" cy="292.52" r="1.12" fill="#c8102e"/>
<circle cx="93.18" cy="302.78" r="1.12" fill="#c8102e"/>
<circle cx="91.09" cy="298.90" r="1.12" fill="#c8102e"/>
<circle cx="73.06" cy="290.48" r="1.12" fill="#c8102e"/>
<circle cx="89.19" cy="296.05" r="1.12" fill="#c8102e"/>
<circle cx="37.67" cy="309.23" r="1.12" fill="#c8102e"/>
<circle cx="55.04" cy="303.41" r="1.12" fill="#c8102e"/>
<circle cx="65.81" cy="300.70" r="1.12" fill="#c8102e"/>
<circle cx="57.93" cy="301.92" r="1.12" fill="#c8102e"/>
<circle cx="48.40" cy="308.59" r="1.12" fill="#c8102e"/>
<circle cx="35.97" cy="308.08" r="1.12" fill="#c8102e"/>
<circle cx="60.58" cy="312.53" r="1.12" fill="#c8102e"/>
<circle cx="54.67" cy="310.66" r="1.12" fill="#c8102e"/>
<circle cx="55.38" cy="312.02" r="1.12" fill="#c8102e"/>
<circle cx="44.11" cy="306.16" r="1.12" fill="#c8102e"/>
<circle cx="96.54" cy="297.35" r="1.12" fill="#c8102e"/>
<circle cx="98.60" cy="303.21" r="1.12" fill="#c8102e"/>
<circle cx="41.85" cy="307.53" r="1.12" fill="#c8102e"/>
<circle cx="92.62" cy="296.48" r="1.12" fill="#c8102e"/>
<circle cx="41.55" cy="311.73" r="1.12" fill="#c8102e"/>
<circle cx="66.90" cy="305.58" r="1.12" fill="#c8102e"/>
<circle cx="46.40" cy="298.79" r="1.12" fill="#c8102e"/>
<circle cx="90.03" cy="294.99" r="1.12" fill="#c8102e"/>
<circle cx="57.13" cy="312.92" r="1.12" fill="#c8102e"/>
<circle cx="44.31" cy="308.03" r="1.12" fill="#c8102e"/>
<circle cx="72.17" cy="304.47" r="1.12" fill="#c8102e"/>
<circle cx="46.85" cy="299.20" r="1.12" fill="#c8102e"/>
<circle cx="48.90" cy="309.91" r="1.12" fill="#c8102e"/>
<circle cx="75.98" cy="292.92" r="1.12" fill="#c8102e"/>
<circle cx="86.65" cy="303.32" r="1.12" fill="#c8102e"/>
<circle cx="84.35" cy="294.50" r="1.12" fill="#c8102e"/>
<circle cx="72.68" cy="308.18" r="1.12" fill="#c8102e"/>
<circle cx="50.61" cy="299.62" r="1.12" fill="#c8102e"/>
<circle cx="77.62" cy="306.94" r="1.12" fill="#c8102e"/>
<circle cx="91.87" cy="291.10" r="1.12" fill="#c8102e"/>
<circle cx="47.36" cy="309.14" r="1.12" fill="#c8102e"/>
<circle cx="94.09" cy="305.00" r="1.12" fill="#c8102e"/>
<circle cx="76.21" cy="305.89" r="1.12" fill="#c8102e"/>
<circle cx="59.02" cy="309.83" r="1.12" fill="#c8102e"/>
<circle cx="93.89" cy="302.72" r="1.12" fill="#c8102e"/>
<circle cx="89.38" cy="290.48" r="1.12" fill="#c8102e"/>
<circle cx="67.94" cy="302.64" r="1.12" fill="#c8102e"/>
<circle cx="98.03" cy="298.80" r="1.12" fill="#c8102e"/>
<circle cx="38.09" cy="303.47" r="1.12" fill="#c8102e"/>
<circle cx="92.84" cy="299.00" r="1.12" fill="#c8102e"/>
<circle cx="68.69" cy="297.22" r="1.12" fill="#c8102e"/>
<circle cx="69.38" cy="302.90" r="1.12" fill="#c8102e"/>
<circle cx="47.32" cy="312.74" r="1.12" fill="#c8102e"/>
<circle cx="70.38" cy="308.30" r="1.12" fill="#c8102e"/>
<circle cx="96.64" cy="308.23" r="1.12" fill="#c8102e"/>
<circle cx="35.74" cy="310.15" r="1.12" fill="#c8102e"/>
<circle cx="92.35" cy="302.40" r="1.12" fill="#c8102e"/>
<circle cx="87.81" cy="300.23" r="1.12" fill="#c8102e"/>
<circle cx="41.53" cy="308.79" r="1.12" fill="#c8102e"/>
<circle cx="83.84" cy="305.20" r="1.12" fill="#c8102e"/>
<circle cx="95.77" cy="298.17" r="1.12" fill="#c8102e"/>
<circle cx="85.18" cy="299.48" r="1.12" fill="#c8102e"/>
<circle cx="94.45" cy="296.33" r="1.12" fill="#c8102e"/>
<circle cx="80.65" cy="298.50" r="1.12" fill="#c8102e"/>
<circle cx="75.82" cy="302.27" r="1.12" fill="#c8102e"/>
<circle cx="61.13" cy="303.59" r="1.12" fill="#c8102e"/>
<circle cx="90.17" cy="290.48" r="1.12" fill="#c8102e"/>
<circle cx="38.54" cy="310.20" r="1.12" fill="#c8102e"/>
<circle cx="53.17" cy="305.28" r="1.12" fill="#c8102e"/>
<circle cx="60.99" cy="309.68" r="1.12" fill="#c8102e"/>
<circle cx="87.66" cy="296.76" r="1.12" fill="#c8102e"/>
<circle cx="79.99" cy="300.95" r="1.12" fill="#c8102e"/>
<circle cx="58.13" cy="301.35" r="1.12" fill="#c8102e"/>
<circle cx="84.97" cy="299.70" r="1.12" fill="#c8102e"/>
<circle cx="99.70" cy="296.35" r="1.12" fill="#c8102e"/>
<circle cx="58.35" cy="315.56" r="1.12" fill="#c8102e"/>
<circle cx="73.82" cy="292.81" r="1.12" fill="#c8102e"/>
<circle cx="44.45" cy="310.53" r="1.12" fill="#c8102e"/>
<circle cx="110.18" cy="295.14" r="1.12" fill="#c8102e"/>
<circle cx="120.85" cy="297.00" r="1.12" fill="#c8102e"/>
<circle cx="118.51" cy="295.24" r="1.12" fill="#c8102e"/>
<circle cx="118.34" cy="295.67" r="1.12" fill="#c8102e"/>
<circle cx="133.16" cy="291.04" r="1.12" fill="#c8102e"/>
<circle cx="121.38" cy="296.22" r="1.12" fill="#c8102e"/>
<circle cx="129.90" cy="301.87" r="1.12" fill="#c8102e"/>
<circle cx="131.35" cy="298.34" r="1.12" fill="#c8102e"/>
<circle cx="114.24" cy="292.08" r="1.12" fill="#c8102e"/>
<circle cx="106.88" cy="294.63" r="1.12" fill="#c8102e"/>
<circle cx="122.73" cy="301.96" r="1.12" fill="#c8102e"/>
<circle cx="104.82" cy="294.44" r="1.12" fill="#c8102e"/>
<circle cx="131.49" cy="296.48" r="1.12" fill="#c8102e"/>
<circle cx="107.37" cy="303.16" r="1.12" fill="#c8102e"/>
<circle cx="129.72" cy="296.36" r="1.12" fill="#c8102e"/>
<circle cx="125.91" cy="295.91" r="1.12" fill="#c8102e"/>
<circle cx="105.64" cy="298.30" r="1.12" fill="#c8102e"/>
<circle cx="123.55" cy="298.03" r="1.12" fill="#c8102e"/>
<circle cx="100.56" cy="294.42" r="1.12" fill="#c8102e"/>
<circle cx="111.37" cy="295.82" r="1.12" fill="#c8102e"/>
<circle cx="113.92" cy="295.49" r="1.12" fill="#c8102e"/>
<circle cx="108.69" cy="298.64" r="1.12" fill="#c8102e"/>
<circle cx="111.52" cy="293.13" r="1.12" fill="#c8102e"/>
<circle cx="125.09" cy="296.81" r="1.12" fill="#c8102e"/>
<circle cx="114.58" cy="296.81" r="1.12" fill="#c8102e"/>
<circle cx="112.28" cy="295.80" r="1.12" fill="#c8102e"/>
<circle cx="128.66" cy="298.97" r="1.12" fill="#c8102e"/>
<circle cx="132.72" cy="294.09" r="1.12" fill="#c8102e"/>
<circle cx="127.23" cy="297.15" r="1.12" fill="#c8102e"/>
<circle cx="102.79" cy="302.74" r="1.12" fill="#c8102e"/>
<circle cx="130.42" cy="292.78" r="1.12" fill="#c8102e"/>
<circle cx="133.16" cy="294.15" r="1.12" fill="#c8102e"/>
<circle cx="123.77" cy="294.90" r="1.12" fill="#c8102e"/>
<circle cx="104.42" cy="297.43" r="1.12" fill="#c8102e"/>
<circle cx="132.18" cy="290.48" r="1.12" fill="#c8102e"/>
<circle cx="105.47" cy="303.67" r="1.12" fill="#c8102e"/>
<circle cx="106.83" cy="303.28" r="1.12" fill="#c8102e"/>
<circle cx="127.36" cy="297.53" r="1.12" fill="#c8102e"/>
<circle cx="110.43" cy="294.84" r="1.12" fill="#c8102e"/>
<circle cx="114.22" cy="291.19" r="1.12" fill="#c8102e"/>
<circle cx="110.54" cy="297.34" r="1.12" fill="#c8102e"/>
<circle cx="130.28" cy="294.19" r="1.12" fill="#c8102e"/>
<circle cx="116.01" cy="292.98" r="1.12" fill="#c8102e"/>
<circle cx="121.54" cy="298.63" r="1.12" fill="#c8102e"/>
<circle cx="106.38" cy="295.68" r="1.12" fill="#c8102e"/>
<polyline points="35.60,309.60 36.85,309.31 38.10,309.01 39.36,308.72 40.61,308.44 41.86,308.15 43.11,307.87 44.36,307.59 45.62,307.31 46.87,307.04 48.12,306.77 49.37,306.50 50.62,306.24 51.87,305.98 53.13,305.72 54.38,305.46 55.63,305.21 56.88,304.96 58.13,304.71 59.39,304.47 60.64,304.23 61.89,303.99 63.14,303.75 64.39,303.52 65.65,303.29 66.90,303.06 68.15,302.84 69.40,302.61 70.65,302.40 71.91,302.18 73.16,301.97 74.41,301.76 75.66,301.55 76.91,301.35 78.16,301.14 79.42,300.95 80.67,300.75 81.92,300.56 83.17,300.37 84.42,300.18 85.68,300.00 86.93,299.82 88.18,299.64 89.43,299.46 90.68,299.29 91.94,299.12 93.19,298.95 94.44,298.79 95.69,298.63 96.94,298.47 98.19,298.31 99.45,298.16 100.70,298.01 101.95,297.86 103.20,297.72 104.45,297.58 105.71,297.44 106.96,297.31 108.21,297.17 109.46,297.04 110.71,296.92 111.97,296.79 113.22,296.67 114.47,296.55 115.72,296.44 116.97,296.33 118.23,296.22 119.48,296.11 120.73,296.01 121.98,295.91 123.23,295.81 124.48,295.71 125.74,295.62 126.99,295.53 128.24,295.45 129.49,295.36 130.74,295.28 132.00,295.20 133.25,295.13 134.50,295.06" fill="none" stroke="#b0122b" stroke-width="1.1"/>
<line x1="32.30" y1="290.20" x2="32.30" y2="321.55" stroke="#111" stroke-width="1.1"/>
<line x1="31.75" y1="321.00" x2="133.80" y2="321.00" stroke="#111" stroke-width="1.1"/>
<line x1="29.00" y1="293.56" x2="32.30" y2="293.56" stroke="#111" stroke-width="1.0"/>
<text x="27.10" y="296.51" font-size="8.2" text-anchor="end" fill="#111" stroke="#111" stroke-width="0.12" textLength="4.01" lengthAdjust="spacingAndGlyphs">4</text>
<line x1="29.00" y1="299.08" x2="32.30" y2="299.08" stroke="#111" stroke-width="1.0"/>
<line x1="29.00" y1="304.60" x2="32.30" y2="304.60" stroke="#111" stroke-width="1.0"/>
<text x="27.10" y="307.55" font-size="8.2" text-anchor="end" fill="#111" stroke="#111" stroke-width="0.12" textLength="4.01" lengthAdjust="spacingAndGlyphs">0</text>
<line x1="29.00" y1="310.12" x2="32.30" y2="310.12" stroke="#111" stroke-width="1.0"/>
<line x1="29.00" y1="315.64" x2="32.30" y2="315.64" stroke="#111" stroke-width="1.0"/>
<text x="27.10" y="318.59" font-size="8.2" text-anchor="end" fill="#111" stroke="#111" stroke-width="0.12" textLength="6.42" lengthAdjust="spacingAndGlyphs">-4</text>
<line x1="29.00" y1="321.16" x2="32.30" y2="321.16" stroke="#111" stroke-width="1.0"/>
<line x1="35.60" y1="321.00" x2="35.60" y2="324.30" stroke="#111" stroke-width="1.0"/>
<text x="35.60" y="333.50" font-size="8.0" text-anchor="middle" fill="#111" stroke="#111" stroke-width="0.12">0</text>
<line x1="57.10" y1="321.00" x2="57.10" y2="324.30" stroke="#111" stroke-width="1.0"/>
<text x="57.10" y="333.50" font-size="8.0" text-anchor="middle" fill="#111" stroke="#111" stroke-width="0.12">10</text>
<line x1="78.60" y1="321.00" x2="78.60" y2="324.30" stroke="#111" stroke-width="1.0"/>
<text x="78.60" y="333.50" font-size="8.0" text-anchor="middle" fill="#111" stroke="#111" stroke-width="0.12">20</text>
<line x1="100.10" y1="321.00" x2="100.10" y2="324.30" stroke="#111" stroke-width="1.0"/>
<text x="100.10" y="333.50" font-size="8.0" text-anchor="middle" fill="#111" stroke="#111" stroke-width="0.12">30</text>
<line x1="121.60" y1="321.00" x2="121.60" y2="324.30" stroke="#111" stroke-width="1.0"/>
<text x="121.60" y="333.50" font-size="8.0" text-anchor="middle" fill="#111" stroke="#111" stroke-width="0.12">40</text>
<text x="83.20" y="282.80" font-size="8.4" text-anchor="middle" fill="#111" stroke="#111" stroke-width="0.12" textLength="64.40" lengthAdjust="spacingAndGlyphs">Gata3, Lineage 1</text>
<text x="13.00" y="305.30" font-size="9.2" text-anchor="middle" fill="#111" stroke="#111" stroke-width="0.12" textLength="35.20" lengthAdjust="spacingAndGlyphs" transform="rotate(-90 13.00 305.30)">Expression</text>
<polygon points="157.50,307.77 158.70,307.48 159.90,307.19 161.10,306.90 162.30,306.61 163.50,306.32 164.70,306.03 165.90,305.74 167.10,305.45 168.30,305.16 169.49,304.87 170.69,304.58 171.89,304.29 173.09,304.00 174.29,303.71 175.49,303.42 176.69,303.13 177.89,302.84 179.09,302.55 180.29,302.26 181.49,301.97 182.69,301.68 183.89,301.39 185.09,301.10 186.29,300.81 187.49,300.52 188.69,300.23 189.89,299.94 191.09,299.65 192.29,299.36 193.48,299.07 194.68,298.78 195.88,298.49 197.08,298.20 198.28,297.91 199.48,297.62 200.68,297.33 201.88,297.04 203.08,296.75 204.28,296.46 205.48,296.51 206.68,296.89 207.88,297.26 209.08,297.64 210.28,298.02 211.48,298.40 212.68,298.77 213.88,299.15 215.08,299.53 216.28,299.90 217.47,300.28 218.67,300.66 219.87,301.04 221.07,301.41 222.27,301.79 223.47,302.17 224.67,302.55 225.87,302.92 227.07,303.30 228.27,303.68 229.47,304.05 230.67,304.43 231.87,304.81 233.07,305.19 234.27,305.56 235.47,305.94 236.67,306.32 237.87,306.70 239.07,307.07 240.27,307.45 241.46,307.83 242.66,308.21 243.86,308.58 245.06,308.96 246.26,309.34 247.46,309.71 248.66,310.09 249.86,310.47 251.06,310.85 252.26,311.22 252.26,318.40 251.06,317.92 249.86,317.45 248.66,316.97 247.46,316.50 246.26,316.02 245.06,315.55 243.86,315.07 242.66,314.60 241.46,314.12 240.27,313.65 239.07,313.17 237.87,312.70 236.67,312.22 235.47,311.75 234.27,311.27 233.07,310.80 231.87,310.32 230.67,309.85 229.47,309.37 228.27,308.90 227.07,308.42 225.87,307.95 224.67,307.47 223.47,307.00 222.27,306.52 221.07,306.05 219.87,305.57 218.67,305.10 217.47,304.62 216.28,304.15 215.08,303.67 213.88,303.20 212.68,302.72 211.48,302.25 210.28,301.77 209.08,301.29 207.88,300.82 206.68,300.34 205.48,299.87 204.28,299.78 203.08,300.07 201.88,300.36 200.68,300.65 199.48,300.94 198.28,301.23 197.08,301.52 195.88,301.81 194.68,302.10 193.48,302.39 192.29,302.68 191.09,302.97 189.89,303.26 188.69,303.55 187.49,303.84 186.29,304.13 185.09,304.42 183.89,304.71 182.69,305.00 181.49,305.29 180.29,305.58 179.09,305.87 177.89,306.16 176.69,306.45 175.49,306.74 174.29,307.03 173.09,307.32 171.89,307.61 170.69,307.90 169.49,308.19 168.30,308.48 167.10,308.77 165.90,309.06 164.70,309.35 163.50,309.64 162.30,309.93 161.10,310.22 159.90,310.51 158.70,310.80 157.50,311.09" fill="#f2b8c2" fill-opacity="0.85"/>
<polyline points="157.50,310.34 158.70,310.05 159.90,309.76 161.10,309.47 162.30,309.18 163.50,308.89 164.70,308.60 165.90,308.31 167.10,308.02 168.30,307.73 169.49,307.44 170.69,307.15 171.89,306.86 173.09,306.57 174.29,306.28 175.49,305.99 176.69,305.70 177.89,305.41 179.09,305.12 180.29,304.83 181.49,304.54 182.69,304.25 183.89,303.96 185.09,303.67 186.29,303.38 187.49,303.09 188.69,302.80 189.89,302.51 191.09,302.22 192.29,301.93 193.48,301.64 194.68,301.35 195.88,301.06 197.08,300.77 198.28,300.48 199.48,300.19 200.68,299.90 201.88,299.61 203.08,299.32 204.28,299.03 205.48,299.11 206.68,299.57 207.88,300.02 209.08,300.47 210.28,300.93 211.48,301.38 212.68,301.83 213.88,302.29 215.08,302.74 216.28,303.19 217.47,303.64 218.67,304.10 219.87,304.55 221.07,305.00 222.27,305.46 223.47,305.91 224.67,306.36 225.87,306.82 227.07,307.27 228.27,307.72 229.47,308.18 230.67,308.63 231.87,309.08 233.07,309.54 234.27,309.99 235.47,310.44 236.67,310.89 237.87,311.35 239.07,311.80 240.27,312.25 241.46,312.71 242.66,313.16 243.86,313.61 245.06,314.07 246.26,314.52 247.46,314.97 248.66,315.43 249.86,315.88 251.06,316.33 252.26,316.79" fill="none" stroke="#e58e9c" stroke-width="0.45"/>
<polyline points="157.50,308.52 158.70,308.23 159.90,307.94 161.10,307.65 162.30,307.36 163.50,307.07 164.70,306.78 165.90,306.49 167.10,306.20 168.30,305.91 169.49,305.62 170.69,305.33 171.89,305.04 173.09,304.75 174.29,304.46 175.49,304.17 176.69,303.88 177.89,303.59 179.09,303.30 180.29,303.01 181.49,302.72 182.69,302.43 183.89,302.14 185.09,301.85 186.29,301.56 187.49,301.27 188.69,300.98 189.89,300.69 191.09,300.40 192.29,300.11 193.48,299.82 194.68,299.53 195.88,299.24 197.08,298.95 198.28,298.66 199.48,298.37 200.68,298.08 201.88,297.79 203.08,297.50 204.28,297.21 205.48,297.26 206.68,297.66 207.88,298.06 209.08,298.46 210.28,298.86 211.48,299.26 212.68,299.66 213.88,300.06 215.08,300.46 216.28,300.86 217.47,301.26 218.67,301.66 219.87,302.06 221.07,302.46 222.27,302.86 223.47,303.25 224.67,303.65 225.87,304.05 227.07,304.45 228.27,304.85 229.47,305.25 230.67,305.65 231.87,306.05 233.07,306.45 234.27,306.85 235.47,307.25 236.67,307.65 237.87,308.05 239.07,308.45 240.27,308.85 241.46,309.24 242.66,309.64 243.86,310.04 245.06,310.44 246.26,310.84 247.46,311.24 248.66,311.64 249.86,312.04 251.06,312.44 252.26,312.84" fill="none" stroke="#e58e9c" stroke-width="0.45"/>
<circle cx="196.71" cy="306.39" r="1.12" fill="#c8102e"/>
<circle cx="170.62" cy="310.97" r="1.12" fill="#c8102e"/>
<circle cx="171.16" cy="304.87" r="1.12" fill="#c8102e"/>
<circle cx="198.58" cy="300.93" r="1.12" fill="#c8102e"/>
<circle cx="189.44" cy="304.07" r="1.12" fill="#c8102e"/>
<circle cx="195.60" cy="300.51" r="1.12" fill="#c8102e"/>
<circle cx="181.05" cy="307.16" r="1.12" fill="#c8102e"/>
<circle cx="197.75" cy="306.65" r="1.12" fill="#c8102e"/>
<circle cx="163.00" cy="307.05" r="1.12" fill="#c8102e"/>
<circle cx="161.20" cy="303.09" r="1.12" fill="#c8102e"/>
<circle cx="205.87" cy="301.51" r="1.12" fill="#c8102e"/>
<circle cx="195.39" cy="296.22" r="1.12" fill="#c8102e"/>
<circle cx="163.82" cy="314.22" r="1.12" fill="#c8102e"/>
<circle cx="169.96" cy="302.71" r="1.12" fill="#c8102e"/>
<circle cx="189.81" cy="300.77" r="1.12" fill="#c8102e"/>
<circle cx="158.89" cy="314.29" r="1.12" fill="#c8102e"/>
<circle cx="174.26" cy="306.58" r="1.12" fill="#c8102e"/>
<circle cx="174.06" cy="311.69" r="1.12" fill="#c8102e"/>
<circle cx="179.63" cy="304.97" r="1.12" fill="#c8102e"/>
<circle cx="176.13" cy="306.99" r="1.12" fill="#c8102e"/>
<circle cx="182.30" cy="306.40" r="1.12" fill="#c8102e"/>
<circle cx="196.84" cy="297.66" r="1.12" fill="#c8102e"/>
<circle cx="202.84" cy="306.37" r="1.12" fill="#c8102e"/>
<circle cx="177.89" cy="306.08" r="1.12" fill="#c8102e"/>
<circle cx="189.22" cy="305.77" r="1.12" fill="#c8102e"/>
<circle cx="163.13" cy="307.79" r="1.12" fill="#c8102e"/>
<circle cx="161.50" cy="311.91" r="1.12" fill="#c8102e"/>
<circle cx="169.07" cy="320.39" r="1.12" fill="#c8102e"/>
<circle cx="174.17" cy="307.78" r="1.12" fill="#c8102e"/>
<circle cx="197.85" cy="298.91" r="1.12" fill="#c8102e"/>
<circle cx="162.78" cy="303.11" r="1.12" fill="#c8102e"/>
<circle cx="174.30" cy="311.45" r="1.12" fill="#c8102e"/>
<circle cx="188.46" cy="303.37" r="1.12" fill="#c8102e"/>
<circle cx="160.93" cy="304.33" r="1.12" fill="#c8102e"/>
<circle cx="171.82" cy="309.67" r="1.12" fill="#c8102e"/>
<circle cx="179.57" cy="298.83" r="1.12" fill="#c8102e"/>
<circle cx="181.03" cy="300.89" r="1.12" fill="#c8102e"/>
<circle cx="205.79" cy="293.69" r="1.12" fill="#c8102e"/>
<circle cx="157.85" cy="310.91" r="1.12" fill="#c8102e"/>
<circle cx="201.69" cy="295.11" r="1.12" fill="#c8102e"/>
<circle cx="191.13" cy="306.29" r="1.12" fill="#c8102e"/>
<circle cx="173.55" cy="294.10" r="1.12" fill="#c8102e"/>
<circle cx="161.55" cy="303.02" r="1.12" fill="#c8102e"/>
<circle cx="175.21" cy="296.54" r="1.12" fill="#c8102e"/>
<circle cx="191.99" cy="303.19" r="1.12" fill="#c8102e"/>
<circle cx="166.65" cy="302.10" r="1.12" fill="#c8102e"/>
<circle cx="185.40" cy="298.85" r="1.12" fill="#c8102e"/>
<circle cx="201.66" cy="300.38" r="1.12" fill="#c8102e"/>
<circle cx="158.18" cy="320.39" r="1.12" fill="#c8102e"/>
<circle cx="169.71" cy="292.32" r="1.12" fill="#c8102e"/>
<circle cx="178.65" cy="301.20" r="1.12" fill="#c8102e"/>
<circle cx="165.68" cy="317.76" r="1.12" fill="#c8102e"/>
<circle cx="177.36" cy="311.12" r="1.12" fill="#c8102e"/>
<circle cx="191.23" cy="298.54" r="1.12" fill="#c8102e"/>
<circle cx="197.17" cy="303.36" r="1.12" fill="#c8102e"/>
<circle cx="191.87" cy="305.70" r="1.12" fill="#c8102e"/>
<circle cx="169.47" cy="311.67" r="1.12" fill="#c8102e"/>
<circle cx="201.46" cy="293.94" r="1.12" fill="#c8102e"/>
<circle cx="160.39" cy="304.45" r="1.12" fill="#c8102e"/>
<circle cx="185.35" cy="299.14" r="1.12" fill="#c8102e"/>
<circle cx="167.28" cy="294.28" r="1.12" fill="#c8102e"/>
<circle cx="194.46" cy="294.94" r="1.12" fill="#c8102e"/>
<circle cx="194.23" cy="306.33" r="1.12" fill="#c8102e"/>
<circle cx="167.85" cy="304.10" r="1.12" fill="#c8102e"/>
<circle cx="174.99" cy="310.88" r="1.12" fill="#c8102e"/>
<circle cx="162.91" cy="310.55" r="1.12" fill="#c8102e"/>
<circle cx="173.37" cy="305.22" r="1.12" fill="#c8102e"/>
<circle cx="180.77" cy="302.10" r="1.12" fill="#c8102e"/>
<circle cx="191.50" cy="298.04" r="1.12" fill="#c8102e"/>
<circle cx="180.25" cy="303.89" r="1.12" fill="#c8102e"/>
<circle cx="180.78" cy="312.39" r="1.12" fill="#c8102e"/>
<circle cx="169.42" cy="317.47" r="1.12" fill="#c8102e"/>
<circle cx="195.51" cy="302.90" r="1.12" fill="#c8102e"/>
<circle cx="174.96" cy="307.26" r="1.12" fill="#c8102e"/>
<circle cx="169.26" cy="305.46" r="1.12" fill="#c8102e"/>
<circle cx="176.39" cy="303.58" r="1.12" fill="#c8102e"/>
<circle cx="167.67" cy="300.99" r="1.12" fill="#c8102e"/>
<circle cx="204.10" cy="300.41" r="1.12" fill="#c8102e"/>
<circle cx="183.59" cy="309.33" r="1.12" fill="#c8102e"/>
<circle cx="188.58" cy="299.90" r="1.12" fill="#c8102e"/>
<circle cx="163.27" cy="307.00" r="1.12" fill="#c8102e"/>
<circle cx="189.19" cy="302.08" r="1.12" fill="#c8102e"/>
<circle cx="166.30" cy="308.68" r="1.12" fill="#c8102e"/>
<circle cx="167.11" cy="309.58" r="1.12" fill="#c8102e"/>
<circle cx="197.45" cy="296.70" r="1.12" fill="#c8102e"/>
<circle cx="198.81" cy="296.01" r="1.12" fill="#c8102e"/>
<circle cx="179.73" cy="301.99" r="1.12" fill="#c8102e"/>
<circle cx="160.65" cy="311.84" r="1.12" fill="#c8102e"/>
<circle cx="198.92" cy="290.28" r="1.12" fill="#c8102e"/>
<circle cx="191.57" cy="302.95" r="1.12" fill="#c8102e"/>
<circle cx="173.47" cy="305.05" r="1.12" fill="#c8102e"/>
<circle cx="158.27" cy="305.69" r="1.12" fill="#c8102e"/>
<circle cx="167.04" cy="301.12" r="1.12" fill="#c8102e"/>
<circle cx="183.13" cy="293.70" r="1.12" fill="#c8102e"/>
<circle cx="196.63" cy="310.22" r="1.12" fill="#c8102e"/>
<circle cx="172.66" cy="306.21" r="1.12" fill="#c8102e"/>
<circle cx="185.09" cy="309.69" r="1.12" fill="#c8102e"/>
<circle cx="160.14" cy="303.13" r="1.12" fill="#c8102e"/>
<circle cx="203.11" cy="295.35" r="1.12" fill="#c8102e"/>
<circle cx="157.97" cy="297.59" r="1.12" fill="#c8102e"/>
<circle cx="250.05" cy="316.46" r="1.12" fill="#c8102e"/>
<circle cx="254.51" cy="314.65" r="1.12" fill="#c8102e"/>
<circle cx="247.06" cy="309.25" r="1.12" fill="#c8102e"/>
<circle cx="242.01" cy="317.19" r="1.12" fill="#c8102e"/>
<circle cx="247.11" cy="318.00" r="1.12" fill="#c8102e"/>
<circle cx="252.05" cy="320.39" r="1.12" fill="#c8102e"/>
<circle cx="254.46" cy="320.39" r="1.12" fill="#c8102e"/>
<circle cx="242.17" cy="313.57" r="1.12" fill="#c8102e"/>
<circle cx="243.49" cy="316.76" r="1.12" fill="#c8102e"/>
<circle cx="254.87" cy="314.52" r="1.12" fill="#c8102e"/>
<circle cx="246.55" cy="318.01" r="1.12" fill="#c8102e"/>
<circle cx="255.55" cy="316.18" r="1.12" fill="#c8102e"/>
<circle cx="247.03" cy="308.30" r="1.12" fill="#c8102e"/>
<circle cx="256.13" cy="316.32" r="1.12" fill="#c8102e"/>
<circle cx="254.95" cy="315.87" r="1.12" fill="#c8102e"/>
<circle cx="252.75" cy="315.42" r="1.12" fill="#c8102e"/>
<circle cx="245.96" cy="306.43" r="1.12" fill="#c8102e"/>
<circle cx="253.63" cy="316.47" r="1.12" fill="#c8102e"/>
<circle cx="245.03" cy="315.17" r="1.12" fill="#c8102e"/>
<circle cx="255.59" cy="306.43" r="1.12" fill="#c8102e"/>
<circle cx="247.34" cy="318.99" r="1.12" fill="#c8102e"/>
<circle cx="247.31" cy="311.75" r="1.12" fill="#c8102e"/>
<circle cx="245.54" cy="312.94" r="1.12" fill="#c8102e"/>
<circle cx="245.55" cy="315.48" r="1.12" fill="#c8102e"/>
<circle cx="255.72" cy="316.65" r="1.12" fill="#c8102e"/>
<circle cx="251.68" cy="315.69" r="1.12" fill="#c8102e"/>
<polyline points="157.50,309.43 158.70,309.14 159.90,308.85 161.10,308.56 162.30,308.27 163.50,307.98 164.70,307.69 165.90,307.40 167.10,307.11 168.30,306.82 169.49,306.53 170.69,306.24 171.89,305.95 173.09,305.66 174.29,305.37 175.49,305.08 176.69,304.79 177.89,304.50 179.09,304.21 180.29,303.92 181.49,303.63 182.69,303.34 183.89,303.05 185.09,302.76 186.29,302.47 187.49,302.18 188.69,301.89 189.89,301.60 191.09,301.31 192.29,301.02 193.48,300.73 194.68,300.44 195.88,300.15 197.08,299.86 198.28,299.57 199.48,299.28 200.68,298.99 201.88,298.70 203.08,298.41 204.28,298.12 205.48,298.19 206.68,298.62 207.88,299.04 209.08,299.47 210.28,299.89 211.48,300.32 212.68,300.75 213.88,301.17 215.08,301.60 216.28,302.03 217.47,302.45 218.67,302.88 219.87,303.30 221.07,303.73 222.27,304.16 223.47,304.58 224.67,305.01 225.87,305.43 227.07,305.86 228.27,306.29 229.47,306.71 230.67,307.14 231.87,307.57 233.07,307.99 234.27,308.42 235.47,308.84 236.67,309.27 237.87,309.70 239.07,310.12 240.27,310.55 241.46,310.98 242.66,311.40 243.86,311.83 245.06,312.25 246.26,312.68 247.46,313.11 248.66,313.53 249.86,313.96 251.06,314.39 252.26,314.81" fill="none" stroke="#b0122b" stroke-width="1.1"/>
<line x1="153.80" y1="290.00" x2="153.80" y2="321.35" stroke="#111" stroke-width="1.1"/>
<line x1="153.25" y1="320.80" x2="260.40" y2="320.80" stroke="#111" stroke-width="1.1"/>
<line x1="150.50" y1="293.56" x2="153.80" y2="293.56" stroke="#111" stroke-width="1.0"/>
<text x="148.60" y="296.51" font-size="8.2" text-anchor="end" fill="#111" stroke="#111" stroke-width="0.12" textLength="4.01" lengthAdjust="spacingAndGlyphs">4</text>
<line x1="150.50" y1="299.08" x2="153.80" y2="299.08" stroke="#111" stroke-width="1.0"/>
<line x1="150.50" y1="304.60" x2="153.80" y2="304.60" stroke="#111" stroke-width="1.0"/>
<text x="148.60" y="307.55" font-size="8.2" text-anchor="end" fill="#111" stroke="#111" stroke-width="0.12" textLength="4.01" lengthAdjust="spacingAndGlyphs">0</text>
<line x1="150.50" y1="310.12" x2="153.80" y2="310.12" stroke="#111" stroke-width="1.0"/>
<line x1="150.50" y1="315.64" x2="153.80" y2="315.64" stroke="#111" stroke-width="1.0"/>
<text x="148.60" y="318.59" font-size="8.2" text-anchor="end" fill="#111" stroke="#111" stroke-width="0.12" textLength="6.42" lengthAdjust="spacingAndGlyphs">-4</text>
<line x1="150.50" y1="321.16" x2="153.80" y2="321.16" stroke="#111" stroke-width="1.0"/>
<line x1="157.50" y1="320.80" x2="157.50" y2="324.10" stroke="#111" stroke-width="1.0"/>
<text x="157.50" y="333.30" font-size="8.0" text-anchor="middle" fill="#111" stroke="#111" stroke-width="0.12">0</text>
<line x1="178.10" y1="320.80" x2="178.10" y2="324.10" stroke="#111" stroke-width="1.0"/>
<text x="178.10" y="333.30" font-size="8.0" text-anchor="middle" fill="#111" stroke="#111" stroke-width="0.12">10</text>
<line x1="198.70" y1="320.80" x2="198.70" y2="324.10" stroke="#111" stroke-width="1.0"/>
<text x="198.70" y="333.30" font-size="8.0" text-anchor="middle" fill="#111" stroke="#111" stroke-width="0.12">20</text>
<line x1="219.30" y1="320.80" x2="219.30" y2="324.10" stroke="#111" stroke-width="1.0"/>
<text x="219.30" y="333.30" font-size="8.0" text-anchor="middle" fill="#111" stroke="#111" stroke-width="0.12">30</text>
<line x1="239.90" y1="320.80" x2="239.90" y2="324.10" stroke="#111" stroke-width="1.0"/>
<text x="239.90" y="333.30" font-size="8.0" text-anchor="middle" fill="#111" stroke="#111" stroke-width="0.12">40</text>
<text x="207.10" y="282.80" font-size="8.4" text-anchor="middle" fill="#111" stroke="#111" stroke-width="0.12" textLength="64.60" lengthAdjust="spacingAndGlyphs">Gata3, Lineage 2</text>
<polygon points="288.50,308.90 289.74,308.21 290.98,307.54 292.22,306.89 293.46,306.25 294.70,305.64 295.94,305.04 297.18,304.46 298.42,303.90 299.66,303.36 300.90,302.84 302.14,302.34 303.38,301.85 304.62,301.39 305.86,300.94 307.10,300.51 308.34,300.10 309.58,299.70 310.82,299.33 312.06,298.97 313.31,298.63 314.55,298.32 315.79,298.01 317.03,297.73 318.27,297.47 319.51,297.22 320.75,297.00 321.99,296.79 323.23,296.60 324.47,296.43 325.71,296.27 326.95,296.14 328.19,296.02 329.43,295.93 330.67,295.85 331.91,295.79 333.15,295.74 334.39,295.72 335.63,295.72 336.87,295.73 338.11,295.76 339.35,295.79 340.59,295.83 341.83,295.87 343.07,295.92 344.31,295.97 345.55,296.03 346.79,296.08 348.03,296.15 349.27,296.21 350.51,296.28 351.75,296.35 352.99,296.42 354.23,296.50 355.47,296.58 356.71,296.66 357.95,296.74 359.19,296.83 360.43,296.92 361.67,297.01 362.92,297.10 364.16,297.19 365.40,297.29 366.64,297.39 367.88,297.49 369.12,297.59 370.36,297.70 371.60,297.80 372.84,297.91 374.08,298.02 375.32,298.13 376.56,298.24 377.80,298.36 379.04,298.48 380.28,298.59 381.52,298.72 382.76,298.84 384.00,298.96 385.24,299.09 386.48,299.21 386.48,302.17 385.24,302.04 384.00,301.92 382.76,301.80 381.52,301.67 380.28,301.55 379.04,301.44 377.80,301.32 376.56,301.20 375.32,301.09 374.08,300.98 372.84,300.87 371.60,300.76 370.36,300.65 369.12,300.55 367.88,300.45 366.64,300.35 365.40,300.25 364.16,300.15 362.92,300.06 361.67,299.97 360.43,299.87 359.19,299.79 357.95,299.70 356.71,299.62 355.47,299.54 354.23,299.46 352.99,299.38 351.75,299.31 350.51,299.24 349.27,299.17 348.03,299.11 346.79,299.04 345.55,298.98 344.31,298.93 343.07,298.88 341.83,298.83 340.59,298.79 339.35,298.75 338.11,298.72 336.87,298.69 335.63,298.67 334.39,298.68 333.15,298.70 331.91,298.74 330.67,298.81 329.43,298.88 328.19,298.98 326.95,299.10 325.71,299.23 324.47,299.39 323.23,299.56 321.99,299.75 320.75,299.96 319.51,300.18 318.27,300.43 317.03,300.69 315.79,300.97 314.55,301.27 313.31,301.59 312.06,301.93 310.82,302.29 309.58,302.66 308.34,303.05 307.10,303.47 305.86,303.90 304.62,304.34 303.38,304.81 302.14,305.30 300.90,305.80 299.66,306.32 298.42,306.86 297.18,307.42 295.94,308.00 294.70,308.60 293.46,309.21 292.22,309.84 290.98,310.50 289.74,311.17 288.50,311.85" fill="#f2b8c2" fill-opacity="0.85"/>
<polyline points="288.50,311.19 289.74,310.50 290.98,309.83 292.22,309.18 293.46,308.55 294.70,307.93 295.94,307.33 297.18,306.76 298.42,306.20 299.66,305.66 300.90,305.13 302.14,304.63 303.38,304.15 304.62,303.68 305.86,303.23 307.10,302.80 308.34,302.39 309.58,302.00 310.82,301.62 312.06,301.27 313.31,300.93 314.55,300.61 315.79,300.31 317.03,300.03 318.27,299.76 319.51,299.52 320.75,299.29 321.99,299.08 323.23,298.89 324.47,298.72 325.71,298.57 326.95,298.43 328.19,298.32 329.43,298.22 330.67,298.14 331.91,298.08 333.15,298.04 334.39,298.01 335.63,298.01 336.87,298.03 338.11,298.05 339.35,298.08 340.59,298.12 341.83,298.17 343.07,298.21 344.31,298.26 345.55,298.32 346.79,298.38 348.03,298.44 349.27,298.50 350.51,298.57 351.75,298.64 352.99,298.72 354.23,298.79 355.47,298.87 356.71,298.95 357.95,299.04 359.19,299.12 360.43,299.21 361.67,299.30 362.92,299.39 364.16,299.49 365.40,299.58 366.64,299.68 367.88,299.78 369.12,299.88 370.36,299.99 371.60,300.09 372.84,300.20 374.08,300.31 375.32,300.42 376.56,300.54 377.80,300.65 379.04,300.77 380.28,300.89 381.52,301.01 382.76,301.13 384.00,301.25 385.24,301.38 386.48,301.50" fill="none" stroke="#e58e9c" stroke-width="0.45"/>
<polyline points="288.50,309.56 289.74,308.87 290.98,308.20 292.22,307.55 293.46,306.92 294.70,306.30 295.94,305.71 297.18,305.13 298.42,304.57 299.66,304.03 300.90,303.51 302.14,303.00 303.38,302.52 304.62,302.05 305.86,301.60 307.10,301.17 308.34,300.76 309.58,300.37 310.82,299.99 312.06,299.64 313.31,299.30 314.55,298.98 315.79,298.68 317.03,298.40 318.27,298.13 319.51,297.89 320.75,297.66 321.99,297.45 323.23,297.26 324.47,297.09 325.71,296.94 326.95,296.81 328.19,296.69 329.43,296.59 330.67,296.51 331.91,296.45 333.15,296.41 334.39,296.39 335.63,296.38 336.87,296.40 338.11,296.42 339.35,296.46 340.59,296.49 341.83,296.54 343.07,296.59 344.31,296.64 345.55,296.69 346.79,296.75 348.03,296.81 349.27,296.88 350.51,296.94 351.75,297.02 352.99,297.09 354.23,297.16 355.47,297.24 356.71,297.32 357.95,297.41 359.19,297.49 360.43,297.58 361.67,297.67 362.92,297.76 364.16,297.86 365.40,297.96 366.64,298.05 367.88,298.15 369.12,298.26 370.36,298.36 371.60,298.47 372.84,298.58 374.08,298.69 375.32,298.80 376.56,298.91 377.80,299.03 379.04,299.14 380.28,299.26 381.52,299.38 382.76,299.50 384.00,299.63 385.24,299.75 386.48,299.88" fill="none" stroke="#e58e9c" stroke-width="0.45"/>
<circle cx="308.10" cy="303.80" r="1.12" fill="#c8102e"/>
<circle cx="368.35" cy="303.85" r="1.12" fill="#c8102e"/>
<circle cx="345.88" cy="298.70" r="1.12" fill="#c8102e"/>
<circle cx="321.04" cy="295.91" r="1.12" fill="#c8102e"/>
<circle cx="336.29" cy="293.64" r="1.12" fill="#c8102e"/>
<circle cx="303.01" cy="307.51" r="1.12" fill="#c8102e"/>
<circle cx="372.48" cy="303.25" r="1.12" fill="#c8102e"/>
<circle cx="373.08" cy="301.72" r="1.12" fill="#c8102e"/>
<circle cx="310.09" cy="300.79" r="1.12" fill="#c8102e"/>
<circle cx="342.96" cy="294.52" r="1.12" fill="#c8102e"/>
<circle cx="362.25" cy="292.59" r="1.12" fill="#c8102e"/>
<circle cx="374.35" cy="297.72" r="1.12" fill="#c8102e"/>
<circle cx="301.43" cy="299.27" r="1.12" fill="#c8102e"/>
<circle cx="364.11" cy="298.25" r="1.12" fill="#c8102e"/>
<circle cx="346.90" cy="295.62" r="1.12" fill="#c8102e"/>
<circle cx="334.54" cy="295.27" r="1.12" fill="#c8102e"/>
<circle cx="333.49" cy="302.59" r="1.12" fill="#c8102e"/>
<circle cx="349.60" cy="300.57" r="1.12" fill="#c8102e"/>
<circle cx="289.73" cy="310.45" r="1.12" fill="#c8102e"/>
<circle cx="345.85" cy="293.13" r="1.12" fill="#c8102e"/>
<circle cx="304.22" cy="309.61" r="1.12" fill="#c8102e"/>
<circle cx="333.12" cy="299.16" r="1.12" fill="#c8102e"/>
<circle cx="353.67" cy="297.16" r="1.12" fill="#c8102e"/>
<circle cx="377.40" cy="302.10" r="1.12" fill="#c8102e"/>
<circle cx="384.82" cy="303.77" r="1.12" fill="#c8102e"/>
<circle cx="332.40" cy="297.67" r="1.12" fill="#c8102e"/>
<circle cx="332.34" cy="295.81" r="1.12" fill="#c8102e"/>
<circle cx="310.32" cy="300.74" r="1.12" fill="#c8102e"/>
<circle cx="317.48" cy="298.57" r="1.12" fill="#c8102e"/>
<circle cx="347.38" cy="290.47" r="1.12" fill="#c8102e"/>
<circle cx="360.51" cy="294.99" r="1.12" fill="#c8102e"/>
<circle cx="295.19" cy="307.86" r="1.12" fill="#c8102e"/>
<circle cx="316.57" cy="300.82" r="1.12" fill="#c8102e"/>
<circle cx="360.38" cy="299.24" r="1.12" fill="#c8102e"/>
<circle cx="312.71" cy="303.66" r="1.12" fill="#c8102e"/>
<circle cx="291.31" cy="307.67" r="1.12" fill="#c8102e"/>
<circle cx="333.33" cy="298.03" r="1.12" fill="#c8102e"/>
<circle cx="304.29" cy="298.78" r="1.12" fill="#c8102e"/>
<circle cx="317.48" cy="299.18" r="1.12" fill="#c8102e"/>
<circle cx="381.71" cy="301.47" r="1.12" fill="#c8102e"/>
<circle cx="341.22" cy="297.32" r="1.12" fill="#c8102e"/>
<circle cx="293.02" cy="306.72" r="1.12" fill="#c8102e"/>
<circle cx="293.47" cy="310.96" r="1.12" fill="#c8102e"/>
<circle cx="328.14" cy="296.39" r="1.12" fill="#c8102e"/>
<circle cx="357.44" cy="298.78" r="1.12" fill="#c8102e"/>
<circle cx="386.38" cy="302.72" r="1.12" fill="#c8102e"/>
<circle cx="302.92" cy="309.12" r="1.12" fill="#c8102e"/>
<circle cx="300.17" cy="299.80" r="1.12" fill="#c8102e"/>
<circle cx="348.47" cy="297.35" r="1.12" fill="#c8102e"/>
<circle cx="313.92" cy="293.13" r="1.12" fill="#c8102e"/>
<circle cx="344.62" cy="295.65" r="1.12" fill="#c8102e"/>
<circle cx="335.57" cy="299.59" r="1.12" fill="#c8102e"/>
<circle cx="346.27" cy="292.07" r="1.12" fill="#c8102e"/>
<circle cx="318.28" cy="295.90" r="1.12" fill="#c8102e"/>
<circle cx="359.19" cy="297.52" r="1.12" fill="#c8102e"/>
<circle cx="320.76" cy="300.26" r="1.12" fill="#c8102e"/>
<circle cx="308.25" cy="308.11" r="1.12" fill="#c8102e"/>
<circle cx="311.92" cy="298.18" r="1.12" fill="#c8102e"/>
<circle cx="313.14" cy="304.54" r="1.12" fill="#c8102e"/>
<circle cx="308.19" cy="298.49" r="1.12" fill="#c8102e"/>
<circle cx="343.07" cy="296.25" r="1.12" fill="#c8102e"/>
<circle cx="373.47" cy="302.52" r="1.12" fill="#c8102e"/>
<circle cx="331.48" cy="290.47" r="1.12" fill="#c8102e"/>
<circle cx="321.85" cy="296.16" r="1.12" fill="#c8102e"/>
<circle cx="370.64" cy="297.02" r="1.12" fill="#c8102e"/>
<circle cx="342.23" cy="290.47" r="1.12" fill="#c8102e"/>
<circle cx="335.06" cy="299.42" r="1.12" fill="#c8102e"/>
<circle cx="341.76" cy="295.79" r="1.12" fill="#c8102e"/>
<circle cx="310.48" cy="299.35" r="1.12" fill="#c8102e"/>
<circle cx="326.48" cy="301.58" r="1.12" fill="#c8102e"/>
<circle cx="289.81" cy="304.57" r="1.12" fill="#c8102e"/>
<circle cx="308.69" cy="300.03" r="1.12" fill="#c8102e"/>
<circle cx="370.92" cy="296.88" r="1.12" fill="#c8102e"/>
<circle cx="290.05" cy="309.46" r="1.12" fill="#c8102e"/>
<circle cx="299.03" cy="310.51" r="1.12" fill="#c8102e"/>
<circle cx="336.83" cy="298.35" r="1.12" fill="#c8102e"/>
<circle cx="293.06" cy="305.22" r="1.12" fill="#c8102e"/>
<circle cx="295.00" cy="301.15" r="1.12" fill="#c8102e"/>
<circle cx="288.88" cy="319.27" r="1.12" fill="#c8102e"/>
<circle cx="294.45" cy="310.46" r="1.12" fill="#c8102e"/>
<circle cx="309.13" cy="309.05" r="1.12" fill="#c8102e"/>
<circle cx="331.31" cy="297.24" r="1.12" fill="#c8102e"/>
<circle cx="301.23" cy="300.53" r="1.12" fill="#c8102e"/>
<circle cx="294.62" cy="314.35" r="1.12" fill="#c8102e"/>
<circle cx="347.44" cy="298.07" r="1.12" fill="#c8102e"/>
<circle cx="315.57" cy="302.42" r="1.12" fill="#c8102e"/>
<circle cx="317.78" cy="295.16" r="1.12" fill="#c8102e"/>
<circle cx="360.52" cy="297.72" r="1.12" fill="#c8102e"/>
<circle cx="311.55" cy="301.94" r="1.12" fill="#c8102e"/>
<circle cx="326.89" cy="292.85" r="1.12" fill="#c8102e"/>
<circle cx="376.29" cy="293.24" r="1.12" fill="#c8102e"/>
<circle cx="318.71" cy="300.64" r="1.12" fill="#c8102e"/>
<circle cx="375.97" cy="295.60" r="1.12" fill="#c8102e"/>
<circle cx="291.09" cy="318.79" r="1.12" fill="#c8102e"/>
<circle cx="332.73" cy="296.10" r="1.12" fill="#c8102e"/>
<circle cx="340.15" cy="294.50" r="1.12" fill="#c8102e"/>
<circle cx="334.32" cy="295.78" r="1.12" fill="#c8102e"/>
<circle cx="336.51" cy="294.56" r="1.12" fill="#c8102e"/>
<circle cx="372.55" cy="304.78" r="1.12" fill="#c8102e"/>
<circle cx="336.13" cy="299.56" r="1.12" fill="#c8102e"/>
<circle cx="355.40" cy="298.14" r="1.12" fill="#c8102e"/>
<circle cx="373.58" cy="300.27" r="1.12" fill="#c8102e"/>
<circle cx="375.17" cy="305.48" r="1.12" fill="#c8102e"/>
<circle cx="310.95" cy="302.35" r="1.12" fill="#c8102e"/>
<circle cx="366.43" cy="300.15" r="1.12" fill="#c8102e"/>
<circle cx="327.33" cy="300.33" r="1.12" fill="#c8102e"/>
<circle cx="316.26" cy="306.05" r="1.12" fill="#c8102e"/>
<circle cx="334.51" cy="295.29" r="1.12" fill="#c8102e"/>
<circle cx="360.48" cy="292.87" r="1.12" fill="#c8102e"/>
<circle cx="373.69" cy="302.70" r="1.12" fill="#c8102e"/>
<circle cx="310.70" cy="309.52" r="1.12" fill="#c8102e"/>
<circle cx="344.95" cy="296.95" r="1.12" fill="#c8102e"/>
<circle cx="324.38" cy="301.71" r="1.12" fill="#c8102e"/>
<circle cx="288.79" cy="316.22" r="1.12" fill="#c8102e"/>
<circle cx="385.23" cy="290.47" r="1.12" fill="#c8102e"/>
<circle cx="319.72" cy="295.76" r="1.12" fill="#c8102e"/>
<circle cx="377.69" cy="300.27" r="1.12" fill="#c8102e"/>
<circle cx="372.01" cy="297.03" r="1.12" fill="#c8102e"/>
<circle cx="301.01" cy="303.85" r="1.12" fill="#c8102e"/>
<circle cx="370.03" cy="300.95" r="1.12" fill="#c8102e"/>
<circle cx="323.24" cy="298.22" r="1.12" fill="#c8102e"/>
<circle cx="352.73" cy="300.73" r="1.12" fill="#c8102e"/>
<circle cx="369.06" cy="302.02" r="1.12" fill="#c8102e"/>
<circle cx="317.17" cy="297.83" r="1.12" fill="#c8102e"/>
<circle cx="313.52" cy="306.43" r="1.12" fill="#c8102e"/>
<circle cx="293.14" cy="304.66" r="1.12" fill="#c8102e"/>
<circle cx="363.80" cy="296.50" r="1.12" fill="#c8102e"/>
<circle cx="292.92" cy="303.69" r="1.12" fill="#c8102e"/>
<circle cx="364.25" cy="296.09" r="1.12" fill="#c8102e"/>
<circle cx="355.53" cy="295.88" r="1.12" fill="#c8102e"/>
<circle cx="347.01" cy="290.47" r="1.12" fill="#c8102e"/>
<circle cx="328.64" cy="298.15" r="1.12" fill="#c8102e"/>
<circle cx="380.89" cy="300.69" r="1.12" fill="#c8102e"/>
<circle cx="311.80" cy="308.17" r="1.12" fill="#c8102e"/>
<circle cx="291.78" cy="308.53" r="1.12" fill="#c8102e"/>
<circle cx="296.18" cy="306.74" r="1.12" fill="#c8102e"/>
<circle cx="314.88" cy="294.83" r="1.12" fill="#c8102e"/>
<circle cx="299.89" cy="310.03" r="1.12" fill="#c8102e"/>
<circle cx="318.91" cy="303.68" r="1.12" fill="#c8102e"/>
<circle cx="307.87" cy="305.20" r="1.12" fill="#c8102e"/>
<polyline points="288.50,310.38 289.74,309.69 290.98,309.02 292.22,308.36 293.46,307.73 294.70,307.12 295.94,306.52 297.18,305.94 298.42,305.38 299.66,304.84 300.90,304.32 302.14,303.82 303.38,303.33 304.62,302.86 305.86,302.42 307.10,301.99 308.34,301.58 309.58,301.18 310.82,300.81 312.06,300.45 313.31,300.11 314.55,299.79 315.79,299.49 317.03,299.21 318.27,298.95 319.51,298.70 320.75,298.48 321.99,298.27 323.23,298.08 324.47,297.91 325.71,297.75 326.95,297.62 328.19,297.50 329.43,297.41 330.67,297.33 331.91,297.27 333.15,297.22 334.39,297.20 335.63,297.20 336.87,297.21 338.11,297.24 339.35,297.27 340.59,297.31 341.83,297.35 343.07,297.40 344.31,297.45 345.55,297.51 346.79,297.56 348.03,297.63 349.27,297.69 350.51,297.76 351.75,297.83 352.99,297.90 354.23,297.98 355.47,298.06 356.71,298.14 357.95,298.22 359.19,298.31 360.43,298.40 361.67,298.49 362.92,298.58 364.16,298.67 365.40,298.77 366.64,298.87 367.88,298.97 369.12,299.07 370.36,299.17 371.60,299.28 372.84,299.39 374.08,299.50 375.32,299.61 376.56,299.72 377.80,299.84 379.04,299.96 380.28,300.07 381.52,300.19 382.76,300.32 384.00,300.44 385.24,300.56 386.48,300.69" fill="none" stroke="#b0122b" stroke-width="1.1"/>
<line x1="284.40" y1="290.20" x2="284.40" y2="320.95" stroke="#111" stroke-width="1.1"/>
<line x1="283.85" y1="320.40" x2="389.40" y2="320.40" stroke="#111" stroke-width="1.1"/>
<line x1="281.10" y1="292.89" x2="284.40" y2="292.89" stroke="#111" stroke-width="1.0"/>
<line x1="281.10" y1="298.27" x2="284.40" y2="298.27" stroke="#111" stroke-width="1.0"/>
<text x="279.20" y="301.22" font-size="8.2" text-anchor="end" fill="#111" stroke="#111" stroke-width="0.12" textLength="4.01" lengthAdjust="spacingAndGlyphs">2</text>
<line x1="281.10" y1="303.65" x2="284.40" y2="303.65" stroke="#111" stroke-width="1.0"/>
<line x1="281.10" y1="309.03" x2="284.40" y2="309.03" stroke="#111" stroke-width="1.0"/>
<text x="279.20" y="311.98" font-size="8.2" text-anchor="end" fill="#111" stroke="#111" stroke-width="0.12" textLength="6.42" lengthAdjust="spacingAndGlyphs">-2</text>
<line x1="281.10" y1="314.41" x2="284.40" y2="314.41" stroke="#111" stroke-width="1.0"/>
<line x1="281.10" y1="319.79" x2="284.40" y2="319.79" stroke="#111" stroke-width="1.0"/>
<text x="279.20" y="322.74" font-size="8.2" text-anchor="end" fill="#111" stroke="#111" stroke-width="0.12" textLength="6.42" lengthAdjust="spacingAndGlyphs">-6</text>
<line x1="288.50" y1="320.40" x2="288.50" y2="323.70" stroke="#111" stroke-width="1.0"/>
<text x="288.50" y="332.90" font-size="8.0" text-anchor="middle" fill="#111" stroke="#111" stroke-width="0.12">0</text>
<line x1="309.80" y1="320.40" x2="309.80" y2="323.70" stroke="#111" stroke-width="1.0"/>
<text x="309.80" y="332.90" font-size="8.0" text-anchor="middle" fill="#111" stroke="#111" stroke-width="0.12">10</text>
<line x1="331.10" y1="320.40" x2="331.10" y2="323.70" stroke="#111" stroke-width="1.0"/>
<text x="331.10" y="332.90" font-size="8.0" text-anchor="middle" fill="#111" stroke="#111" stroke-width="0.12">20</text>
<line x1="352.40" y1="320.40" x2="352.40" y2="323.70" stroke="#111" stroke-width="1.0"/>
<text x="352.40" y="332.90" font-size="8.0" text-anchor="middle" fill="#111" stroke="#111" stroke-width="0.12">30</text>
<line x1="373.70" y1="320.40" x2="373.70" y2="323.70" stroke="#111" stroke-width="1.0"/>
<text x="373.70" y="332.90" font-size="8.0" text-anchor="middle" fill="#111" stroke="#111" stroke-width="0.12">40</text>
<text x="336.70" y="283.80" font-size="8.4" text-anchor="middle" fill="#111" stroke="#111" stroke-width="0.12" textLength="70.60" lengthAdjust="spacingAndGlyphs">Phox2b, Lineage 1</text>
<polygon points="412.30,307.95 413.52,307.63 414.74,307.30 415.96,306.97 417.18,306.65 418.40,306.32 419.62,305.99 420.84,305.66 422.06,305.34 423.28,305.01 424.50,304.68 425.72,304.36 426.94,304.03 428.16,303.70 429.37,303.38 430.59,303.05 431.81,302.72 433.03,302.39 434.25,302.07 435.47,301.74 436.69,301.41 437.91,301.09 439.13,300.76 440.35,300.43 441.57,300.11 442.79,299.78 444.01,299.45 445.23,299.12 446.45,298.80 447.67,298.47 448.89,298.14 450.11,297.82 451.33,297.49 452.55,297.16 453.77,296.83 454.99,296.51 456.21,296.18 457.43,295.85 458.65,295.53 459.87,295.49 461.08,296.00 462.30,296.51 463.52,297.02 464.74,297.53 465.96,298.04 467.18,298.55 468.40,299.07 469.62,299.58 470.84,300.09 472.06,300.60 473.28,301.11 474.50,301.62 475.72,302.14 476.94,302.65 478.16,303.16 479.38,303.67 480.60,304.18 481.82,304.69 483.04,305.21 484.26,305.72 485.48,306.23 486.70,306.74 487.92,307.25 489.14,307.76 490.36,308.28 491.58,308.79 492.79,309.30 494.01,309.81 495.23,310.32 496.45,310.83 497.67,311.35 498.89,311.86 500.11,312.37 501.33,312.88 502.55,313.39 503.77,313.90 504.99,314.41 506.21,314.93 507.43,315.44 508.65,315.49 508.65,321.94 507.43,321.81 506.21,321.22 504.99,320.63 503.77,320.04 502.55,319.45 501.33,318.86 500.11,318.26 498.89,317.67 497.67,317.08 496.45,316.49 495.23,315.90 494.01,315.31 492.79,314.71 491.58,314.12 490.36,313.53 489.14,312.94 487.92,312.35 486.70,311.76 485.48,311.16 484.26,310.57 483.04,309.98 481.82,309.39 480.60,308.80 479.38,308.21 478.16,307.61 476.94,307.02 475.72,306.43 474.50,305.84 473.28,305.25 472.06,304.66 470.84,304.07 469.62,303.47 468.40,302.88 467.18,302.29 465.96,301.70 464.74,301.11 463.52,300.52 462.30,299.92 461.08,299.33 459.87,298.74 458.65,298.75 457.43,299.08 456.21,299.41 454.99,299.74 453.77,300.06 452.55,300.39 451.33,300.72 450.11,301.04 448.89,301.37 447.67,301.70 446.45,302.03 445.23,302.35 444.01,302.68 442.79,303.01 441.57,303.33 440.35,303.66 439.13,303.99 437.91,304.31 436.69,304.64 435.47,304.97 434.25,305.30 433.03,305.62 431.81,305.95 430.59,306.28 429.37,306.60 428.16,306.93 426.94,307.26 425.72,307.58 424.50,307.91 423.28,308.24 422.06,308.57 420.84,308.89 419.62,309.22 418.40,309.55 417.18,309.87 415.96,310.20 414.74,310.53 413.52,310.85 412.30,311.18" fill="#f2b8c2" fill-opacity="0.85"/>
<polyline points="412.30,310.46 413.52,310.13 414.74,309.80 415.96,309.47 417.18,309.15 418.40,308.82 419.62,308.49 420.84,308.17 422.06,307.84 423.28,307.51 424.50,307.19 425.72,306.86 426.94,306.53 428.16,306.20 429.37,305.88 430.59,305.55 431.81,305.22 433.03,304.90 434.25,304.57 435.47,304.24 436.69,303.92 437.91,303.59 439.13,303.26 440.35,302.93 441.57,302.61 442.79,302.28 444.01,301.95 445.23,301.63 446.45,301.30 447.67,300.97 448.89,300.64 450.11,300.32 451.33,299.99 452.55,299.66 453.77,299.34 454.99,299.01 456.21,298.68 457.43,298.36 458.65,298.03 459.87,298.01 461.08,298.58 462.30,299.16 463.52,299.73 464.74,300.30 465.96,300.88 467.18,301.45 468.40,302.02 469.62,302.60 470.84,303.17 472.06,303.74 473.28,304.32 474.50,304.89 475.72,305.47 476.94,306.04 478.16,306.61 479.38,307.19 480.60,307.76 481.82,308.33 483.04,308.91 484.26,309.48 485.48,310.05 486.70,310.63 487.92,311.20 489.14,311.77 490.36,312.35 491.58,312.92 492.79,313.50 494.01,314.07 495.23,314.64 496.45,315.22 497.67,315.79 498.89,316.36 500.11,316.94 501.33,317.51 502.55,318.08 503.77,318.66 504.99,319.23 506.21,319.81 507.43,320.38 508.65,320.49" fill="none" stroke="#e58e9c" stroke-width="0.45"/>
<polyline points="412.30,308.68 413.52,308.35 414.74,308.03 415.96,307.70 417.18,307.37 418.40,307.05 419.62,306.72 420.84,306.39 422.06,306.06 423.28,305.74 424.50,305.41 425.72,305.08 426.94,304.76 428.16,304.43 429.37,304.10 430.59,303.77 431.81,303.45 433.03,303.12 434.25,302.79 435.47,302.47 436.69,302.14 437.91,301.81 439.13,301.49 440.35,301.16 441.57,300.83 442.79,300.50 444.01,300.18 445.23,299.85 446.45,299.52 447.67,299.20 448.89,298.87 450.11,298.54 451.33,298.22 452.55,297.89 453.77,297.56 454.99,297.23 456.21,296.91 457.43,296.58 458.65,296.25 459.87,296.22 461.08,296.75 462.30,297.28 463.52,297.81 464.74,298.34 465.96,298.87 467.18,299.40 468.40,299.92 469.62,300.45 470.84,300.98 472.06,301.51 473.28,302.04 474.50,302.57 475.72,303.10 476.94,303.63 478.16,304.16 479.38,304.69 480.60,305.22 481.82,305.75 483.04,306.28 484.26,306.81 485.48,307.34 486.70,307.87 487.92,308.40 489.14,308.93 490.36,309.46 491.58,309.99 492.79,310.52 494.01,311.05 495.23,311.58 496.45,312.11 497.67,312.64 498.89,313.17 500.11,313.69 501.33,314.22 502.55,314.75 503.77,315.28 504.99,315.81 506.21,316.34 507.43,316.87 508.65,316.94" fill="none" stroke="#e58e9c" stroke-width="0.45"/>
<circle cx="429.08" cy="309.17" r="1.12" fill="#c8102e"/>
<circle cx="440.41" cy="298.18" r="1.12" fill="#c8102e"/>
<circle cx="443.19" cy="301.57" r="1.12" fill="#c8102e"/>
<circle cx="431.46" cy="301.85" r="1.12" fill="#c8102e"/>
<circle cx="445.63" cy="297.58" r="1.12" fill="#c8102e"/>
<circle cx="425.86" cy="306.48" r="1.12" fill="#c8102e"/>
<circle cx="427.96" cy="303.72" r="1.12" fill="#c8102e"/>
<circle cx="426.46" cy="295.65" r="1.12" fill="#c8102e"/>
<circle cx="451.79" cy="298.37" r="1.12" fill="#c8102e"/>
<circle cx="458.20" cy="298.51" r="1.12" fill="#c8102e"/>
<circle cx="426.26" cy="300.73" r="1.12" fill="#c8102e"/>
<circle cx="441.64" cy="300.05" r="1.12" fill="#c8102e"/>
<circle cx="434.21" cy="293.79" r="1.12" fill="#c8102e"/>
<circle cx="439.52" cy="301.72" r="1.12" fill="#c8102e"/>
<circle cx="458.94" cy="300.87" r="1.12" fill="#c8102e"/>
<circle cx="424.30" cy="302.78" r="1.12" fill="#c8102e"/>
<circle cx="412.58" cy="314.15" r="1.12" fill="#c8102e"/>
<circle cx="414.15" cy="314.48" r="1.12" fill="#c8102e"/>
<circle cx="439.70" cy="302.27" r="1.12" fill="#c8102e"/>
<circle cx="454.97" cy="303.46" r="1.12" fill="#c8102e"/>
<circle cx="425.99" cy="304.68" r="1.12" fill="#c8102e"/>
<circle cx="429.31" cy="302.90" r="1.12" fill="#c8102e"/>
<circle cx="424.73" cy="310.50" r="1.12" fill="#c8102e"/>
<circle cx="443.42" cy="304.75" r="1.12" fill="#c8102e"/>
<circle cx="420.16" cy="308.08" r="1.12" fill="#c8102e"/>
<circle cx="428.52" cy="305.40" r="1.12" fill="#c8102e"/>
<circle cx="427.43" cy="302.02" r="1.12" fill="#c8102e"/>
<circle cx="454.88" cy="297.02" r="1.12" fill="#c8102e"/>
<circle cx="432.09" cy="305.48" r="1.12" fill="#c8102e"/>
<circle cx="452.72" cy="299.14" r="1.12" fill="#c8102e"/>
<circle cx="428.49" cy="308.03" r="1.12" fill="#c8102e"/>
<circle cx="441.99" cy="304.66" r="1.12" fill="#c8102e"/>
<circle cx="457.88" cy="290.47" r="1.12" fill="#c8102e"/>
<circle cx="445.65" cy="300.81" r="1.12" fill="#c8102e"/>
<circle cx="437.98" cy="304.17" r="1.12" fill="#c8102e"/>
<circle cx="440.59" cy="303.74" r="1.12" fill="#c8102e"/>
<circle cx="435.94" cy="311.34" r="1.12" fill="#c8102e"/>
<circle cx="429.18" cy="307.75" r="1.12" fill="#c8102e"/>
<circle cx="433.85" cy="308.30" r="1.12" fill="#c8102e"/>
<circle cx="430.03" cy="301.82" r="1.12" fill="#c8102e"/>
<circle cx="446.67" cy="300.58" r="1.12" fill="#c8102e"/>
<circle cx="457.94" cy="298.10" r="1.12" fill="#c8102e"/>
<circle cx="443.14" cy="303.17" r="1.12" fill="#c8102e"/>
<circle cx="437.89" cy="307.78" r="1.12" fill="#c8102e"/>
<circle cx="439.64" cy="304.78" r="1.12" fill="#c8102e"/>
<circle cx="453.59" cy="298.74" r="1.12" fill="#c8102e"/>
<circle cx="428.34" cy="314.06" r="1.12" fill="#c8102e"/>
<circle cx="448.14" cy="303.43" r="1.12" fill="#c8102e"/>
<circle cx="455.69" cy="296.52" r="1.12" fill="#c8102e"/>
<circle cx="435.51" cy="303.84" r="1.12" fill="#c8102e"/>
<circle cx="435.61" cy="298.07" r="1.12" fill="#c8102e"/>
<circle cx="427.45" cy="311.09" r="1.12" fill="#c8102e"/>
<circle cx="429.75" cy="308.41" r="1.12" fill="#c8102e"/>
<circle cx="455.02" cy="302.98" r="1.12" fill="#c8102e"/>
<circle cx="459.56" cy="291.25" r="1.12" fill="#c8102e"/>
<circle cx="416.64" cy="311.88" r="1.12" fill="#c8102e"/>
<circle cx="448.22" cy="297.52" r="1.12" fill="#c8102e"/>
<circle cx="417.89" cy="319.90" r="1.12" fill="#c8102e"/>
<circle cx="423.71" cy="308.67" r="1.12" fill="#c8102e"/>
<circle cx="452.66" cy="296.41" r="1.12" fill="#c8102e"/>
<circle cx="450.17" cy="299.32" r="1.12" fill="#c8102e"/>
<circle cx="429.42" cy="304.76" r="1.12" fill="#c8102e"/>
<circle cx="449.77" cy="301.30" r="1.12" fill="#c8102e"/>
<circle cx="418.13" cy="313.00" r="1.12" fill="#c8102e"/>
<circle cx="425.64" cy="319.90" r="1.12" fill="#c8102e"/>
<circle cx="425.48" cy="311.61" r="1.12" fill="#c8102e"/>
<circle cx="429.16" cy="296.84" r="1.12" fill="#c8102e"/>
<circle cx="433.40" cy="310.41" r="1.12" fill="#c8102e"/>
<circle cx="431.81" cy="304.38" r="1.12" fill="#c8102e"/>
<circle cx="444.81" cy="301.80" r="1.12" fill="#c8102e"/>
<circle cx="447.80" cy="300.77" r="1.12" fill="#c8102e"/>
<circle cx="416.43" cy="307.58" r="1.12" fill="#c8102e"/>
<circle cx="441.91" cy="314.44" r="1.12" fill="#c8102e"/>
<circle cx="420.38" cy="311.48" r="1.12" fill="#c8102e"/>
<circle cx="457.83" cy="299.51" r="1.12" fill="#c8102e"/>
<circle cx="430.24" cy="306.96" r="1.12" fill="#c8102e"/>
<circle cx="421.19" cy="304.36" r="1.12" fill="#c8102e"/>
<circle cx="426.04" cy="296.82" r="1.12" fill="#c8102e"/>
<circle cx="425.03" cy="311.21" r="1.12" fill="#c8102e"/>
<circle cx="420.30" cy="309.49" r="1.12" fill="#c8102e"/>
<circle cx="451.34" cy="305.66" r="1.12" fill="#c8102e"/>
<circle cx="423.65" cy="310.33" r="1.12" fill="#c8102e"/>
<circle cx="452.19" cy="296.59" r="1.12" fill="#c8102e"/>
<circle cx="431.12" cy="313.49" r="1.12" fill="#c8102e"/>
<circle cx="458.37" cy="295.87" r="1.12" fill="#c8102e"/>
<circle cx="425.19" cy="307.19" r="1.12" fill="#c8102e"/>
<circle cx="437.63" cy="303.82" r="1.12" fill="#c8102e"/>
<circle cx="415.58" cy="304.64" r="1.12" fill="#c8102e"/>
<circle cx="424.49" cy="297.03" r="1.12" fill="#c8102e"/>
<circle cx="443.40" cy="296.42" r="1.12" fill="#c8102e"/>
<circle cx="427.78" cy="313.79" r="1.12" fill="#c8102e"/>
<circle cx="414.61" cy="315.59" r="1.12" fill="#c8102e"/>
<circle cx="419.10" cy="310.75" r="1.12" fill="#c8102e"/>
<circle cx="414.07" cy="315.69" r="1.12" fill="#c8102e"/>
<circle cx="418.81" cy="303.83" r="1.12" fill="#c8102e"/>
<circle cx="421.88" cy="314.34" r="1.12" fill="#c8102e"/>
<circle cx="452.36" cy="296.66" r="1.12" fill="#c8102e"/>
<circle cx="427.28" cy="311.28" r="1.12" fill="#c8102e"/>
<circle cx="456.03" cy="295.90" r="1.12" fill="#c8102e"/>
<circle cx="419.02" cy="308.58" r="1.12" fill="#c8102e"/>
<circle cx="506.78" cy="318.81" r="1.12" fill="#c8102e"/>
<circle cx="509.74" cy="319.90" r="1.12" fill="#c8102e"/>
<circle cx="508.73" cy="318.83" r="1.12" fill="#c8102e"/>
<circle cx="502.34" cy="318.88" r="1.12" fill="#c8102e"/>
<circle cx="498.70" cy="319.11" r="1.12" fill="#c8102e"/>
<circle cx="505.60" cy="318.66" r="1.12" fill="#c8102e"/>
<circle cx="502.68" cy="318.52" r="1.12" fill="#c8102e"/>
<circle cx="501.33" cy="318.67" r="1.12" fill="#c8102e"/>
<circle cx="499.53" cy="316.94" r="1.12" fill="#c8102e"/>
<circle cx="496.59" cy="319.09" r="1.12" fill="#c8102e"/>
<circle cx="501.65" cy="317.63" r="1.12" fill="#c8102e"/>
<circle cx="502.92" cy="319.19" r="1.12" fill="#c8102e"/>
<circle cx="499.15" cy="318.37" r="1.12" fill="#c8102e"/>
<circle cx="505.11" cy="319.90" r="1.12" fill="#c8102e"/>
<circle cx="508.18" cy="318.33" r="1.12" fill="#c8102e"/>
<circle cx="505.71" cy="318.70" r="1.12" fill="#c8102e"/>
<circle cx="501.45" cy="319.11" r="1.12" fill="#c8102e"/>
<circle cx="502.35" cy="318.64" r="1.12" fill="#c8102e"/>
<circle cx="500.30" cy="316.52" r="1.12" fill="#c8102e"/>
<circle cx="500.60" cy="318.61" r="1.12" fill="#c8102e"/>
<circle cx="505.43" cy="316.18" r="1.12" fill="#c8102e"/>
<circle cx="500.19" cy="318.08" r="1.12" fill="#c8102e"/>
<circle cx="504.43" cy="319.40" r="1.12" fill="#c8102e"/>
<circle cx="498.76" cy="319.34" r="1.12" fill="#c8102e"/>
<circle cx="500.27" cy="314.93" r="1.12" fill="#c8102e"/>
<circle cx="500.42" cy="318.00" r="1.12" fill="#c8102e"/>
<polyline points="412.30,309.57 413.52,309.24 414.74,308.91 415.96,308.59 417.18,308.26 418.40,307.93 419.62,307.61 420.84,307.28 422.06,306.95 423.28,306.62 424.50,306.30 425.72,305.97 426.94,305.64 428.16,305.32 429.37,304.99 430.59,304.66 431.81,304.34 433.03,304.01 434.25,303.68 435.47,303.35 436.69,303.03 437.91,302.70 439.13,302.37 440.35,302.05 441.57,301.72 442.79,301.39 444.01,301.07 445.23,300.74 446.45,300.41 447.67,300.08 448.89,299.76 450.11,299.43 451.33,299.10 452.55,298.78 453.77,298.45 454.99,298.12 456.21,297.79 457.43,297.47 458.65,297.14 459.87,297.11 461.08,297.66 462.30,298.22 463.52,298.77 464.74,299.32 465.96,299.87 467.18,300.42 468.40,300.97 469.62,301.53 470.84,302.08 472.06,302.63 473.28,303.18 474.50,303.73 475.72,304.28 476.94,304.84 478.16,305.39 479.38,305.94 480.60,306.49 481.82,307.04 483.04,307.59 484.26,308.15 485.48,308.70 486.70,309.25 487.92,309.80 489.14,310.35 490.36,310.90 491.58,311.45 492.79,312.01 494.01,312.56 495.23,313.11 496.45,313.66 497.67,314.21 498.89,314.76 500.11,315.32 501.33,315.87 502.55,316.42 503.77,316.97 504.99,317.52 506.21,318.07 507.43,318.63 508.65,318.71" fill="none" stroke="#b0122b" stroke-width="1.1"/>
<line x1="408.30" y1="290.20" x2="408.30" y2="320.85" stroke="#111" stroke-width="1.1"/>
<line x1="407.75" y1="320.30" x2="512.50" y2="320.30" stroke="#111" stroke-width="1.1"/>
<line x1="405.00" y1="292.89" x2="408.30" y2="292.89" stroke="#111" stroke-width="1.0"/>
<line x1="405.00" y1="298.27" x2="408.30" y2="298.27" stroke="#111" stroke-width="1.0"/>
<text x="403.10" y="301.22" font-size="8.2" text-anchor="end" fill="#111" stroke="#111" stroke-width="0.12" textLength="4.01" lengthAdjust="spacingAndGlyphs">2</text>
<line x1="405.00" y1="303.65" x2="408.30" y2="303.65" stroke="#111" stroke-width="1.0"/>
<line x1="405.00" y1="309.03" x2="408.30" y2="309.03" stroke="#111" stroke-width="1.0"/>
<text x="403.10" y="311.98" font-size="8.2" text-anchor="end" fill="#111" stroke="#111" stroke-width="0.12" textLength="6.42" lengthAdjust="spacingAndGlyphs">-2</text>
<line x1="405.00" y1="314.41" x2="408.30" y2="314.41" stroke="#111" stroke-width="1.0"/>
<line x1="405.00" y1="319.79" x2="408.30" y2="319.79" stroke="#111" stroke-width="1.0"/>
<text x="403.10" y="322.74" font-size="8.2" text-anchor="end" fill="#111" stroke="#111" stroke-width="0.12" textLength="6.42" lengthAdjust="spacingAndGlyphs">-6</text>
<line x1="412.30" y1="320.30" x2="412.30" y2="323.60" stroke="#111" stroke-width="1.0"/>
<text x="412.30" y="332.80" font-size="8.0" text-anchor="middle" fill="#111" stroke="#111" stroke-width="0.12">0</text>
<line x1="432.80" y1="320.30" x2="432.80" y2="323.60" stroke="#111" stroke-width="1.0"/>
<text x="432.80" y="332.80" font-size="8.0" text-anchor="middle" fill="#111" stroke="#111" stroke-width="0.12">10</text>
<line x1="453.30" y1="320.30" x2="453.30" y2="323.60" stroke="#111" stroke-width="1.0"/>
<text x="453.30" y="332.80" font-size="8.0" text-anchor="middle" fill="#111" stroke="#111" stroke-width="0.12">20</text>
<line x1="473.80" y1="320.30" x2="473.80" y2="323.60" stroke="#111" stroke-width="1.0"/>
<text x="473.80" y="332.80" font-size="8.0" text-anchor="middle" fill="#111" stroke="#111" stroke-width="0.12">30</text>
<line x1="494.30" y1="320.30" x2="494.30" y2="323.60" stroke="#111" stroke-width="1.0"/>
<text x="494.30" y="332.80" font-size="8.0" text-anchor="middle" fill="#111" stroke="#111" stroke-width="0.12">40</text>
<text x="460.50" y="283.80" font-size="8.4" text-anchor="middle" fill="#111" stroke="#111" stroke-width="0.12" textLength="70.60" lengthAdjust="spacingAndGlyphs">Phox2b, Lineage 2</text>
<polygon points="35.60,406.17 36.87,405.58 38.13,405.03 39.40,404.50 40.67,404.02 41.93,403.56 43.20,403.13 44.47,402.72 45.73,402.34 47.00,401.99 48.26,401.65 49.53,401.33 50.80,401.04 52.06,400.76 53.33,400.49 54.60,400.24 55.86,400.00 57.13,399.78 58.40,399.57 59.66,399.36 60.93,399.17 62.20,398.98 63.46,398.80 64.73,398.63 65.99,398.47 67.26,398.31 68.53,398.16 69.79,398.01 71.06,397.87 72.33,397.73 73.59,397.60 74.86,397.47 76.13,397.34 77.39,397.22 78.66,397.11 79.93,396.99 81.19,396.89 82.46,396.79 83.73,396.69 84.99,396.61 86.26,396.52 87.52,396.45 88.79,396.39 90.06,396.33 91.32,396.28 92.59,396.25 93.86,396.22 95.12,396.21 96.39,396.21 97.66,396.23 98.92,396.27 100.19,396.32 101.46,396.39 102.72,396.48 103.99,396.60 105.26,396.74 106.52,396.90 107.79,397.09 109.05,397.32 110.32,397.57 111.59,397.85 112.85,398.18 114.12,398.53 115.39,398.93 116.65,399.37 117.92,399.86 119.19,400.39 120.45,400.97 121.72,401.60 122.99,402.29 124.25,403.03 125.52,403.84 126.78,404.71 128.05,405.64 129.32,406.64 130.58,407.72 131.85,408.87 133.12,410.09 134.38,411.40 135.65,412.80 135.65,415.26 134.38,413.86 133.12,412.55 131.85,411.33 130.58,410.18 129.32,409.10 128.05,408.10 126.78,407.17 125.52,406.30 124.25,405.49 122.99,404.75 121.72,404.06 120.45,403.43 119.19,402.85 117.92,402.32 116.65,401.83 115.39,401.39 114.12,400.99 112.85,400.64 111.59,400.31 110.32,400.03 109.05,399.78 107.79,399.55 106.52,399.36 105.26,399.20 103.99,399.06 102.72,398.94 101.46,398.85 100.19,398.78 98.92,398.73 97.66,398.69 96.39,398.67 95.12,398.67 93.86,398.68 92.59,398.71 91.32,398.74 90.06,398.79 88.79,398.85 87.52,398.91 86.26,398.98 84.99,399.07 83.73,399.15 82.46,399.25 81.19,399.35 79.93,399.45 78.66,399.57 77.39,399.68 76.13,399.80 74.86,399.93 73.59,400.06 72.33,400.19 71.06,400.33 69.79,400.47 68.53,400.62 67.26,400.77 65.99,400.93 64.73,401.09 63.46,401.26 62.20,401.44 60.93,401.63 59.66,401.82 58.40,402.03 57.13,402.24 55.86,402.46 54.60,402.70 53.33,402.95 52.06,403.22 50.80,403.50 49.53,403.79 48.26,404.11 47.00,404.45 45.73,404.80 44.47,405.18 43.20,405.59 41.93,406.02 40.67,406.48 39.40,406.96 38.13,407.49 36.87,408.04 35.60,408.63" fill="#f2b8c2" fill-opacity="0.85"/>
<polyline points="35.60,408.08 36.87,407.49 38.13,406.93 39.40,406.41 40.67,405.92 41.93,405.46 43.20,405.03 44.47,404.63 45.73,404.25 47.00,403.89 48.26,403.56 49.53,403.24 50.80,402.94 52.06,402.66 53.33,402.40 54.60,402.15 55.86,401.91 57.13,401.69 58.40,401.47 59.66,401.27 60.93,401.07 62.20,400.89 63.46,400.71 64.73,400.54 65.99,400.38 67.26,400.22 68.53,400.06 69.79,399.92 71.06,399.77 72.33,399.64 73.59,399.50 74.86,399.37 76.13,399.25 77.39,399.13 78.66,399.01 79.93,398.90 81.19,398.80 82.46,398.70 83.73,398.60 84.99,398.51 86.26,398.43 87.52,398.36 88.79,398.29 90.06,398.24 91.32,398.19 92.59,398.15 93.86,398.13 95.12,398.12 96.39,398.12 97.66,398.14 98.92,398.17 100.19,398.23 101.46,398.30 102.72,398.39 103.99,398.51 105.26,398.64 106.52,398.81 107.79,399.00 109.05,399.22 110.32,399.47 111.59,399.76 112.85,400.08 114.12,400.44 115.39,400.84 116.65,401.28 117.92,401.76 119.19,402.30 120.45,402.88 121.72,403.51 122.99,404.20 124.25,404.94 125.52,405.75 126.78,406.61 128.05,407.55 129.32,408.55 130.58,409.62 131.85,410.77 133.12,412.00 134.38,413.31 135.65,414.70" fill="none" stroke="#e58e9c" stroke-width="0.45"/>
<polyline points="35.60,406.72 36.87,406.13 38.13,405.58 39.40,405.06 40.67,404.57 41.93,404.11 43.20,403.68 44.47,403.28 45.73,402.90 47.00,402.54 48.26,402.20 49.53,401.89 50.80,401.59 52.06,401.31 53.33,401.05 54.60,400.80 55.86,400.56 57.13,400.33 58.40,400.12 59.66,399.92 60.93,399.72 62.20,399.54 63.46,399.36 64.73,399.19 65.99,399.02 67.26,398.86 68.53,398.71 69.79,398.56 71.06,398.42 72.33,398.28 73.59,398.15 74.86,398.02 76.13,397.90 77.39,397.77 78.66,397.66 79.93,397.55 81.19,397.44 82.46,397.34 83.73,397.25 84.99,397.16 86.26,397.08 87.52,397.00 88.79,396.94 90.06,396.88 91.32,396.84 92.59,396.80 93.86,396.78 95.12,396.77 96.39,396.77 97.66,396.79 98.92,396.82 100.19,396.87 101.46,396.95 102.72,397.04 103.99,397.15 105.26,397.29 106.52,397.46 107.79,397.65 109.05,397.87 110.32,398.12 111.59,398.41 112.85,398.73 114.12,399.09 115.39,399.49 116.65,399.93 117.92,400.41 119.19,400.94 120.45,401.52 121.72,402.16 122.99,402.84 124.25,403.59 125.52,404.39 126.78,405.26 128.05,406.19 129.32,407.20 130.58,408.27 131.85,409.42 133.12,410.65 134.38,411.96 135.65,413.35" fill="none" stroke="#e58e9c" stroke-width="0.45"/>
<circle cx="72.71" cy="405.03" r="1.12" fill="#c8102e"/>
<circle cx="61.78" cy="401.92" r="1.12" fill="#c8102e"/>
<circle cx="107.87" cy="403.14" r="1.12" fill="#c8102e"/>
<circle cx="51.51" cy="397.59" r="1.12" fill="#c8102e"/>
<circle cx="81.14" cy="396.49" r="1.12" fill="#c8102e"/>
<circle cx="123.31" cy="406.38" r="1.12" fill="#c8102e"/>
<circle cx="116.10" cy="394.04" r="1.12" fill="#c8102e"/>
<circle cx="42.75" cy="401.34" r="1.12" fill="#c8102e"/>
<circle cx="101.82" cy="392.11" r="1.12" fill="#c8102e"/>
<circle cx="102.66" cy="393.42" r="1.12" fill="#c8102e"/>
<circle cx="52.52" cy="409.30" r="1.12" fill="#c8102e"/>
<circle cx="52.50" cy="399.73" r="1.12" fill="#c8102e"/>
<circle cx="42.46" cy="405.73" r="1.12" fill="#c8102e"/>
<circle cx="113.02" cy="406.94" r="1.12" fill="#c8102e"/>
<circle cx="87.63" cy="396.59" r="1.12" fill="#c8102e"/>
<circle cx="41.61" cy="400.39" r="1.12" fill="#c8102e"/>
<circle cx="89.94" cy="398.54" r="1.12" fill="#c8102e"/>
<circle cx="133.51" cy="419.54" r="1.12" fill="#c8102e"/>
<circle cx="66.37" cy="400.83" r="1.12" fill="#c8102e"/>
<circle cx="99.68" cy="399.00" r="1.12" fill="#c8102e"/>
<circle cx="127.05" cy="406.69" r="1.12" fill="#c8102e"/>
<circle cx="55.23" cy="399.42" r="1.12" fill="#c8102e"/>
<circle cx="111.40" cy="401.26" r="1.12" fill="#c8102e"/>
<circle cx="119.92" cy="403.06" r="1.12" fill="#c8102e"/>
<circle cx="64.83" cy="399.44" r="1.12" fill="#c8102e"/>
<circle cx="127.43" cy="400.92" r="1.12" fill="#c8102e"/>
<circle cx="41.62" cy="404.79" r="1.12" fill="#c8102e"/>
<circle cx="116.54" cy="396.87" r="1.12" fill="#c8102e"/>
<circle cx="76.58" cy="397.77" r="1.12" fill="#c8102e"/>
<circle cx="84.40" cy="402.20" r="1.12" fill="#c8102e"/>
<circle cx="134.96" cy="415.06" r="1.12" fill="#c8102e"/>
<circle cx="45.56" cy="404.92" r="1.12" fill="#c8102e"/>
<circle cx="132.86" cy="409.66" r="1.12" fill="#c8102e"/>
<circle cx="96.90" cy="397.97" r="1.12" fill="#c8102e"/>
<circle cx="99.09" cy="399.16" r="1.12" fill="#c8102e"/>
<circle cx="106.59" cy="394.40" r="1.12" fill="#c8102e"/>
<circle cx="109.39" cy="401.95" r="1.12" fill="#c8102e"/>
<circle cx="97.69" cy="398.21" r="1.12" fill="#c8102e"/>
<circle cx="132.80" cy="408.71" r="1.12" fill="#c8102e"/>
<circle cx="77.57" cy="397.12" r="1.12" fill="#c8102e"/>
<circle cx="95.63" cy="398.37" r="1.12" fill="#c8102e"/>
<circle cx="68.52" cy="397.04" r="1.12" fill="#c8102e"/>
<circle cx="92.03" cy="399.88" r="1.12" fill="#c8102e"/>
<circle cx="92.30" cy="394.65" r="1.12" fill="#c8102e"/>
<circle cx="48.95" cy="402.64" r="1.12" fill="#c8102e"/>
<circle cx="104.50" cy="396.95" r="1.12" fill="#c8102e"/>
<circle cx="127.85" cy="413.00" r="1.12" fill="#c8102e"/>
<circle cx="81.66" cy="398.43" r="1.12" fill="#c8102e"/>
<circle cx="90.62" cy="398.35" r="1.12" fill="#c8102e"/>
<circle cx="45.87" cy="403.21" r="1.12" fill="#c8102e"/>
<circle cx="88.92" cy="398.65" r="1.12" fill="#c8102e"/>
<circle cx="123.25" cy="406.60" r="1.12" fill="#c8102e"/>
<circle cx="69.54" cy="400.01" r="1.12" fill="#c8102e"/>
<circle cx="37.17" cy="406.60" r="1.12" fill="#c8102e"/>
<circle cx="85.96" cy="400.25" r="1.12" fill="#c8102e"/>
<circle cx="118.00" cy="397.94" r="1.12" fill="#c8102e"/>
<circle cx="121.60" cy="399.72" r="1.12" fill="#c8102e"/>
<circle cx="121.67" cy="401.66" r="1.12" fill="#c8102e"/>
<circle cx="61.04" cy="407.19" r="1.12" fill="#c8102e"/>
<circle cx="64.92" cy="398.18" r="1.12" fill="#c8102e"/>
<circle cx="78.08" cy="393.44" r="1.12" fill="#c8102e"/>
<circle cx="132.65" cy="418.18" r="1.12" fill="#c8102e"/>
<circle cx="48.75" cy="404.75" r="1.12" fill="#c8102e"/>
<circle cx="122.77" cy="399.24" r="1.12" fill="#c8102e"/>
<circle cx="120.65" cy="402.91" r="1.12" fill="#c8102e"/>
<circle cx="43.72" cy="405.32" r="1.12" fill="#c8102e"/>
<circle cx="122.10" cy="403.84" r="1.12" fill="#c8102e"/>
<circle cx="73.17" cy="401.18" r="1.12" fill="#c8102e"/>
<circle cx="118.22" cy="399.65" r="1.12" fill="#c8102e"/>
<circle cx="121.60" cy="397.77" r="1.12" fill="#c8102e"/>
<circle cx="64.08" cy="400.80" r="1.12" fill="#c8102e"/>
<circle cx="74.44" cy="396.84" r="1.12" fill="#c8102e"/>
<circle cx="99.76" cy="396.25" r="1.12" fill="#c8102e"/>
<circle cx="64.89" cy="405.72" r="1.12" fill="#c8102e"/>
<circle cx="53.05" cy="397.08" r="1.12" fill="#c8102e"/>
<circle cx="46.72" cy="402.89" r="1.12" fill="#c8102e"/>
<circle cx="44.18" cy="400.61" r="1.12" fill="#c8102e"/>
<circle cx="51.58" cy="402.87" r="1.12" fill="#c8102e"/>
<circle cx="38.18" cy="406.02" r="1.12" fill="#c8102e"/>
<circle cx="44.79" cy="404.75" r="1.12" fill="#c8102e"/>
<circle cx="39.99" cy="410.46" r="1.12" fill="#c8102e"/>
<circle cx="56.97" cy="401.63" r="1.12" fill="#c8102e"/>
<circle cx="37.75" cy="409.06" r="1.12" fill="#c8102e"/>
<circle cx="52.11" cy="406.99" r="1.12" fill="#c8102e"/>
<circle cx="118.70" cy="396.13" r="1.12" fill="#c8102e"/>
<circle cx="114.69" cy="399.63" r="1.12" fill="#c8102e"/>
<circle cx="73.48" cy="394.03" r="1.12" fill="#c8102e"/>
<circle cx="109.50" cy="395.11" r="1.12" fill="#c8102e"/>
<circle cx="119.01" cy="399.37" r="1.12" fill="#c8102e"/>
<circle cx="94.73" cy="401.70" r="1.12" fill="#c8102e"/>
<circle cx="70.12" cy="397.40" r="1.12" fill="#c8102e"/>
<circle cx="99.69" cy="394.67" r="1.12" fill="#c8102e"/>
<circle cx="39.90" cy="401.74" r="1.12" fill="#c8102e"/>
<circle cx="42.02" cy="406.19" r="1.12" fill="#c8102e"/>
<circle cx="126.14" cy="400.99" r="1.12" fill="#c8102e"/>
<circle cx="69.39" cy="400.13" r="1.12" fill="#c8102e"/>
<circle cx="44.14" cy="404.29" r="1.12" fill="#c8102e"/>
<circle cx="71.01" cy="396.64" r="1.12" fill="#c8102e"/>
<circle cx="44.88" cy="406.77" r="1.12" fill="#c8102e"/>
<circle cx="43.69" cy="403.37" r="1.12" fill="#c8102e"/>
<circle cx="61.47" cy="394.75" r="1.12" fill="#c8102e"/>
<circle cx="118.56" cy="403.30" r="1.12" fill="#c8102e"/>
<circle cx="110.63" cy="401.79" r="1.12" fill="#c8102e"/>
<circle cx="59.50" cy="395.64" r="1.12" fill="#c8102e"/>
<circle cx="63.27" cy="399.74" r="1.12" fill="#c8102e"/>
<circle cx="103.40" cy="398.95" r="1.12" fill="#c8102e"/>
<circle cx="51.69" cy="402.64" r="1.12" fill="#c8102e"/>
<circle cx="40.20" cy="400.80" r="1.12" fill="#c8102e"/>
<circle cx="121.07" cy="400.72" r="1.12" fill="#c8102e"/>
<circle cx="105.86" cy="394.13" r="1.12" fill="#c8102e"/>
<circle cx="99.21" cy="400.86" r="1.12" fill="#c8102e"/>
<circle cx="48.72" cy="402.04" r="1.12" fill="#c8102e"/>
<circle cx="52.34" cy="397.73" r="1.12" fill="#c8102e"/>
<circle cx="133.73" cy="411.08" r="1.12" fill="#c8102e"/>
<circle cx="120.01" cy="398.82" r="1.12" fill="#c8102e"/>
<circle cx="41.70" cy="404.59" r="1.12" fill="#c8102e"/>
<circle cx="125.30" cy="404.62" r="1.12" fill="#c8102e"/>
<circle cx="55.79" cy="404.61" r="1.12" fill="#c8102e"/>
<circle cx="130.88" cy="411.72" r="1.12" fill="#c8102e"/>
<circle cx="107.65" cy="397.37" r="1.12" fill="#c8102e"/>
<circle cx="110.52" cy="397.11" r="1.12" fill="#c8102e"/>
<circle cx="71.34" cy="396.97" r="1.12" fill="#c8102e"/>
<circle cx="42.60" cy="402.42" r="1.12" fill="#c8102e"/>
<circle cx="120.40" cy="405.71" r="1.12" fill="#c8102e"/>
<circle cx="84.54" cy="400.77" r="1.12" fill="#c8102e"/>
<circle cx="112.24" cy="397.52" r="1.12" fill="#c8102e"/>
<circle cx="71.34" cy="399.00" r="1.12" fill="#c8102e"/>
<circle cx="106.69" cy="392.48" r="1.12" fill="#c8102e"/>
<circle cx="101.62" cy="392.11" r="1.12" fill="#c8102e"/>
<circle cx="59.25" cy="400.99" r="1.12" fill="#c8102e"/>
<circle cx="108.47" cy="397.18" r="1.12" fill="#c8102e"/>
<circle cx="52.60" cy="402.55" r="1.12" fill="#c8102e"/>
<circle cx="58.65" cy="406.86" r="1.12" fill="#c8102e"/>
<circle cx="69.18" cy="395.50" r="1.12" fill="#c8102e"/>
<circle cx="47.42" cy="399.16" r="1.12" fill="#c8102e"/>
<circle cx="116.75" cy="403.42" r="1.12" fill="#c8102e"/>
<circle cx="106.94" cy="401.80" r="1.12" fill="#c8102e"/>
<circle cx="77.33" cy="395.20" r="1.12" fill="#c8102e"/>
<circle cx="56.95" cy="396.51" r="1.12" fill="#c8102e"/>
<circle cx="64.63" cy="400.09" r="1.12" fill="#c8102e"/>
<polyline points="35.60,407.40 36.87,406.81 38.13,406.26 39.40,405.73 40.67,405.25 41.93,404.79 43.20,404.36 44.47,403.95 45.73,403.57 47.00,403.22 48.26,402.88 49.53,402.56 50.80,402.27 52.06,401.99 53.33,401.72 54.60,401.47 55.86,401.23 57.13,401.01 58.40,400.80 59.66,400.59 60.93,400.40 62.20,400.21 63.46,400.03 64.73,399.86 65.99,399.70 67.26,399.54 68.53,399.39 69.79,399.24 71.06,399.10 72.33,398.96 73.59,398.83 74.86,398.70 76.13,398.57 77.39,398.45 78.66,398.34 79.93,398.22 81.19,398.12 82.46,398.02 83.73,397.92 84.99,397.84 86.26,397.75 87.52,397.68 88.79,397.62 90.06,397.56 91.32,397.51 92.59,397.48 93.86,397.45 95.12,397.44 96.39,397.44 97.66,397.46 98.92,397.50 100.19,397.55 101.46,397.62 102.72,397.71 103.99,397.83 105.26,397.97 106.52,398.13 107.79,398.32 109.05,398.55 110.32,398.80 111.59,399.08 112.85,399.41 114.12,399.76 115.39,400.16 116.65,400.60 117.92,401.09 119.19,401.62 120.45,402.20 121.72,402.83 122.99,403.52 124.25,404.26 125.52,405.07 126.78,405.94 128.05,406.87 129.32,407.87 130.58,408.95 131.85,410.10 133.12,411.32 134.38,412.63 135.65,414.03" fill="none" stroke="#b0122b" stroke-width="1.1"/>
<line x1="32.30" y1="391.70" x2="32.30" y2="424.55" stroke="#111" stroke-width="1.1"/>
<line x1="31.75" y1="424.00" x2="138.10" y2="424.00" stroke="#111" stroke-width="1.1"/>
<line x1="29.00" y1="396.80" x2="32.30" y2="396.80" stroke="#111" stroke-width="1.0"/>
<text x="27.10" y="399.75" font-size="8.2" text-anchor="end" fill="#111" stroke="#111" stroke-width="0.12" textLength="4.01" lengthAdjust="spacingAndGlyphs">2</text>
<line x1="29.00" y1="405.00" x2="32.30" y2="405.00" stroke="#111" stroke-width="1.0"/>
<text x="27.10" y="407.95" font-size="8.2" text-anchor="end" fill="#111" stroke="#111" stroke-width="0.12" textLength="4.01" lengthAdjust="spacingAndGlyphs">0</text>
<line x1="29.00" y1="413.20" x2="32.30" y2="413.20" stroke="#111" stroke-width="1.0"/>
<line x1="29.00" y1="421.40" x2="32.30" y2="421.40" stroke="#111" stroke-width="1.0"/>
<text x="27.10" y="424.35" font-size="8.2" text-anchor="end" fill="#111" stroke="#111" stroke-width="0.12" textLength="6.42" lengthAdjust="spacingAndGlyphs">-4</text>
<line x1="35.60" y1="424.00" x2="35.60" y2="427.30" stroke="#111" stroke-width="1.0"/>
<text x="35.60" y="436.50" font-size="8.0" text-anchor="middle" fill="#111" stroke="#111" stroke-width="0.12">0</text>
<line x1="57.35" y1="424.00" x2="57.35" y2="427.30" stroke="#111" stroke-width="1.0"/>
<text x="57.35" y="436.50" font-size="8.0" text-anchor="middle" fill="#111" stroke="#111" stroke-width="0.12">10</text>
<line x1="79.10" y1="424.00" x2="79.10" y2="427.30" stroke="#111" stroke-width="1.0"/>
<text x="79.10" y="436.50" font-size="8.0" text-anchor="middle" fill="#111" stroke="#111" stroke-width="0.12">20</text>
<line x1="100.85" y1="424.00" x2="100.85" y2="427.30" stroke="#111" stroke-width="1.0"/>
<text x="100.85" y="436.50" font-size="8.0" text-anchor="middle" fill="#111" stroke="#111" stroke-width="0.12">30</text>
<line x1="122.60" y1="424.00" x2="122.60" y2="427.30" stroke="#111" stroke-width="1.0"/>
<text x="122.60" y="436.50" font-size="8.0" text-anchor="middle" fill="#111" stroke="#111" stroke-width="0.12">40</text>
<text x="82.35" y="385.60" font-size="8.4" text-anchor="middle" fill="#111" stroke="#111" stroke-width="0.12" textLength="69.90" lengthAdjust="spacingAndGlyphs">Cdkn1c, Lineage 1</text>
<text x="13.00" y="407.90" font-size="9.2" text-anchor="middle" fill="#111" stroke="#111" stroke-width="0.12" textLength="35.80" lengthAdjust="spacingAndGlyphs" transform="rotate(-90 13.00 407.90)">Expression</text>
<text x="84.75" y="449.10" font-size="8.6" text-anchor="middle" fill="#111" stroke="#111" stroke-width="0.12" textLength="39.70" lengthAdjust="spacingAndGlyphs">Pseudotime</text>
<polygon points="160.50,406.11 161.76,405.87 163.03,405.64 164.29,405.41 165.55,405.18 166.81,404.94 168.08,404.71 169.34,404.48 170.60,404.25 171.86,404.01 173.13,403.78 174.39,403.55 175.65,403.32 176.91,403.08 178.18,402.85 179.44,402.62 180.70,402.39 181.97,402.15 183.23,401.92 184.49,401.69 185.75,401.46 187.02,401.22 188.28,400.99 189.54,400.76 190.80,400.52 192.07,400.29 193.33,400.06 194.59,399.83 195.85,399.59 197.12,399.36 198.38,399.13 199.64,398.90 200.91,398.66 202.17,398.43 203.43,398.20 204.69,397.97 205.96,397.73 207.22,397.50 208.48,397.27 209.74,397.53 211.01,397.96 212.27,398.40 213.53,398.83 214.79,399.26 216.06,399.69 217.32,400.12 218.58,400.56 219.84,400.99 221.11,401.42 222.37,401.85 223.63,402.28 224.90,402.71 226.16,403.15 227.42,403.58 228.68,404.01 229.95,404.44 231.21,404.87 232.47,405.31 233.73,405.74 235.00,406.17 236.26,406.60 237.52,407.03 238.78,407.46 240.05,407.90 241.31,408.33 242.57,408.76 243.84,409.19 245.10,409.62 246.36,410.06 247.62,410.49 248.89,410.92 250.15,411.35 251.41,411.78 252.67,412.21 253.94,412.65 255.20,413.08 256.46,413.51 257.72,413.94 258.99,414.37 260.25,414.81 260.25,420.61 258.99,420.10 257.72,419.59 256.46,419.07 255.20,418.56 253.94,418.04 252.67,417.53 251.41,417.02 250.15,416.50 248.89,415.99 247.62,415.47 246.36,414.96 245.10,414.45 243.84,413.93 242.57,413.42 241.31,412.90 240.05,412.39 238.78,411.88 237.52,411.36 236.26,410.85 235.00,410.33 233.73,409.82 232.47,409.31 231.21,408.79 229.95,408.28 228.68,407.76 227.42,407.25 226.16,406.74 224.90,406.22 223.63,405.71 222.37,405.19 221.11,404.68 219.84,404.17 218.58,403.65 217.32,403.14 216.06,402.62 214.79,402.11 213.53,401.60 212.27,401.08 211.01,400.57 209.74,400.05 208.48,399.73 207.22,399.96 205.96,400.19 204.69,400.43 203.43,400.66 202.17,400.89 200.91,401.12 199.64,401.36 198.38,401.59 197.12,401.82 195.85,402.05 194.59,402.29 193.33,402.52 192.07,402.75 190.80,402.98 189.54,403.22 188.28,403.45 187.02,403.68 185.75,403.92 184.49,404.15 183.23,404.38 181.97,404.61 180.70,404.85 179.44,405.08 178.18,405.31 176.91,405.54 175.65,405.78 174.39,406.01 173.13,406.24 171.86,406.47 170.60,406.71 169.34,406.94 168.08,407.17 166.81,407.40 165.55,407.64 164.29,407.87 163.03,408.10 161.76,408.33 160.50,408.57" fill="#f2b8c2" fill-opacity="0.85"/>
<polyline points="160.50,408.01 161.76,407.78 163.03,407.55 164.29,407.32 165.55,407.08 166.81,406.85 168.08,406.62 169.34,406.39 170.60,406.15 171.86,405.92 173.13,405.69 174.39,405.46 175.65,405.22 176.91,404.99 178.18,404.76 179.44,404.52 180.70,404.29 181.97,404.06 183.23,403.83 184.49,403.59 185.75,403.36 187.02,403.13 188.28,402.90 189.54,402.66 190.80,402.43 192.07,402.20 193.33,401.97 194.59,401.73 195.85,401.50 197.12,401.27 198.38,401.04 199.64,400.80 200.91,400.57 202.17,400.34 203.43,400.11 204.69,399.87 205.96,399.64 207.22,399.41 208.48,399.18 209.74,399.49 211.01,399.98 212.27,400.48 213.53,400.97 214.79,401.47 216.06,401.96 217.32,402.46 218.58,402.96 219.84,403.45 221.11,403.95 222.37,404.44 223.63,404.94 224.90,405.43 226.16,405.93 227.42,406.42 228.68,406.92 229.95,407.42 231.21,407.91 232.47,408.41 233.73,408.90 235.00,409.40 236.26,409.89 237.52,410.39 238.78,410.88 240.05,411.38 241.31,411.87 242.57,412.37 243.84,412.87 245.10,413.36 246.36,413.86 247.62,414.35 248.89,414.85 250.15,415.34 251.41,415.84 252.67,416.33 253.94,416.83 255.20,417.33 256.46,417.82 257.72,418.32 258.99,418.81 260.25,419.31" fill="none" stroke="#e58e9c" stroke-width="0.45"/>
<polyline points="160.50,406.66 161.76,406.43 163.03,406.20 164.29,405.96 165.55,405.73 166.81,405.50 168.08,405.26 169.34,405.03 170.60,404.80 171.86,404.57 173.13,404.33 174.39,404.10 175.65,403.87 176.91,403.64 178.18,403.40 179.44,403.17 180.70,402.94 181.97,402.71 183.23,402.47 184.49,402.24 185.75,402.01 187.02,401.78 188.28,401.54 189.54,401.31 190.80,401.08 192.07,400.85 193.33,400.61 194.59,400.38 195.85,400.15 197.12,399.92 198.38,399.68 199.64,399.45 200.91,399.22 202.17,398.99 203.43,398.75 204.69,398.52 205.96,398.29 207.22,398.05 208.48,397.82 209.74,398.10 211.01,398.55 212.27,399.00 213.53,399.45 214.79,399.90 216.06,400.35 217.32,400.80 218.58,401.25 219.84,401.70 221.11,402.15 222.37,402.60 223.63,403.05 224.90,403.50 226.16,403.95 227.42,404.40 228.68,404.85 229.95,405.31 231.21,405.76 232.47,406.21 233.73,406.66 235.00,407.11 236.26,407.56 237.52,408.01 238.78,408.46 240.05,408.91 241.31,409.36 242.57,409.81 243.84,410.26 245.10,410.71 246.36,411.16 247.62,411.61 248.89,412.06 250.15,412.51 251.41,412.96 252.67,413.41 253.94,413.86 255.20,414.31 256.46,414.76 257.72,415.21 258.99,415.66 260.25,416.11" fill="none" stroke="#e58e9c" stroke-width="0.45"/>
<circle cx="180.05" cy="407.13" r="1.12" fill="#c8102e"/>
<circle cx="202.70" cy="399.12" r="1.12" fill="#c8102e"/>
<circle cx="207.00" cy="396.37" r="1.12" fill="#c8102e"/>
<circle cx="200.34" cy="399.55" r="1.12" fill="#c8102e"/>
<circle cx="197.93" cy="400.67" r="1.12" fill="#c8102e"/>
<circle cx="176.92" cy="403.02" r="1.12" fill="#c8102e"/>
<circle cx="205.03" cy="399.71" r="1.12" fill="#c8102e"/>
<circle cx="179.88" cy="403.94" r="1.12" fill="#c8102e"/>
<circle cx="192.95" cy="400.47" r="1.12" fill="#c8102e"/>
<circle cx="185.32" cy="397.58" r="1.12" fill="#c8102e"/>
<circle cx="201.31" cy="396.00" r="1.12" fill="#c8102e"/>
<circle cx="206.13" cy="399.31" r="1.12" fill="#c8102e"/>
<circle cx="185.85" cy="405.46" r="1.12" fill="#c8102e"/>
<circle cx="160.56" cy="405.58" r="1.12" fill="#c8102e"/>
<circle cx="178.25" cy="403.11" r="1.12" fill="#c8102e"/>
<circle cx="167.00" cy="408.84" r="1.12" fill="#c8102e"/>
<circle cx="201.13" cy="405.10" r="1.12" fill="#c8102e"/>
<circle cx="160.72" cy="413.11" r="1.12" fill="#c8102e"/>
<circle cx="172.67" cy="406.66" r="1.12" fill="#c8102e"/>
<circle cx="184.45" cy="404.14" r="1.12" fill="#c8102e"/>
<circle cx="200.43" cy="401.11" r="1.12" fill="#c8102e"/>
<circle cx="172.90" cy="408.27" r="1.12" fill="#c8102e"/>
<circle cx="171.86" cy="409.43" r="1.12" fill="#c8102e"/>
<circle cx="186.52" cy="399.93" r="1.12" fill="#c8102e"/>
<circle cx="180.39" cy="403.61" r="1.12" fill="#c8102e"/>
<circle cx="207.40" cy="400.60" r="1.12" fill="#c8102e"/>
<circle cx="188.40" cy="405.13" r="1.12" fill="#c8102e"/>
<circle cx="179.95" cy="405.20" r="1.12" fill="#c8102e"/>
<circle cx="200.22" cy="396.54" r="1.12" fill="#c8102e"/>
<circle cx="167.22" cy="398.87" r="1.12" fill="#c8102e"/>
<circle cx="185.93" cy="399.92" r="1.12" fill="#c8102e"/>
<circle cx="192.87" cy="400.84" r="1.12" fill="#c8102e"/>
<circle cx="172.26" cy="405.85" r="1.12" fill="#c8102e"/>
<circle cx="167.03" cy="407.37" r="1.12" fill="#c8102e"/>
<circle cx="165.22" cy="404.18" r="1.12" fill="#c8102e"/>
<circle cx="176.87" cy="400.40" r="1.12" fill="#c8102e"/>
<circle cx="183.08" cy="405.38" r="1.12" fill="#c8102e"/>
<circle cx="201.49" cy="403.08" r="1.12" fill="#c8102e"/>
<circle cx="167.48" cy="406.52" r="1.12" fill="#c8102e"/>
<circle cx="204.10" cy="400.73" r="1.12" fill="#c8102e"/>
<circle cx="206.09" cy="403.18" r="1.12" fill="#c8102e"/>
<circle cx="167.91" cy="409.61" r="1.12" fill="#c8102e"/>
<circle cx="197.16" cy="401.22" r="1.12" fill="#c8102e"/>
<circle cx="162.64" cy="405.35" r="1.12" fill="#c8102e"/>
<circle cx="198.81" cy="395.40" r="1.12" fill="#c8102e"/>
<circle cx="194.23" cy="405.28" r="1.12" fill="#c8102e"/>
<circle cx="187.38" cy="403.16" r="1.12" fill="#c8102e"/>
<circle cx="198.48" cy="408.12" r="1.12" fill="#c8102e"/>
<circle cx="187.94" cy="399.16" r="1.12" fill="#c8102e"/>
<circle cx="208.02" cy="397.07" r="1.12" fill="#c8102e"/>
<circle cx="198.74" cy="401.31" r="1.12" fill="#c8102e"/>
<circle cx="206.75" cy="398.35" r="1.12" fill="#c8102e"/>
<circle cx="160.72" cy="408.47" r="1.12" fill="#c8102e"/>
<circle cx="192.75" cy="402.32" r="1.12" fill="#c8102e"/>
<circle cx="202.37" cy="398.12" r="1.12" fill="#c8102e"/>
<circle cx="183.27" cy="401.43" r="1.12" fill="#c8102e"/>
<circle cx="168.01" cy="408.57" r="1.12" fill="#c8102e"/>
<circle cx="205.93" cy="401.17" r="1.12" fill="#c8102e"/>
<circle cx="184.68" cy="404.30" r="1.12" fill="#c8102e"/>
<circle cx="175.84" cy="404.42" r="1.12" fill="#c8102e"/>
<circle cx="161.12" cy="404.91" r="1.12" fill="#c8102e"/>
<circle cx="191.90" cy="403.23" r="1.12" fill="#c8102e"/>
<circle cx="198.05" cy="397.80" r="1.12" fill="#c8102e"/>
<circle cx="188.77" cy="402.04" r="1.12" fill="#c8102e"/>
<circle cx="194.64" cy="404.30" r="1.12" fill="#c8102e"/>
<circle cx="164.32" cy="411.98" r="1.12" fill="#c8102e"/>
<circle cx="200.03" cy="394.05" r="1.12" fill="#c8102e"/>
<circle cx="191.71" cy="405.00" r="1.12" fill="#c8102e"/>
<circle cx="161.98" cy="408.89" r="1.12" fill="#c8102e"/>
<circle cx="163.02" cy="412.62" r="1.12" fill="#c8102e"/>
<circle cx="161.18" cy="392.87" r="1.12" fill="#c8102e"/>
<circle cx="196.66" cy="401.09" r="1.12" fill="#c8102e"/>
<circle cx="183.10" cy="395.75" r="1.12" fill="#c8102e"/>
<circle cx="206.25" cy="401.12" r="1.12" fill="#c8102e"/>
<circle cx="190.12" cy="398.61" r="1.12" fill="#c8102e"/>
<circle cx="191.81" cy="402.85" r="1.12" fill="#c8102e"/>
<circle cx="168.78" cy="408.00" r="1.12" fill="#c8102e"/>
<circle cx="198.65" cy="403.00" r="1.12" fill="#c8102e"/>
<circle cx="174.11" cy="403.12" r="1.12" fill="#c8102e"/>
<circle cx="195.85" cy="399.14" r="1.12" fill="#c8102e"/>
<circle cx="175.73" cy="409.30" r="1.12" fill="#c8102e"/>
<circle cx="167.24" cy="404.79" r="1.12" fill="#c8102e"/>
<circle cx="182.48" cy="400.56" r="1.12" fill="#c8102e"/>
<circle cx="175.35" cy="407.03" r="1.12" fill="#c8102e"/>
<circle cx="206.87" cy="400.74" r="1.12" fill="#c8102e"/>
<circle cx="180.32" cy="408.95" r="1.12" fill="#c8102e"/>
<circle cx="180.17" cy="405.53" r="1.12" fill="#c8102e"/>
<circle cx="178.31" cy="401.84" r="1.12" fill="#c8102e"/>
<circle cx="173.31" cy="409.23" r="1.12" fill="#c8102e"/>
<circle cx="180.37" cy="397.71" r="1.12" fill="#c8102e"/>
<circle cx="177.34" cy="399.80" r="1.12" fill="#c8102e"/>
<circle cx="170.98" cy="403.90" r="1.12" fill="#c8102e"/>
<circle cx="207.23" cy="402.47" r="1.12" fill="#c8102e"/>
<circle cx="164.56" cy="407.95" r="1.12" fill="#c8102e"/>
<circle cx="191.59" cy="402.78" r="1.12" fill="#c8102e"/>
<circle cx="196.70" cy="408.62" r="1.12" fill="#c8102e"/>
<circle cx="169.68" cy="403.12" r="1.12" fill="#c8102e"/>
<circle cx="208.38" cy="401.41" r="1.12" fill="#c8102e"/>
<circle cx="170.36" cy="405.52" r="1.12" fill="#c8102e"/>
<circle cx="196.57" cy="402.46" r="1.12" fill="#c8102e"/>
<circle cx="250.13" cy="417.67" r="1.12" fill="#c8102e"/>
<circle cx="258.65" cy="407.89" r="1.12" fill="#c8102e"/>
<circle cx="253.99" cy="411.37" r="1.12" fill="#c8102e"/>
<circle cx="246.73" cy="406.75" r="1.12" fill="#c8102e"/>
<circle cx="259.16" cy="423.38" r="1.12" fill="#c8102e"/>
<circle cx="254.47" cy="416.64" r="1.12" fill="#c8102e"/>
<circle cx="253.66" cy="416.22" r="1.12" fill="#c8102e"/>
<circle cx="250.84" cy="416.67" r="1.12" fill="#c8102e"/>
<circle cx="250.35" cy="411.76" r="1.12" fill="#c8102e"/>
<circle cx="257.16" cy="415.85" r="1.12" fill="#c8102e"/>
<circle cx="252.67" cy="410.07" r="1.12" fill="#c8102e"/>
<circle cx="251.78" cy="413.81" r="1.12" fill="#c8102e"/>
<circle cx="257.61" cy="415.50" r="1.12" fill="#c8102e"/>
<circle cx="249.47" cy="421.78" r="1.12" fill="#c8102e"/>
<circle cx="248.78" cy="412.93" r="1.12" fill="#c8102e"/>
<circle cx="254.73" cy="417.56" r="1.12" fill="#c8102e"/>
<circle cx="261.28" cy="415.51" r="1.12" fill="#c8102e"/>
<circle cx="259.10" cy="418.80" r="1.12" fill="#c8102e"/>
<circle cx="251.97" cy="414.12" r="1.12" fill="#c8102e"/>
<circle cx="250.12" cy="413.61" r="1.12" fill="#c8102e"/>
<circle cx="259.19" cy="412.73" r="1.12" fill="#c8102e"/>
<circle cx="258.45" cy="420.34" r="1.12" fill="#c8102e"/>
<circle cx="253.80" cy="408.54" r="1.12" fill="#c8102e"/>
<circle cx="247.65" cy="409.18" r="1.12" fill="#c8102e"/>
<circle cx="258.81" cy="405.31" r="1.12" fill="#c8102e"/>
<circle cx="252.52" cy="409.92" r="1.12" fill="#c8102e"/>
<polyline points="160.50,407.34 161.76,407.10 163.03,406.87 164.29,406.64 165.55,406.41 166.81,406.17 168.08,405.94 169.34,405.71 170.60,405.48 171.86,405.24 173.13,405.01 174.39,404.78 175.65,404.55 176.91,404.31 178.18,404.08 179.44,403.85 180.70,403.62 181.97,403.38 183.23,403.15 184.49,402.92 185.75,402.69 187.02,402.45 188.28,402.22 189.54,401.99 190.80,401.75 192.07,401.52 193.33,401.29 194.59,401.06 195.85,400.82 197.12,400.59 198.38,400.36 199.64,400.13 200.91,399.89 202.17,399.66 203.43,399.43 204.69,399.20 205.96,398.96 207.22,398.73 208.48,398.50 209.74,398.79 211.01,399.27 212.27,399.74 213.53,400.21 214.79,400.69 216.06,401.16 217.32,401.63 218.58,402.10 219.84,402.58 221.11,403.05 222.37,403.52 223.63,404.00 224.90,404.47 226.16,404.94 227.42,405.41 228.68,405.89 229.95,406.36 231.21,406.83 232.47,407.31 233.73,407.78 235.00,408.25 236.26,408.72 237.52,409.20 238.78,409.67 240.05,410.14 241.31,410.62 242.57,411.09 243.84,411.56 245.10,412.04 246.36,412.51 247.62,412.98 248.89,413.45 250.15,413.93 251.41,414.40 252.67,414.87 253.94,415.35 255.20,415.82 256.46,416.29 257.72,416.76 258.99,417.24 260.25,417.71" fill="none" stroke="#b0122b" stroke-width="1.1"/>
<line x1="157.60" y1="392.00" x2="157.60" y2="424.55" stroke="#111" stroke-width="1.1"/>
<line x1="157.05" y1="424.00" x2="263.60" y2="424.00" stroke="#111" stroke-width="1.1"/>
<line x1="154.30" y1="396.80" x2="157.60" y2="396.80" stroke="#111" stroke-width="1.0"/>
<text x="152.40" y="399.75" font-size="8.2" text-anchor="end" fill="#111" stroke="#111" stroke-width="0.12" textLength="4.01" lengthAdjust="spacingAndGlyphs">2</text>
<line x1="154.30" y1="405.00" x2="157.60" y2="405.00" stroke="#111" stroke-width="1.0"/>
<text x="152.40" y="407.95" font-size="8.2" text-anchor="end" fill="#111" stroke="#111" stroke-width="0.12" textLength="4.01" lengthAdjust="spacingAndGlyphs">0</text>
<line x1="154.30" y1="413.20" x2="157.60" y2="413.20" stroke="#111" stroke-width="1.0"/>
<line x1="154.30" y1="421.40" x2="157.60" y2="421.40" stroke="#111" stroke-width="1.0"/>
<text x="152.40" y="424.35" font-size="8.2" text-anchor="end" fill="#111" stroke="#111" stroke-width="0.12" textLength="6.42" lengthAdjust="spacingAndGlyphs">-4</text>
<line x1="160.50" y1="424.00" x2="160.50" y2="427.30" stroke="#111" stroke-width="1.0"/>
<text x="160.50" y="436.50" font-size="8.0" text-anchor="middle" fill="#111" stroke="#111" stroke-width="0.12">0</text>
<line x1="181.50" y1="424.00" x2="181.50" y2="427.30" stroke="#111" stroke-width="1.0"/>
<text x="181.50" y="436.50" font-size="8.0" text-anchor="middle" fill="#111" stroke="#111" stroke-width="0.12">10</text>
<line x1="202.50" y1="424.00" x2="202.50" y2="427.30" stroke="#111" stroke-width="1.0"/>
<text x="202.50" y="436.50" font-size="8.0" text-anchor="middle" fill="#111" stroke="#111" stroke-width="0.12">20</text>
<line x1="223.50" y1="424.00" x2="223.50" y2="427.30" stroke="#111" stroke-width="1.0"/>
<text x="223.50" y="436.50" font-size="8.0" text-anchor="middle" fill="#111" stroke="#111" stroke-width="0.12">30</text>
<line x1="244.50" y1="424.00" x2="244.50" y2="427.30" stroke="#111" stroke-width="1.0"/>
<text x="244.50" y="436.50" font-size="8.0" text-anchor="middle" fill="#111" stroke="#111" stroke-width="0.12">40</text>
<text x="210.00" y="386.00" font-size="8.4" text-anchor="middle" fill="#111" stroke="#111" stroke-width="0.12" textLength="71.00" lengthAdjust="spacingAndGlyphs">Cdkn1c, Lineage 2</text>
<text x="210.40" y="449.10" font-size="8.6" text-anchor="middle" fill="#111" stroke="#111" stroke-width="0.12" textLength="38.20" lengthAdjust="spacingAndGlyphs">Pseudotime</text>
<text x="251.50" y="120.90" font-size="12" text-anchor="start" fill="#000" stroke="#000" stroke-width="0.12" font-weight="bold">C</text>
<text x="7.40" y="207.30" font-size="12" text-anchor="start" fill="#000" stroke="#000" stroke-width="0.12" font-weight="bold">D</text>
<text x="272.70" y="206.90" font-size="12" text-anchor="start" fill="#000" stroke="#000" stroke-width="0.12" font-weight="bold">E</text>
<text x="7.70" y="283.50" font-size="12" text-anchor="start" fill="#000" stroke="#000" stroke-width="0.12" font-weight="bold">F</text>
<text x="271.80" y="283.50" font-size="12" text-anchor="start" fill="#000" stroke="#000" stroke-width="0.12" font-weight="bold">G</text>
<text x="7.70" y="356.20" font-size="12" text-anchor="start" fill="#000" stroke="#000" stroke-width="0.12" font-weight="bold">H</text>
</svg>
<div class="bd" style="left:0;top:0;width:520px;height:1px"></div>
<div class="bd" style="left:0;top:0;width:1px;height:698px"></div>
<div class="bd" style="left:518.5px;top:0;width:1.5px;height:698px"></div>
<div class="bd" style="left:0;top:696.5px;width:520px;height:1.5px"></div>
</body></html>
